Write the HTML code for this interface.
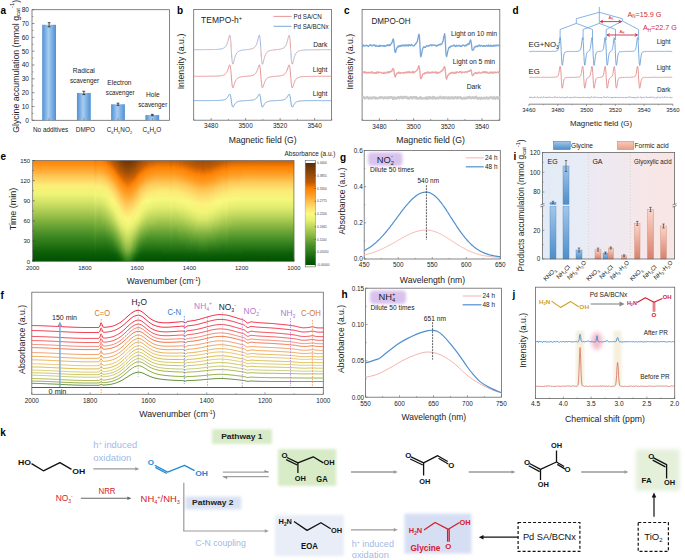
<!DOCTYPE html>
<html><head><meta charset="utf-8"><style>
html,body{margin:0;padding:0;background:#fff;}
svg{display:block;font-family:"Liberation Sans",sans-serif;}
</style></head><body>
<svg width="685" height="560" viewBox="0 0 685 560">
<defs>
<linearGradient id="gA" x1="0" x2="1" y1="0" y2="0">
<stop offset="0" stop-color="#4f8fd6"/><stop offset="0.45" stop-color="#a8cdf0"/><stop offset="1" stop-color="#4f8fd6"/>
</linearGradient>
<filter id="blur1" x="-50%" y="-50%" width="200%" height="200%"><feGaussianBlur stdDeviation="1.6"/></filter>
<filter id="blur2" x="-80%" y="-80%" width="260%" height="260%"><feGaussianBlur stdDeviation="2.2"/></filter>
<filter id="blur05" x="-50%" y="-50%" width="200%" height="200%"><feGaussianBlur stdDeviation="0.8"/></filter>
<linearGradient id="ibg1" x1="0" x2="1"><stop offset="0" stop-color="#e2ebf6"/><stop offset="1" stop-color="#e9ecf5"/></linearGradient>
<linearGradient id="ibg2" x1="0" x2="1"><stop offset="0" stop-color="#ece9f3"/><stop offset="1" stop-color="#f2e8ee"/></linearGradient>
<linearGradient id="ibg3" x1="0" x2="1"><stop offset="0" stop-color="#f5e7ea"/><stop offset="1" stop-color="#f8e6e4"/></linearGradient>
<linearGradient id="ibb" x1="0" x2="0" y1="0" y2="1"><stop offset="0" stop-color="#a2c6ea"/><stop offset="1" stop-color="#4e8ec8"/></linearGradient>
<linearGradient id="ibp" x1="0" x2="0" y1="0" y2="1"><stop offset="0" stop-color="#fbd6c8"/><stop offset="1" stop-color="#d8806c"/></linearGradient>
<linearGradient id="ibp2" x1="0" x2="0" y1="0" y2="1"><stop offset="0" stop-color="#f8c8b8"/><stop offset="1" stop-color="#e8a088"/></linearGradient>
<linearGradient id="h0" x2="0" y2="1"><stop offset="0" stop-color="#ff8001"/><stop offset="0.08" stop-color="#ffa129"/><stop offset="0.17" stop-color="#fecc5c"/><stop offset="0.25" stop-color="#fbef79"/><stop offset="0.33" stop-color="#eff476"/><stop offset="0.41" stop-color="#d3e368"/><stop offset="0.5" stop-color="#aecd55"/><stop offset="0.58" stop-color="#8ab742"/><stop offset="0.66" stop-color="#65a134"/><stop offset="0.74" stop-color="#428b25"/><stop offset="0.83" stop-color="#277516"/><stop offset="0.91" stop-color="#0e6008"/><stop offset="0.93" stop-color="#0a5c06"/><stop offset="0.96" stop-color="#065704"/><stop offset="0.98" stop-color="#035402"/><stop offset="1" stop-color="#005000"/></linearGradient><linearGradient id="h1" x2="0" y2="1"><stop offset="0" stop-color="#ff8001"/><stop offset="0.08" stop-color="#ffa129"/><stop offset="0.17" stop-color="#fecc5c"/><stop offset="0.25" stop-color="#fbef79"/><stop offset="0.33" stop-color="#eff476"/><stop offset="0.41" stop-color="#d3e468"/><stop offset="0.5" stop-color="#aecd55"/><stop offset="0.58" stop-color="#8ab842"/><stop offset="0.66" stop-color="#65a134"/><stop offset="0.74" stop-color="#428b25"/><stop offset="0.83" stop-color="#277516"/><stop offset="0.91" stop-color="#0e6008"/><stop offset="0.93" stop-color="#0a5c06"/><stop offset="0.96" stop-color="#065704"/><stop offset="0.98" stop-color="#035402"/><stop offset="1" stop-color="#005000"/></linearGradient><linearGradient id="h2" x2="0" y2="1"><stop offset="0" stop-color="#ff8000"/><stop offset="0.08" stop-color="#ffa129"/><stop offset="0.17" stop-color="#fecc5c"/><stop offset="0.25" stop-color="#fbef79"/><stop offset="0.33" stop-color="#eff476"/><stop offset="0.41" stop-color="#d3e468"/><stop offset="0.5" stop-color="#aecd55"/><stop offset="0.58" stop-color="#8ab842"/><stop offset="0.66" stop-color="#65a134"/><stop offset="0.74" stop-color="#428b25"/><stop offset="0.83" stop-color="#277516"/><stop offset="0.91" stop-color="#0e6008"/><stop offset="0.93" stop-color="#0a5c06"/><stop offset="0.96" stop-color="#065704"/><stop offset="0.98" stop-color="#035402"/><stop offset="1" stop-color="#005000"/></linearGradient><linearGradient id="h3" x2="0" y2="1"><stop offset="0" stop-color="#ff8000"/><stop offset="0.08" stop-color="#ffa129"/><stop offset="0.17" stop-color="#fecc5c"/><stop offset="0.25" stop-color="#fbef79"/><stop offset="0.33" stop-color="#eff476"/><stop offset="0.41" stop-color="#d3e368"/><stop offset="0.5" stop-color="#aecd55"/><stop offset="0.58" stop-color="#8ab842"/><stop offset="0.66" stop-color="#65a134"/><stop offset="0.74" stop-color="#428b25"/><stop offset="0.83" stop-color="#277516"/><stop offset="0.91" stop-color="#0e6008"/><stop offset="0.93" stop-color="#0a5c06"/><stop offset="0.96" stop-color="#065704"/><stop offset="0.98" stop-color="#035402"/><stop offset="1" stop-color="#005000"/></linearGradient><linearGradient id="h4" x2="0" y2="1"><stop offset="0" stop-color="#ff8000"/><stop offset="0.08" stop-color="#ffa129"/><stop offset="0.17" stop-color="#fecc5c"/><stop offset="0.25" stop-color="#fbef79"/><stop offset="0.33" stop-color="#eff476"/><stop offset="0.41" stop-color="#d3e368"/><stop offset="0.5" stop-color="#afce56"/><stop offset="0.58" stop-color="#8ab842"/><stop offset="0.66" stop-color="#65a134"/><stop offset="0.74" stop-color="#428b25"/><stop offset="0.83" stop-color="#277516"/><stop offset="0.91" stop-color="#0e6008"/><stop offset="0.93" stop-color="#0a5c06"/><stop offset="0.96" stop-color="#065704"/><stop offset="0.98" stop-color="#035402"/><stop offset="1" stop-color="#005000"/></linearGradient><linearGradient id="h5" x2="0" y2="1"><stop offset="0" stop-color="#ff8000"/><stop offset="0.08" stop-color="#ffa129"/><stop offset="0.17" stop-color="#fecc5c"/><stop offset="0.25" stop-color="#fbef79"/><stop offset="0.33" stop-color="#eff476"/><stop offset="0.41" stop-color="#d3e468"/><stop offset="0.5" stop-color="#afce56"/><stop offset="0.58" stop-color="#8ab842"/><stop offset="0.66" stop-color="#65a134"/><stop offset="0.74" stop-color="#428b25"/><stop offset="0.83" stop-color="#277516"/><stop offset="0.91" stop-color="#0e6008"/><stop offset="0.93" stop-color="#0a5c06"/><stop offset="0.96" stop-color="#065704"/><stop offset="0.98" stop-color="#035402"/><stop offset="1" stop-color="#005000"/></linearGradient><linearGradient id="h6" x2="0" y2="1"><stop offset="0" stop-color="#ff8000"/><stop offset="0.08" stop-color="#ffa129"/><stop offset="0.17" stop-color="#fecc5c"/><stop offset="0.25" stop-color="#fbef79"/><stop offset="0.33" stop-color="#eff476"/><stop offset="0.41" stop-color="#d3e468"/><stop offset="0.5" stop-color="#afce56"/><stop offset="0.58" stop-color="#8ab842"/><stop offset="0.66" stop-color="#65a134"/><stop offset="0.74" stop-color="#428b25"/><stop offset="0.83" stop-color="#277516"/><stop offset="0.91" stop-color="#0e6008"/><stop offset="0.93" stop-color="#0a5c06"/><stop offset="0.96" stop-color="#065704"/><stop offset="0.98" stop-color="#035402"/><stop offset="1" stop-color="#005000"/></linearGradient><linearGradient id="h7" x2="0" y2="1"><stop offset="0" stop-color="#ff8000"/><stop offset="0.08" stop-color="#ffa129"/><stop offset="0.17" stop-color="#fecc5c"/><stop offset="0.25" stop-color="#fbef79"/><stop offset="0.33" stop-color="#eff476"/><stop offset="0.41" stop-color="#d4e468"/><stop offset="0.5" stop-color="#afce56"/><stop offset="0.58" stop-color="#8ab842"/><stop offset="0.66" stop-color="#65a234"/><stop offset="0.75" stop-color="#428b25"/><stop offset="0.83" stop-color="#277516"/><stop offset="0.91" stop-color="#0e6008"/><stop offset="0.93" stop-color="#0a5c06"/><stop offset="0.96" stop-color="#065704"/><stop offset="0.98" stop-color="#035402"/><stop offset="1" stop-color="#005000"/></linearGradient><linearGradient id="h8" x2="0" y2="1"><stop offset="0" stop-color="#ff8000"/><stop offset="0" stop-color="#ff8000"/><stop offset="0.08" stop-color="#ffa129"/><stop offset="0.17" stop-color="#fecc5c"/><stop offset="0.25" stop-color="#fbef79"/><stop offset="0.33" stop-color="#eff476"/><stop offset="0.41" stop-color="#d4e468"/><stop offset="0.5" stop-color="#afce56"/><stop offset="0.58" stop-color="#8bb843"/><stop offset="0.66" stop-color="#65a134"/><stop offset="0.75" stop-color="#428b25"/><stop offset="0.83" stop-color="#277516"/><stop offset="0.91" stop-color="#0e6008"/><stop offset="0.93" stop-color="#0a5c06"/><stop offset="0.96" stop-color="#065704"/><stop offset="0.98" stop-color="#035402"/><stop offset="1" stop-color="#005000"/></linearGradient><linearGradient id="h9" x2="0" y2="1"><stop offset="0" stop-color="#fb7e00"/><stop offset="0.01" stop-color="#ff8000"/><stop offset="0.09" stop-color="#ffa22a"/><stop offset="0.17" stop-color="#fecc5c"/><stop offset="0.25" stop-color="#fbef79"/><stop offset="0.34" stop-color="#f0f477"/><stop offset="0.42" stop-color="#d4e468"/><stop offset="0.5" stop-color="#b0ce56"/><stop offset="0.58" stop-color="#8bb843"/><stop offset="0.67" stop-color="#66a234"/><stop offset="0.75" stop-color="#438c25"/><stop offset="0.83" stop-color="#287617"/><stop offset="0.91" stop-color="#0e6008"/><stop offset="0.93" stop-color="#0b5c06"/><stop offset="0.96" stop-color="#065704"/><stop offset="0.98" stop-color="#035402"/><stop offset="1" stop-color="#005000"/></linearGradient><linearGradient id="h10" x2="0" y2="1"><stop offset="0" stop-color="#ea7401"/><stop offset="0.03" stop-color="#ff8102"/><stop offset="0.11" stop-color="#ffa32b"/><stop offset="0.19" stop-color="#fecd5d"/><stop offset="0.27" stop-color="#fbef79"/><stop offset="0.35" stop-color="#f1f578"/><stop offset="0.43" stop-color="#d8e76a"/><stop offset="0.51" stop-color="#b5d159"/><stop offset="0.59" stop-color="#91bc45"/><stop offset="0.68" stop-color="#6ba536"/><stop offset="0.76" stop-color="#489028"/><stop offset="0.84" stop-color="#2b7918"/><stop offset="0.92" stop-color="#0e6008"/><stop offset="0.93" stop-color="#0c5d07"/><stop offset="0.96" stop-color="#075804"/><stop offset="0.98" stop-color="#045402"/><stop offset="1" stop-color="#005000"/></linearGradient><linearGradient id="h11" x2="0" y2="1"><stop offset="0" stop-color="#f47a01"/><stop offset="0.01" stop-color="#ff8101"/><stop offset="0.1" stop-color="#ffa22a"/><stop offset="0.18" stop-color="#fecd5d"/><stop offset="0.26" stop-color="#fbef79"/><stop offset="0.34" stop-color="#f0f577"/><stop offset="0.42" stop-color="#d6e569"/><stop offset="0.51" stop-color="#b2d058"/><stop offset="0.59" stop-color="#8eba44"/><stop offset="0.67" stop-color="#68a335"/><stop offset="0.75" stop-color="#448d26"/><stop offset="0.83" stop-color="#297717"/><stop offset="0.92" stop-color="#0e6008"/><stop offset="0.93" stop-color="#0b5c06"/><stop offset="0.96" stop-color="#075704"/><stop offset="0.98" stop-color="#035402"/><stop offset="1" stop-color="#005000"/></linearGradient><linearGradient id="h12" x2="0" y2="1"><stop offset="0" stop-color="#fb7e00"/><stop offset="0.01" stop-color="#ff8000"/><stop offset="0.09" stop-color="#ffa229"/><stop offset="0.17" stop-color="#fecc5c"/><stop offset="0.25" stop-color="#fbef79"/><stop offset="0.34" stop-color="#f0f477"/><stop offset="0.42" stop-color="#d4e468"/><stop offset="0.5" stop-color="#b0cf57"/><stop offset="0.58" stop-color="#8cb943"/><stop offset="0.67" stop-color="#66a234"/><stop offset="0.75" stop-color="#428b25"/><stop offset="0.83" stop-color="#277516"/><stop offset="0.91" stop-color="#0e6008"/><stop offset="0.93" stop-color="#0a5c06"/><stop offset="0.96" stop-color="#065704"/><stop offset="0.98" stop-color="#035402"/><stop offset="1" stop-color="#005000"/></linearGradient><linearGradient id="h13" x2="0" y2="1"><stop offset="0" stop-color="#fa7d00"/><stop offset="0.01" stop-color="#ff8001"/><stop offset="0.09" stop-color="#ffa22a"/><stop offset="0.17" stop-color="#fecc5c"/><stop offset="0.25" stop-color="#fbef79"/><stop offset="0.34" stop-color="#f0f477"/><stop offset="0.42" stop-color="#d5e568"/><stop offset="0.5" stop-color="#b1cf57"/><stop offset="0.58" stop-color="#8cb943"/><stop offset="0.67" stop-color="#66a234"/><stop offset="0.75" stop-color="#428b25"/><stop offset="0.83" stop-color="#277516"/><stop offset="0.91" stop-color="#0e6008"/><stop offset="0.93" stop-color="#0a5c06"/><stop offset="0.96" stop-color="#065704"/><stop offset="0.98" stop-color="#035402"/><stop offset="1" stop-color="#005000"/></linearGradient><linearGradient id="h14" x2="0" y2="1"><stop offset="0" stop-color="#f87c00"/><stop offset="0.01" stop-color="#ff8101"/><stop offset="0.09" stop-color="#ffa22a"/><stop offset="0.17" stop-color="#fecc5c"/><stop offset="0.26" stop-color="#fbef79"/><stop offset="0.34" stop-color="#f0f477"/><stop offset="0.42" stop-color="#d5e569"/><stop offset="0.5" stop-color="#b1cf57"/><stop offset="0.58" stop-color="#8db944"/><stop offset="0.67" stop-color="#66a234"/><stop offset="0.75" stop-color="#428b25"/><stop offset="0.83" stop-color="#277516"/><stop offset="0.91" stop-color="#0e6008"/><stop offset="0.93" stop-color="#0a5c06"/><stop offset="0.96" stop-color="#065704"/><stop offset="0.98" stop-color="#035402"/><stop offset="1" stop-color="#005000"/></linearGradient><linearGradient id="h15" x2="0" y2="1"><stop offset="0" stop-color="#f67b01"/><stop offset="0.01" stop-color="#ff8101"/><stop offset="0.09" stop-color="#ffa22a"/><stop offset="0.17" stop-color="#fecc5c"/><stop offset="0.26" stop-color="#fbef79"/><stop offset="0.34" stop-color="#f0f577"/><stop offset="0.42" stop-color="#d6e569"/><stop offset="0.5" stop-color="#b2cf57"/><stop offset="0.58" stop-color="#8eba44"/><stop offset="0.67" stop-color="#67a234"/><stop offset="0.75" stop-color="#428b25"/><stop offset="0.83" stop-color="#277516"/><stop offset="0.91" stop-color="#0e6008"/><stop offset="0.93" stop-color="#0a5c06"/><stop offset="0.96" stop-color="#065704"/><stop offset="0.98" stop-color="#035402"/><stop offset="1" stop-color="#005000"/></linearGradient><linearGradient id="h16" x2="0" y2="1"><stop offset="0" stop-color="#f47901"/><stop offset="0.01" stop-color="#ff8101"/><stop offset="0.1" stop-color="#ffa22a"/><stop offset="0.18" stop-color="#fecc5c"/><stop offset="0.26" stop-color="#fbef79"/><stop offset="0.34" stop-color="#f1f578"/><stop offset="0.42" stop-color="#d7e669"/><stop offset="0.5" stop-color="#b3d058"/><stop offset="0.58" stop-color="#8fbb44"/><stop offset="0.67" stop-color="#67a335"/><stop offset="0.75" stop-color="#428b25"/><stop offset="0.83" stop-color="#277516"/><stop offset="0.91" stop-color="#0e6008"/><stop offset="0.93" stop-color="#0a5c06"/><stop offset="0.96" stop-color="#065704"/><stop offset="0.98" stop-color="#035402"/><stop offset="1" stop-color="#005000"/></linearGradient><linearGradient id="h17" x2="0" y2="1"><stop offset="0" stop-color="#f17801"/><stop offset="0.02" stop-color="#ff8101"/><stop offset="0.1" stop-color="#ffa22a"/><stop offset="0.18" stop-color="#fecc5c"/><stop offset="0.26" stop-color="#fbee79"/><stop offset="0.34" stop-color="#f1f578"/><stop offset="0.42" stop-color="#d8e66a"/><stop offset="0.51" stop-color="#b4d159"/><stop offset="0.59" stop-color="#90bb45"/><stop offset="0.67" stop-color="#68a335"/><stop offset="0.75" stop-color="#428b25"/><stop offset="0.83" stop-color="#277516"/><stop offset="0.91" stop-color="#0e6008"/><stop offset="0.93" stop-color="#0a5c06"/><stop offset="0.96" stop-color="#065704"/><stop offset="0.98" stop-color="#035402"/><stop offset="1" stop-color="#005000"/></linearGradient><linearGradient id="h18" x2="0" y2="1"><stop offset="0" stop-color="#ee7601"/><stop offset="0.02" stop-color="#ff8101"/><stop offset="0.1" stop-color="#ffa22a"/><stop offset="0.18" stop-color="#fecc5c"/><stop offset="0.27" stop-color="#fbee79"/><stop offset="0.35" stop-color="#f1f578"/><stop offset="0.43" stop-color="#d9e76a"/><stop offset="0.51" stop-color="#b5d25a"/><stop offset="0.59" stop-color="#91bc45"/><stop offset="0.67" stop-color="#69a435"/><stop offset="0.75" stop-color="#438c25"/><stop offset="0.83" stop-color="#267516"/><stop offset="0.91" stop-color="#0e6008"/><stop offset="0.93" stop-color="#0a5c06"/><stop offset="0.96" stop-color="#065704"/><stop offset="0.98" stop-color="#035402"/><stop offset="1" stop-color="#005000"/></linearGradient><linearGradient id="h19" x2="0" y2="1"><stop offset="0" stop-color="#ea7301"/><stop offset="0.03" stop-color="#ff8102"/><stop offset="0.11" stop-color="#ffa22a"/><stop offset="0.19" stop-color="#fecc5c"/><stop offset="0.27" stop-color="#fbee78"/><stop offset="0.35" stop-color="#f2f579"/><stop offset="0.43" stop-color="#dae86b"/><stop offset="0.51" stop-color="#b7d25a"/><stop offset="0.59" stop-color="#93bd46"/><stop offset="0.67" stop-color="#6aa436"/><stop offset="0.75" stop-color="#438c25"/><stop offset="0.83" stop-color="#267516"/><stop offset="0.91" stop-color="#0e6008"/><stop offset="0.93" stop-color="#0a5c06"/><stop offset="0.96" stop-color="#065704"/><stop offset="0.98" stop-color="#035402"/><stop offset="1" stop-color="#005000"/></linearGradient><linearGradient id="h20" x2="0" y2="1"><stop offset="0" stop-color="#e57002"/><stop offset="0.03" stop-color="#ff8202"/><stop offset="0.11" stop-color="#ffa22a"/><stop offset="0.19" stop-color="#fecc5c"/><stop offset="0.27" stop-color="#fbed78"/><stop offset="0.35" stop-color="#f2f679"/><stop offset="0.43" stop-color="#dce96b"/><stop offset="0.51" stop-color="#b9d45c"/><stop offset="0.59" stop-color="#95be47"/><stop offset="0.67" stop-color="#6ba536"/><stop offset="0.75" stop-color="#438c25"/><stop offset="0.83" stop-color="#277516"/><stop offset="0.91" stop-color="#0e6008"/><stop offset="0.93" stop-color="#0a5c06"/><stop offset="0.96" stop-color="#065704"/><stop offset="0.98" stop-color="#035402"/><stop offset="1" stop-color="#005000"/></linearGradient><linearGradient id="h21" x2="0" y2="1"><stop offset="0" stop-color="#df6d02"/><stop offset="0.04" stop-color="#ff8202"/><stop offset="0.12" stop-color="#ffa22a"/><stop offset="0.2" stop-color="#fecb5b"/><stop offset="0.28" stop-color="#fbed78"/><stop offset="0.36" stop-color="#f3f67a"/><stop offset="0.44" stop-color="#deea6c"/><stop offset="0.52" stop-color="#bbd55d"/><stop offset="0.59" stop-color="#98c048"/><stop offset="0.68" stop-color="#6da637"/><stop offset="0.75" stop-color="#448d26"/><stop offset="0.83" stop-color="#277516"/><stop offset="0.91" stop-color="#0e5f08"/><stop offset="0.93" stop-color="#0a5c06"/><stop offset="0.96" stop-color="#065704"/><stop offset="0.98" stop-color="#035402"/><stop offset="1" stop-color="#005000"/></linearGradient><linearGradient id="h22" x2="0" y2="1"><stop offset="0" stop-color="#d96902"/><stop offset="0.05" stop-color="#ff8203"/><stop offset="0.13" stop-color="#ffa22a"/><stop offset="0.2" stop-color="#fecb5b"/><stop offset="0.28" stop-color="#fcec77"/><stop offset="0.36" stop-color="#f4f77b"/><stop offset="0.44" stop-color="#e0eb6d"/><stop offset="0.52" stop-color="#bdd65e"/><stop offset="0.6" stop-color="#9ac149"/><stop offset="0.68" stop-color="#6fa738"/><stop offset="0.76" stop-color="#458e26"/><stop offset="0.83" stop-color="#277616"/><stop offset="0.91" stop-color="#0e6008"/><stop offset="0.93" stop-color="#0a5c06"/><stop offset="0.96" stop-color="#065704"/><stop offset="0.98" stop-color="#035402"/><stop offset="1" stop-color="#005000"/></linearGradient><linearGradient id="h23" x2="0" y2="1"><stop offset="0" stop-color="#d26503"/><stop offset="0.06" stop-color="#ff8203"/><stop offset="0.13" stop-color="#ffa22a"/><stop offset="0.21" stop-color="#fecb5b"/><stop offset="0.29" stop-color="#fceb77"/><stop offset="0.37" stop-color="#f5f77b"/><stop offset="0.45" stop-color="#e2ed6e"/><stop offset="0.52" stop-color="#c0d860"/><stop offset="0.6" stop-color="#9dc34b"/><stop offset="0.68" stop-color="#71a938"/><stop offset="0.76" stop-color="#468e27"/><stop offset="0.83" stop-color="#277617"/><stop offset="0.91" stop-color="#0e6008"/><stop offset="0.93" stop-color="#0a5c06"/><stop offset="0.96" stop-color="#065704"/><stop offset="0.98" stop-color="#035402"/><stop offset="1" stop-color="#005000"/></linearGradient><linearGradient id="h24" x2="0" y2="1"><stop offset="0" stop-color="#ca6003"/><stop offset="0.07" stop-color="#ff8203"/><stop offset="0.14" stop-color="#ffa22a"/><stop offset="0.22" stop-color="#feca5a"/><stop offset="0.3" stop-color="#fcea76"/><stop offset="0.37" stop-color="#f6f87c"/><stop offset="0.45" stop-color="#e5ee6f"/><stop offset="0.53" stop-color="#c3da61"/><stop offset="0.6" stop-color="#a1c54d"/><stop offset="0.68" stop-color="#74aa39"/><stop offset="0.76" stop-color="#479028"/><stop offset="0.84" stop-color="#287617"/><stop offset="0.91" stop-color="#0e6008"/><stop offset="0.93" stop-color="#0a5c06"/><stop offset="0.96" stop-color="#065704"/><stop offset="0.98" stop-color="#035402"/><stop offset="1" stop-color="#005000"/></linearGradient><linearGradient id="h25" x2="0" y2="1"><stop offset="0" stop-color="#c25b04"/><stop offset="0.07" stop-color="#ff8303"/><stop offset="0.15" stop-color="#ffa129"/><stop offset="0.23" stop-color="#feca5a"/><stop offset="0.3" stop-color="#fce875"/><stop offset="0.38" stop-color="#f7f87d"/><stop offset="0.46" stop-color="#e8f070"/><stop offset="0.53" stop-color="#c6dc62"/><stop offset="0.61" stop-color="#a4c74f"/><stop offset="0.69" stop-color="#77ac3b"/><stop offset="0.76" stop-color="#499129"/><stop offset="0.84" stop-color="#297717"/><stop offset="0.92" stop-color="#0e6008"/><stop offset="0.93" stop-color="#0b5c06"/><stop offset="0.96" stop-color="#065704"/><stop offset="0.98" stop-color="#035402"/><stop offset="1" stop-color="#005000"/></linearGradient><linearGradient id="h26" x2="0" y2="1"><stop offset="0" stop-color="#bb5804"/><stop offset="0.01" stop-color="#c15a04"/><stop offset="0.09" stop-color="#ff8203"/><stop offset="0.16" stop-color="#ffa129"/><stop offset="0.24" stop-color="#fec959"/><stop offset="0.31" stop-color="#fce774"/><stop offset="0.39" stop-color="#f8f97f"/><stop offset="0.46" stop-color="#e9f171"/><stop offset="0.54" stop-color="#c9de64"/><stop offset="0.61" stop-color="#a7c951"/><stop offset="0.69" stop-color="#7aae3c"/><stop offset="0.77" stop-color="#4c922a"/><stop offset="0.84" stop-color="#2a7818"/><stop offset="0.92" stop-color="#0e6008"/><stop offset="0.93" stop-color="#0b5c06"/><stop offset="0.96" stop-color="#065704"/><stop offset="0.98" stop-color="#035402"/><stop offset="1" stop-color="#005000"/></linearGradient><linearGradient id="h27" x2="0" y2="1"><stop offset="0" stop-color="#b55605"/><stop offset="0.02" stop-color="#c15b04"/><stop offset="0.1" stop-color="#ff8303"/><stop offset="0.17" stop-color="#ffa128"/><stop offset="0.24" stop-color="#ffc858"/><stop offset="0.32" stop-color="#fce573"/><stop offset="0.4" stop-color="#fafa80"/><stop offset="0.47" stop-color="#ebf272"/><stop offset="0.55" stop-color="#cde065"/><stop offset="0.62" stop-color="#aacb53"/><stop offset="0.69" stop-color="#7db03d"/><stop offset="0.77" stop-color="#4f942b"/><stop offset="0.84" stop-color="#2c7919"/><stop offset="0.92" stop-color="#0e6008"/><stop offset="0.93" stop-color="#0b5d06"/><stop offset="0.96" stop-color="#075804"/><stop offset="0.98" stop-color="#035402"/><stop offset="1" stop-color="#005000"/></linearGradient><linearGradient id="h28" x2="0" y2="1"><stop offset="0" stop-color="#af5406"/><stop offset="0.03" stop-color="#c25b04"/><stop offset="0.11" stop-color="#ff8303"/><stop offset="0.18" stop-color="#ffa028"/><stop offset="0.26" stop-color="#ffc757"/><stop offset="0.33" stop-color="#fde372"/><stop offset="0.4" stop-color="#faf87f"/><stop offset="0.48" stop-color="#ecf274"/><stop offset="0.55" stop-color="#d1e267"/><stop offset="0.62" stop-color="#adcd55"/><stop offset="0.7" stop-color="#80b23f"/><stop offset="0.77" stop-color="#52962c"/><stop offset="0.85" stop-color="#2d7a1a"/><stop offset="0.92" stop-color="#0e6008"/><stop offset="0.93" stop-color="#0c5d07"/><stop offset="0.96" stop-color="#075804"/><stop offset="0.98" stop-color="#035402"/><stop offset="1" stop-color="#005000"/></linearGradient><linearGradient id="h29" x2="0" y2="1"><stop offset="0" stop-color="#a85107"/><stop offset="0.05" stop-color="#c25b04"/><stop offset="0.12" stop-color="#ff8203"/><stop offset="0.19" stop-color="#ffa027"/><stop offset="0.27" stop-color="#ffc656"/><stop offset="0.34" stop-color="#fde171"/><stop offset="0.41" stop-color="#faf67e"/><stop offset="0.49" stop-color="#eef375"/><stop offset="0.56" stop-color="#d5e568"/><stop offset="0.63" stop-color="#b0cf57"/><stop offset="0.71" stop-color="#83b440"/><stop offset="0.78" stop-color="#55982d"/><stop offset="0.85" stop-color="#2f7c1b"/><stop offset="0.93" stop-color="#0e6008"/><stop offset="0.93" stop-color="#0d5e07"/><stop offset="0.96" stop-color="#075804"/><stop offset="0.98" stop-color="#045402"/><stop offset="1" stop-color="#005000"/></linearGradient><linearGradient id="h30" x2="0" y2="1"><stop offset="0" stop-color="#a14e07"/><stop offset="0.06" stop-color="#c25b04"/><stop offset="0.13" stop-color="#ff8203"/><stop offset="0.2" stop-color="#ff9f26"/><stop offset="0.28" stop-color="#ffc656"/><stop offset="0.35" stop-color="#fde070"/><stop offset="0.42" stop-color="#fbf47d"/><stop offset="0.5" stop-color="#eff477"/><stop offset="0.57" stop-color="#d8e76a"/><stop offset="0.64" stop-color="#b3d058"/><stop offset="0.71" stop-color="#87b641"/><stop offset="0.79" stop-color="#589a2f"/><stop offset="0.86" stop-color="#317d1c"/><stop offset="0.93" stop-color="#0e6008"/><stop offset="0.93" stop-color="#0e6008"/><stop offset="0.96" stop-color="#085905"/><stop offset="0.98" stop-color="#045502"/><stop offset="1" stop-color="#015100"/></linearGradient><linearGradient id="h31" x2="0" y2="1"><stop offset="0" stop-color="#994c08"/><stop offset="0" stop-color="#9a4c08"/><stop offset="0.07" stop-color="#c25b04"/><stop offset="0.15" stop-color="#ff8203"/><stop offset="0.22" stop-color="#ff9f26"/><stop offset="0.29" stop-color="#ffc454"/><stop offset="0.36" stop-color="#fddd6d"/><stop offset="0.43" stop-color="#fbf37c"/><stop offset="0.51" stop-color="#f1f578"/><stop offset="0.58" stop-color="#dce96b"/><stop offset="0.65" stop-color="#b5d25a"/><stop offset="0.72" stop-color="#89b742"/><stop offset="0.8" stop-color="#5b9b30"/><stop offset="0.87" stop-color="#327e1c"/><stop offset="0.93" stop-color="#106209"/><stop offset="0.96" stop-color="#095a05"/><stop offset="0.98" stop-color="#055603"/><stop offset="1" stop-color="#015101"/></linearGradient><linearGradient id="h32" x2="0" y2="1"><stop offset="0" stop-color="#934908"/><stop offset="0.01" stop-color="#9a4c08"/><stop offset="0.09" stop-color="#c35c04"/><stop offset="0.16" stop-color="#ff8203"/><stop offset="0.23" stop-color="#ff9f26"/><stop offset="0.3" stop-color="#ffc252"/><stop offset="0.38" stop-color="#fddc6c"/><stop offset="0.45" stop-color="#fbf17b"/><stop offset="0.52" stop-color="#f2f579"/><stop offset="0.59" stop-color="#deea6c"/><stop offset="0.66" stop-color="#b7d25a"/><stop offset="0.73" stop-color="#8bb843"/><stop offset="0.81" stop-color="#5d9d31"/><stop offset="0.88" stop-color="#337f1d"/><stop offset="0.93" stop-color="#15660c"/><stop offset="0.96" stop-color="#0b5c06"/><stop offset="0.98" stop-color="#065703"/><stop offset="1" stop-color="#025201"/></linearGradient><linearGradient id="h33" x2="0" y2="1"><stop offset="0" stop-color="#8d4608"/><stop offset="0.03" stop-color="#9b4c08"/><stop offset="0.1" stop-color="#c35c04"/><stop offset="0.17" stop-color="#ff8203"/><stop offset="0.24" stop-color="#ff9e26"/><stop offset="0.32" stop-color="#ffc151"/><stop offset="0.39" stop-color="#fdda6a"/><stop offset="0.46" stop-color="#fbf07a"/><stop offset="0.53" stop-color="#f3f679"/><stop offset="0.6" stop-color="#e0eb6d"/><stop offset="0.68" stop-color="#b7d35b"/><stop offset="0.75" stop-color="#8cb943"/><stop offset="0.82" stop-color="#5e9d31"/><stop offset="0.89" stop-color="#337f1d"/><stop offset="0.93" stop-color="#1a6a0f"/><stop offset="0.96" stop-color="#0d5f07"/><stop offset="0.98" stop-color="#085904"/><stop offset="1" stop-color="#035302"/></linearGradient><linearGradient id="h34" x2="0" y2="1"><stop offset="0" stop-color="#874308"/><stop offset="0.04" stop-color="#9b4c08"/><stop offset="0.12" stop-color="#c45c04"/><stop offset="0.19" stop-color="#ff8203"/><stop offset="0.26" stop-color="#ff9f27"/><stop offset="0.33" stop-color="#ffc050"/><stop offset="0.4" stop-color="#fdda6a"/><stop offset="0.47" stop-color="#fbf07a"/><stop offset="0.55" stop-color="#f3f67a"/><stop offset="0.62" stop-color="#dfeb6d"/><stop offset="0.69" stop-color="#b7d35b"/><stop offset="0.76" stop-color="#8db943"/><stop offset="0.84" stop-color="#5f9e31"/><stop offset="0.91" stop-color="#307d1b"/><stop offset="0.93" stop-color="#207012"/><stop offset="0.96" stop-color="#11620a"/><stop offset="0.98" stop-color="#0a5b06"/><stop offset="1" stop-color="#055503"/></linearGradient><linearGradient id="h35" x2="0" y2="1"><stop offset="0" stop-color="#814008"/><stop offset="0.06" stop-color="#9b4c08"/><stop offset="0.13" stop-color="#c55d04"/><stop offset="0.2" stop-color="#ff8304"/><stop offset="0.27" stop-color="#ffa128"/><stop offset="0.35" stop-color="#ffc050"/><stop offset="0.42" stop-color="#fdd969"/><stop offset="0.49" stop-color="#fbef7a"/><stop offset="0.56" stop-color="#f3f67a"/><stop offset="0.64" stop-color="#deea6c"/><stop offset="0.71" stop-color="#b6d25a"/><stop offset="0.78" stop-color="#8cb943"/><stop offset="0.85" stop-color="#5e9d31"/><stop offset="0.93" stop-color="#2b7919"/><stop offset="0.93" stop-color="#287617"/><stop offset="0.96" stop-color="#17680d"/><stop offset="0.98" stop-color="#0d5e07"/><stop offset="1" stop-color="#075804"/></linearGradient><linearGradient id="h36" x2="0" y2="1"><stop offset="0" stop-color="#7c3d08"/><stop offset="0.07" stop-color="#9c4d08"/><stop offset="0.14" stop-color="#c75e04"/><stop offset="0.21" stop-color="#ff8405"/><stop offset="0.29" stop-color="#ffa129"/><stop offset="0.36" stop-color="#ffc050"/><stop offset="0.43" stop-color="#fdda6a"/><stop offset="0.51" stop-color="#fbf07a"/><stop offset="0.58" stop-color="#f2f679"/><stop offset="0.66" stop-color="#dbe86b"/><stop offset="0.73" stop-color="#b4d159"/><stop offset="0.8" stop-color="#8bb843"/><stop offset="0.88" stop-color="#5d9d30"/><stop offset="0.93" stop-color="#307d1b"/><stop offset="0.96" stop-color="#1e6e11"/><stop offset="0.98" stop-color="#12630a"/><stop offset="1" stop-color="#0a5b06"/></linearGradient><linearGradient id="h37" x2="0" y2="1"><stop offset="0" stop-color="#773b08"/><stop offset="0.08" stop-color="#9d4d08"/><stop offset="0.15" stop-color="#c95f03"/><stop offset="0.23" stop-color="#ff8607"/><stop offset="0.3" stop-color="#ffa22a"/><stop offset="0.38" stop-color="#ffc151"/><stop offset="0.45" stop-color="#fddb6b"/><stop offset="0.53" stop-color="#fbf17b"/><stop offset="0.6" stop-color="#f1f578"/><stop offset="0.68" stop-color="#d8e76a"/><stop offset="0.75" stop-color="#b2cf57"/><stop offset="0.82" stop-color="#89b742"/><stop offset="0.9" stop-color="#589a2e"/><stop offset="0.93" stop-color="#3a8420"/><stop offset="0.96" stop-color="#277516"/><stop offset="0.98" stop-color="#196a0f"/><stop offset="1" stop-color="#0d5f08"/></linearGradient><linearGradient id="h38" x2="0" y2="1"><stop offset="0" stop-color="#733908"/><stop offset="0.09" stop-color="#9e4d08"/><stop offset="0.17" stop-color="#cc6103"/><stop offset="0.24" stop-color="#ff8709"/><stop offset="0.32" stop-color="#ffa32b"/><stop offset="0.39" stop-color="#ffc252"/><stop offset="0.47" stop-color="#fddc6c"/><stop offset="0.54" stop-color="#fbf37c"/><stop offset="0.62" stop-color="#f0f477"/><stop offset="0.69" stop-color="#d5e568"/><stop offset="0.77" stop-color="#afce56"/><stop offset="0.84" stop-color="#88b641"/><stop offset="0.92" stop-color="#4e942a"/><stop offset="0.93" stop-color="#438c25"/><stop offset="0.96" stop-color="#2f7c1b"/><stop offset="0.98" stop-color="#217113"/><stop offset="1" stop-color="#14650b"/></linearGradient><linearGradient id="h39" x2="0" y2="1"><stop offset="0" stop-color="#703708"/><stop offset="0.1" stop-color="#9f4e07"/><stop offset="0.18" stop-color="#cf6303"/><stop offset="0.25" stop-color="#ff890b"/><stop offset="0.33" stop-color="#ffa42d"/><stop offset="0.41" stop-color="#ffc353"/><stop offset="0.48" stop-color="#fdde6e"/><stop offset="0.56" stop-color="#fbf57d"/><stop offset="0.64" stop-color="#eef376"/><stop offset="0.71" stop-color="#d2e367"/><stop offset="0.79" stop-color="#adcd55"/><stop offset="0.86" stop-color="#86b541"/><stop offset="0.93" stop-color="#4c932a"/><stop offset="0.96" stop-color="#38831f"/><stop offset="0.98" stop-color="#297717"/><stop offset="1" stop-color="#1c6c10"/></linearGradient><linearGradient id="h40" x2="0" y2="1"><stop offset="0" stop-color="#6d3508"/><stop offset="0.11" stop-color="#a04e07"/><stop offset="0.19" stop-color="#d16503"/><stop offset="0.26" stop-color="#ff8a0c"/><stop offset="0.34" stop-color="#ffa52e"/><stop offset="0.42" stop-color="#ffc555"/><stop offset="0.5" stop-color="#fde070"/><stop offset="0.57" stop-color="#faf67e"/><stop offset="0.65" stop-color="#edf374"/><stop offset="0.73" stop-color="#d0e166"/><stop offset="0.81" stop-color="#accc54"/><stop offset="0.88" stop-color="#86b541"/><stop offset="0.93" stop-color="#56982e"/><stop offset="0.96" stop-color="#3f8923"/><stop offset="0.98" stop-color="#307d1b"/><stop offset="1" stop-color="#227114"/></linearGradient><linearGradient id="h41" x2="0" y2="1"><stop offset="0" stop-color="#6b3508"/><stop offset="0.12" stop-color="#a14f07"/><stop offset="0.19" stop-color="#d36603"/><stop offset="0.27" stop-color="#ff8b0e"/><stop offset="0.35" stop-color="#ffa730"/><stop offset="0.43" stop-color="#ffc656"/><stop offset="0.51" stop-color="#fde171"/><stop offset="0.58" stop-color="#faf87f"/><stop offset="0.66" stop-color="#ecf274"/><stop offset="0.74" stop-color="#cee066"/><stop offset="0.82" stop-color="#aacb53"/><stop offset="0.9" stop-color="#81b23f"/><stop offset="0.93" stop-color="#5d9c30"/><stop offset="0.96" stop-color="#448d26"/><stop offset="0.98" stop-color="#36811e"/><stop offset="1" stop-color="#277616"/></linearGradient><linearGradient id="h42" x2="0" y2="1"><stop offset="0" stop-color="#6a3408"/><stop offset="0.12" stop-color="#a14f07"/><stop offset="0.2" stop-color="#d46603"/><stop offset="0.28" stop-color="#ff8c0f"/><stop offset="0.35" stop-color="#ffa731"/><stop offset="0.43" stop-color="#ffc757"/><stop offset="0.51" stop-color="#fde271"/><stop offset="0.59" stop-color="#faf97f"/><stop offset="0.67" stop-color="#ebf273"/><stop offset="0.75" stop-color="#cde065"/><stop offset="0.82" stop-color="#aacb53"/><stop offset="0.9" stop-color="#7eb13e"/><stop offset="0.93" stop-color="#609f32"/><stop offset="0.96" stop-color="#478f27"/><stop offset="0.98" stop-color="#388320"/><stop offset="1" stop-color="#2a7818"/></linearGradient><linearGradient id="h43" x2="0" y2="1"><stop offset="0" stop-color="#6b3408"/><stop offset="0.12" stop-color="#a14f07"/><stop offset="0.19" stop-color="#d46603"/><stop offset="0.27" stop-color="#ff8b0e"/><stop offset="0.35" stop-color="#ffa630"/><stop offset="0.43" stop-color="#ffc656"/><stop offset="0.51" stop-color="#fde171"/><stop offset="0.58" stop-color="#faf87f"/><stop offset="0.66" stop-color="#ecf274"/><stop offset="0.74" stop-color="#cee065"/><stop offset="0.82" stop-color="#aacb53"/><stop offset="0.9" stop-color="#81b23f"/><stop offset="0.93" stop-color="#5d9d30"/><stop offset="0.96" stop-color="#448d26"/><stop offset="0.98" stop-color="#36811e"/><stop offset="1" stop-color="#277616"/></linearGradient><linearGradient id="h44" x2="0" y2="1"><stop offset="0" stop-color="#6c3508"/><stop offset="0.11" stop-color="#a04e07"/><stop offset="0.19" stop-color="#d16403"/><stop offset="0.27" stop-color="#ff8a0c"/><stop offset="0.34" stop-color="#ffa52e"/><stop offset="0.42" stop-color="#ffc555"/><stop offset="0.5" stop-color="#fde070"/><stop offset="0.57" stop-color="#faf67e"/><stop offset="0.65" stop-color="#edf374"/><stop offset="0.73" stop-color="#d0e166"/><stop offset="0.81" stop-color="#accc54"/><stop offset="0.88" stop-color="#86b541"/><stop offset="0.93" stop-color="#56982e"/><stop offset="0.96" stop-color="#3f8923"/><stop offset="0.98" stop-color="#307d1b"/><stop offset="1" stop-color="#227114"/></linearGradient><linearGradient id="h45" x2="0" y2="1"><stop offset="0" stop-color="#6f3608"/><stop offset="0.1" stop-color="#9f4e07"/><stop offset="0.18" stop-color="#ce6303"/><stop offset="0.26" stop-color="#ff890b"/><stop offset="0.33" stop-color="#ffa42c"/><stop offset="0.41" stop-color="#ffc353"/><stop offset="0.48" stop-color="#fdde6e"/><stop offset="0.56" stop-color="#fbf47c"/><stop offset="0.64" stop-color="#eef476"/><stop offset="0.71" stop-color="#d2e367"/><stop offset="0.79" stop-color="#adcd55"/><stop offset="0.87" stop-color="#86b541"/><stop offset="0.93" stop-color="#4d932a"/><stop offset="0.96" stop-color="#38831f"/><stop offset="0.98" stop-color="#297717"/><stop offset="1" stop-color="#1c6c10"/></linearGradient><linearGradient id="h46" x2="0" y2="1"><stop offset="0" stop-color="#723808"/><stop offset="0.1" stop-color="#9e4d08"/><stop offset="0.17" stop-color="#cc6103"/><stop offset="0.24" stop-color="#ff8709"/><stop offset="0.32" stop-color="#ffa22a"/><stop offset="0.4" stop-color="#ffc151"/><stop offset="0.47" stop-color="#fddc6c"/><stop offset="0.55" stop-color="#fbf27b"/><stop offset="0.62" stop-color="#f0f577"/><stop offset="0.69" stop-color="#d6e569"/><stop offset="0.77" stop-color="#b0ce56"/><stop offset="0.85" stop-color="#88b641"/><stop offset="0.92" stop-color="#4e942a"/><stop offset="0.93" stop-color="#438c25"/><stop offset="0.96" stop-color="#2f7c1b"/><stop offset="0.98" stop-color="#217113"/><stop offset="1" stop-color="#14650b"/></linearGradient><linearGradient id="h47" x2="0" y2="1"><stop offset="0" stop-color="#753908"/><stop offset="0.09" stop-color="#9d4d08"/><stop offset="0.16" stop-color="#c95f03"/><stop offset="0.23" stop-color="#ff8506"/><stop offset="0.31" stop-color="#ffa128"/><stop offset="0.38" stop-color="#ffc050"/><stop offset="0.46" stop-color="#fdda6a"/><stop offset="0.53" stop-color="#fbf07a"/><stop offset="0.6" stop-color="#f2f679"/><stop offset="0.68" stop-color="#d9e76a"/><stop offset="0.75" stop-color="#b3d058"/><stop offset="0.82" stop-color="#89b742"/><stop offset="0.9" stop-color="#57992e"/><stop offset="0.93" stop-color="#3a8520"/><stop offset="0.96" stop-color="#277516"/><stop offset="0.98" stop-color="#1a6a0f"/><stop offset="1" stop-color="#0d5f08"/></linearGradient><linearGradient id="h48" x2="0" y2="1"><stop offset="0" stop-color="#793b08"/><stop offset="0.07" stop-color="#9c4d08"/><stop offset="0.15" stop-color="#c65e04"/><stop offset="0.22" stop-color="#ff8405"/><stop offset="0.29" stop-color="#ffa027"/><stop offset="0.37" stop-color="#ffbe4e"/><stop offset="0.44" stop-color="#fdd868"/><stop offset="0.51" stop-color="#fbef79"/><stop offset="0.58" stop-color="#f3f67a"/><stop offset="0.66" stop-color="#dde96c"/><stop offset="0.73" stop-color="#b5d25a"/><stop offset="0.8" stop-color="#8bb843"/><stop offset="0.88" stop-color="#5e9d31"/><stop offset="0.93" stop-color="#317d1c"/><stop offset="0.96" stop-color="#1f6e12"/><stop offset="0.98" stop-color="#12630a"/><stop offset="1" stop-color="#0a5b06"/></linearGradient><linearGradient id="h49" x2="0" y2="1"><stop offset="0" stop-color="#7d3e08"/><stop offset="0.07" stop-color="#9b4c08"/><stop offset="0.14" stop-color="#c45d04"/><stop offset="0.21" stop-color="#ff8303"/><stop offset="0.28" stop-color="#ff9f27"/><stop offset="0.35" stop-color="#ffbe4d"/><stop offset="0.42" stop-color="#fed767"/><stop offset="0.5" stop-color="#fbee78"/><stop offset="0.57" stop-color="#f4f77b"/><stop offset="0.64" stop-color="#e0eb6d"/><stop offset="0.71" stop-color="#b8d35b"/><stop offset="0.79" stop-color="#8db944"/><stop offset="0.86" stop-color="#5f9e31"/><stop offset="0.93" stop-color="#2b7919"/><stop offset="0.93" stop-color="#287617"/><stop offset="0.96" stop-color="#17680d"/><stop offset="0.98" stop-color="#0d5f07"/><stop offset="1" stop-color="#075804"/></linearGradient><linearGradient id="h50" x2="0" y2="1"><stop offset="0" stop-color="#824008"/><stop offset="0.05" stop-color="#9b4c08"/><stop offset="0.12" stop-color="#c35c04"/><stop offset="0.2" stop-color="#ff8203"/><stop offset="0.27" stop-color="#ff9e25"/><stop offset="0.34" stop-color="#ffbd4d"/><stop offset="0.41" stop-color="#fed767"/><stop offset="0.48" stop-color="#fbed78"/><stop offset="0.55" stop-color="#f5f77b"/><stop offset="0.62" stop-color="#e2ed6e"/><stop offset="0.7" stop-color="#bad45c"/><stop offset="0.77" stop-color="#8eba44"/><stop offset="0.84" stop-color="#5f9e31"/><stop offset="0.91" stop-color="#307d1b"/><stop offset="0.93" stop-color="#217013"/><stop offset="0.96" stop-color="#11630a"/><stop offset="0.98" stop-color="#0a5b06"/><stop offset="1" stop-color="#055503"/></linearGradient><linearGradient id="h51" x2="0" y2="1"><stop offset="0" stop-color="#874208"/><stop offset="0.04" stop-color="#9a4c08"/><stop offset="0.11" stop-color="#c25b04"/><stop offset="0.18" stop-color="#ff8102"/><stop offset="0.26" stop-color="#ff9d24"/><stop offset="0.33" stop-color="#ffbe4d"/><stop offset="0.4" stop-color="#fed767"/><stop offset="0.47" stop-color="#fbed78"/><stop offset="0.54" stop-color="#f5f77b"/><stop offset="0.61" stop-color="#e4ee6e"/><stop offset="0.68" stop-color="#bbd55d"/><stop offset="0.75" stop-color="#8eba44"/><stop offset="0.82" stop-color="#5f9e31"/><stop offset="0.9" stop-color="#327f1c"/><stop offset="0.93" stop-color="#1b6b0f"/><stop offset="0.96" stop-color="#0d5f07"/><stop offset="0.98" stop-color="#085904"/><stop offset="1" stop-color="#035302"/></linearGradient><linearGradient id="h52" x2="0" y2="1"><stop offset="0" stop-color="#8c4508"/><stop offset="0.03" stop-color="#9a4c08"/><stop offset="0.1" stop-color="#c25b04"/><stop offset="0.17" stop-color="#ff8102"/><stop offset="0.24" stop-color="#ff9c23"/><stop offset="0.32" stop-color="#ffbf4f"/><stop offset="0.39" stop-color="#fdd868"/><stop offset="0.46" stop-color="#fbee79"/><stop offset="0.53" stop-color="#f4f77b"/><stop offset="0.6" stop-color="#e4ee6e"/><stop offset="0.67" stop-color="#bbd55d"/><stop offset="0.74" stop-color="#8eba44"/><stop offset="0.81" stop-color="#5f9e31"/><stop offset="0.88" stop-color="#337f1d"/><stop offset="0.93" stop-color="#16670c"/><stop offset="0.96" stop-color="#0b5d06"/><stop offset="0.98" stop-color="#065704"/><stop offset="1" stop-color="#025201"/></linearGradient><linearGradient id="h53" x2="0" y2="1"><stop offset="0" stop-color="#914708"/><stop offset="0.02" stop-color="#9a4c08"/><stop offset="0.09" stop-color="#c25b04"/><stop offset="0.16" stop-color="#ff8102"/><stop offset="0.23" stop-color="#ff9c23"/><stop offset="0.3" stop-color="#ffc050"/><stop offset="0.38" stop-color="#fdd969"/><stop offset="0.45" stop-color="#fbef79"/><stop offset="0.52" stop-color="#f4f67a"/><stop offset="0.59" stop-color="#e3ed6e"/><stop offset="0.66" stop-color="#bad45c"/><stop offset="0.73" stop-color="#8cb943"/><stop offset="0.8" stop-color="#5d9d30"/><stop offset="0.87" stop-color="#327f1c"/><stop offset="0.93" stop-color="#12630a"/><stop offset="0.96" stop-color="#0a5b05"/><stop offset="0.98" stop-color="#055603"/><stop offset="1" stop-color="#015101"/></linearGradient><linearGradient id="h54" x2="0" y2="1"><stop offset="0" stop-color="#954a08"/><stop offset="0.01" stop-color="#9a4c08"/><stop offset="0.08" stop-color="#c25b04"/><stop offset="0.15" stop-color="#ff8102"/><stop offset="0.22" stop-color="#ff9d24"/><stop offset="0.29" stop-color="#ffc252"/><stop offset="0.37" stop-color="#fddb6b"/><stop offset="0.44" stop-color="#fbf07a"/><stop offset="0.51" stop-color="#f3f679"/><stop offset="0.58" stop-color="#e0eb6d"/><stop offset="0.65" stop-color="#b8d35b"/><stop offset="0.72" stop-color="#8ab843"/><stop offset="0.79" stop-color="#5a9b2f"/><stop offset="0.86" stop-color="#317e1c"/><stop offset="0.93" stop-color="#0f6108"/><stop offset="0.96" stop-color="#095a05"/><stop offset="0.98" stop-color="#045503"/><stop offset="1" stop-color="#015100"/></linearGradient><linearGradient id="h55" x2="0" y2="1"><stop offset="0" stop-color="#9a4c08"/><stop offset="0.07" stop-color="#c25b04"/><stop offset="0.14" stop-color="#ff8202"/><stop offset="0.21" stop-color="#ff9d24"/><stop offset="0.29" stop-color="#ffc353"/><stop offset="0.36" stop-color="#fddd6d"/><stop offset="0.43" stop-color="#fbf27b"/><stop offset="0.5" stop-color="#f2f579"/><stop offset="0.57" stop-color="#deea6c"/><stop offset="0.64" stop-color="#b6d25a"/><stop offset="0.71" stop-color="#88b642"/><stop offset="0.79" stop-color="#589a2e"/><stop offset="0.86" stop-color="#307d1b"/><stop offset="0.93" stop-color="#0e6008"/><stop offset="0.93" stop-color="#0d5f08"/><stop offset="0.96" stop-color="#085904"/><stop offset="0.98" stop-color="#045502"/><stop offset="1" stop-color="#005000"/></linearGradient><linearGradient id="h56" x2="0" y2="1"><stop offset="0" stop-color="#9f4e07"/><stop offset="0.06" stop-color="#c25b04"/><stop offset="0.13" stop-color="#ff8202"/><stop offset="0.21" stop-color="#ff9e25"/><stop offset="0.28" stop-color="#ffc555"/><stop offset="0.35" stop-color="#fdde6e"/><stop offset="0.42" stop-color="#fbf37c"/><stop offset="0.49" stop-color="#f0f577"/><stop offset="0.57" stop-color="#dbe86b"/><stop offset="0.64" stop-color="#b4d159"/><stop offset="0.71" stop-color="#85b540"/><stop offset="0.78" stop-color="#55982d"/><stop offset="0.85" stop-color="#2e7b1a"/><stop offset="0.93" stop-color="#0e6008"/><stop offset="0.93" stop-color="#0d5e07"/><stop offset="0.96" stop-color="#075804"/><stop offset="0.98" stop-color="#045402"/><stop offset="1" stop-color="#005000"/></linearGradient><linearGradient id="h57" x2="0" y2="1"><stop offset="0" stop-color="#a45007"/><stop offset="0.05" stop-color="#c25b04"/><stop offset="0.13" stop-color="#ff8203"/><stop offset="0.2" stop-color="#ff9f26"/><stop offset="0.27" stop-color="#ffc555"/><stop offset="0.34" stop-color="#fde070"/><stop offset="0.42" stop-color="#fbf57d"/><stop offset="0.49" stop-color="#eff476"/><stop offset="0.56" stop-color="#d8e66a"/><stop offset="0.63" stop-color="#b2cf57"/><stop offset="0.71" stop-color="#82b33f"/><stop offset="0.78" stop-color="#52962c"/><stop offset="0.85" stop-color="#2d7a1a"/><stop offset="0.92" stop-color="#0e6008"/><stop offset="0.93" stop-color="#0c5e07"/><stop offset="0.96" stop-color="#075804"/><stop offset="0.98" stop-color="#045402"/><stop offset="1" stop-color="#005000"/></linearGradient><linearGradient id="h58" x2="0" y2="1"><stop offset="0" stop-color="#a95106"/><stop offset="0.04" stop-color="#c25b04"/><stop offset="0.12" stop-color="#ff8203"/><stop offset="0.19" stop-color="#ff9f27"/><stop offset="0.27" stop-color="#ffc656"/><stop offset="0.34" stop-color="#fde171"/><stop offset="0.41" stop-color="#faf67e"/><stop offset="0.48" stop-color="#eef375"/><stop offset="0.56" stop-color="#d5e568"/><stop offset="0.63" stop-color="#b0ce56"/><stop offset="0.7" stop-color="#80b13e"/><stop offset="0.78" stop-color="#50952b"/><stop offset="0.85" stop-color="#2c7a19"/><stop offset="0.92" stop-color="#0e6008"/><stop offset="0.93" stop-color="#0c5e07"/><stop offset="0.96" stop-color="#075804"/><stop offset="0.98" stop-color="#045402"/><stop offset="1" stop-color="#005000"/></linearGradient><linearGradient id="h59" x2="0" y2="1"><stop offset="0" stop-color="#ad5306"/><stop offset="0.04" stop-color="#c25b04"/><stop offset="0.11" stop-color="#ff8203"/><stop offset="0.18" stop-color="#ffa028"/><stop offset="0.26" stop-color="#ffc757"/><stop offset="0.33" stop-color="#fde372"/><stop offset="0.41" stop-color="#faf87f"/><stop offset="0.48" stop-color="#edf374"/><stop offset="0.55" stop-color="#d2e367"/><stop offset="0.63" stop-color="#adcd55"/><stop offset="0.7" stop-color="#7db03d"/><stop offset="0.78" stop-color="#4e942a"/><stop offset="0.85" stop-color="#2b7918"/><stop offset="0.92" stop-color="#0e6008"/><stop offset="0.93" stop-color="#0c5e07"/><stop offset="0.96" stop-color="#075804"/><stop offset="0.98" stop-color="#045402"/><stop offset="1" stop-color="#005000"/></linearGradient><linearGradient id="h60" x2="0" y2="1"><stop offset="0" stop-color="#b05406"/><stop offset="0.03" stop-color="#c25b04"/><stop offset="0.1" stop-color="#ff8303"/><stop offset="0.18" stop-color="#ffa028"/><stop offset="0.25" stop-color="#ffc757"/><stop offset="0.33" stop-color="#fde472"/><stop offset="0.4" stop-color="#faf97f"/><stop offset="0.48" stop-color="#ecf274"/><stop offset="0.55" stop-color="#d0e166"/><stop offset="0.62" stop-color="#abcb53"/><stop offset="0.7" stop-color="#7baf3c"/><stop offset="0.77" stop-color="#4d932a"/><stop offset="0.85" stop-color="#2a7818"/><stop offset="0.92" stop-color="#0e6008"/><stop offset="0.93" stop-color="#0c5e07"/><stop offset="0.96" stop-color="#075804"/><stop offset="0.98" stop-color="#045402"/><stop offset="1" stop-color="#005000"/></linearGradient><linearGradient id="h61" x2="0" y2="1"><stop offset="0" stop-color="#b35505"/><stop offset="0.03" stop-color="#c15b04"/><stop offset="0.1" stop-color="#ff8303"/><stop offset="0.17" stop-color="#ffa129"/><stop offset="0.25" stop-color="#fec858"/><stop offset="0.32" stop-color="#fce573"/><stop offset="0.4" stop-color="#fafa80"/><stop offset="0.47" stop-color="#ebf273"/><stop offset="0.55" stop-color="#cee065"/><stop offset="0.62" stop-color="#a9ca52"/><stop offset="0.7" stop-color="#7aae3c"/><stop offset="0.77" stop-color="#4c9229"/><stop offset="0.85" stop-color="#2a7818"/><stop offset="0.92" stop-color="#0e6008"/><stop offset="0.93" stop-color="#0c5e07"/><stop offset="0.96" stop-color="#075804"/><stop offset="0.98" stop-color="#045402"/><stop offset="1" stop-color="#005000"/></linearGradient><linearGradient id="h62" x2="0" y2="1"><stop offset="0" stop-color="#b65605"/><stop offset="0.02" stop-color="#c15b04"/><stop offset="0.1" stop-color="#ff8303"/><stop offset="0.17" stop-color="#ffa129"/><stop offset="0.24" stop-color="#fec959"/><stop offset="0.32" stop-color="#fce674"/><stop offset="0.4" stop-color="#f9fa7f"/><stop offset="0.47" stop-color="#eaf172"/><stop offset="0.55" stop-color="#ccdf65"/><stop offset="0.62" stop-color="#a7c951"/><stop offset="0.7" stop-color="#78ad3b"/><stop offset="0.77" stop-color="#4b9229"/><stop offset="0.85" stop-color="#2a7818"/><stop offset="0.92" stop-color="#0e6008"/><stop offset="0.93" stop-color="#0c5e07"/><stop offset="0.96" stop-color="#075804"/><stop offset="0.98" stop-color="#045402"/><stop offset="1" stop-color="#005000"/></linearGradient><linearGradient id="h63" x2="0" y2="1"><stop offset="0" stop-color="#b85705"/><stop offset="0.01" stop-color="#c15b04"/><stop offset="0.09" stop-color="#ff8303"/><stop offset="0.17" stop-color="#ffa129"/><stop offset="0.24" stop-color="#fec959"/><stop offset="0.32" stop-color="#fce674"/><stop offset="0.39" stop-color="#f8f97f"/><stop offset="0.47" stop-color="#eaf171"/><stop offset="0.54" stop-color="#cade64"/><stop offset="0.62" stop-color="#a6c850"/><stop offset="0.69" stop-color="#77ac3b"/><stop offset="0.77" stop-color="#4a9129"/><stop offset="0.85" stop-color="#2a7818"/><stop offset="0.92" stop-color="#0e6008"/><stop offset="0.93" stop-color="#0c5e07"/><stop offset="0.96" stop-color="#075804"/><stop offset="0.98" stop-color="#045402"/><stop offset="1" stop-color="#005000"/></linearGradient><linearGradient id="h64" x2="0" y2="1"><stop offset="0" stop-color="#ba5805"/><stop offset="0.01" stop-color="#c15b04"/><stop offset="0.09" stop-color="#ff8304"/><stop offset="0.16" stop-color="#ffa22a"/><stop offset="0.24" stop-color="#feca5a"/><stop offset="0.32" stop-color="#fce774"/><stop offset="0.39" stop-color="#f8f97e"/><stop offset="0.47" stop-color="#e9f171"/><stop offset="0.54" stop-color="#c9dd63"/><stop offset="0.62" stop-color="#a4c74f"/><stop offset="0.69" stop-color="#76ac3a"/><stop offset="0.77" stop-color="#4a9129"/><stop offset="0.85" stop-color="#2a7818"/><stop offset="0.92" stop-color="#0e6008"/><stop offset="0.93" stop-color="#0c5e07"/><stop offset="0.96" stop-color="#075804"/><stop offset="0.98" stop-color="#045402"/><stop offset="1" stop-color="#005000"/></linearGradient><linearGradient id="h65" x2="0" y2="1"><stop offset="0" stop-color="#bc5904"/><stop offset="0.01" stop-color="#c15a04"/><stop offset="0.08" stop-color="#ff8303"/><stop offset="0.16" stop-color="#ffa22a"/><stop offset="0.24" stop-color="#feca5a"/><stop offset="0.31" stop-color="#fce875"/><stop offset="0.39" stop-color="#f8f97e"/><stop offset="0.47" stop-color="#e8f070"/><stop offset="0.54" stop-color="#c7dc63"/><stop offset="0.62" stop-color="#a3c74f"/><stop offset="0.69" stop-color="#75ab3a"/><stop offset="0.77" stop-color="#499129"/><stop offset="0.85" stop-color="#2a7818"/><stop offset="0.92" stop-color="#0e6008"/><stop offset="0.93" stop-color="#0c5e07"/><stop offset="0.96" stop-color="#075804"/><stop offset="0.98" stop-color="#045402"/><stop offset="1" stop-color="#005000"/></linearGradient><linearGradient id="h66" x2="0" y2="1"><stop offset="0" stop-color="#bd5904"/><stop offset="0.01" stop-color="#c05a04"/><stop offset="0.08" stop-color="#ff8304"/><stop offset="0.16" stop-color="#ffa22a"/><stop offset="0.23" stop-color="#feca5a"/><stop offset="0.31" stop-color="#fce875"/><stop offset="0.39" stop-color="#f7f87e"/><stop offset="0.46" stop-color="#e8f070"/><stop offset="0.54" stop-color="#c6dc63"/><stop offset="0.62" stop-color="#a2c64e"/><stop offset="0.69" stop-color="#75ab3a"/><stop offset="0.77" stop-color="#4a9129"/><stop offset="0.85" stop-color="#2a7818"/><stop offset="0.92" stop-color="#0e6008"/><stop offset="0.93" stop-color="#0c5e07"/><stop offset="0.96" stop-color="#075804"/><stop offset="0.98" stop-color="#045402"/><stop offset="1" stop-color="#005000"/></linearGradient><linearGradient id="h67" x2="0" y2="1"><stop offset="0" stop-color="#be5904"/><stop offset="0" stop-color="#c05a04"/><stop offset="0.08" stop-color="#ff8304"/><stop offset="0.16" stop-color="#ffa22a"/><stop offset="0.23" stop-color="#feca5a"/><stop offset="0.31" stop-color="#fce875"/><stop offset="0.39" stop-color="#f7f87d"/><stop offset="0.46" stop-color="#e7f070"/><stop offset="0.54" stop-color="#c6db62"/><stop offset="0.62" stop-color="#a2c64e"/><stop offset="0.69" stop-color="#75ab3a"/><stop offset="0.77" stop-color="#4a9129"/><stop offset="0.85" stop-color="#2a7818"/><stop offset="0.92" stop-color="#0e6008"/><stop offset="0.93" stop-color="#0c5e07"/><stop offset="0.96" stop-color="#075804"/><stop offset="0.98" stop-color="#045402"/><stop offset="1" stop-color="#005000"/></linearGradient><linearGradient id="h68" x2="0" y2="1"><stop offset="0" stop-color="#bf5a04"/><stop offset="0" stop-color="#c05a04"/><stop offset="0.08" stop-color="#ff8303"/><stop offset="0.15" stop-color="#ffa22b"/><stop offset="0.23" stop-color="#feca5a"/><stop offset="0.31" stop-color="#fce975"/><stop offset="0.39" stop-color="#f7f87d"/><stop offset="0.46" stop-color="#e7ef6f"/><stop offset="0.54" stop-color="#c5db62"/><stop offset="0.62" stop-color="#a1c54d"/><stop offset="0.69" stop-color="#74ab3a"/><stop offset="0.77" stop-color="#4a9129"/><stop offset="0.85" stop-color="#2b7818"/><stop offset="0.92" stop-color="#0e6008"/><stop offset="0.93" stop-color="#0c5e07"/><stop offset="0.96" stop-color="#075804"/><stop offset="0.98" stop-color="#045402"/><stop offset="1" stop-color="#005000"/></linearGradient><linearGradient id="h69" x2="0" y2="1"><stop offset="0" stop-color="#c05a04"/><stop offset="0.08" stop-color="#ff8303"/><stop offset="0.15" stop-color="#ffa22b"/><stop offset="0.23" stop-color="#feca5a"/><stop offset="0.31" stop-color="#fce976"/><stop offset="0.39" stop-color="#f7f87d"/><stop offset="0.46" stop-color="#e6ef6f"/><stop offset="0.54" stop-color="#c4db62"/><stop offset="0.62" stop-color="#a0c54d"/><stop offset="0.69" stop-color="#74ab3a"/><stop offset="0.77" stop-color="#4a9129"/><stop offset="0.85" stop-color="#2a7818"/><stop offset="0.92" stop-color="#0e6008"/><stop offset="0.93" stop-color="#0c5e07"/><stop offset="0.96" stop-color="#075804"/><stop offset="0.98" stop-color="#045402"/><stop offset="1" stop-color="#005000"/></linearGradient><linearGradient id="h70" x2="0" y2="1"><stop offset="0" stop-color="#c15b04"/><stop offset="0.07" stop-color="#ff8303"/><stop offset="0.15" stop-color="#ffa22b"/><stop offset="0.23" stop-color="#fecb5b"/><stop offset="0.31" stop-color="#fce976"/><stop offset="0.38" stop-color="#f6f87d"/><stop offset="0.46" stop-color="#e6ef6f"/><stop offset="0.54" stop-color="#c4da61"/><stop offset="0.61" stop-color="#a0c54d"/><stop offset="0.69" stop-color="#74ab3a"/><stop offset="0.77" stop-color="#4a9129"/><stop offset="0.85" stop-color="#2b7818"/><stop offset="0.92" stop-color="#0e6008"/><stop offset="0.93" stop-color="#0c5e07"/><stop offset="0.96" stop-color="#075804"/><stop offset="0.98" stop-color="#045402"/><stop offset="1" stop-color="#005000"/></linearGradient><linearGradient id="h71" x2="0" y2="1"><stop offset="0" stop-color="#c35c04"/><stop offset="0.07" stop-color="#ff8303"/><stop offset="0.15" stop-color="#ffa22b"/><stop offset="0.23" stop-color="#fecb5b"/><stop offset="0.31" stop-color="#fce976"/><stop offset="0.38" stop-color="#f6f87d"/><stop offset="0.46" stop-color="#e5ee6f"/><stop offset="0.54" stop-color="#c3da61"/><stop offset="0.61" stop-color="#9fc44c"/><stop offset="0.69" stop-color="#74aa3a"/><stop offset="0.77" stop-color="#4a9129"/><stop offset="0.85" stop-color="#2b7918"/><stop offset="0.92" stop-color="#0e6008"/><stop offset="0.93" stop-color="#0c5e07"/><stop offset="0.96" stop-color="#075804"/><stop offset="0.98" stop-color="#045402"/><stop offset="1" stop-color="#005000"/></linearGradient><linearGradient id="h72" x2="0" y2="1"><stop offset="0" stop-color="#c45c04"/><stop offset="0.07" stop-color="#ff8303"/><stop offset="0.15" stop-color="#ffa22b"/><stop offset="0.23" stop-color="#fecb5b"/><stop offset="0.3" stop-color="#fce976"/><stop offset="0.38" stop-color="#f6f87c"/><stop offset="0.46" stop-color="#e5ee6f"/><stop offset="0.54" stop-color="#c3da61"/><stop offset="0.61" stop-color="#9fc44c"/><stop offset="0.69" stop-color="#74aa3a"/><stop offset="0.77" stop-color="#4a9129"/><stop offset="0.85" stop-color="#2b7919"/><stop offset="0.92" stop-color="#0e6008"/><stop offset="0.93" stop-color="#0c5e07"/><stop offset="0.96" stop-color="#075804"/><stop offset="0.98" stop-color="#045402"/><stop offset="1" stop-color="#005000"/></linearGradient><linearGradient id="h73" x2="0" y2="1"><stop offset="0" stop-color="#c55d04"/><stop offset="0.07" stop-color="#ff8303"/><stop offset="0.15" stop-color="#ffa32b"/><stop offset="0.23" stop-color="#fecb5b"/><stop offset="0.3" stop-color="#fcea76"/><stop offset="0.38" stop-color="#f6f87c"/><stop offset="0.46" stop-color="#e4ee6f"/><stop offset="0.54" stop-color="#c2d961"/><stop offset="0.61" stop-color="#9fc44c"/><stop offset="0.69" stop-color="#74aa3a"/><stop offset="0.77" stop-color="#4a9129"/><stop offset="0.85" stop-color="#2b7919"/><stop offset="0.92" stop-color="#0e6008"/><stop offset="0.93" stop-color="#0c5e07"/><stop offset="0.96" stop-color="#075804"/><stop offset="0.98" stop-color="#045402"/><stop offset="1" stop-color="#005000"/></linearGradient><linearGradient id="h74" x2="0" y2="1"><stop offset="0" stop-color="#c65d04"/><stop offset="0.07" stop-color="#ff8303"/><stop offset="0.15" stop-color="#ffa22b"/><stop offset="0.23" stop-color="#fecb5b"/><stop offset="0.3" stop-color="#fcea76"/><stop offset="0.38" stop-color="#f6f87c"/><stop offset="0.46" stop-color="#e4ee6f"/><stop offset="0.54" stop-color="#c2d961"/><stop offset="0.61" stop-color="#9ec44c"/><stop offset="0.69" stop-color="#74aa3a"/><stop offset="0.77" stop-color="#4a9129"/><stop offset="0.85" stop-color="#2b7919"/><stop offset="0.92" stop-color="#0e6008"/><stop offset="0.93" stop-color="#0c5e07"/><stop offset="0.96" stop-color="#075804"/><stop offset="0.98" stop-color="#045402"/><stop offset="1" stop-color="#005000"/></linearGradient><linearGradient id="h75" x2="0" y2="1"><stop offset="0" stop-color="#c65e04"/><stop offset="0.07" stop-color="#ff8303"/><stop offset="0.15" stop-color="#ffa32b"/><stop offset="0.23" stop-color="#fecb5b"/><stop offset="0.3" stop-color="#fcea76"/><stop offset="0.38" stop-color="#f6f87c"/><stop offset="0.46" stop-color="#e4ee6e"/><stop offset="0.54" stop-color="#c2d961"/><stop offset="0.61" stop-color="#9ec44c"/><stop offset="0.69" stop-color="#74aa3a"/><stop offset="0.77" stop-color="#4b9229"/><stop offset="0.85" stop-color="#2b7919"/><stop offset="0.92" stop-color="#0e6008"/><stop offset="0.93" stop-color="#0c5e07"/><stop offset="0.96" stop-color="#075804"/><stop offset="0.98" stop-color="#045402"/><stop offset="1" stop-color="#005000"/></linearGradient><linearGradient id="h76" x2="0" y2="1"><stop offset="0" stop-color="#c75e04"/><stop offset="0.07" stop-color="#ff8303"/><stop offset="0.15" stop-color="#ffa32b"/><stop offset="0.23" stop-color="#fecb5b"/><stop offset="0.3" stop-color="#fcea76"/><stop offset="0.38" stop-color="#f6f87c"/><stop offset="0.46" stop-color="#e4ee6e"/><stop offset="0.54" stop-color="#c1d961"/><stop offset="0.61" stop-color="#9ec44c"/><stop offset="0.69" stop-color="#74aa3a"/><stop offset="0.77" stop-color="#4b9229"/><stop offset="0.85" stop-color="#2b7919"/><stop offset="0.92" stop-color="#0e6008"/><stop offset="0.93" stop-color="#0c5e07"/><stop offset="0.96" stop-color="#075804"/><stop offset="0.98" stop-color="#045402"/><stop offset="1" stop-color="#005000"/></linearGradient><linearGradient id="h77" x2="0" y2="1"><stop offset="0" stop-color="#c75e04"/><stop offset="0.07" stop-color="#ff8303"/><stop offset="0.15" stop-color="#ffa32b"/><stop offset="0.23" stop-color="#fecb5b"/><stop offset="0.3" stop-color="#fcea76"/><stop offset="0.38" stop-color="#f6f87c"/><stop offset="0.46" stop-color="#e4ed6e"/><stop offset="0.54" stop-color="#c1d961"/><stop offset="0.61" stop-color="#9ec44c"/><stop offset="0.69" stop-color="#74aa3a"/><stop offset="0.77" stop-color="#4b9229"/><stop offset="0.85" stop-color="#2b7919"/><stop offset="0.93" stop-color="#0e6008"/><stop offset="0.93" stop-color="#0c5e07"/><stop offset="0.96" stop-color="#075804"/><stop offset="0.98" stop-color="#045402"/><stop offset="1" stop-color="#005000"/></linearGradient><linearGradient id="h78" x2="0" y2="1"><stop offset="0" stop-color="#c75e04"/><stop offset="0.07" stop-color="#ff8303"/><stop offset="0.15" stop-color="#ffa22b"/><stop offset="0.23" stop-color="#fecb5b"/><stop offset="0.3" stop-color="#fcea76"/><stop offset="0.38" stop-color="#f6f87c"/><stop offset="0.46" stop-color="#e4ed6e"/><stop offset="0.54" stop-color="#c2d961"/><stop offset="0.61" stop-color="#9ec34b"/><stop offset="0.69" stop-color="#74aa3a"/><stop offset="0.77" stop-color="#4b9229"/><stop offset="0.85" stop-color="#2b7919"/><stop offset="0.93" stop-color="#0e6008"/><stop offset="0.93" stop-color="#0c5e07"/><stop offset="0.96" stop-color="#075804"/><stop offset="0.98" stop-color="#045402"/><stop offset="1" stop-color="#005000"/></linearGradient><linearGradient id="h79" x2="0" y2="1"><stop offset="0" stop-color="#c75e04"/><stop offset="0.07" stop-color="#ff8304"/><stop offset="0.15" stop-color="#ffa22b"/><stop offset="0.23" stop-color="#fecb5b"/><stop offset="0.3" stop-color="#fcea76"/><stop offset="0.38" stop-color="#f6f87c"/><stop offset="0.46" stop-color="#e4ed6e"/><stop offset="0.54" stop-color="#c2d961"/><stop offset="0.61" stop-color="#9ec34b"/><stop offset="0.69" stop-color="#74aa3a"/><stop offset="0.77" stop-color="#4b9229"/><stop offset="0.85" stop-color="#2b7919"/><stop offset="0.93" stop-color="#0e6008"/><stop offset="0.93" stop-color="#0c5e07"/><stop offset="0.96" stop-color="#075904"/><stop offset="0.98" stop-color="#045402"/><stop offset="1" stop-color="#005000"/></linearGradient><linearGradient id="h80" x2="0" y2="1"><stop offset="0" stop-color="#c75e04"/><stop offset="0.07" stop-color="#ff8303"/><stop offset="0.15" stop-color="#ffa22b"/><stop offset="0.23" stop-color="#fecb5b"/><stop offset="0.3" stop-color="#fcea76"/><stop offset="0.38" stop-color="#f6f87c"/><stop offset="0.46" stop-color="#e4ed6e"/><stop offset="0.54" stop-color="#c1d961"/><stop offset="0.61" stop-color="#9ec44c"/><stop offset="0.69" stop-color="#74ab3a"/><stop offset="0.77" stop-color="#4b9229"/><stop offset="0.85" stop-color="#2b7919"/><stop offset="0.93" stop-color="#0e6008"/><stop offset="0.93" stop-color="#0c5e07"/><stop offset="0.96" stop-color="#075904"/><stop offset="0.98" stop-color="#045402"/><stop offset="1" stop-color="#005000"/></linearGradient><linearGradient id="h81" x2="0" y2="1"><stop offset="0" stop-color="#c75e04"/><stop offset="0.07" stop-color="#ff8303"/><stop offset="0.15" stop-color="#ffa32b"/><stop offset="0.23" stop-color="#fecb5b"/><stop offset="0.3" stop-color="#fcea76"/><stop offset="0.38" stop-color="#f6f87c"/><stop offset="0.46" stop-color="#e4ee6e"/><stop offset="0.54" stop-color="#c1d961"/><stop offset="0.61" stop-color="#9ec44c"/><stop offset="0.69" stop-color="#74ab3a"/><stop offset="0.77" stop-color="#4b9229"/><stop offset="0.85" stop-color="#2b7919"/><stop offset="0.93" stop-color="#0e6008"/><stop offset="0.93" stop-color="#0c5e07"/><stop offset="0.96" stop-color="#075904"/><stop offset="0.98" stop-color="#045402"/><stop offset="1" stop-color="#005000"/></linearGradient><linearGradient id="h82" x2="0" y2="1"><stop offset="0" stop-color="#c65e04"/><stop offset="0.07" stop-color="#ff8304"/><stop offset="0.15" stop-color="#ffa22b"/><stop offset="0.23" stop-color="#fecb5b"/><stop offset="0.3" stop-color="#fcea76"/><stop offset="0.38" stop-color="#f6f87c"/><stop offset="0.46" stop-color="#e4ed6e"/><stop offset="0.54" stop-color="#c2d961"/><stop offset="0.61" stop-color="#9ec44c"/><stop offset="0.69" stop-color="#75ab3a"/><stop offset="0.77" stop-color="#4b9229"/><stop offset="0.85" stop-color="#2b7919"/><stop offset="0.93" stop-color="#0e6008"/><stop offset="0.93" stop-color="#0c5e07"/><stop offset="0.96" stop-color="#075904"/><stop offset="0.98" stop-color="#045402"/><stop offset="1" stop-color="#005000"/></linearGradient><linearGradient id="h83" x2="0" y2="1"><stop offset="0" stop-color="#c65e04"/><stop offset="0.07" stop-color="#ff8304"/><stop offset="0.15" stop-color="#ffa32b"/><stop offset="0.23" stop-color="#fecb5b"/><stop offset="0.3" stop-color="#fcea76"/><stop offset="0.38" stop-color="#f6f87c"/><stop offset="0.46" stop-color="#e4ee6e"/><stop offset="0.54" stop-color="#c2d961"/><stop offset="0.61" stop-color="#9ec44c"/><stop offset="0.69" stop-color="#74ab3a"/><stop offset="0.77" stop-color="#4b9229"/><stop offset="0.85" stop-color="#2b7919"/><stop offset="0.93" stop-color="#0e6008"/><stop offset="0.93" stop-color="#0c5e07"/><stop offset="0.96" stop-color="#075904"/><stop offset="0.98" stop-color="#045402"/><stop offset="1" stop-color="#005000"/></linearGradient><linearGradient id="h84" x2="0" y2="1"><stop offset="0" stop-color="#c15a04"/><stop offset="0.08" stop-color="#ff8304"/><stop offset="0.15" stop-color="#ffa32b"/><stop offset="0.23" stop-color="#fecb5b"/><stop offset="0.31" stop-color="#fce976"/><stop offset="0.39" stop-color="#f6f87d"/><stop offset="0.46" stop-color="#e5ee6f"/><stop offset="0.54" stop-color="#c3da61"/><stop offset="0.62" stop-color="#9fc44c"/><stop offset="0.69" stop-color="#76ac3a"/><stop offset="0.77" stop-color="#4d932a"/><stop offset="0.85" stop-color="#2c7a19"/><stop offset="0.93" stop-color="#0e6008"/><stop offset="0.93" stop-color="#0d5f07"/><stop offset="0.96" stop-color="#085904"/><stop offset="0.98" stop-color="#045402"/><stop offset="1" stop-color="#005000"/></linearGradient><linearGradient id="h85" x2="0" y2="1"><stop offset="0" stop-color="#bc5904"/><stop offset="0.01" stop-color="#c15a04"/><stop offset="0.09" stop-color="#ff8304"/><stop offset="0.16" stop-color="#ffa22b"/><stop offset="0.24" stop-color="#fecb5b"/><stop offset="0.32" stop-color="#fce875"/><stop offset="0.39" stop-color="#f7f87d"/><stop offset="0.47" stop-color="#e8f070"/><stop offset="0.55" stop-color="#c5db62"/><stop offset="0.62" stop-color="#a1c64e"/><stop offset="0.7" stop-color="#78ad3b"/><stop offset="0.78" stop-color="#4f942b"/><stop offset="0.85" stop-color="#2d7b1a"/><stop offset="0.93" stop-color="#0e6008"/><stop offset="0.93" stop-color="#0d5f08"/><stop offset="0.96" stop-color="#085905"/><stop offset="0.98" stop-color="#045502"/><stop offset="1" stop-color="#005000"/></linearGradient><linearGradient id="h86" x2="0" y2="1"><stop offset="0" stop-color="#c35c04"/><stop offset="0.07" stop-color="#ff8304"/><stop offset="0.15" stop-color="#ffa32b"/><stop offset="0.23" stop-color="#fecb5b"/><stop offset="0.31" stop-color="#fcea76"/><stop offset="0.38" stop-color="#f6f87c"/><stop offset="0.46" stop-color="#e5ee6f"/><stop offset="0.54" stop-color="#c3da61"/><stop offset="0.62" stop-color="#9fc44c"/><stop offset="0.69" stop-color="#76ab3a"/><stop offset="0.77" stop-color="#4c922a"/><stop offset="0.85" stop-color="#2c7919"/><stop offset="0.93" stop-color="#0e6008"/><stop offset="0.93" stop-color="#0d5e07"/><stop offset="0.96" stop-color="#085904"/><stop offset="0.98" stop-color="#045402"/><stop offset="1" stop-color="#005000"/></linearGradient><linearGradient id="h87" x2="0" y2="1"><stop offset="0" stop-color="#c35c04"/><stop offset="0.07" stop-color="#ff8303"/><stop offset="0.15" stop-color="#ffa22b"/><stop offset="0.23" stop-color="#fecb5b"/><stop offset="0.31" stop-color="#fcea76"/><stop offset="0.38" stop-color="#f6f87c"/><stop offset="0.46" stop-color="#e5ee6f"/><stop offset="0.54" stop-color="#c3da61"/><stop offset="0.61" stop-color="#9fc44c"/><stop offset="0.69" stop-color="#75ab3a"/><stop offset="0.77" stop-color="#4b9229"/><stop offset="0.85" stop-color="#2b7919"/><stop offset="0.93" stop-color="#0e6008"/><stop offset="0.93" stop-color="#0d5e07"/><stop offset="0.96" stop-color="#085904"/><stop offset="0.98" stop-color="#045402"/><stop offset="1" stop-color="#005000"/></linearGradient><linearGradient id="h88" x2="0" y2="1"><stop offset="0" stop-color="#c25b04"/><stop offset="0.07" stop-color="#ff8304"/><stop offset="0.15" stop-color="#ffa32b"/><stop offset="0.23" stop-color="#fecb5b"/><stop offset="0.31" stop-color="#fce976"/><stop offset="0.38" stop-color="#f6f87d"/><stop offset="0.46" stop-color="#e5ee6f"/><stop offset="0.54" stop-color="#c3da61"/><stop offset="0.62" stop-color="#9fc44c"/><stop offset="0.69" stop-color="#76ab3a"/><stop offset="0.77" stop-color="#4c922a"/><stop offset="0.85" stop-color="#2c7919"/><stop offset="0.93" stop-color="#0e6008"/><stop offset="0.93" stop-color="#0d5e07"/><stop offset="0.96" stop-color="#085904"/><stop offset="0.98" stop-color="#045402"/><stop offset="1" stop-color="#005000"/></linearGradient><linearGradient id="h89" x2="0" y2="1"><stop offset="0" stop-color="#c15b04"/><stop offset="0.08" stop-color="#ff8304"/><stop offset="0.15" stop-color="#ffa32b"/><stop offset="0.23" stop-color="#fecb5b"/><stop offset="0.31" stop-color="#fce976"/><stop offset="0.39" stop-color="#f6f87d"/><stop offset="0.46" stop-color="#e6ef6f"/><stop offset="0.54" stop-color="#c4da61"/><stop offset="0.62" stop-color="#a0c54d"/><stop offset="0.69" stop-color="#76ab3a"/><stop offset="0.77" stop-color="#4c922a"/><stop offset="0.85" stop-color="#2b7919"/><stop offset="0.93" stop-color="#0e6008"/><stop offset="0.93" stop-color="#0d5e07"/><stop offset="0.96" stop-color="#085904"/><stop offset="0.98" stop-color="#045402"/><stop offset="1" stop-color="#005000"/></linearGradient><linearGradient id="h90" x2="0" y2="1"><stop offset="0" stop-color="#c05a04"/><stop offset="0" stop-color="#c05a04"/><stop offset="0.08" stop-color="#ff8303"/><stop offset="0.15" stop-color="#ffa22b"/><stop offset="0.23" stop-color="#fecb5b"/><stop offset="0.31" stop-color="#fce976"/><stop offset="0.39" stop-color="#f6f87d"/><stop offset="0.46" stop-color="#e6ef6f"/><stop offset="0.54" stop-color="#c4da62"/><stop offset="0.62" stop-color="#a0c54d"/><stop offset="0.69" stop-color="#76ac3a"/><stop offset="0.77" stop-color="#4c922a"/><stop offset="0.85" stop-color="#2c7919"/><stop offset="0.93" stop-color="#0e6008"/><stop offset="0.93" stop-color="#0d5f07"/><stop offset="0.96" stop-color="#085904"/><stop offset="0.98" stop-color="#045402"/><stop offset="1" stop-color="#005000"/></linearGradient><linearGradient id="h91" x2="0" y2="1"><stop offset="0" stop-color="#bf5a04"/><stop offset="0" stop-color="#c05a04"/><stop offset="0.08" stop-color="#ff8304"/><stop offset="0.16" stop-color="#ffa22a"/><stop offset="0.23" stop-color="#fecb5b"/><stop offset="0.31" stop-color="#fce975"/><stop offset="0.39" stop-color="#f7f87d"/><stop offset="0.46" stop-color="#e7ef6f"/><stop offset="0.54" stop-color="#c4db62"/><stop offset="0.62" stop-color="#a0c54d"/><stop offset="0.69" stop-color="#76ac3b"/><stop offset="0.77" stop-color="#4c932a"/><stop offset="0.85" stop-color="#2c7919"/><stop offset="0.93" stop-color="#0e6008"/><stop offset="0.93" stop-color="#0d5f07"/><stop offset="0.96" stop-color="#085904"/><stop offset="0.98" stop-color="#045402"/><stop offset="1" stop-color="#005000"/></linearGradient><linearGradient id="h92" x2="0" y2="1"><stop offset="0" stop-color="#be5904"/><stop offset="0" stop-color="#c05a04"/><stop offset="0.08" stop-color="#ff8304"/><stop offset="0.16" stop-color="#ffa22b"/><stop offset="0.23" stop-color="#feca5a"/><stop offset="0.31" stop-color="#fce975"/><stop offset="0.39" stop-color="#f7f87d"/><stop offset="0.47" stop-color="#e7ef70"/><stop offset="0.54" stop-color="#c5db62"/><stop offset="0.62" stop-color="#a1c54d"/><stop offset="0.7" stop-color="#77ac3b"/><stop offset="0.77" stop-color="#4c932a"/><stop offset="0.85" stop-color="#2c7919"/><stop offset="0.93" stop-color="#0e6008"/><stop offset="0.93" stop-color="#0d5f07"/><stop offset="0.96" stop-color="#085904"/><stop offset="0.98" stop-color="#045402"/><stop offset="1" stop-color="#005000"/></linearGradient><linearGradient id="h93" x2="0" y2="1"><stop offset="0" stop-color="#bd5904"/><stop offset="0.01" stop-color="#c15a04"/><stop offset="0.08" stop-color="#ff8304"/><stop offset="0.16" stop-color="#ffa22a"/><stop offset="0.24" stop-color="#feca5a"/><stop offset="0.31" stop-color="#fce875"/><stop offset="0.39" stop-color="#f7f87d"/><stop offset="0.47" stop-color="#e8f070"/><stop offset="0.54" stop-color="#c6dc62"/><stop offset="0.62" stop-color="#a2c64e"/><stop offset="0.7" stop-color="#77ac3b"/><stop offset="0.77" stop-color="#4d932a"/><stop offset="0.85" stop-color="#2c7919"/><stop offset="0.93" stop-color="#0e6008"/><stop offset="0.93" stop-color="#0d5f07"/><stop offset="0.96" stop-color="#085904"/><stop offset="0.98" stop-color="#045402"/><stop offset="1" stop-color="#005000"/></linearGradient><linearGradient id="h94" x2="0" y2="1"><stop offset="0" stop-color="#bb5804"/><stop offset="0.01" stop-color="#c15b04"/><stop offset="0.09" stop-color="#ff8304"/><stop offset="0.16" stop-color="#ffa22a"/><stop offset="0.24" stop-color="#feca5a"/><stop offset="0.32" stop-color="#fce875"/><stop offset="0.39" stop-color="#f7f97e"/><stop offset="0.47" stop-color="#e8f070"/><stop offset="0.55" stop-color="#c7dc63"/><stop offset="0.62" stop-color="#a2c64e"/><stop offset="0.7" stop-color="#78ad3b"/><stop offset="0.78" stop-color="#4d932a"/><stop offset="0.85" stop-color="#2c7a19"/><stop offset="0.93" stop-color="#0e6008"/><stop offset="0.93" stop-color="#0d5f07"/><stop offset="0.96" stop-color="#085904"/><stop offset="0.98" stop-color="#045402"/><stop offset="1" stop-color="#005000"/></linearGradient><linearGradient id="h95" x2="0" y2="1"><stop offset="0" stop-color="#ba5805"/><stop offset="0.01" stop-color="#c15b04"/><stop offset="0.09" stop-color="#ff8304"/><stop offset="0.17" stop-color="#ffa22a"/><stop offset="0.24" stop-color="#feca5a"/><stop offset="0.32" stop-color="#fce875"/><stop offset="0.39" stop-color="#f8f97e"/><stop offset="0.47" stop-color="#e8f070"/><stop offset="0.55" stop-color="#c7dc63"/><stop offset="0.62" stop-color="#a3c74f"/><stop offset="0.7" stop-color="#78ad3b"/><stop offset="0.78" stop-color="#4e932a"/><stop offset="0.85" stop-color="#2c7a19"/><stop offset="0.93" stop-color="#0e6008"/><stop offset="0.93" stop-color="#0d5f07"/><stop offset="0.96" stop-color="#085904"/><stop offset="0.98" stop-color="#045402"/><stop offset="1" stop-color="#005000"/></linearGradient><linearGradient id="h96" x2="0" y2="1"><stop offset="0" stop-color="#b95705"/><stop offset="0.01" stop-color="#c15b04"/><stop offset="0.09" stop-color="#ff8304"/><stop offset="0.17" stop-color="#ffa22a"/><stop offset="0.24" stop-color="#feca5a"/><stop offset="0.32" stop-color="#fce774"/><stop offset="0.4" stop-color="#f8f97e"/><stop offset="0.47" stop-color="#e9f071"/><stop offset="0.55" stop-color="#c8dd63"/><stop offset="0.62" stop-color="#a4c74f"/><stop offset="0.7" stop-color="#79ad3c"/><stop offset="0.78" stop-color="#4e942a"/><stop offset="0.85" stop-color="#2c7a19"/><stop offset="0.93" stop-color="#0e6008"/><stop offset="0.93" stop-color="#0d5f08"/><stop offset="0.96" stop-color="#085905"/><stop offset="0.98" stop-color="#045502"/><stop offset="1" stop-color="#005000"/></linearGradient><linearGradient id="h97" x2="0" y2="1"><stop offset="0" stop-color="#b75705"/><stop offset="0.02" stop-color="#c15b04"/><stop offset="0.09" stop-color="#ff8304"/><stop offset="0.17" stop-color="#ffa22a"/><stop offset="0.25" stop-color="#feca5a"/><stop offset="0.32" stop-color="#fce774"/><stop offset="0.4" stop-color="#f8f97f"/><stop offset="0.47" stop-color="#e9f171"/><stop offset="0.55" stop-color="#c9de64"/><stop offset="0.62" stop-color="#a5c850"/><stop offset="0.7" stop-color="#79ae3c"/><stop offset="0.78" stop-color="#4e942b"/><stop offset="0.85" stop-color="#2c7a19"/><stop offset="0.93" stop-color="#0e6008"/><stop offset="0.93" stop-color="#0d5f08"/><stop offset="0.96" stop-color="#085905"/><stop offset="0.98" stop-color="#045502"/><stop offset="1" stop-color="#005000"/></linearGradient><linearGradient id="h98" x2="0" y2="1"><stop offset="0" stop-color="#b55605"/><stop offset="0.02" stop-color="#c25b04"/><stop offset="0.1" stop-color="#ff8304"/><stop offset="0.17" stop-color="#ffa22a"/><stop offset="0.25" stop-color="#feca5a"/><stop offset="0.32" stop-color="#fce674"/><stop offset="0.4" stop-color="#f9f97f"/><stop offset="0.47" stop-color="#eaf172"/><stop offset="0.55" stop-color="#cade64"/><stop offset="0.63" stop-color="#a5c850"/><stop offset="0.7" stop-color="#7aae3c"/><stop offset="0.78" stop-color="#4f942b"/><stop offset="0.85" stop-color="#2d7a19"/><stop offset="0.93" stop-color="#0e6008"/><stop offset="0.93" stop-color="#0d5f08"/><stop offset="0.96" stop-color="#085905"/><stop offset="0.98" stop-color="#045502"/><stop offset="1" stop-color="#005000"/></linearGradient><linearGradient id="h99" x2="0" y2="1"><stop offset="0" stop-color="#b35505"/><stop offset="0.03" stop-color="#c25b04"/><stop offset="0.1" stop-color="#ff8304"/><stop offset="0.18" stop-color="#ffa22a"/><stop offset="0.25" stop-color="#fec959"/><stop offset="0.33" stop-color="#fce673"/><stop offset="0.4" stop-color="#f9fa7f"/><stop offset="0.48" stop-color="#eaf172"/><stop offset="0.55" stop-color="#cbdf64"/><stop offset="0.63" stop-color="#a6c850"/><stop offset="0.7" stop-color="#7bae3c"/><stop offset="0.78" stop-color="#4f942b"/><stop offset="0.85" stop-color="#2d7a1a"/><stop offset="0.93" stop-color="#0e6008"/><stop offset="0.93" stop-color="#0d5f08"/><stop offset="0.96" stop-color="#085905"/><stop offset="0.98" stop-color="#045502"/><stop offset="1" stop-color="#005000"/></linearGradient><linearGradient id="h100" x2="0" y2="1"><stop offset="0" stop-color="#b25506"/><stop offset="0.03" stop-color="#c25b04"/><stop offset="0.1" stop-color="#ff8304"/><stop offset="0.18" stop-color="#ffa22a"/><stop offset="0.25" stop-color="#fec959"/><stop offset="0.33" stop-color="#fce573"/><stop offset="0.41" stop-color="#fafa80"/><stop offset="0.48" stop-color="#ebf172"/><stop offset="0.56" stop-color="#ccdf65"/><stop offset="0.63" stop-color="#a7c951"/><stop offset="0.7" stop-color="#7baf3d"/><stop offset="0.78" stop-color="#50952b"/><stop offset="0.86" stop-color="#2d7a1a"/><stop offset="0.93" stop-color="#0e6008"/><stop offset="0.93" stop-color="#0e6008"/><stop offset="0.96" stop-color="#085905"/><stop offset="0.98" stop-color="#045502"/><stop offset="1" stop-color="#005000"/></linearGradient><linearGradient id="h101" x2="0" y2="1"><stop offset="0" stop-color="#b05406"/><stop offset="0.03" stop-color="#c25b04"/><stop offset="0.11" stop-color="#ff8304"/><stop offset="0.18" stop-color="#ffa129"/><stop offset="0.26" stop-color="#fec959"/><stop offset="0.33" stop-color="#fce473"/><stop offset="0.41" stop-color="#fafa80"/><stop offset="0.48" stop-color="#ebf273"/><stop offset="0.56" stop-color="#cee065"/><stop offset="0.63" stop-color="#a8ca52"/><stop offset="0.71" stop-color="#7caf3d"/><stop offset="0.78" stop-color="#50952b"/><stop offset="0.86" stop-color="#2d7a1a"/><stop offset="0.93" stop-color="#0e6008"/><stop offset="0.93" stop-color="#0e6008"/><stop offset="0.96" stop-color="#085905"/><stop offset="0.98" stop-color="#045502"/><stop offset="1" stop-color="#005000"/></linearGradient><linearGradient id="h102" x2="0" y2="1"><stop offset="0" stop-color="#ad5306"/><stop offset="0.04" stop-color="#c25c04"/><stop offset="0.11" stop-color="#ff8304"/><stop offset="0.19" stop-color="#ffa129"/><stop offset="0.26" stop-color="#fec858"/><stop offset="0.34" stop-color="#fde472"/><stop offset="0.41" stop-color="#faf980"/><stop offset="0.48" stop-color="#ecf273"/><stop offset="0.56" stop-color="#cfe166"/><stop offset="0.63" stop-color="#a9ca52"/><stop offset="0.71" stop-color="#7db03d"/><stop offset="0.78" stop-color="#50952b"/><stop offset="0.86" stop-color="#2d7a1a"/><stop offset="0.93" stop-color="#0e6008"/><stop offset="0.93" stop-color="#0e6008"/><stop offset="0.96" stop-color="#085905"/><stop offset="0.98" stop-color="#045502"/><stop offset="1" stop-color="#005000"/></linearGradient><linearGradient id="h103" x2="0" y2="1"><stop offset="0" stop-color="#ab5206"/><stop offset="0.04" stop-color="#c35c04"/><stop offset="0.12" stop-color="#ff8303"/><stop offset="0.19" stop-color="#ffa129"/><stop offset="0.26" stop-color="#ffc858"/><stop offset="0.34" stop-color="#fde372"/><stop offset="0.41" stop-color="#faf97f"/><stop offset="0.49" stop-color="#ecf274"/><stop offset="0.56" stop-color="#d0e266"/><stop offset="0.64" stop-color="#aacb53"/><stop offset="0.71" stop-color="#7db03d"/><stop offset="0.78" stop-color="#51952c"/><stop offset="0.86" stop-color="#2d7b1a"/><stop offset="0.93" stop-color="#0e6008"/><stop offset="0.96" stop-color="#085a05"/><stop offset="0.98" stop-color="#045502"/><stop offset="1" stop-color="#005000"/></linearGradient><linearGradient id="h104" x2="0" y2="1"><stop offset="0" stop-color="#a95206"/><stop offset="0.04" stop-color="#c35c04"/><stop offset="0.12" stop-color="#ff8303"/><stop offset="0.19" stop-color="#ffa128"/><stop offset="0.27" stop-color="#ffc858"/><stop offset="0.34" stop-color="#fde372"/><stop offset="0.41" stop-color="#faf87f"/><stop offset="0.49" stop-color="#edf374"/><stop offset="0.56" stop-color="#d2e367"/><stop offset="0.64" stop-color="#abcb53"/><stop offset="0.71" stop-color="#7eb13e"/><stop offset="0.79" stop-color="#52962c"/><stop offset="0.86" stop-color="#2e7b1a"/><stop offset="0.93" stop-color="#0e6008"/><stop offset="0.96" stop-color="#085a05"/><stop offset="0.98" stop-color="#045502"/><stop offset="1" stop-color="#005000"/></linearGradient><linearGradient id="h105" x2="0" y2="1"><stop offset="0" stop-color="#a75107"/><stop offset="0.05" stop-color="#c35c04"/><stop offset="0.12" stop-color="#ff8303"/><stop offset="0.2" stop-color="#ffa028"/><stop offset="0.27" stop-color="#ffc757"/><stop offset="0.34" stop-color="#fde271"/><stop offset="0.42" stop-color="#faf77e"/><stop offset="0.49" stop-color="#edf375"/><stop offset="0.56" stop-color="#d3e368"/><stop offset="0.64" stop-color="#accc54"/><stop offset="0.71" stop-color="#7fb13e"/><stop offset="0.79" stop-color="#52962c"/><stop offset="0.86" stop-color="#2e7b1a"/><stop offset="0.93" stop-color="#0e6008"/><stop offset="0.96" stop-color="#095a05"/><stop offset="0.98" stop-color="#045502"/><stop offset="1" stop-color="#005000"/></linearGradient><linearGradient id="h106" x2="0" y2="1"><stop offset="0" stop-color="#a55007"/><stop offset="0.05" stop-color="#c25b04"/><stop offset="0.13" stop-color="#ff8303"/><stop offset="0.2" stop-color="#ffa028"/><stop offset="0.27" stop-color="#ffc757"/><stop offset="0.35" stop-color="#fde171"/><stop offset="0.42" stop-color="#faf77e"/><stop offset="0.49" stop-color="#eef375"/><stop offset="0.57" stop-color="#d4e468"/><stop offset="0.64" stop-color="#adcd55"/><stop offset="0.71" stop-color="#7fb13e"/><stop offset="0.79" stop-color="#52962c"/><stop offset="0.86" stop-color="#2e7b1a"/><stop offset="0.93" stop-color="#0f6108"/><stop offset="0.96" stop-color="#095a05"/><stop offset="0.98" stop-color="#045502"/><stop offset="1" stop-color="#005000"/></linearGradient><linearGradient id="h107" x2="0" y2="1"><stop offset="0" stop-color="#a34f07"/><stop offset="0.06" stop-color="#c35c04"/><stop offset="0.13" stop-color="#ff8303"/><stop offset="0.2" stop-color="#ffa027"/><stop offset="0.28" stop-color="#ffc757"/><stop offset="0.35" stop-color="#fde171"/><stop offset="0.42" stop-color="#faf67d"/><stop offset="0.5" stop-color="#eef376"/><stop offset="0.57" stop-color="#d6e569"/><stop offset="0.64" stop-color="#aecd55"/><stop offset="0.72" stop-color="#80b23e"/><stop offset="0.79" stop-color="#53962c"/><stop offset="0.86" stop-color="#2e7b1a"/><stop offset="0.93" stop-color="#0f6109"/><stop offset="0.96" stop-color="#095a05"/><stop offset="0.98" stop-color="#045502"/><stop offset="1" stop-color="#005000"/></linearGradient><linearGradient id="h108" x2="0" y2="1"><stop offset="0" stop-color="#a14f07"/><stop offset="0.06" stop-color="#c25b04"/><stop offset="0.13" stop-color="#ff8203"/><stop offset="0.21" stop-color="#ffa027"/><stop offset="0.28" stop-color="#ffc656"/><stop offset="0.35" stop-color="#fde070"/><stop offset="0.42" stop-color="#fbf57d"/><stop offset="0.5" stop-color="#eff476"/><stop offset="0.57" stop-color="#d7e669"/><stop offset="0.64" stop-color="#afce56"/><stop offset="0.72" stop-color="#81b23f"/><stop offset="0.79" stop-color="#53972d"/><stop offset="0.86" stop-color="#2e7b1a"/><stop offset="0.93" stop-color="#0f6109"/><stop offset="0.96" stop-color="#095a05"/><stop offset="0.98" stop-color="#045503"/><stop offset="1" stop-color="#005000"/></linearGradient><linearGradient id="h109" x2="0" y2="1"><stop offset="0" stop-color="#9f4e07"/><stop offset="0.06" stop-color="#c25b04"/><stop offset="0.14" stop-color="#ff8203"/><stop offset="0.21" stop-color="#ff9f27"/><stop offset="0.28" stop-color="#ffc656"/><stop offset="0.35" stop-color="#fde070"/><stop offset="0.43" stop-color="#fbf57d"/><stop offset="0.5" stop-color="#eff476"/><stop offset="0.57" stop-color="#d8e66a"/><stop offset="0.65" stop-color="#afce56"/><stop offset="0.72" stop-color="#81b23f"/><stop offset="0.79" stop-color="#53972d"/><stop offset="0.86" stop-color="#2e7b1a"/><stop offset="0.93" stop-color="#0f6109"/><stop offset="0.96" stop-color="#095a05"/><stop offset="0.98" stop-color="#045503"/><stop offset="1" stop-color="#005000"/></linearGradient><linearGradient id="h110" x2="0" y2="1"><stop offset="0" stop-color="#9e4d08"/><stop offset="0.07" stop-color="#c35c04"/><stop offset="0.14" stop-color="#ff8203"/><stop offset="0.21" stop-color="#ff9f27"/><stop offset="0.28" stop-color="#ffc555"/><stop offset="0.36" stop-color="#fddf6f"/><stop offset="0.43" stop-color="#fbf47c"/><stop offset="0.5" stop-color="#f0f477"/><stop offset="0.57" stop-color="#d9e76a"/><stop offset="0.65" stop-color="#b0ce56"/><stop offset="0.72" stop-color="#82b33f"/><stop offset="0.79" stop-color="#54972d"/><stop offset="0.86" stop-color="#2e7c1a"/><stop offset="0.93" stop-color="#106109"/><stop offset="0.96" stop-color="#095a05"/><stop offset="0.98" stop-color="#045503"/><stop offset="1" stop-color="#005000"/></linearGradient><linearGradient id="h111" x2="0" y2="1"><stop offset="0" stop-color="#9c4d08"/><stop offset="0.07" stop-color="#c35c04"/><stop offset="0.14" stop-color="#ff8203"/><stop offset="0.21" stop-color="#ff9f26"/><stop offset="0.29" stop-color="#ffc555"/><stop offset="0.36" stop-color="#fddf6f"/><stop offset="0.43" stop-color="#fbf37c"/><stop offset="0.5" stop-color="#f0f477"/><stop offset="0.58" stop-color="#dae86a"/><stop offset="0.65" stop-color="#b1cf57"/><stop offset="0.72" stop-color="#82b33f"/><stop offset="0.79" stop-color="#54972d"/><stop offset="0.86" stop-color="#2e7c1a"/><stop offset="0.93" stop-color="#106209"/><stop offset="0.96" stop-color="#095a05"/><stop offset="0.98" stop-color="#045503"/><stop offset="1" stop-color="#005000"/></linearGradient><linearGradient id="h112" x2="0" y2="1"><stop offset="0" stop-color="#9b4c08"/><stop offset="0.07" stop-color="#c25b04"/><stop offset="0.14" stop-color="#ff8203"/><stop offset="0.21" stop-color="#ff9f26"/><stop offset="0.29" stop-color="#ffc454"/><stop offset="0.36" stop-color="#fdde6e"/><stop offset="0.43" stop-color="#fbf37c"/><stop offset="0.51" stop-color="#f0f578"/><stop offset="0.58" stop-color="#dbe86b"/><stop offset="0.65" stop-color="#b1cf57"/><stop offset="0.72" stop-color="#83b340"/><stop offset="0.79" stop-color="#54972d"/><stop offset="0.87" stop-color="#2e7c1a"/><stop offset="0.93" stop-color="#106209"/><stop offset="0.96" stop-color="#095a05"/><stop offset="0.98" stop-color="#045503"/><stop offset="1" stop-color="#005000"/></linearGradient><linearGradient id="h113" x2="0" y2="1"><stop offset="0" stop-color="#9a4c08"/><stop offset="0" stop-color="#9a4c08"/><stop offset="0.07" stop-color="#c25b04"/><stop offset="0.14" stop-color="#ff8203"/><stop offset="0.22" stop-color="#ff9f26"/><stop offset="0.29" stop-color="#ffc454"/><stop offset="0.36" stop-color="#fddd6d"/><stop offset="0.43" stop-color="#fbf37b"/><stop offset="0.51" stop-color="#f1f578"/><stop offset="0.58" stop-color="#dce96b"/><stop offset="0.65" stop-color="#b2cf57"/><stop offset="0.72" stop-color="#83b440"/><stop offset="0.8" stop-color="#54972d"/><stop offset="0.87" stop-color="#2e7c1a"/><stop offset="0.93" stop-color="#106209"/><stop offset="0.96" stop-color="#095a05"/><stop offset="0.98" stop-color="#055503"/><stop offset="1" stop-color="#005000"/></linearGradient><linearGradient id="h114" x2="0" y2="1"><stop offset="0" stop-color="#994b08"/><stop offset="0" stop-color="#9a4c08"/><stop offset="0.07" stop-color="#c35c04"/><stop offset="0.15" stop-color="#ff8203"/><stop offset="0.22" stop-color="#ff9e26"/><stop offset="0.29" stop-color="#ffc454"/><stop offset="0.36" stop-color="#fddd6d"/><stop offset="0.43" stop-color="#fbf27b"/><stop offset="0.51" stop-color="#f1f578"/><stop offset="0.58" stop-color="#dce96b"/><stop offset="0.65" stop-color="#b2d058"/><stop offset="0.72" stop-color="#83b440"/><stop offset="0.8" stop-color="#55982d"/><stop offset="0.87" stop-color="#2f7c1a"/><stop offset="0.93" stop-color="#106209"/><stop offset="0.96" stop-color="#095a05"/><stop offset="0.98" stop-color="#055503"/><stop offset="1" stop-color="#005000"/></linearGradient><linearGradient id="h115" x2="0" y2="1"><stop offset="0" stop-color="#984b08"/><stop offset="0" stop-color="#9a4c08"/><stop offset="0.07" stop-color="#c25b04"/><stop offset="0.15" stop-color="#ff8202"/><stop offset="0.22" stop-color="#ff9e25"/><stop offset="0.29" stop-color="#ffc353"/><stop offset="0.36" stop-color="#fddd6d"/><stop offset="0.43" stop-color="#fbf27b"/><stop offset="0.51" stop-color="#f1f578"/><stop offset="0.58" stop-color="#dde96b"/><stop offset="0.65" stop-color="#b2d058"/><stop offset="0.72" stop-color="#83b440"/><stop offset="0.8" stop-color="#55982d"/><stop offset="0.87" stop-color="#2f7c1a"/><stop offset="0.93" stop-color="#106209"/><stop offset="0.96" stop-color="#095a05"/><stop offset="0.98" stop-color="#055503"/><stop offset="1" stop-color="#005000"/></linearGradient><linearGradient id="h116" x2="0" y2="1"><stop offset="0" stop-color="#984b08"/><stop offset="0" stop-color="#9a4c08"/><stop offset="0.08" stop-color="#c25b04"/><stop offset="0.15" stop-color="#ff8202"/><stop offset="0.22" stop-color="#ff9e25"/><stop offset="0.29" stop-color="#ffc353"/><stop offset="0.36" stop-color="#fddd6d"/><stop offset="0.44" stop-color="#fbf27b"/><stop offset="0.51" stop-color="#f1f578"/><stop offset="0.58" stop-color="#dde96c"/><stop offset="0.65" stop-color="#b2d058"/><stop offset="0.72" stop-color="#84b440"/><stop offset="0.8" stop-color="#55982d"/><stop offset="0.87" stop-color="#2f7c1a"/><stop offset="0.93" stop-color="#106209"/><stop offset="0.96" stop-color="#095a05"/><stop offset="0.98" stop-color="#055503"/><stop offset="1" stop-color="#005000"/></linearGradient><linearGradient id="h117" x2="0" y2="1"><stop offset="0" stop-color="#984b08"/><stop offset="0.01" stop-color="#9a4c08"/><stop offset="0.08" stop-color="#c25b04"/><stop offset="0.15" stop-color="#ff8202"/><stop offset="0.22" stop-color="#ff9e25"/><stop offset="0.29" stop-color="#ffc353"/><stop offset="0.36" stop-color="#fddd6d"/><stop offset="0.44" stop-color="#fbf27b"/><stop offset="0.51" stop-color="#f1f578"/><stop offset="0.58" stop-color="#dde96b"/><stop offset="0.65" stop-color="#b2d058"/><stop offset="0.72" stop-color="#84b440"/><stop offset="0.8" stop-color="#55982d"/><stop offset="0.87" stop-color="#2f7c1a"/><stop offset="0.93" stop-color="#106209"/><stop offset="0.96" stop-color="#095a05"/><stop offset="0.98" stop-color="#055503"/><stop offset="1" stop-color="#005000"/></linearGradient><linearGradient id="h118" x2="0" y2="1"><stop offset="0" stop-color="#984b08"/><stop offset="0" stop-color="#9a4c08"/><stop offset="0.08" stop-color="#c25b04"/><stop offset="0.15" stop-color="#ff8202"/><stop offset="0.22" stop-color="#ff9e25"/><stop offset="0.29" stop-color="#ffc353"/><stop offset="0.36" stop-color="#fddd6d"/><stop offset="0.43" stop-color="#fbf27b"/><stop offset="0.51" stop-color="#f1f578"/><stop offset="0.58" stop-color="#dde96c"/><stop offset="0.65" stop-color="#b2d058"/><stop offset="0.72" stop-color="#84b440"/><stop offset="0.8" stop-color="#55982d"/><stop offset="0.87" stop-color="#2f7c1a"/><stop offset="0.93" stop-color="#106209"/><stop offset="0.96" stop-color="#095a05"/><stop offset="0.98" stop-color="#055503"/><stop offset="1" stop-color="#005000"/></linearGradient><linearGradient id="h119" x2="0" y2="1"><stop offset="0" stop-color="#994b08"/><stop offset="0" stop-color="#9a4c08"/><stop offset="0.07" stop-color="#c35c04"/><stop offset="0.15" stop-color="#ff8202"/><stop offset="0.22" stop-color="#ff9e26"/><stop offset="0.29" stop-color="#ffc454"/><stop offset="0.36" stop-color="#fddd6d"/><stop offset="0.43" stop-color="#fbf27b"/><stop offset="0.51" stop-color="#f1f578"/><stop offset="0.58" stop-color="#dce96b"/><stop offset="0.65" stop-color="#b2d058"/><stop offset="0.72" stop-color="#83b440"/><stop offset="0.8" stop-color="#55982d"/><stop offset="0.87" stop-color="#2e7c1a"/><stop offset="0.93" stop-color="#106209"/><stop offset="0.96" stop-color="#095a05"/><stop offset="0.98" stop-color="#055503"/><stop offset="1" stop-color="#005000"/></linearGradient><linearGradient id="h120" x2="0" y2="1"><stop offset="0" stop-color="#994c08"/><stop offset="0" stop-color="#9a4c08"/><stop offset="0.07" stop-color="#c35c04"/><stop offset="0.15" stop-color="#ff8202"/><stop offset="0.22" stop-color="#ff9e25"/><stop offset="0.29" stop-color="#ffc454"/><stop offset="0.36" stop-color="#fddd6d"/><stop offset="0.43" stop-color="#fbf27b"/><stop offset="0.51" stop-color="#f1f578"/><stop offset="0.58" stop-color="#dce96b"/><stop offset="0.65" stop-color="#b2cf57"/><stop offset="0.72" stop-color="#83b340"/><stop offset="0.8" stop-color="#55982d"/><stop offset="0.87" stop-color="#2f7c1a"/><stop offset="0.93" stop-color="#106209"/><stop offset="0.96" stop-color="#095a05"/><stop offset="0.98" stop-color="#055503"/><stop offset="1" stop-color="#005000"/></linearGradient><linearGradient id="h121" x2="0" y2="1"><stop offset="0" stop-color="#9a4c08"/><stop offset="0.07" stop-color="#c25b04"/><stop offset="0.14" stop-color="#ff8203"/><stop offset="0.22" stop-color="#ff9f26"/><stop offset="0.29" stop-color="#ffc454"/><stop offset="0.36" stop-color="#fdde6e"/><stop offset="0.43" stop-color="#fbf37c"/><stop offset="0.51" stop-color="#f1f578"/><stop offset="0.58" stop-color="#dbe86b"/><stop offset="0.65" stop-color="#b1cf57"/><stop offset="0.72" stop-color="#83b340"/><stop offset="0.79" stop-color="#55982d"/><stop offset="0.87" stop-color="#2e7b1a"/><stop offset="0.93" stop-color="#106209"/><stop offset="0.96" stop-color="#095a05"/><stop offset="0.98" stop-color="#055503"/><stop offset="1" stop-color="#005000"/></linearGradient><linearGradient id="h122" x2="0" y2="1"><stop offset="0" stop-color="#9b4c08"/><stop offset="0.07" stop-color="#c25b04"/><stop offset="0.14" stop-color="#ff8203"/><stop offset="0.21" stop-color="#ff9f26"/><stop offset="0.29" stop-color="#ffc555"/><stop offset="0.36" stop-color="#fdde6e"/><stop offset="0.43" stop-color="#fbf37c"/><stop offset="0.5" stop-color="#f0f577"/><stop offset="0.58" stop-color="#dae86b"/><stop offset="0.65" stop-color="#b1cf57"/><stop offset="0.72" stop-color="#82b33f"/><stop offset="0.79" stop-color="#54972d"/><stop offset="0.87" stop-color="#2e7b1a"/><stop offset="0.93" stop-color="#106209"/><stop offset="0.96" stop-color="#095a05"/><stop offset="0.98" stop-color="#045503"/><stop offset="1" stop-color="#005000"/></linearGradient><linearGradient id="h123" x2="0" y2="1"><stop offset="0" stop-color="#9d4d08"/><stop offset="0.07" stop-color="#c25b04"/><stop offset="0.14" stop-color="#ff8203"/><stop offset="0.21" stop-color="#ff9f26"/><stop offset="0.28" stop-color="#ffc555"/><stop offset="0.36" stop-color="#fddf6f"/><stop offset="0.43" stop-color="#fbf47c"/><stop offset="0.5" stop-color="#f0f477"/><stop offset="0.57" stop-color="#dae76a"/><stop offset="0.65" stop-color="#b0ce56"/><stop offset="0.72" stop-color="#82b33f"/><stop offset="0.79" stop-color="#54972d"/><stop offset="0.86" stop-color="#2e7b1a"/><stop offset="0.93" stop-color="#106109"/><stop offset="0.96" stop-color="#095a05"/><stop offset="0.98" stop-color="#045503"/><stop offset="1" stop-color="#005000"/></linearGradient><linearGradient id="h124" x2="0" y2="1"><stop offset="0" stop-color="#9e4e08"/><stop offset="0.07" stop-color="#c35c04"/><stop offset="0.14" stop-color="#ff8203"/><stop offset="0.21" stop-color="#ff9f26"/><stop offset="0.28" stop-color="#ffc555"/><stop offset="0.35" stop-color="#fddf6f"/><stop offset="0.43" stop-color="#fbf47c"/><stop offset="0.5" stop-color="#eff477"/><stop offset="0.57" stop-color="#d8e76a"/><stop offset="0.65" stop-color="#afce56"/><stop offset="0.72" stop-color="#82b33f"/><stop offset="0.79" stop-color="#54972d"/><stop offset="0.86" stop-color="#2e7b1a"/><stop offset="0.93" stop-color="#106109"/><stop offset="0.96" stop-color="#095a05"/><stop offset="0.98" stop-color="#045503"/><stop offset="1" stop-color="#005000"/></linearGradient><linearGradient id="h125" x2="0" y2="1"><stop offset="0" stop-color="#a04e07"/><stop offset="0.06" stop-color="#c25b04"/><stop offset="0.14" stop-color="#ff8203"/><stop offset="0.21" stop-color="#ff9f27"/><stop offset="0.28" stop-color="#ffc656"/><stop offset="0.35" stop-color="#fde070"/><stop offset="0.43" stop-color="#fbf57d"/><stop offset="0.5" stop-color="#eff476"/><stop offset="0.57" stop-color="#d8e669"/><stop offset="0.65" stop-color="#afce56"/><stop offset="0.72" stop-color="#81b23f"/><stop offset="0.79" stop-color="#53972d"/><stop offset="0.86" stop-color="#2e7b1a"/><stop offset="0.93" stop-color="#0f6109"/><stop offset="0.96" stop-color="#095a05"/><stop offset="0.98" stop-color="#045503"/><stop offset="1" stop-color="#005000"/></linearGradient><linearGradient id="h126" x2="0" y2="1"><stop offset="0" stop-color="#a24f07"/><stop offset="0.06" stop-color="#c35c04"/><stop offset="0.13" stop-color="#ff8303"/><stop offset="0.2" stop-color="#ffa027"/><stop offset="0.28" stop-color="#ffc656"/><stop offset="0.35" stop-color="#fde070"/><stop offset="0.42" stop-color="#fbf57d"/><stop offset="0.5" stop-color="#eff476"/><stop offset="0.57" stop-color="#d6e569"/><stop offset="0.64" stop-color="#aecd55"/><stop offset="0.72" stop-color="#81b23f"/><stop offset="0.79" stop-color="#53972c"/><stop offset="0.86" stop-color="#2e7b1a"/><stop offset="0.93" stop-color="#0f6109"/><stop offset="0.96" stop-color="#095a05"/><stop offset="0.98" stop-color="#045502"/><stop offset="1" stop-color="#005000"/></linearGradient><linearGradient id="h127" x2="0" y2="1"><stop offset="0" stop-color="#a45007"/><stop offset="0.06" stop-color="#c35c04"/><stop offset="0.13" stop-color="#ff8303"/><stop offset="0.2" stop-color="#ffa028"/><stop offset="0.28" stop-color="#ffc757"/><stop offset="0.35" stop-color="#fde171"/><stop offset="0.42" stop-color="#faf67e"/><stop offset="0.49" stop-color="#eef375"/><stop offset="0.57" stop-color="#d5e568"/><stop offset="0.64" stop-color="#adcd55"/><stop offset="0.71" stop-color="#80b23e"/><stop offset="0.79" stop-color="#53962c"/><stop offset="0.86" stop-color="#2e7b1a"/><stop offset="0.93" stop-color="#0f6108"/><stop offset="0.96" stop-color="#095a05"/><stop offset="0.98" stop-color="#045502"/><stop offset="1" stop-color="#005000"/></linearGradient><linearGradient id="h128" x2="0" y2="1"><stop offset="0" stop-color="#a65007"/><stop offset="0.05" stop-color="#c35c04"/><stop offset="0.12" stop-color="#ff8303"/><stop offset="0.2" stop-color="#ffa028"/><stop offset="0.27" stop-color="#ffc757"/><stop offset="0.34" stop-color="#fde271"/><stop offset="0.42" stop-color="#faf77e"/><stop offset="0.49" stop-color="#eef375"/><stop offset="0.57" stop-color="#d4e468"/><stop offset="0.64" stop-color="#accc54"/><stop offset="0.71" stop-color="#7fb13e"/><stop offset="0.79" stop-color="#52962c"/><stop offset="0.86" stop-color="#2e7b1a"/><stop offset="0.93" stop-color="#0f6008"/><stop offset="0.96" stop-color="#095a05"/><stop offset="0.98" stop-color="#045502"/><stop offset="1" stop-color="#005000"/></linearGradient><linearGradient id="h129" x2="0" y2="1"><stop offset="0" stop-color="#a85107"/><stop offset="0.05" stop-color="#c25b04"/><stop offset="0.12" stop-color="#ff8303"/><stop offset="0.2" stop-color="#ffa028"/><stop offset="0.27" stop-color="#ffc858"/><stop offset="0.34" stop-color="#fde271"/><stop offset="0.42" stop-color="#faf87f"/><stop offset="0.49" stop-color="#edf374"/><stop offset="0.56" stop-color="#d2e367"/><stop offset="0.64" stop-color="#abcc54"/><stop offset="0.71" stop-color="#7eb13e"/><stop offset="0.79" stop-color="#52962c"/><stop offset="0.86" stop-color="#2e7b1a"/><stop offset="0.93" stop-color="#0e6008"/><stop offset="0.96" stop-color="#085a05"/><stop offset="0.98" stop-color="#045502"/><stop offset="1" stop-color="#005000"/></linearGradient><linearGradient id="h130" x2="0" y2="1"><stop offset="0" stop-color="#aa5206"/><stop offset="0.04" stop-color="#c25b04"/><stop offset="0.12" stop-color="#ff8304"/><stop offset="0.19" stop-color="#ffa129"/><stop offset="0.27" stop-color="#ffc858"/><stop offset="0.34" stop-color="#fde372"/><stop offset="0.41" stop-color="#faf87f"/><stop offset="0.49" stop-color="#ecf274"/><stop offset="0.56" stop-color="#d1e267"/><stop offset="0.64" stop-color="#aacb53"/><stop offset="0.71" stop-color="#7eb03e"/><stop offset="0.79" stop-color="#51952c"/><stop offset="0.86" stop-color="#2d7b1a"/><stop offset="0.93" stop-color="#0e6008"/><stop offset="0.96" stop-color="#085a05"/><stop offset="0.98" stop-color="#045502"/><stop offset="1" stop-color="#005000"/></linearGradient><linearGradient id="h131" x2="0" y2="1"><stop offset="0" stop-color="#ac5306"/><stop offset="0.04" stop-color="#c25b04"/><stop offset="0.11" stop-color="#ff8304"/><stop offset="0.19" stop-color="#ffa129"/><stop offset="0.26" stop-color="#fec858"/><stop offset="0.34" stop-color="#fde472"/><stop offset="0.41" stop-color="#faf97f"/><stop offset="0.49" stop-color="#ecf273"/><stop offset="0.56" stop-color="#d0e266"/><stop offset="0.64" stop-color="#aacb53"/><stop offset="0.71" stop-color="#7db03d"/><stop offset="0.78" stop-color="#51952b"/><stop offset="0.86" stop-color="#2d7b1a"/><stop offset="0.93" stop-color="#0e6008"/><stop offset="0.93" stop-color="#0e6008"/><stop offset="0.96" stop-color="#085a05"/><stop offset="0.98" stop-color="#045502"/><stop offset="1" stop-color="#005000"/></linearGradient><linearGradient id="h132" x2="0" y2="1"><stop offset="0" stop-color="#ae5306"/><stop offset="0.04" stop-color="#c25b04"/><stop offset="0.11" stop-color="#ff8303"/><stop offset="0.18" stop-color="#ffa129"/><stop offset="0.26" stop-color="#fec959"/><stop offset="0.33" stop-color="#fde473"/><stop offset="0.41" stop-color="#fafa80"/><stop offset="0.48" stop-color="#ebf273"/><stop offset="0.56" stop-color="#cfe166"/><stop offset="0.63" stop-color="#a8ca52"/><stop offset="0.71" stop-color="#7caf3d"/><stop offset="0.78" stop-color="#50952b"/><stop offset="0.86" stop-color="#2d7b1a"/><stop offset="0.93" stop-color="#0e6008"/><stop offset="0.93" stop-color="#0e6008"/><stop offset="0.96" stop-color="#085905"/><stop offset="0.98" stop-color="#045502"/><stop offset="1" stop-color="#005000"/></linearGradient><linearGradient id="h133" x2="0" y2="1"><stop offset="0" stop-color="#b05406"/><stop offset="0.03" stop-color="#c25b04"/><stop offset="0.11" stop-color="#ff8304"/><stop offset="0.18" stop-color="#ffa22a"/><stop offset="0.26" stop-color="#fec959"/><stop offset="0.33" stop-color="#fce573"/><stop offset="0.41" stop-color="#fafa80"/><stop offset="0.48" stop-color="#ebf273"/><stop offset="0.56" stop-color="#cde065"/><stop offset="0.63" stop-color="#a8c951"/><stop offset="0.71" stop-color="#7caf3d"/><stop offset="0.78" stop-color="#50952b"/><stop offset="0.86" stop-color="#2d7a1a"/><stop offset="0.93" stop-color="#0e6008"/><stop offset="0.93" stop-color="#0e6008"/><stop offset="0.96" stop-color="#085905"/><stop offset="0.98" stop-color="#045502"/><stop offset="1" stop-color="#005000"/></linearGradient><linearGradient id="h134" x2="0" y2="1"><stop offset="0" stop-color="#b25505"/><stop offset="0.03" stop-color="#c25b04"/><stop offset="0.1" stop-color="#ff8304"/><stop offset="0.18" stop-color="#ffa22a"/><stop offset="0.25" stop-color="#fec959"/><stop offset="0.33" stop-color="#fce573"/><stop offset="0.4" stop-color="#f9fa7f"/><stop offset="0.48" stop-color="#eaf172"/><stop offset="0.55" stop-color="#ccdf65"/><stop offset="0.63" stop-color="#a7c951"/><stop offset="0.7" stop-color="#7baf3c"/><stop offset="0.78" stop-color="#50952b"/><stop offset="0.85" stop-color="#2d7a1a"/><stop offset="0.93" stop-color="#0e6008"/><stop offset="0.93" stop-color="#0e5f08"/><stop offset="0.96" stop-color="#085905"/><stop offset="0.98" stop-color="#045502"/><stop offset="1" stop-color="#005000"/></linearGradient><linearGradient id="h135" x2="0" y2="1"><stop offset="0" stop-color="#b45605"/><stop offset="0.02" stop-color="#c25b04"/><stop offset="0.1" stop-color="#ff8304"/><stop offset="0.17" stop-color="#ffa22a"/><stop offset="0.25" stop-color="#fec959"/><stop offset="0.33" stop-color="#fce674"/><stop offset="0.4" stop-color="#f9f97f"/><stop offset="0.48" stop-color="#eaf172"/><stop offset="0.55" stop-color="#cbde64"/><stop offset="0.63" stop-color="#a6c850"/><stop offset="0.7" stop-color="#7aae3c"/><stop offset="0.78" stop-color="#4f942b"/><stop offset="0.85" stop-color="#2d7a19"/><stop offset="0.93" stop-color="#0e6008"/><stop offset="0.93" stop-color="#0d5f08"/><stop offset="0.96" stop-color="#085905"/><stop offset="0.98" stop-color="#045502"/><stop offset="1" stop-color="#005000"/></linearGradient><linearGradient id="h136" x2="0" y2="1"><stop offset="0" stop-color="#b65605"/><stop offset="0.02" stop-color="#c25b04"/><stop offset="0.1" stop-color="#ff8304"/><stop offset="0.17" stop-color="#ffa22a"/><stop offset="0.25" stop-color="#feca5a"/><stop offset="0.32" stop-color="#fce674"/><stop offset="0.4" stop-color="#f9f97f"/><stop offset="0.47" stop-color="#e9f171"/><stop offset="0.55" stop-color="#cade64"/><stop offset="0.63" stop-color="#a5c850"/><stop offset="0.7" stop-color="#7aae3c"/><stop offset="0.78" stop-color="#4f942b"/><stop offset="0.85" stop-color="#2c7a19"/><stop offset="0.93" stop-color="#0e6008"/><stop offset="0.93" stop-color="#0d5f08"/><stop offset="0.96" stop-color="#085905"/><stop offset="0.98" stop-color="#045502"/><stop offset="1" stop-color="#005000"/></linearGradient><linearGradient id="h137" x2="0" y2="1"><stop offset="0" stop-color="#b85705"/><stop offset="0.02" stop-color="#c15b04"/><stop offset="0.09" stop-color="#ff8304"/><stop offset="0.17" stop-color="#ffa22a"/><stop offset="0.24" stop-color="#feca5a"/><stop offset="0.32" stop-color="#fce774"/><stop offset="0.4" stop-color="#f8f97e"/><stop offset="0.47" stop-color="#e9f171"/><stop offset="0.55" stop-color="#c9dd64"/><stop offset="0.62" stop-color="#a4c74f"/><stop offset="0.7" stop-color="#79ae3c"/><stop offset="0.78" stop-color="#4e942b"/><stop offset="0.85" stop-color="#2c7a19"/><stop offset="0.93" stop-color="#0e6008"/><stop offset="0.93" stop-color="#0d5f08"/><stop offset="0.96" stop-color="#085905"/><stop offset="0.98" stop-color="#045502"/><stop offset="1" stop-color="#005000"/></linearGradient><linearGradient id="h138" x2="0" y2="1"><stop offset="0" stop-color="#b95805"/><stop offset="0.01" stop-color="#c15b04"/><stop offset="0.09" stop-color="#ff8304"/><stop offset="0.17" stop-color="#ffa22a"/><stop offset="0.24" stop-color="#feca5a"/><stop offset="0.32" stop-color="#fce774"/><stop offset="0.4" stop-color="#f8f97e"/><stop offset="0.47" stop-color="#e9f071"/><stop offset="0.55" stop-color="#c8dd63"/><stop offset="0.62" stop-color="#a3c74f"/><stop offset="0.7" stop-color="#78ad3b"/><stop offset="0.78" stop-color="#4e932a"/><stop offset="0.85" stop-color="#2c7a19"/><stop offset="0.93" stop-color="#0e6008"/><stop offset="0.93" stop-color="#0d5f07"/><stop offset="0.96" stop-color="#085904"/><stop offset="0.98" stop-color="#045402"/><stop offset="1" stop-color="#005000"/></linearGradient><linearGradient id="h139" x2="0" y2="1"><stop offset="0" stop-color="#ba5805"/><stop offset="0.01" stop-color="#c15b04"/><stop offset="0.09" stop-color="#ff8304"/><stop offset="0.17" stop-color="#ffa22a"/><stop offset="0.24" stop-color="#feca5a"/><stop offset="0.32" stop-color="#fce775"/><stop offset="0.39" stop-color="#f8f97e"/><stop offset="0.47" stop-color="#e9f070"/><stop offset="0.55" stop-color="#c7dc63"/><stop offset="0.62" stop-color="#a3c74f"/><stop offset="0.7" stop-color="#78ad3b"/><stop offset="0.78" stop-color="#4e932a"/><stop offset="0.85" stop-color="#2c7a19"/><stop offset="0.93" stop-color="#0e6008"/><stop offset="0.93" stop-color="#0d5f07"/><stop offset="0.96" stop-color="#085904"/><stop offset="0.98" stop-color="#045402"/><stop offset="1" stop-color="#005000"/></linearGradient><linearGradient id="h140" x2="0" y2="1"><stop offset="0" stop-color="#b65605"/><stop offset="0.02" stop-color="#c15b04"/><stop offset="0.1" stop-color="#ff8304"/><stop offset="0.17" stop-color="#ffa22a"/><stop offset="0.25" stop-color="#feca5a"/><stop offset="0.33" stop-color="#fce774"/><stop offset="0.4" stop-color="#f8f97f"/><stop offset="0.48" stop-color="#e9f171"/><stop offset="0.55" stop-color="#cade64"/><stop offset="0.63" stop-color="#a5c850"/><stop offset="0.7" stop-color="#7bae3c"/><stop offset="0.78" stop-color="#51952b"/><stop offset="0.86" stop-color="#2d7b1a"/><stop offset="0.93" stop-color="#0e6008"/><stop offset="0.93" stop-color="#0e6008"/><stop offset="0.96" stop-color="#085905"/><stop offset="0.98" stop-color="#045502"/><stop offset="1" stop-color="#005000"/></linearGradient><linearGradient id="h141" x2="0" y2="1"><stop offset="0" stop-color="#ba5805"/><stop offset="0.01" stop-color="#c15a04"/><stop offset="0.09" stop-color="#ff8304"/><stop offset="0.17" stop-color="#ffa22b"/><stop offset="0.24" stop-color="#feca5a"/><stop offset="0.32" stop-color="#fce875"/><stop offset="0.4" stop-color="#f8f97e"/><stop offset="0.47" stop-color="#e8f070"/><stop offset="0.55" stop-color="#c7dc63"/><stop offset="0.62" stop-color="#a3c74f"/><stop offset="0.7" stop-color="#79ad3c"/><stop offset="0.78" stop-color="#4f942b"/><stop offset="0.85" stop-color="#2d7a19"/><stop offset="0.93" stop-color="#0e6008"/><stop offset="0.93" stop-color="#0d5f08"/><stop offset="0.96" stop-color="#085905"/><stop offset="0.98" stop-color="#045502"/><stop offset="1" stop-color="#005000"/></linearGradient><linearGradient id="h142" x2="0" y2="1"><stop offset="0" stop-color="#be5904"/><stop offset="0" stop-color="#c05a04"/><stop offset="0.08" stop-color="#ff8304"/><stop offset="0.16" stop-color="#ffa22a"/><stop offset="0.23" stop-color="#fecb5b"/><stop offset="0.31" stop-color="#fce975"/><stop offset="0.39" stop-color="#f7f87d"/><stop offset="0.47" stop-color="#e7ef70"/><stop offset="0.54" stop-color="#c5db62"/><stop offset="0.62" stop-color="#a1c54d"/><stop offset="0.7" stop-color="#77ac3b"/><stop offset="0.77" stop-color="#4d932a"/><stop offset="0.85" stop-color="#2c7919"/><stop offset="0.93" stop-color="#0e6008"/><stop offset="0.93" stop-color="#0d5f07"/><stop offset="0.96" stop-color="#085904"/><stop offset="0.98" stop-color="#045402"/><stop offset="1" stop-color="#005000"/></linearGradient><linearGradient id="h143" x2="0" y2="1"><stop offset="0" stop-color="#bf5a04"/><stop offset="0" stop-color="#c05a04"/><stop offset="0.08" stop-color="#ff8304"/><stop offset="0.15" stop-color="#ffa22a"/><stop offset="0.23" stop-color="#fecb5b"/><stop offset="0.31" stop-color="#fce976"/><stop offset="0.39" stop-color="#f7f87d"/><stop offset="0.46" stop-color="#e6ef6f"/><stop offset="0.54" stop-color="#c4db62"/><stop offset="0.62" stop-color="#a0c54d"/><stop offset="0.69" stop-color="#76ac3a"/><stop offset="0.77" stop-color="#4c932a"/><stop offset="0.85" stop-color="#2c7919"/><stop offset="0.93" stop-color="#0e6008"/><stop offset="0.93" stop-color="#0d5f07"/><stop offset="0.96" stop-color="#085904"/><stop offset="0.98" stop-color="#045402"/><stop offset="1" stop-color="#005000"/></linearGradient><linearGradient id="h144" x2="0" y2="1"><stop offset="0" stop-color="#c05a04"/><stop offset="0.08" stop-color="#ff8303"/><stop offset="0.15" stop-color="#ffa22b"/><stop offset="0.23" stop-color="#fecb5b"/><stop offset="0.31" stop-color="#fce976"/><stop offset="0.39" stop-color="#f6f87d"/><stop offset="0.46" stop-color="#e6ef6f"/><stop offset="0.54" stop-color="#c4da61"/><stop offset="0.62" stop-color="#a0c54d"/><stop offset="0.69" stop-color="#76ab3a"/><stop offset="0.77" stop-color="#4c932a"/><stop offset="0.85" stop-color="#2c7919"/><stop offset="0.93" stop-color="#0e6008"/><stop offset="0.93" stop-color="#0d5e07"/><stop offset="0.96" stop-color="#085904"/><stop offset="0.98" stop-color="#045402"/><stop offset="1" stop-color="#005000"/></linearGradient><linearGradient id="h145" x2="0" y2="1"><stop offset="0" stop-color="#c25b04"/><stop offset="0.07" stop-color="#ff8304"/><stop offset="0.15" stop-color="#ffa22b"/><stop offset="0.23" stop-color="#fecb5b"/><stop offset="0.31" stop-color="#fce976"/><stop offset="0.39" stop-color="#f6f87d"/><stop offset="0.46" stop-color="#e5ee6f"/><stop offset="0.54" stop-color="#c3da61"/><stop offset="0.62" stop-color="#9fc44c"/><stop offset="0.69" stop-color="#76ab3a"/><stop offset="0.77" stop-color="#4c9229"/><stop offset="0.85" stop-color="#2b7919"/><stop offset="0.93" stop-color="#0e6008"/><stop offset="0.93" stop-color="#0d5e07"/><stop offset="0.96" stop-color="#085904"/><stop offset="0.98" stop-color="#045402"/><stop offset="1" stop-color="#005000"/></linearGradient><linearGradient id="h146" x2="0" y2="1"><stop offset="0" stop-color="#c35c04"/><stop offset="0.07" stop-color="#ff8303"/><stop offset="0.15" stop-color="#ffa22b"/><stop offset="0.23" stop-color="#fecb5b"/><stop offset="0.31" stop-color="#fce976"/><stop offset="0.38" stop-color="#f6f87c"/><stop offset="0.46" stop-color="#e5ee6f"/><stop offset="0.54" stop-color="#c3da61"/><stop offset="0.62" stop-color="#9fc44c"/><stop offset="0.69" stop-color="#75ab3a"/><stop offset="0.77" stop-color="#4c9229"/><stop offset="0.85" stop-color="#2b7919"/><stop offset="0.93" stop-color="#0e6008"/><stop offset="0.93" stop-color="#0d5e07"/><stop offset="0.96" stop-color="#085904"/><stop offset="0.98" stop-color="#045402"/><stop offset="1" stop-color="#005000"/></linearGradient><linearGradient id="h147" x2="0" y2="1"><stop offset="0" stop-color="#c45c04"/><stop offset="0.07" stop-color="#ff8303"/><stop offset="0.15" stop-color="#ffa32b"/><stop offset="0.23" stop-color="#fecb5b"/><stop offset="0.3" stop-color="#fcea76"/><stop offset="0.38" stop-color="#f6f87c"/><stop offset="0.46" stop-color="#e5ee6f"/><stop offset="0.54" stop-color="#c2d961"/><stop offset="0.61" stop-color="#9fc44c"/><stop offset="0.69" stop-color="#75ab3a"/><stop offset="0.77" stop-color="#4c9229"/><stop offset="0.85" stop-color="#2b7919"/><stop offset="0.93" stop-color="#0e6008"/><stop offset="0.93" stop-color="#0d5e07"/><stop offset="0.96" stop-color="#085904"/><stop offset="0.98" stop-color="#045402"/><stop offset="1" stop-color="#005000"/></linearGradient><linearGradient id="h148" x2="0" y2="1"><stop offset="0" stop-color="#c55d04"/><stop offset="0.07" stop-color="#ff8303"/><stop offset="0.15" stop-color="#ffa22b"/><stop offset="0.23" stop-color="#fecb5b"/><stop offset="0.3" stop-color="#fcea76"/><stop offset="0.38" stop-color="#f6f87c"/><stop offset="0.46" stop-color="#e4ee6f"/><stop offset="0.54" stop-color="#c2d961"/><stop offset="0.61" stop-color="#9fc44c"/><stop offset="0.69" stop-color="#75ab3a"/><stop offset="0.77" stop-color="#4b9229"/><stop offset="0.85" stop-color="#2b7919"/><stop offset="0.93" stop-color="#0e6008"/><stop offset="0.93" stop-color="#0d5e07"/><stop offset="0.96" stop-color="#085904"/><stop offset="0.98" stop-color="#045402"/><stop offset="1" stop-color="#005000"/></linearGradient><linearGradient id="h149" x2="0" y2="1"><stop offset="0" stop-color="#c55d04"/><stop offset="0.07" stop-color="#ff8304"/><stop offset="0.15" stop-color="#ffa32b"/><stop offset="0.23" stop-color="#fecb5b"/><stop offset="0.3" stop-color="#fcea76"/><stop offset="0.38" stop-color="#f6f87c"/><stop offset="0.46" stop-color="#e4ee6e"/><stop offset="0.54" stop-color="#c2d961"/><stop offset="0.61" stop-color="#9ec44c"/><stop offset="0.69" stop-color="#75ab3a"/><stop offset="0.77" stop-color="#4b9229"/><stop offset="0.85" stop-color="#2b7919"/><stop offset="0.93" stop-color="#0e6008"/><stop offset="0.93" stop-color="#0c5e07"/><stop offset="0.96" stop-color="#075904"/><stop offset="0.98" stop-color="#045402"/><stop offset="1" stop-color="#005000"/></linearGradient><linearGradient id="h150" x2="0" y2="1"><stop offset="0" stop-color="#c65e04"/><stop offset="0.07" stop-color="#ff8304"/><stop offset="0.15" stop-color="#ffa32b"/><stop offset="0.23" stop-color="#fecb5b"/><stop offset="0.3" stop-color="#fcea76"/><stop offset="0.38" stop-color="#f6f87c"/><stop offset="0.46" stop-color="#e4ee6e"/><stop offset="0.54" stop-color="#c2d961"/><stop offset="0.61" stop-color="#9ec44c"/><stop offset="0.69" stop-color="#75ab3a"/><stop offset="0.77" stop-color="#4b9229"/><stop offset="0.85" stop-color="#2b7919"/><stop offset="0.93" stop-color="#0e6008"/><stop offset="0.93" stop-color="#0c5e07"/><stop offset="0.96" stop-color="#075904"/><stop offset="0.98" stop-color="#045402"/><stop offset="1" stop-color="#005000"/></linearGradient><linearGradient id="h151" x2="0" y2="1"><stop offset="0" stop-color="#c75e04"/><stop offset="0.07" stop-color="#ff8303"/><stop offset="0.15" stop-color="#ffa32b"/><stop offset="0.23" stop-color="#fecb5b"/><stop offset="0.3" stop-color="#fcea76"/><stop offset="0.38" stop-color="#f6f87c"/><stop offset="0.46" stop-color="#e4ed6e"/><stop offset="0.54" stop-color="#c1d961"/><stop offset="0.61" stop-color="#9ec44c"/><stop offset="0.69" stop-color="#74ab3a"/><stop offset="0.77" stop-color="#4b9229"/><stop offset="0.85" stop-color="#2b7919"/><stop offset="0.93" stop-color="#0e6008"/><stop offset="0.93" stop-color="#0c5e07"/><stop offset="0.96" stop-color="#075904"/><stop offset="0.98" stop-color="#045402"/><stop offset="1" stop-color="#005000"/></linearGradient><linearGradient id="h152" x2="0" y2="1"><stop offset="0" stop-color="#c75e04"/><stop offset="0.07" stop-color="#ff8303"/><stop offset="0.15" stop-color="#ffa32b"/><stop offset="0.23" stop-color="#fecb5b"/><stop offset="0.3" stop-color="#fcea76"/><stop offset="0.38" stop-color="#f5f77c"/><stop offset="0.46" stop-color="#e4ed6e"/><stop offset="0.54" stop-color="#c1d961"/><stop offset="0.61" stop-color="#9ec34b"/><stop offset="0.69" stop-color="#74ab3a"/><stop offset="0.77" stop-color="#4b9229"/><stop offset="0.85" stop-color="#2b7919"/><stop offset="0.93" stop-color="#0e6008"/><stop offset="0.93" stop-color="#0c5e07"/><stop offset="0.96" stop-color="#075904"/><stop offset="0.98" stop-color="#045402"/><stop offset="1" stop-color="#005000"/></linearGradient><linearGradient id="h153" x2="0" y2="1"><stop offset="0" stop-color="#c85f04"/><stop offset="0.07" stop-color="#ff8303"/><stop offset="0.15" stop-color="#ffa32b"/><stop offset="0.22" stop-color="#fecb5b"/><stop offset="0.3" stop-color="#fcea76"/><stop offset="0.38" stop-color="#f5f77c"/><stop offset="0.46" stop-color="#e4ed6e"/><stop offset="0.54" stop-color="#c1d960"/><stop offset="0.61" stop-color="#9ec34b"/><stop offset="0.69" stop-color="#74aa3a"/><stop offset="0.77" stop-color="#4b9229"/><stop offset="0.85" stop-color="#2b7919"/><stop offset="0.93" stop-color="#0e6008"/><stop offset="0.93" stop-color="#0c5e07"/><stop offset="0.96" stop-color="#075904"/><stop offset="0.98" stop-color="#045402"/><stop offset="1" stop-color="#005000"/></linearGradient><linearGradient id="h154" x2="0" y2="1"><stop offset="0" stop-color="#c85f04"/><stop offset="0.07" stop-color="#ff8303"/><stop offset="0.15" stop-color="#ffa32b"/><stop offset="0.22" stop-color="#fecb5b"/><stop offset="0.3" stop-color="#fcea76"/><stop offset="0.38" stop-color="#f5f77c"/><stop offset="0.46" stop-color="#e3ed6e"/><stop offset="0.54" stop-color="#c1d960"/><stop offset="0.61" stop-color="#9dc34b"/><stop offset="0.69" stop-color="#74ab3a"/><stop offset="0.77" stop-color="#4b9229"/><stop offset="0.85" stop-color="#2b7919"/><stop offset="0.93" stop-color="#0e6008"/><stop offset="0.93" stop-color="#0c5e07"/><stop offset="0.96" stop-color="#075804"/><stop offset="0.98" stop-color="#045402"/><stop offset="1" stop-color="#005000"/></linearGradient><linearGradient id="h155" x2="0" y2="1"><stop offset="0" stop-color="#c85f03"/><stop offset="0.07" stop-color="#ff8304"/><stop offset="0.14" stop-color="#ffa22b"/><stop offset="0.22" stop-color="#fecb5b"/><stop offset="0.3" stop-color="#fcea76"/><stop offset="0.38" stop-color="#f5f77c"/><stop offset="0.46" stop-color="#e3ed6e"/><stop offset="0.54" stop-color="#c1d960"/><stop offset="0.61" stop-color="#9dc34b"/><stop offset="0.69" stop-color="#74aa3a"/><stop offset="0.77" stop-color="#4b9229"/><stop offset="0.85" stop-color="#2b7919"/><stop offset="0.92" stop-color="#0e6008"/><stop offset="0.93" stop-color="#0c5e07"/><stop offset="0.96" stop-color="#075804"/><stop offset="0.98" stop-color="#045402"/><stop offset="1" stop-color="#005000"/></linearGradient><linearGradient id="h156" x2="0" y2="1"><stop offset="0" stop-color="#c85f03"/><stop offset="0.07" stop-color="#ff8303"/><stop offset="0.14" stop-color="#ffa32b"/><stop offset="0.22" stop-color="#fecb5b"/><stop offset="0.3" stop-color="#fcea76"/><stop offset="0.38" stop-color="#f5f77c"/><stop offset="0.46" stop-color="#e3ed6e"/><stop offset="0.54" stop-color="#c1d960"/><stop offset="0.61" stop-color="#9dc34b"/><stop offset="0.69" stop-color="#74aa3a"/><stop offset="0.77" stop-color="#4b9229"/><stop offset="0.85" stop-color="#2b7919"/><stop offset="0.92" stop-color="#0e6008"/><stop offset="0.93" stop-color="#0c5e07"/><stop offset="0.96" stop-color="#075804"/><stop offset="0.98" stop-color="#045402"/><stop offset="1" stop-color="#005000"/></linearGradient><linearGradient id="h157" x2="0" y2="1"><stop offset="0" stop-color="#c95f03"/><stop offset="0.07" stop-color="#ff8303"/><stop offset="0.14" stop-color="#ffa32b"/><stop offset="0.22" stop-color="#fecb5b"/><stop offset="0.3" stop-color="#fcea76"/><stop offset="0.38" stop-color="#f5f77c"/><stop offset="0.46" stop-color="#e3ed6e"/><stop offset="0.54" stop-color="#c1d860"/><stop offset="0.61" stop-color="#9dc34b"/><stop offset="0.69" stop-color="#74aa3a"/><stop offset="0.77" stop-color="#4b9229"/><stop offset="0.85" stop-color="#2b7919"/><stop offset="0.92" stop-color="#0e6008"/><stop offset="0.93" stop-color="#0c5e07"/><stop offset="0.96" stop-color="#075804"/><stop offset="0.98" stop-color="#045402"/><stop offset="1" stop-color="#005000"/></linearGradient><linearGradient id="h158" x2="0" y2="1"><stop offset="0" stop-color="#c95f03"/><stop offset="0.07" stop-color="#ff8303"/><stop offset="0.14" stop-color="#ffa22b"/><stop offset="0.22" stop-color="#fecb5b"/><stop offset="0.3" stop-color="#fcea76"/><stop offset="0.38" stop-color="#f5f77c"/><stop offset="0.46" stop-color="#e3ed6e"/><stop offset="0.54" stop-color="#c1d860"/><stop offset="0.61" stop-color="#9dc34b"/><stop offset="0.69" stop-color="#74aa3a"/><stop offset="0.77" stop-color="#4b9229"/><stop offset="0.85" stop-color="#2b7919"/><stop offset="0.92" stop-color="#0e6008"/><stop offset="0.93" stop-color="#0c5e07"/><stop offset="0.96" stop-color="#075804"/><stop offset="0.98" stop-color="#045402"/><stop offset="1" stop-color="#005000"/></linearGradient><linearGradient id="cbar" x1="0" y1="1" x2="0" y2="0"><stop offset="0" stop-color="#005000"/><stop offset="0.06" stop-color="#0e6008"/><stop offset="0.12" stop-color="#2a7818"/><stop offset="0.19" stop-color="#489028"/><stop offset="0.25" stop-color="#70a838"/><stop offset="0.31" stop-color="#98c048"/><stop offset="0.38" stop-color="#c0d860"/><stop offset="0.44" stop-color="#e8f070"/><stop offset="0.5" stop-color="#fafa80"/><stop offset="0.56" stop-color="#fde070"/><stop offset="0.62" stop-color="#ffc050"/><stop offset="0.69" stop-color="#ff9a20"/><stop offset="0.75" stop-color="#ff8000"/><stop offset="0.81" stop-color="#c05a04"/><stop offset="0.88" stop-color="#9a4c08"/><stop offset="1" stop-color="#5a2c08"/></linearGradient>
</defs>
<rect width="685" height="560" fill="#fff"/>
<rect x="32" y="9.7" width="137.5" height="110.6" fill="none" stroke="#666" stroke-width="0.8" />
<line x1="32" y1="120.3" x2="34.5" y2="120.3" stroke="#666" stroke-width="0.7" />
<text x="29" y="122.7" font-size="6.6" fill="#222" text-anchor="end" >0</text>
<line x1="32" y1="106.47" x2="34.5" y2="106.47" stroke="#666" stroke-width="0.7" />
<text x="29" y="108.88" font-size="6.6" fill="#222" text-anchor="end" >10</text>
<line x1="32" y1="92.65" x2="34.5" y2="92.65" stroke="#666" stroke-width="0.7" />
<text x="29" y="95.05" font-size="6.6" fill="#222" text-anchor="end" >20</text>
<line x1="32" y1="78.83" x2="34.5" y2="78.83" stroke="#666" stroke-width="0.7" />
<text x="29" y="81.23" font-size="6.6" fill="#222" text-anchor="end" >30</text>
<line x1="32" y1="65" x2="34.5" y2="65" stroke="#666" stroke-width="0.7" />
<text x="29" y="67.4" font-size="6.6" fill="#222" text-anchor="end" >40</text>
<line x1="32" y1="51.18" x2="34.5" y2="51.18" stroke="#666" stroke-width="0.7" />
<text x="29" y="53.58" font-size="6.6" fill="#222" text-anchor="end" >50</text>
<line x1="32" y1="37.35" x2="34.5" y2="37.35" stroke="#666" stroke-width="0.7" />
<text x="29" y="39.75" font-size="6.6" fill="#222" text-anchor="end" >60</text>
<line x1="32" y1="23.53" x2="34.5" y2="23.53" stroke="#666" stroke-width="0.7" />
<text x="29" y="25.93" font-size="6.6" fill="#222" text-anchor="end" >70</text>
<line x1="32" y1="9.7" x2="34.5" y2="9.7" stroke="#666" stroke-width="0.7" />
<text x="29" y="12.1" font-size="6.6" fill="#222" text-anchor="end" >80</text>
<line x1="32" y1="113.39" x2="33.5" y2="113.39" stroke="#666" stroke-width="0.6" />
<line x1="32" y1="99.56" x2="33.5" y2="99.56" stroke="#666" stroke-width="0.6" />
<line x1="32" y1="85.74" x2="33.5" y2="85.74" stroke="#666" stroke-width="0.6" />
<line x1="32" y1="71.91" x2="33.5" y2="71.91" stroke="#666" stroke-width="0.6" />
<line x1="32" y1="58.09" x2="33.5" y2="58.09" stroke="#666" stroke-width="0.6" />
<line x1="32" y1="44.26" x2="33.5" y2="44.26" stroke="#666" stroke-width="0.6" />
<line x1="32" y1="30.44" x2="33.5" y2="30.44" stroke="#666" stroke-width="0.6" />
<line x1="32" y1="16.61" x2="33.5" y2="16.61" stroke="#666" stroke-width="0.6" />
<rect x="42.2" y="24.77" width="13.8" height="95.53" fill="url(#gA)" stroke="none" stroke-width="1" />
<line x1="49.1" y1="22.7" x2="49.1" y2="26.84" stroke="#222" stroke-width="0.8" />
<line x1="47.7" y1="22.7" x2="50.5" y2="22.7" stroke="#222" stroke-width="0.8" />
<line x1="47.7" y1="26.84" x2="50.5" y2="26.84" stroke="#222" stroke-width="0.8" />
<line x1="49.1" y1="120.3" x2="49.1" y2="118.3" stroke="#666" stroke-width="0.6" />
<rect x="76.95" y="92.93" width="13.8" height="27.37" fill="url(#gA)" stroke="none" stroke-width="1" />
<line x1="83.85" y1="91.27" x2="83.85" y2="94.59" stroke="#222" stroke-width="0.8" />
<line x1="82.45" y1="91.27" x2="85.25" y2="91.27" stroke="#222" stroke-width="0.8" />
<line x1="82.45" y1="94.59" x2="85.25" y2="94.59" stroke="#222" stroke-width="0.8" />
<line x1="83.85" y1="120.3" x2="83.85" y2="118.3" stroke="#666" stroke-width="0.6" />
<rect x="111.1" y="104.26" width="13.8" height="16.04" fill="url(#gA)" stroke="none" stroke-width="1" />
<line x1="118" y1="103.16" x2="118" y2="105.37" stroke="#222" stroke-width="0.8" />
<line x1="116.6" y1="103.16" x2="119.4" y2="103.16" stroke="#222" stroke-width="0.8" />
<line x1="116.6" y1="105.37" x2="119.4" y2="105.37" stroke="#222" stroke-width="0.8" />
<line x1="118" y1="120.3" x2="118" y2="118.3" stroke="#666" stroke-width="0.6" />
<rect x="145.4" y="115.05" width="13.8" height="5.25" fill="url(#gA)" stroke="none" stroke-width="1" />
<line x1="152.3" y1="114.36" x2="152.3" y2="115.74" stroke="#222" stroke-width="0.8" />
<line x1="150.9" y1="114.36" x2="153.7" y2="114.36" stroke="#222" stroke-width="0.8" />
<line x1="150.9" y1="115.74" x2="153.7" y2="115.74" stroke="#222" stroke-width="0.8" />
<line x1="152.3" y1="120.3" x2="152.3" y2="118.3" stroke="#666" stroke-width="0.6" />
<text x="50.6" y="132.4" font-size="6.4" fill="#222" text-anchor="middle" >No additives</text>
<text x="85.4" y="132.4" font-size="6.4" fill="#222" text-anchor="middle" >DMPO</text>
<text x="119.4" y="132.4" font-size="6.4" fill="#222" text-anchor="middle" >C<tspan font-size="4" dy="1.5">6</tspan><tspan dy="-1.5">H</tspan><tspan font-size="4" dy="1.5">5</tspan><tspan dy="-1.5">NO</tspan><tspan font-size="4" dy="1.5">2</tspan></text>
<text x="151.9" y="132.4" font-size="6.4" fill="#222" text-anchor="middle" >C<tspan font-size="4" dy="1.5">6</tspan><tspan dy="-1.5">H</tspan><tspan font-size="4" dy="1.5">6</tspan><tspan dy="-1.5">O</tspan></text>
<text x="83.8" y="72.8" font-size="6.6" fill="#222" text-anchor="middle" >Radical</text>
<text x="84.6" y="82.5" font-size="6.6" fill="#222" text-anchor="middle" textLength="29.3" lengthAdjust="spacingAndGlyphs" >scavenger</text>
<text x="119.4" y="84.9" font-size="6.6" fill="#222" text-anchor="middle" >Electron</text>
<text x="120.2" y="94.5" font-size="6.6" fill="#222" text-anchor="middle" textLength="28.9" lengthAdjust="spacingAndGlyphs" >scavenger</text>
<text x="152.8" y="97.3" font-size="6.6" fill="#222" text-anchor="middle" >Hole</text>
<text x="152.7" y="107.4" font-size="6.6" fill="#222" text-anchor="middle" textLength="29.1" lengthAdjust="spacingAndGlyphs" >scavenger</text>
<text x="18.6" y="132.8" font-size="8.8" fill="#222" textLength="133" lengthAdjust="spacingAndGlyphs" transform="rotate(-90 18.6 132.8)" >Glycine accumulation (mmol g<tspan font-size="6" dy="1.8">cat</tspan><tspan font-size="6" dy="-6">-1</tspan><tspan dy="4.2">)</tspan></text>
<text x="0.5" y="14" font-size="10" fill="#000" font-weight="bold" >a</text>
<rect x="193.7" y="9.5" width="137.9" height="110.7" fill="none" stroke="#666" stroke-width="0.8" />
<line x1="211.1" y1="120.2" x2="211.1" y2="118" stroke="#666" stroke-width="0.7" />
<text x="211.1" y="128.3" font-size="6.4" fill="#222" text-anchor="middle" >3480</text>
<line x1="245.6" y1="120.2" x2="245.6" y2="118" stroke="#666" stroke-width="0.7" />
<text x="245.6" y="128.3" font-size="6.4" fill="#222" text-anchor="middle" >3500</text>
<line x1="280.1" y1="120.2" x2="280.1" y2="118" stroke="#666" stroke-width="0.7" />
<text x="280.1" y="128.3" font-size="6.4" fill="#222" text-anchor="middle" >3520</text>
<line x1="314.6" y1="120.2" x2="314.6" y2="118" stroke="#666" stroke-width="0.7" />
<text x="314.6" y="128.3" font-size="6.4" fill="#222" text-anchor="middle" >3540</text>
<line x1="193.85" y1="120.2" x2="193.85" y2="118.9" stroke="#666" stroke-width="0.6" />
<line x1="228.35" y1="120.2" x2="228.35" y2="118.9" stroke="#666" stroke-width="0.6" />
<line x1="262.85" y1="120.2" x2="262.85" y2="118.9" stroke="#666" stroke-width="0.6" />
<line x1="297.35" y1="120.2" x2="297.35" y2="118.9" stroke="#666" stroke-width="0.6" />
<line x1="331.85" y1="120.2" x2="331.85" y2="118.9" stroke="#666" stroke-width="0.6" />
<path d="M193.7 49.7 194 49.7 194.4 49.7 194.7 49.7 195 49.7 195.4 49.7 195.7 49.7 196 49.7 196.4 49.7 196.7 49.7 197 49.7 197.4 49.7 197.7 49.7 198 49.7 198.4 49.7 198.7 49.7 199 49.7 199.4 49.7 199.7 49.7 200 49.7 200.4 49.7 200.7 49.7 201 49.7 201.4 49.7 201.7 49.7 202 49.7 202.4 49.7 202.7 49.7 203 49.7 203.4 49.7 203.7 49.7 204.1 49.7 204.4 49.6 204.7 49.6 205.1 49.6 205.4 49.6 205.7 49.6 206.1 49.6 206.4 49.6 206.7 49.6 207.1 49.6 207.4 49.6 207.7 49.6 208.1 49.6 208.4 49.6 208.7 49.6 209.1 49.6 209.4 49.6 209.7 49.6 210.1 49.6 210.4 49.6 210.7 49.6 211.1 49.6 211.4 49.6 211.7 49.6 212.1 49.6 212.4 49.6 212.7 49.6 213.1 49.6 213.4 49.5 213.7 49.5 214.1 49.5 214.4 49.5 214.7 49.5 215.1 49.5 215.4 49.5 215.7 49.5 216.1 49.5 216.4 49.4 216.7 49.4 217.1 49.4 217.4 49.4 217.7 49.4 218.1 49.3 218.4 49.3 218.7 49.3 219.1 49.2 219.4 49.2 219.7 49.2 220.1 49.1 220.4 49.1 220.7 49.0 221.1 49.0 221.4 48.9 221.7 48.8 222.1 48.7 222.4 48.6 222.7 48.5 223.1 48.4 223.4 48.2 223.8 48.1 224.1 47.9 224.4 47.7 224.8 47.4 225.1 47.1 225.4 46.7 225.8 46.3 226.1 45.8 226.4 45.2 226.8 44.6 227.1 43.8 227.4 42.8 227.8 41.8 228.1 40.6 228.4 39.2 228.8 37.9 229.1 36.6 229.4 35.6 229.8 35.2 230.1 35.8 230.4 37.9 230.8 41.4 231.1 46.3 231.4 51.8 231.8 56.9 232.1 60.8 232.4 63.2 232.8 64.1 233.1 63.9 233.4 63.0 233.8 61.8 234.1 60.4 234.4 59.0 234.8 57.8 235.1 56.7 235.4 55.7 235.8 54.9 236.1 54.2 236.4 53.6 236.8 53.1 237.1 52.7 237.4 52.3 237.8 52.0 238.1 51.7 238.4 51.5 238.8 51.3 239.1 51.1 239.4 50.9 239.8 50.8 240.1 50.7 240.4 50.6 240.8 50.5 241.1 50.4 241.4 50.3 241.8 50.2 242.1 50.2 242.4 50.1 242.8 50.1 243.1 50.0 243.5 50.0 243.8 49.9 244.1 49.9 244.5 49.9 244.8 49.8 245.1 49.8 245.5 49.8 245.8 49.7 246.1 49.7 246.5 49.7 246.8 49.6 247.1 49.6 247.5 49.6 247.8 49.5 248.1 49.5 248.5 49.4 248.8 49.4 249.1 49.4 249.5 49.3 249.8 49.2 250.1 49.2 250.5 49.1 250.8 49.1 251.1 49.0 251.5 48.9 251.8 48.8 252.1 48.7 252.5 48.6 252.8 48.4 253.1 48.3 253.5 48.1 253.8 47.9 254.1 47.6 254.5 47.4 254.8 47.0 255.1 46.7 255.5 46.2 255.8 45.7 256.1 45.1 256.5 44.4 256.8 43.5 257.1 42.5 257.5 41.4 257.8 40.2 258.1 38.8 258.5 37.4 258.8 36.2 259.1 35.4 259.5 35.3 259.8 36.4 260.1 39.0 260.5 43.1 260.8 48.3 261.1 53.7 261.5 58.5 261.8 61.9 262.1 63.7 262.5 64.2 262.8 63.7 263.2 62.6 263.5 61.3 263.8 59.9 264.2 58.6 264.5 57.4 264.8 56.4 265.2 55.5 265.5 54.7 265.8 54.0 266.2 53.4 266.5 53.0 266.8 52.6 267.2 52.2 267.5 51.9 267.8 51.6 268.2 51.4 268.5 51.2 268.8 51.1 269.2 50.9 269.5 50.8 269.8 50.7 270.2 50.6 270.5 50.5 270.8 50.4 271.2 50.3 271.5 50.2 271.8 50.2 272.2 50.1 272.5 50.1 272.8 50.0 273.2 50.0 273.5 49.9 273.8 49.9 274.2 49.9 274.5 49.8 274.8 49.8 275.2 49.8 275.5 49.7 275.8 49.7 276.2 49.7 276.5 49.6 276.8 49.6 277.2 49.6 277.5 49.5 277.8 49.5 278.2 49.5 278.5 49.4 278.8 49.4 279.2 49.3 279.5 49.3 279.8 49.2 280.2 49.2 280.5 49.1 280.8 49.0 281.2 48.9 281.5 48.8 281.8 48.7 282.2 48.6 282.5 48.5 282.9 48.3 283.2 48.2 283.5 48.0 283.9 47.7 284.2 47.5 284.5 47.1 284.9 46.8 285.2 46.4 285.5 45.9 285.9 45.3 286.2 44.6 286.5 43.8 286.9 42.8 287.2 41.7 287.5 40.5 287.9 39.2 288.2 37.8 288.5 36.5 288.9 35.6 289.2 35.3 289.5 36.0 289.9 38.2 290.2 42.0 290.5 47.0 290.9 52.4 291.2 57.4 291.5 61.2 291.9 63.4 292.2 64.2 292.5 63.9 292.9 63.0 293.2 61.7 293.5 60.3 293.9 59.0 294.2 57.8 294.5 56.7 294.9 55.7 295.2 54.9 295.5 54.2 295.9 53.6 296.2 53.1 296.5 52.7 296.9 52.4 297.2 52.0 297.5 51.8 297.9 51.5 298.2 51.3 298.5 51.2 298.9 51.0 299.2 50.9 299.5 50.8 299.9 50.7 300.2 50.6 300.5 50.5 300.9 50.4 301.2 50.4 301.5 50.3 301.9 50.3 302.2 50.2 302.6 50.2 302.9 50.2 303.2 50.1 303.6 50.1 303.9 50.1 304.2 50.0 304.6 50.0 304.9 50.0 305.2 50.0 305.6 50.0 305.9 49.9 306.2 49.9 306.6 49.9 306.9 49.9 307.2 49.9 307.6 49.9 307.9 49.9 308.2 49.9 308.6 49.9 308.9 49.8 309.2 49.8 309.6 49.8 309.9 49.8 310.2 49.8 310.6 49.8 310.9 49.8 311.2 49.8 311.6 49.8 311.9 49.8 312.2 49.8 312.6 49.8 312.9 49.8 313.2 49.8 313.6 49.8 313.9 49.8 314.2 49.8 314.6 49.8 314.9 49.8 315.2 49.8 315.6 49.8 315.9 49.8 316.2 49.8 316.6 49.8 316.9 49.8 317.2 49.8 317.6 49.8 317.9 49.7 318.2 49.7 318.6 49.7 318.9 49.7 319.2 49.7 319.6 49.7 319.9 49.7 320.2 49.7 320.6 49.7 320.9 49.7 321.2 49.7 321.6 49.7 321.9 49.7 322.3 49.7 322.6 49.7 322.9 49.7 323.3 49.7 323.6 49.7 323.9 49.7 324.3 49.7 324.6 49.7 324.9 49.7 325.3 49.7 325.6 49.7 325.9 49.7 326.3 49.7 326.6 49.7 326.9 49.7 327.3 49.7 327.6 49.7 327.9 49.7 328.3 49.7 328.6 49.7 328.9 49.7 329.3 49.7 329.6 49.7 329.9 49.7 330.3 49.7 330.6 49.7 330.9 49.7 331.3 49.7 331.6 49.7" fill="none" stroke="#7aa6da" stroke-width="1.0" stroke-linejoin="round" stroke-dasharray="0.9 1.3"/>
<path d="M193.7 49.7 194 49.7 194.4 49.7 194.7 49.7 195 49.7 195.4 49.7 195.7 49.7 196 49.7 196.4 49.7 196.7 49.7 197 49.7 197.4 49.7 197.7 49.7 198 49.7 198.4 49.7 198.7 49.7 199 49.7 199.4 49.7 199.7 49.7 200 49.7 200.4 49.7 200.7 49.7 201 49.7 201.4 49.7 201.7 49.7 202 49.7 202.4 49.7 202.7 49.7 203 49.7 203.4 49.7 203.7 49.7 204.1 49.7 204.4 49.6 204.7 49.6 205.1 49.6 205.4 49.6 205.7 49.6 206.1 49.6 206.4 49.6 206.7 49.6 207.1 49.6 207.4 49.6 207.7 49.6 208.1 49.6 208.4 49.6 208.7 49.6 209.1 49.6 209.4 49.6 209.7 49.6 210.1 49.6 210.4 49.6 210.7 49.6 211.1 49.6 211.4 49.6 211.7 49.6 212.1 49.6 212.4 49.6 212.7 49.6 213.1 49.6 213.4 49.5 213.7 49.5 214.1 49.5 214.4 49.5 214.7 49.5 215.1 49.5 215.4 49.5 215.7 49.5 216.1 49.5 216.4 49.4 216.7 49.4 217.1 49.4 217.4 49.4 217.7 49.4 218.1 49.3 218.4 49.3 218.7 49.3 219.1 49.2 219.4 49.2 219.7 49.2 220.1 49.1 220.4 49.1 220.7 49.0 221.1 49.0 221.4 48.9 221.7 48.8 222.1 48.7 222.4 48.6 222.7 48.5 223.1 48.4 223.4 48.2 223.8 48.1 224.1 47.9 224.4 47.7 224.8 47.4 225.1 47.1 225.4 46.7 225.8 46.3 226.1 45.8 226.4 45.2 226.8 44.6 227.1 43.8 227.4 42.8 227.8 41.8 228.1 40.6 228.4 39.2 228.8 37.9 229.1 36.6 229.4 35.6 229.8 35.2 230.1 35.8 230.4 37.9 230.8 41.4 231.1 46.3 231.4 51.8 231.8 56.9 232.1 60.8 232.4 63.2 232.8 64.1 233.1 63.9 233.4 63.0 233.8 61.8 234.1 60.4 234.4 59.0 234.8 57.8 235.1 56.7 235.4 55.7 235.8 54.9 236.1 54.2 236.4 53.6 236.8 53.1 237.1 52.7 237.4 52.3 237.8 52.0 238.1 51.7 238.4 51.5 238.8 51.3 239.1 51.1 239.4 50.9 239.8 50.8 240.1 50.7 240.4 50.6 240.8 50.5 241.1 50.4 241.4 50.3 241.8 50.2 242.1 50.2 242.4 50.1 242.8 50.1 243.1 50.0 243.5 50.0 243.8 49.9 244.1 49.9 244.5 49.9 244.8 49.8 245.1 49.8 245.5 49.8 245.8 49.7 246.1 49.7 246.5 49.7 246.8 49.6 247.1 49.6 247.5 49.6 247.8 49.5 248.1 49.5 248.5 49.4 248.8 49.4 249.1 49.4 249.5 49.3 249.8 49.2 250.1 49.2 250.5 49.1 250.8 49.1 251.1 49.0 251.5 48.9 251.8 48.8 252.1 48.7 252.5 48.6 252.8 48.4 253.1 48.3 253.5 48.1 253.8 47.9 254.1 47.6 254.5 47.4 254.8 47.0 255.1 46.7 255.5 46.2 255.8 45.7 256.1 45.1 256.5 44.4 256.8 43.5 257.1 42.5 257.5 41.4 257.8 40.2 258.1 38.8 258.5 37.4 258.8 36.2 259.1 35.4 259.5 35.3 259.8 36.4 260.1 39.0 260.5 43.1 260.8 48.3 261.1 53.7 261.5 58.5 261.8 61.9 262.1 63.7 262.5 64.2 262.8 63.7 263.2 62.6 263.5 61.3 263.8 59.9 264.2 58.6 264.5 57.4 264.8 56.4 265.2 55.5 265.5 54.7 265.8 54.0 266.2 53.4 266.5 53.0 266.8 52.6 267.2 52.2 267.5 51.9 267.8 51.6 268.2 51.4 268.5 51.2 268.8 51.1 269.2 50.9 269.5 50.8 269.8 50.7 270.2 50.6 270.5 50.5 270.8 50.4 271.2 50.3 271.5 50.2 271.8 50.2 272.2 50.1 272.5 50.1 272.8 50.0 273.2 50.0 273.5 49.9 273.8 49.9 274.2 49.9 274.5 49.8 274.8 49.8 275.2 49.8 275.5 49.7 275.8 49.7 276.2 49.7 276.5 49.6 276.8 49.6 277.2 49.6 277.5 49.5 277.8 49.5 278.2 49.5 278.5 49.4 278.8 49.4 279.2 49.3 279.5 49.3 279.8 49.2 280.2 49.2 280.5 49.1 280.8 49.0 281.2 48.9 281.5 48.8 281.8 48.7 282.2 48.6 282.5 48.5 282.9 48.3 283.2 48.2 283.5 48.0 283.9 47.7 284.2 47.5 284.5 47.1 284.9 46.8 285.2 46.4 285.5 45.9 285.9 45.3 286.2 44.6 286.5 43.8 286.9 42.8 287.2 41.7 287.5 40.5 287.9 39.2 288.2 37.8 288.5 36.5 288.9 35.6 289.2 35.3 289.5 36.0 289.9 38.2 290.2 42.0 290.5 47.0 290.9 52.4 291.2 57.4 291.5 61.2 291.9 63.4 292.2 64.2 292.5 63.9 292.9 63.0 293.2 61.7 293.5 60.3 293.9 59.0 294.2 57.8 294.5 56.7 294.9 55.7 295.2 54.9 295.5 54.2 295.9 53.6 296.2 53.1 296.5 52.7 296.9 52.4 297.2 52.0 297.5 51.8 297.9 51.5 298.2 51.3 298.5 51.2 298.9 51.0 299.2 50.9 299.5 50.8 299.9 50.7 300.2 50.6 300.5 50.5 300.9 50.4 301.2 50.4 301.5 50.3 301.9 50.3 302.2 50.2 302.6 50.2 302.9 50.2 303.2 50.1 303.6 50.1 303.9 50.1 304.2 50.0 304.6 50.0 304.9 50.0 305.2 50.0 305.6 50.0 305.9 49.9 306.2 49.9 306.6 49.9 306.9 49.9 307.2 49.9 307.6 49.9 307.9 49.9 308.2 49.9 308.6 49.9 308.9 49.8 309.2 49.8 309.6 49.8 309.9 49.8 310.2 49.8 310.6 49.8 310.9 49.8 311.2 49.8 311.6 49.8 311.9 49.8 312.2 49.8 312.6 49.8 312.9 49.8 313.2 49.8 313.6 49.8 313.9 49.8 314.2 49.8 314.6 49.8 314.9 49.8 315.2 49.8 315.6 49.8 315.9 49.8 316.2 49.8 316.6 49.8 316.9 49.8 317.2 49.8 317.6 49.8 317.9 49.7 318.2 49.7 318.6 49.7 318.9 49.7 319.2 49.7 319.6 49.7 319.9 49.7 320.2 49.7 320.6 49.7 320.9 49.7 321.2 49.7 321.6 49.7 321.9 49.7 322.3 49.7 322.6 49.7 322.9 49.7 323.3 49.7 323.6 49.7 323.9 49.7 324.3 49.7 324.6 49.7 324.9 49.7 325.3 49.7 325.6 49.7 325.9 49.7 326.3 49.7 326.6 49.7 326.9 49.7 327.3 49.7 327.6 49.7 327.9 49.7 328.3 49.7 328.6 49.7 328.9 49.7 329.3 49.7 329.6 49.7 329.9 49.7 330.3 49.7 330.6 49.7 330.9 49.7 331.3 49.7 331.6 49.7" fill="none" stroke="#ec8f8f" stroke-width="1.0" stroke-linejoin="round" stroke-dasharray="0.9 1.3" stroke-dashoffset="1.1"/>
<path d="M193.7 76.3 194 76.3 194.4 76.3 194.7 76.3 195 76.3 195.4 76.3 195.7 76.3 196 76.3 196.4 76.3 196.7 76.3 197 76.3 197.4 76.3 197.7 76.3 198 76.3 198.4 76.3 198.7 76.3 199 76.3 199.4 76.3 199.7 76.3 200 76.3 200.4 76.3 200.7 76.3 201 76.3 201.4 76.3 201.7 76.3 202 76.3 202.4 76.3 202.7 76.3 203 76.3 203.4 76.3 203.7 76.3 204.1 76.3 204.4 76.3 204.7 76.3 205.1 76.3 205.4 76.3 205.7 76.3 206.1 76.3 206.4 76.3 206.7 76.2 207.1 76.2 207.4 76.2 207.7 76.2 208.1 76.2 208.4 76.2 208.7 76.2 209.1 76.2 209.4 76.2 209.7 76.2 210.1 76.2 210.4 76.2 210.7 76.2 211.1 76.2 211.4 76.2 211.7 76.2 212.1 76.2 212.4 76.2 212.7 76.2 213.1 76.2 213.4 76.2 213.7 76.2 214.1 76.2 214.4 76.2 214.7 76.1 215.1 76.1 215.4 76.1 215.7 76.1 216.1 76.1 216.4 76.1 216.7 76.1 217.1 76.1 217.4 76.0 217.7 76.0 218.1 76.0 218.4 76.0 218.7 76.0 219.1 75.9 219.4 75.9 219.7 75.9 220.1 75.8 220.4 75.8 220.7 75.8 221.1 75.7 221.4 75.7 221.7 75.6 222.1 75.5 222.4 75.5 222.7 75.4 223.1 75.3 223.4 75.1 223.8 75.0 224.1 74.9 224.4 74.7 224.8 74.5 225.1 74.2 225.4 73.9 225.8 73.6 226.1 73.2 226.4 72.8 226.8 72.2 227.1 71.6 227.4 70.9 227.8 70.0 228.1 69.1 228.4 68.0 228.8 66.9 229.1 65.9 229.4 65.1 229.8 64.8 230.1 65.3 230.4 66.9 230.8 69.8 231.1 73.6 231.4 78.0 231.8 82.0 232.1 85.1 232.4 87.0 232.8 87.7 233.1 87.6 233.4 86.9 233.8 85.9 234.1 84.8 234.4 83.7 234.8 82.7 235.1 81.9 235.4 81.1 235.8 80.4 236.1 79.9 236.4 79.4 236.8 79.0 237.1 78.6 237.4 78.4 237.8 78.1 238.1 77.9 238.4 77.7 238.8 77.5 239.1 77.4 239.4 77.3 239.8 77.2 240.1 77.1 240.4 77.0 240.8 76.9 241.1 76.8 241.4 76.8 241.8 76.7 242.1 76.7 242.4 76.6 242.8 76.6 243.1 76.6 243.5 76.5 243.8 76.5 244.1 76.5 244.5 76.4 244.8 76.4 245.1 76.4 245.5 76.3 245.8 76.3 246.1 76.3 246.5 76.3 246.8 76.2 247.1 76.2 247.5 76.2 247.8 76.2 248.1 76.1 248.5 76.1 248.8 76.1 249.1 76.0 249.5 76.0 249.8 75.9 250.1 75.9 250.5 75.8 250.8 75.8 251.1 75.7 251.5 75.7 251.8 75.6 252.1 75.5 252.5 75.4 252.8 75.3 253.1 75.2 253.5 75.0 253.8 74.9 254.1 74.7 254.5 74.4 254.8 74.2 255.1 73.9 255.5 73.5 255.8 73.1 256.1 72.6 256.5 72.1 256.8 71.4 257.1 70.6 257.5 69.7 257.8 68.7 258.1 67.7 258.5 66.6 258.8 65.6 259.1 64.9 259.5 64.9 259.8 65.8 260.1 67.8 260.5 71.1 260.8 75.2 261.1 79.5 261.5 83.3 261.8 85.9 262.1 87.4 262.5 87.8 262.8 87.4 263.2 86.6 263.5 85.5 263.8 84.4 264.2 83.4 264.5 82.4 264.8 81.6 265.2 80.9 265.5 80.3 265.8 79.7 266.2 79.3 266.5 78.9 266.8 78.6 267.2 78.3 267.5 78.0 267.8 77.8 268.2 77.7 268.5 77.5 268.8 77.4 269.2 77.3 269.5 77.2 269.8 77.1 270.2 77.0 270.5 76.9 270.8 76.8 271.2 76.8 271.5 76.7 271.8 76.7 272.2 76.6 272.5 76.6 272.8 76.6 273.2 76.5 273.5 76.5 273.8 76.5 274.2 76.4 274.5 76.4 274.8 76.4 275.2 76.4 275.5 76.3 275.8 76.3 276.2 76.3 276.5 76.3 276.8 76.2 277.2 76.2 277.5 76.2 277.8 76.1 278.2 76.1 278.5 76.1 278.8 76.0 279.2 76.0 279.5 76.0 279.8 75.9 280.2 75.9 280.5 75.8 280.8 75.8 281.2 75.7 281.5 75.6 281.8 75.5 282.2 75.4 282.5 75.3 282.9 75.2 283.2 75.1 283.5 74.9 283.9 74.7 284.2 74.5 284.5 74.3 284.9 74.0 285.2 73.6 285.5 73.2 285.9 72.8 286.2 72.2 286.5 71.6 286.9 70.8 287.2 70.0 287.5 69.0 287.9 68.0 288.2 66.9 288.5 65.8 288.9 65.1 289.2 64.9 289.5 65.5 289.9 67.2 290.2 70.2 290.5 74.1 290.9 78.5 291.2 82.4 291.5 85.4 291.9 87.2 292.2 87.8 292.5 87.6 292.9 86.8 293.2 85.8 293.5 84.7 293.9 83.7 294.2 82.7 294.5 81.8 294.9 81.1 295.2 80.4 295.5 79.9 295.9 79.4 296.2 79.0 296.5 78.7 296.9 78.4 297.2 78.2 297.5 77.9 297.9 77.8 298.2 77.6 298.5 77.5 298.9 77.4 299.2 77.2 299.5 77.2 299.9 77.1 300.2 77.0 300.5 76.9 300.9 76.9 301.2 76.8 301.5 76.8 301.9 76.8 302.2 76.7 302.6 76.7 302.9 76.7 303.2 76.6 303.6 76.6 303.9 76.6 304.2 76.6 304.6 76.6 304.9 76.5 305.2 76.5 305.6 76.5 305.9 76.5 306.2 76.5 306.6 76.5 306.9 76.5 307.2 76.5 307.6 76.4 307.9 76.4 308.2 76.4 308.6 76.4 308.9 76.4 309.2 76.4 309.6 76.4 309.9 76.4 310.2 76.4 310.6 76.4 310.9 76.4 311.2 76.4 311.6 76.4 311.9 76.4 312.2 76.4 312.6 76.4 312.9 76.4 313.2 76.4 313.6 76.4 313.9 76.4 314.2 76.4 314.6 76.4 314.9 76.4 315.2 76.4 315.6 76.3 315.9 76.3 316.2 76.3 316.6 76.3 316.9 76.3 317.2 76.3 317.6 76.3 317.9 76.3 318.2 76.3 318.6 76.3 318.9 76.3 319.2 76.3 319.6 76.3 319.9 76.3 320.2 76.3 320.6 76.3 320.9 76.3 321.2 76.3 321.6 76.3 321.9 76.3 322.3 76.3 322.6 76.3 322.9 76.3 323.3 76.3 323.6 76.3 323.9 76.3 324.3 76.3 324.6 76.3 324.9 76.3 325.3 76.3 325.6 76.3 325.9 76.3 326.3 76.3 326.6 76.3 326.9 76.3 327.3 76.3 327.6 76.3 327.9 76.3 328.3 76.3 328.6 76.3 328.9 76.3 329.3 76.3 329.6 76.3 329.9 76.3 330.3 76.3 330.6 76.3 330.9 76.3 331.3 76.3 331.6 76.3" fill="none" stroke="#e48a8a" stroke-width="0.9" stroke-linejoin="round" />
<path d="M193.7 100.6 194 100.6 194.4 100.6 194.7 100.6 195 100.6 195.4 100.6 195.7 100.6 196 100.6 196.4 100.6 196.7 100.6 197 100.6 197.4 100.6 197.7 100.6 198 100.6 198.4 100.6 198.7 100.6 199 100.6 199.4 100.6 199.7 100.6 200 100.6 200.4 100.6 200.7 100.6 201 100.6 201.4 100.6 201.7 100.6 202 100.6 202.4 100.6 202.7 100.6 203 100.6 203.4 100.6 203.7 100.6 204.1 100.6 204.4 100.6 204.7 100.6 205.1 100.6 205.4 100.6 205.7 100.6 206.1 100.6 206.4 100.6 206.7 100.6 207.1 100.6 207.4 100.6 207.7 100.6 208.1 100.6 208.4 100.6 208.7 100.6 209.1 100.6 209.4 100.6 209.7 100.6 210.1 100.6 210.4 100.6 210.7 100.6 211.1 100.6 211.4 100.5 211.7 100.5 212.1 100.5 212.4 100.5 212.7 100.5 213.1 100.5 213.4 100.5 213.7 100.5 214.1 100.5 214.4 100.5 214.7 100.5 215.1 100.5 215.4 100.5 215.7 100.5 216.1 100.5 216.4 100.5 216.7 100.5 217.1 100.5 217.4 100.5 217.7 100.4 218.1 100.4 218.4 100.4 218.7 100.4 219.1 100.4 219.4 100.4 219.7 100.4 220.1 100.3 220.4 100.3 220.7 100.3 221.1 100.3 221.4 100.2 221.7 100.2 222.1 100.2 222.4 100.1 222.7 100.1 223.1 100.0 223.4 99.9 223.8 99.9 224.1 99.8 224.4 99.7 224.8 99.6 225.1 99.4 225.4 99.3 225.8 99.1 226.1 98.9 226.4 98.6 226.8 98.3 227.1 97.9 227.4 97.5 227.8 97.0 228.1 96.5 228.4 95.9 228.8 95.3 229.1 94.7 229.4 94.3 229.8 94.1 230.1 94.4 230.4 95.3 230.8 96.9 231.1 99.1 231.4 101.5 231.8 103.8 232.1 105.6 232.4 106.6 232.8 107.1 233.1 107.0 233.4 106.6 233.8 106.0 234.1 105.4 234.4 104.8 234.8 104.2 235.1 103.7 235.4 103.3 235.8 102.9 236.1 102.6 236.4 102.4 236.8 102.1 237.1 101.9 237.4 101.8 237.8 101.6 238.1 101.5 238.4 101.4 238.8 101.3 239.1 101.2 239.4 101.2 239.8 101.1 240.1 101.0 240.4 101.0 240.8 100.9 241.1 100.9 241.4 100.9 241.8 100.8 242.1 100.8 242.4 100.8 242.8 100.8 243.1 100.7 243.5 100.7 243.8 100.7 244.1 100.7 244.5 100.7 244.8 100.7 245.1 100.6 245.5 100.6 245.8 100.6 246.1 100.6 246.5 100.6 246.8 100.6 247.1 100.5 247.5 100.5 247.8 100.5 248.1 100.5 248.5 100.5 248.8 100.5 249.1 100.4 249.5 100.4 249.8 100.4 250.1 100.4 250.5 100.3 250.8 100.3 251.1 100.3 251.5 100.2 251.8 100.2 252.1 100.1 252.5 100.1 252.8 100.0 253.1 100.0 253.5 99.9 253.8 99.8 254.1 99.7 254.5 99.6 254.8 99.4 255.1 99.2 255.5 99.0 255.8 98.8 256.1 98.5 256.5 98.2 256.8 97.8 257.1 97.4 257.5 96.9 257.8 96.3 258.1 95.7 258.5 95.1 258.8 94.6 259.1 94.2 259.5 94.1 259.8 94.6 260.1 95.8 260.5 97.6 260.8 100.0 261.1 102.4 261.5 104.5 261.8 106.1 262.1 106.9 262.5 107.1 262.8 106.9 263.2 106.4 263.5 105.8 263.8 105.2 264.2 104.6 264.5 104.1 264.8 103.6 265.2 103.2 265.5 102.8 265.8 102.5 266.2 102.3 266.5 102.1 266.8 101.9 267.2 101.7 267.5 101.6 267.8 101.5 268.2 101.4 268.5 101.3 268.8 101.2 269.2 101.1 269.5 101.1 269.8 101.0 270.2 101.0 270.5 100.9 270.8 100.9 271.2 100.9 271.5 100.8 271.8 100.8 272.2 100.8 272.5 100.8 272.8 100.7 273.2 100.7 273.5 100.7 273.8 100.7 274.2 100.7 274.5 100.7 274.8 100.6 275.2 100.6 275.5 100.6 275.8 100.6 276.2 100.6 276.5 100.6 276.8 100.6 277.2 100.5 277.5 100.5 277.8 100.5 278.2 100.5 278.5 100.5 278.8 100.5 279.2 100.4 279.5 100.4 279.8 100.4 280.2 100.4 280.5 100.3 280.8 100.3 281.2 100.3 281.5 100.2 281.8 100.2 282.2 100.1 282.5 100.1 282.9 100.0 283.2 99.9 283.5 99.8 283.9 99.7 284.2 99.6 284.5 99.5 284.9 99.3 285.2 99.1 285.5 98.9 285.9 98.6 286.2 98.3 286.5 97.9 286.9 97.5 287.2 97.0 287.5 96.5 287.9 95.9 288.2 95.3 288.5 94.7 288.9 94.3 289.2 94.1 289.5 94.5 289.9 95.5 290.2 97.1 290.5 99.4 290.9 101.8 291.2 104.1 291.5 105.8 291.9 106.8 292.2 107.1 292.5 107.0 292.9 106.6 293.2 106.0 293.5 105.4 293.9 104.8 294.2 104.2 294.5 103.7 294.9 103.3 295.2 102.9 295.5 102.6 295.9 102.4 296.2 102.1 296.5 102.0 296.9 101.8 297.2 101.6 297.5 101.5 297.9 101.4 298.2 101.3 298.5 101.3 298.9 101.2 299.2 101.1 299.5 101.1 299.9 101.0 300.2 101.0 300.5 101.0 300.9 100.9 301.2 100.9 301.5 100.9 301.9 100.9 302.2 100.8 302.6 100.8 302.9 100.8 303.2 100.8 303.6 100.8 303.9 100.8 304.2 100.8 304.6 100.7 304.9 100.7 305.2 100.7 305.6 100.7 305.9 100.7 306.2 100.7 306.6 100.7 306.9 100.7 307.2 100.7 307.6 100.7 307.9 100.7 308.2 100.7 308.6 100.7 308.9 100.7 309.2 100.7 309.6 100.7 309.9 100.7 310.2 100.7 310.6 100.7 310.9 100.7 311.2 100.6 311.6 100.6 311.9 100.6 312.2 100.6 312.6 100.6 312.9 100.6 313.2 100.6 313.6 100.6 313.9 100.6 314.2 100.6 314.6 100.6 314.9 100.6 315.2 100.6 315.6 100.6 315.9 100.6 316.2 100.6 316.6 100.6 316.9 100.6 317.2 100.6 317.6 100.6 317.9 100.6 318.2 100.6 318.6 100.6 318.9 100.6 319.2 100.6 319.6 100.6 319.9 100.6 320.2 100.6 320.6 100.6 320.9 100.6 321.2 100.6 321.6 100.6 321.9 100.6 322.3 100.6 322.6 100.6 322.9 100.6 323.3 100.6 323.6 100.6 323.9 100.6 324.3 100.6 324.6 100.6 324.9 100.6 325.3 100.6 325.6 100.6 325.9 100.6 326.3 100.6 326.6 100.6 326.9 100.6 327.3 100.6 327.6 100.6 327.9 100.6 328.3 100.6 328.6 100.6 328.9 100.6 329.3 100.6 329.6 100.6 329.9 100.6 330.3 100.6 330.6 100.6 330.9 100.6 331.3 100.6 331.6 100.6" fill="none" stroke="#6a9fd6" stroke-width="0.9" stroke-linejoin="round" />
<text x="201.1" y="23" font-size="8.6" fill="#222" textLength="41" lengthAdjust="spacingAndGlyphs" >TEMPO-h<tspan font-size="5.8" dy="-3.4">+</tspan></text>
<line x1="273.5" y1="16.4" x2="291.5" y2="16.4" stroke="#e48a8a" stroke-width="0.9" />
<text x="293.5" y="19.2" font-size="6.8" fill="#222" textLength="28.3" lengthAdjust="spacingAndGlyphs" >Pd SA/CN</text>
<line x1="273.5" y1="26.3" x2="291.5" y2="26.3" stroke="#6a9fd6" stroke-width="0.9" />
<text x="293.5" y="29.1" font-size="6.8" fill="#222" textLength="35" lengthAdjust="spacingAndGlyphs" >Pd SA/BCNx</text>
<text x="327.5" y="47" font-size="6.8" fill="#222" text-anchor="end" >Dark</text>
<text x="327.5" y="71.8" font-size="6.8" fill="#222" text-anchor="end" >Light</text>
<text x="327.5" y="96" font-size="6.8" fill="#222" text-anchor="end" >Light</text>
<text x="262.7" y="142.8" font-size="8.4" fill="#222" text-anchor="middle" textLength="67.8" lengthAdjust="spacingAndGlyphs" >Magnetic field (G)</text>
<text x="184.3" y="61.5" font-size="8.8" fill="#222" text-anchor="middle" textLength="55.7" lengthAdjust="spacingAndGlyphs" transform="rotate(-90 184.3 61.5)" >Intensity (a.u.)</text>
<text x="177" y="14" font-size="10" fill="#000" font-weight="bold" >b</text>
<rect x="362.1" y="9.5" width="137.7" height="110.8" fill="none" stroke="#666" stroke-width="0.8" />
<line x1="379.4" y1="120.3" x2="379.4" y2="118.1" stroke="#666" stroke-width="0.7" />
<text x="379.4" y="128.5" font-size="6.4" fill="#222" text-anchor="middle" >3480</text>
<line x1="413.6" y1="120.3" x2="413.6" y2="118.1" stroke="#666" stroke-width="0.7" />
<text x="413.6" y="128.5" font-size="6.4" fill="#222" text-anchor="middle" >3500</text>
<line x1="447.8" y1="120.3" x2="447.8" y2="118.1" stroke="#666" stroke-width="0.7" />
<text x="447.8" y="128.5" font-size="6.4" fill="#222" text-anchor="middle" >3520</text>
<line x1="482" y1="120.3" x2="482" y2="118.1" stroke="#666" stroke-width="0.7" />
<text x="482" y="128.5" font-size="6.4" fill="#222" text-anchor="middle" >3540</text>
<line x1="362.3" y1="120.3" x2="362.3" y2="119" stroke="#666" stroke-width="0.6" />
<line x1="396.5" y1="120.3" x2="396.5" y2="119" stroke="#666" stroke-width="0.6" />
<line x1="430.7" y1="120.3" x2="430.7" y2="119" stroke="#666" stroke-width="0.6" />
<line x1="464.9" y1="120.3" x2="464.9" y2="119" stroke="#666" stroke-width="0.6" />
<line x1="499.1" y1="120.3" x2="499.1" y2="119" stroke="#666" stroke-width="0.6" />
<path d="M362.1 46.3 362.5 46.5 362.9 45.2 363.3 44.9 363.7 45.9 364.1 46.0 364.5 46.0 364.9 45.4 365.3 45.7 365.7 45.8 366.1 45.8 366.5 45.1 366.9 45.4 367.3 45.4 367.7 45.9 368.1 46.4 368.5 46.5 368.9 45.9 369.3 45.6 369.7 45.3 370.1 44.8 370.5 44.6 370.9 45.3 371.3 45.2 371.7 45.3 372.1 46.1 372.5 45.8 372.9 45.7 373.3 45.2 373.7 44.8 374.1 45.1 374.5 44.9 374.9 45.4 375.3 46.3 375.7 46.1 376.1 45.2 376.5 46.1 376.9 46.2 377.3 46.1 377.7 46.3 378.1 46.2 378.5 46.2 378.9 45.5 379.3 46.3 379.7 46.5 380.1 45.3 380.5 45.9 380.9 46.0 381.3 45.6 381.7 45.6 382.1 45.6 382.5 46.2 382.9 45.7 383.3 46.1 383.7 45.5 384.1 46.1 384.5 46.3 384.9 45.7 385.3 45.6 385.7 46.1 386.1 46.0 386.5 45.6 386.9 45.0 387.3 45.0 387.7 45.5 388.1 44.8 388.5 45.7 388.9 44.9 389.3 45.6 389.7 44.7 390.1 45.3 390.5 44.9 390.9 44.2 391.3 43.7 391.7 43.2 392.1 42.3 392.5 40.8 392.9 39.3 393.3 39.0 393.7 40.6 394.1 43.9 394.5 47.7 394.9 51.7 395.3 52.5 395.7 52.0 396.1 49.8 396.5 49.3 396.9 47.6 397.3 47.6 397.7 46.7 398.1 46.2 398.5 46.9 398.9 45.8 399.3 46.1 399.7 46.5 400.1 45.7 400.5 45.4 400.9 46.3 401.3 45.8 401.7 46.1 402.1 45.1 402.5 45.3 402.9 45.1 403.3 45.8 403.7 45.1 404.1 46.1 404.5 45.1 404.9 45.8 405.3 44.9 405.7 45.0 406.1 45.9 406.5 45.2 406.9 45.0 407.3 45.7 407.7 45.4 408.1 44.8 408.5 46.0 408.9 45.1 409.3 44.7 409.7 45.0 410.1 45.5 410.5 45.8 410.9 44.9 411.3 45.0 411.7 44.5 412.1 45.0 412.5 45.6 412.9 45.7 413.3 45.9 413.7 45.7 414.1 45.7 414.5 45.3 414.9 44.7 415.3 44.0 415.7 44.2 416.1 43.4 416.5 42.4 416.9 42.0 417.3 41.7 417.7 39.4 418.1 37.9 418.5 35.7 418.9 34.3 419.3 34.7 419.7 40.9 420.1 48.4 420.5 55.1 420.9 56.9 421.3 55.1 421.7 53.7 422.1 51.3 422.5 49.5 422.9 48.2 423.3 47.5 423.7 46.8 424.1 47.2 424.5 46.9 424.9 47.4 425.3 47.3 425.7 47.3 426.1 46.1 426.5 46.0 426.9 45.6 427.3 45.9 427.7 46.1 428.1 46.3 428.5 46.3 428.9 45.5 429.3 45.6 429.7 45.7 430.1 45.0 430.5 44.8 431 45.3 431.4 44.9 431.8 45.8 432.2 45.3 432.6 44.9 433 44.9 433.4 45.0 433.8 45.0 434.2 45.4 434.6 45.4 435 45.2 435.4 45.6 435.8 45.1 436.2 45.9 436.6 46.3 437 46.0 437.4 45.4 437.8 45.4 438.2 45.4 438.6 44.6 439 44.8 439.4 45.0 439.8 44.4 440.2 44.0 440.6 44.8 441 44.2 441.4 44.0 441.8 44.1 442.2 43.2 442.6 41.8 443 41.5 443.4 39.3 443.8 36.6 444.2 35.4 444.6 33.7 445 35.8 445.4 43.1 445.8 51.2 446.2 55.4 446.6 56.6 447 55.1 447.4 53.2 447.8 50.9 448.2 49.9 448.6 48.2 449 47.6 449.4 47.2 449.8 47.7 450.2 46.4 450.6 46.8 451 46.0 451.4 46.3 451.8 46.0 452.2 46.0 452.6 46.3 453 45.9 453.4 45.3 453.8 45.1 454.2 45.0 454.6 46.1 455 46.1 455.4 46.5 455.8 46.2 456.2 45.2 456.6 45.8 457 46.1 457.4 46.1 457.8 45.8 458.2 45.5 458.6 45.5 459 46.0 459.4 45.4 459.8 45.6 460.2 45.6 460.6 46.3 461 46.2 461.4 46.4 461.8 46.3 462.2 45.5 462.6 45.1 463 45.4 463.4 45.1 463.8 45.3 464.2 45.7 464.6 46.1 465 45.7 465.4 45.9 465.8 44.9 466.2 44.9 466.6 45.8 467 44.7 467.4 44.7 467.8 44.0 468.2 43.6 468.6 44.4 469 44.4 469.4 43.4 469.8 41.6 470.2 40.6 470.6 39.9 471 41.1 471.4 43.8 471.8 47.3 472.2 50.1 472.6 50.2 473 50.1 473.4 49.9 473.8 49.0 474.2 47.3 474.6 47.1 475 47.1 475.4 46.3 475.8 46.9 476.2 46.3 476.6 46.4 477 45.9 477.4 46.7 477.8 46.5 478.2 46.1 478.6 45.4 479 45.5 479.4 45.0 479.8 45.6 480.2 46.3 480.6 45.4 481 45.6 481.4 45.6 481.8 45.5 482.2 45.9 482.6 46.4 483 46.2 483.4 45.8 483.8 46.4 484.2 45.6 484.6 46.0 485 46.0 485.4 46.1 485.8 46.3 486.2 45.4 486.6 45.7 487 45.5 487.4 45.8 487.8 46.4 488.2 46.1 488.6 45.0 489 45.4 489.4 45.9 489.8 46.3 490.2 46.0 490.6 46.2 491 45.1 491.4 46.1 491.8 46.1 492.2 45.9 492.6 46.3 493 46.4 493.4 45.2 493.8 46.0 494.2 46.1 494.6 45.3 495 45.9 495.4 45.8 495.8 45.2 496.2 45.9 496.6 45.2 497 45.6 497.4 45.5 497.8 45.2 498.2 45.6 498.6 45.5 499 45.1 499.4 46.2 499.8 45.1" fill="none" stroke="#7ba7d7" stroke-width="1.35" stroke-linejoin="round" />
<path d="M362.1 72.1 362.5 72.4 362.9 72.3 363.3 72.6 363.7 72.7 364.1 71.9 364.5 71.6 364.9 72.7 365.3 72.2 365.7 72.0 366.1 73.1 366.5 72.6 366.9 73.0 367.3 72.6 367.7 72.7 368.1 72.0 368.5 72.6 368.9 73.1 369.3 72.7 369.7 72.9 370.1 72.9 370.5 72.0 370.9 72.7 371.3 72.7 371.7 72.3 372.1 71.7 372.5 72.8 372.9 72.5 373.3 72.8 373.7 73.2 374.1 73.0 374.5 73.3 374.9 72.6 375.3 73.0 375.7 72.6 376.1 73.2 376.5 73.3 376.9 72.1 377.3 71.8 377.7 71.9 378.1 73.0 378.5 72.5 378.9 72.7 379.3 72.2 379.7 72.4 380.1 72.3 380.5 72.2 380.9 72.5 381.3 72.6 381.7 73.1 382.1 72.9 382.5 73.3 382.9 73.2 383.3 73.4 383.7 73.0 384.1 72.1 384.5 72.9 384.9 73.3 385.3 73.3 385.7 72.8 386.1 72.8 386.5 72.1 386.9 72.8 387.3 72.6 387.7 72.1 388.1 71.6 388.5 72.6 388.9 73.0 389.3 71.8 389.7 72.4 390.1 71.9 390.5 71.3 390.9 71.1 391.3 71.6 391.7 71.6 392.1 70.0 392.5 69.8 392.9 68.4 393.3 68.8 393.7 69.0 394.1 71.8 394.5 74.9 394.9 76.1 395.3 77.1 395.7 75.8 396.1 74.5 396.5 74.4 396.9 73.3 397.3 72.9 397.7 73.0 398.1 73.2 398.5 72.5 398.9 72.1 399.3 73.1 399.7 72.6 400.1 73.3 400.5 73.5 400.9 72.7 401.3 72.6 401.7 72.6 402.1 72.8 402.5 72.8 402.9 72.7 403.3 72.8 403.7 73.3 404.1 72.8 404.5 72.5 404.9 72.8 405.3 72.2 405.7 72.1 406.1 73.1 406.5 72.7 406.9 72.6 407.3 71.8 407.7 72.1 408.1 72.5 408.5 71.7 408.9 72.4 409.3 72.6 409.7 71.8 410.1 72.4 410.5 72.4 410.9 72.6 411.3 72.2 411.7 72.6 412.1 72.8 412.5 71.7 412.9 71.4 413.3 72.2 413.7 72.9 414.1 71.9 414.5 71.9 414.9 72.0 415.3 71.5 415.7 71.3 416.1 71.0 416.5 70.7 416.9 70.6 417.3 69.7 417.7 68.8 418.1 68.4 418.5 66.2 418.9 65.8 419.3 66.8 419.7 69.3 420.1 73.8 420.5 78.3 420.9 78.8 421.3 78.0 421.7 77.1 422.1 76.4 422.5 74.7 422.9 74.2 423.3 73.7 423.7 74.1 424.1 73.5 424.5 73.8 424.9 72.8 425.3 72.6 425.7 73.0 426.1 73.4 426.5 72.9 426.9 72.4 427.3 72.0 427.7 72.5 428.1 72.1 428.5 72.9 428.9 73.2 429.3 72.3 429.7 72.2 430.1 72.9 430.5 72.9 431 73.1 431.4 72.5 431.8 71.9 432.2 72.0 432.6 72.8 433 72.2 433.4 72.2 433.8 72.3 434.2 72.3 434.6 72.3 435 73.0 435.4 72.1 435.8 71.6 436.2 72.8 436.6 73.1 437 73.3 437.4 72.5 437.8 73.1 438.2 73.2 438.6 72.1 439 72.5 439.4 72.8 439.8 72.5 440.2 72.2 440.6 71.6 441 71.4 441.4 71.0 441.8 70.5 442.2 70.8 442.6 70.1 443 70.1 443.4 68.2 443.8 68.1 444.2 66.9 444.6 66.6 445 67.9 445.4 71.6 445.8 76.0 446.2 78.0 446.6 79.3 447 77.8 447.4 76.5 447.8 76.0 448.2 75.1 448.6 74.3 449 74.6 449.4 74.0 449.8 73.3 450.2 72.8 450.6 73.5 451 73.1 451.4 73.3 451.8 72.7 452.2 72.3 452.6 72.6 453 73.1 453.4 72.3 453.8 73.0 454.2 73.4 454.6 73.3 455 73.3 455.4 72.1 455.8 72.6 456.2 73.1 456.6 72.0 457 72.1 457.4 72.0 457.8 72.4 458.2 72.4 458.6 72.4 459 72.9 459.4 71.9 459.8 71.7 460.2 71.7 460.6 71.7 461 71.6 461.4 72.9 461.8 73.1 462.2 72.1 462.6 72.3 463 72.1 463.4 72.1 463.8 72.1 464.2 72.5 464.6 72.6 465 72.2 465.4 71.8 465.8 71.9 466.2 71.6 466.6 72.1 467 72.5 467.4 72.0 467.8 71.3 468.2 71.1 468.6 71.2 469 71.4 469.4 71.4 469.8 70.4 470.2 70.3 470.6 69.8 471 69.8 471.4 71.1 471.8 73.4 472.2 75.4 472.6 75.5 473 75.5 473.4 74.7 473.8 73.8 474.2 73.7 474.6 73.7 475 72.7 475.4 72.8 475.8 72.7 476.2 73.4 476.6 73.6 477 72.8 477.4 73.3 477.8 73.3 478.2 72.5 478.6 72.5 479 72.0 479.4 72.9 479.8 72.9 480.2 73.2 480.6 73.2 481 73.0 481.4 73.0 481.8 72.8 482.2 72.0 482.6 72.5 483 71.8 483.4 71.8 483.8 72.7 484.2 71.9 484.6 71.7 485 71.7 485.4 72.8 485.8 72.1 486.2 71.7 486.6 72.8 487 72.0 487.4 72.9 487.8 72.9 488.2 73.1 488.6 73.4 489 72.9 489.4 73.1 489.8 72.0 490.2 72.8 490.6 72.6 491 72.9 491.4 72.0 491.8 72.7 492.2 73.2 492.6 72.1 493 72.1 493.4 72.5 493.8 73.0 494.2 72.3 494.6 72.0 495 72.0 495.4 72.5 495.8 72.9 496.2 72.5 496.6 72.3 497 72.3 497.4 72.2 497.8 72.3 498.2 71.8 498.6 72.3 499 73.2 499.4 72.6 499.8 72.9" fill="none" stroke="#eba3a3" stroke-width="1.35" stroke-linejoin="round" />
<path d="M362.1 97.3 362.5 96.9 362.9 97.4 363.3 97.0 363.7 96.8 364.1 97.3 364.5 98.4 364.9 98.5 365.3 98.5 365.7 97.5 366.1 97.8 366.5 97.4 366.9 97.1 367.3 96.9 367.7 97.0 368.1 98.3 368.5 98.6 368.9 98.6 369.3 98.6 369.7 97.5 370.1 97.4 370.5 97.9 370.9 98.2 371.3 98.6 371.7 98.7 372.1 97.3 372.5 97.8 372.9 98.1 373.3 97.9 373.7 97.3 374.1 97.6 374.5 97.0 374.9 98.3 375.3 98.6 375.7 98.1 376.1 97.5 376.5 98.5 376.9 98.1 377.3 98.6 377.7 98.7 378.1 98.1 378.5 97.7 378.9 98.0 379.3 97.7 379.7 97.2 380.1 97.3 380.5 98.2 380.9 97.1 381.3 96.8 381.7 97.7 382.1 97.4 382.5 97.7 382.9 97.7 383.3 97.5 383.7 98.6 384.1 97.5 384.5 97.6 384.9 97.2 385.3 97.9 385.7 97.4 386.1 97.4 386.5 98.1 386.9 97.6 387.3 97.8 387.7 98.5 388.1 97.3 388.5 96.9 388.9 97.0 389.3 98.0 389.7 98.1 390.1 97.4 390.5 97.4 390.9 97.1 391.3 97.5 391.7 96.9 392.1 97.9 392.5 98.5 392.9 98.8 393.3 98.5 393.7 98.8 394.1 97.2 394.5 97.3 394.9 98.5 395.3 98.5 395.7 97.8 396.1 98.6 396.5 98.3 396.9 98.5 397.3 97.6 397.7 97.2 398.1 97.5 398.5 97.1 398.9 97.4 399.3 98.5 399.7 97.7 400.1 96.9 400.5 96.7 400.9 96.9 401.3 98.0 401.7 97.6 402.1 97.4 402.5 96.9 402.9 98.4 403.3 97.8 403.7 97.3 404.1 96.9 404.5 96.7 404.9 96.9 405.3 97.8 405.7 97.2 406.1 96.8 406.5 97.5 406.9 97.3 407.3 98.5 407.7 97.3 408.1 97.7 408.5 98.3 408.9 97.8 409.3 98.7 409.7 98.0 410.1 97.4 410.5 97.5 410.9 96.9 411.3 97.4 411.7 97.2 412.1 98.3 412.5 98.6 412.9 98.0 413.3 97.0 413.7 97.1 414.1 97.1 414.5 97.1 414.9 97.1 415.3 98.3 415.7 97.3 416.1 96.8 416.5 98.3 416.9 98.1 417.3 98.8 417.7 97.9 418.1 98.6 418.5 98.3 418.9 98.5 419.3 98.4 419.7 98.0 420.1 97.1 420.5 97.1 420.9 98.3 421.3 98.7 421.7 98.8 422.1 97.8 422.5 98.1 422.9 98.4 423.3 98.2 423.7 98.5 424.1 98.1 424.5 98.2 424.9 98.2 425.3 97.5 425.7 98.5 426.1 98.8 426.5 97.3 426.9 98.5 427.3 98.8 427.7 98.4 428.1 97.2 428.5 98.3 428.9 97.3 429.3 98.5 429.7 98.3 430.1 97.2 430.5 97.0 431 97.8 431.4 97.9 431.8 98.3 432.2 98.7 432.6 97.6 433 96.8 433.4 98.3 433.8 97.1 434.2 98.3 434.6 97.2 435 98.2 435.4 98.4 435.8 98.7 436.2 98.2 436.6 98.6 437 97.5 437.4 98.0 437.8 97.6 438.2 98.4 438.6 98.5 439 98.0 439.4 97.9 439.8 97.0 440.2 96.7 440.6 97.6 441 97.7 441.4 98.4 441.8 98.2 442.2 97.3 442.6 97.4 443 98.2 443.4 97.9 443.8 97.0 444.2 98.2 444.6 98.5 445 97.3 445.4 97.7 445.8 97.6 446.2 98.2 446.6 97.6 447 97.3 447.4 97.6 447.8 98.6 448.2 97.3 448.6 97.0 449 97.8 449.4 98.5 449.8 98.0 450.2 97.7 450.6 98.4 451 98.5 451.4 97.2 451.8 98.3 452.2 97.4 452.6 97.3 453 98.3 453.4 97.8 453.8 98.3 454.2 97.4 454.6 98.3 455 97.4 455.4 97.0 455.8 97.6 456.2 97.4 456.6 97.8 457 98.5 457.4 98.4 457.8 97.1 458.2 97.2 458.6 97.7 459 97.8 459.4 98.2 459.8 97.9 460.2 97.1 460.6 97.1 461 98.2 461.4 97.7 461.8 98.2 462.2 98.8 462.6 98.3 463 98.3 463.4 98.1 463.8 97.6 464.2 98.5 464.6 97.9 465 98.6 465.4 97.7 465.8 98.4 466.2 98.5 466.6 98.2 467 97.8 467.4 97.2 467.8 98.1 468.2 97.6 468.6 98.0 469 97.2 469.4 96.9 469.8 96.9 470.2 98.1 470.6 97.3 471 98.4 471.4 97.7 471.8 97.9 472.2 97.6 472.6 97.9 473 97.1 473.4 97.4 473.8 98.5 474.2 97.4 474.6 98.0 475 97.5 475.4 97.4 475.8 96.8 476.2 96.6 476.6 98.3 477 98.5 477.4 98.6 477.8 98.6 478.2 98.9 478.6 97.5 479 97.9 479.4 97.8 479.8 97.9 480.2 98.6 480.6 98.5 481 98.9 481.4 97.4 481.8 98.0 482.2 98.2 482.6 98.4 483 98.2 483.4 98.5 483.8 97.7 484.2 98.5 484.6 97.8 485 98.0 485.4 98.6 485.8 98.4 486.2 97.6 486.6 97.3 487 97.3 487.4 97.9 487.8 98.7 488.2 98.8 488.6 97.9 489 97.7 489.4 98.3 489.8 97.6 490.2 97.6 490.6 96.9 491 96.9 491.4 97.6 491.8 98.1 492.2 98.1 492.6 97.6 493 98.6 493.4 98.3 493.8 97.3 494.2 96.9 494.6 98.4 495 98.9 495.4 98.9 495.8 98.3 496.2 97.6 496.6 97.0 497 97.1 497.4 97.1 497.8 98.4 498.2 98.7 498.6 98.6 499 97.4 499.4 97.2 499.8 97.3" fill="none" stroke="#c8c8c8" stroke-width="2.1" stroke-linejoin="round" />
<text x="371.5" y="23.7" font-size="8.6" fill="#222" textLength="39" lengthAdjust="spacingAndGlyphs" >DMPO-OH</text>
<text x="497" y="35.9" font-size="6.8" fill="#222" text-anchor="end" textLength="45.9" lengthAdjust="spacingAndGlyphs" >Light on 10 min</text>
<text x="495" y="64.4" font-size="6.8" fill="#222" text-anchor="end" textLength="42.2" lengthAdjust="spacingAndGlyphs" >Light on 5 min</text>
<text x="481" y="89.2" font-size="6.8" fill="#222" text-anchor="end" >Dark</text>
<text x="430.6" y="142.8" font-size="8.4" fill="#222" text-anchor="middle" textLength="68.6" lengthAdjust="spacingAndGlyphs" >Magnetic field (G)</text>
<text x="352.8" y="61.6" font-size="8.8" fill="#222" text-anchor="middle" textLength="55.7" lengthAdjust="spacingAndGlyphs" transform="rotate(-90 352.8 61.6)" >Intensity (a.u.)</text>
<text x="344" y="14" font-size="10" fill="#000" font-weight="bold" >c</text>
<line x1="528.9" y1="104.2" x2="672.9" y2="104.2" stroke="#777" stroke-width="0.9" />
<line x1="528.9" y1="104.2" x2="528.9" y2="106" stroke="#777" stroke-width="0.7" />
<text x="528.9" y="112.2" font-size="5.9" fill="#222" text-anchor="middle" >3460</text>
<line x1="557.7" y1="104.2" x2="557.7" y2="106" stroke="#777" stroke-width="0.7" />
<text x="557.7" y="112.2" font-size="5.9" fill="#222" text-anchor="middle" >3480</text>
<line x1="586.5" y1="104.2" x2="586.5" y2="106" stroke="#777" stroke-width="0.7" />
<text x="586.5" y="112.2" font-size="5.9" fill="#222" text-anchor="middle" >3500</text>
<line x1="615.3" y1="104.2" x2="615.3" y2="106" stroke="#777" stroke-width="0.7" />
<text x="615.3" y="112.2" font-size="5.9" fill="#222" text-anchor="middle" >3520</text>
<line x1="644.1" y1="104.2" x2="644.1" y2="106" stroke="#777" stroke-width="0.7" />
<text x="644.1" y="112.2" font-size="5.9" fill="#222" text-anchor="middle" >3540</text>
<line x1="672.9" y1="104.2" x2="672.9" y2="106" stroke="#777" stroke-width="0.7" />
<text x="672.9" y="112.2" font-size="5.9" fill="#222" text-anchor="middle" >3560</text>
<line x1="543.3" y1="104.2" x2="543.3" y2="105.3" stroke="#777" stroke-width="0.6" />
<line x1="572.1" y1="104.2" x2="572.1" y2="105.3" stroke="#777" stroke-width="0.6" />
<line x1="600.9" y1="104.2" x2="600.9" y2="105.3" stroke="#777" stroke-width="0.6" />
<line x1="629.7" y1="104.2" x2="629.7" y2="105.3" stroke="#777" stroke-width="0.6" />
<line x1="658.5" y1="104.2" x2="658.5" y2="105.3" stroke="#777" stroke-width="0.6" />
<path d="M529.2 51.4 529.5 51.5 529.7 51.5 530 51.5 530.2 51.5 530.5 51.5 530.7 51.3 531 51.4 531.2 51.5 531.5 51.4 531.7 51.5 532 51.3 532.2 51.4 532.5 51.3 532.7 51.4 533 51.4 533.2 51.3 533.5 51.3 533.7 51.3 534 51.5 534.2 51.5 534.5 51.3 534.7 51.5 535 51.3 535.2 51.4 535.5 51.3 535.7 51.2 536 51.5 536.2 51.3 536.5 51.3 536.7 51.5 537 51.5 537.2 51.3 537.5 51.5 537.7 51.4 538 51.4 538.2 51.3 538.5 51.5 538.7 51.5 539 51.5 539.2 51.5 539.5 51.3 539.7 51.4 540 51.3 540.2 51.3 540.5 51.3 540.7 51.3 541 51.4 541.2 51.2 541.5 51.4 541.7 51.3 542 51.3 542.2 51.5 542.5 51.4 542.7 51.3 543 51.4 543.2 51.4 543.5 51.3 543.7 51.5 544 51.2 544.2 51.5 544.5 51.5 544.7 51.2 545 51.5 545.2 51.3 545.5 51.4 545.7 51.2 546 51.2 546.2 51.3 546.5 51.5 546.7 51.3 547 51.5 547.2 51.5 547.5 51.5 547.7 51.3 548 51.3 548.2 51.4 548.5 51.5 548.7 51.3 549 51.4 549.2 51.5 549.5 51.5 549.7 51.2 550 51.5 550.2 51.2 550.5 51.3 550.7 51.4 551 51.5 551.2 51.3 551.5 51.5 551.7 51.3 552 51.3 552.2 51.3 552.5 51.2 552.7 51.2 553 51.2 553.2 51.4 553.5 51.4 553.7 51.2 554 51.1 554.2 51.4 554.5 51.2 554.7 51.2 555 51.1 555.2 51.2 555.5 51.2 555.7 51.1 556 51.0 556.2 50.9 556.5 51.1 556.7 50.8 557 50.8 557.2 50.8 557.5 50.4 557.7 50.3 558 49.9 558.2 49.2 558.5 48.3 558.7 46.8 559 45.2 559.2 43.1 559.5 41.2 559.7 39.1 560 37.7 560.2 37.6 560.5 38.8 560.7 41.7 561 46.0 561.2 51.4 561.5 56.8 561.7 61.2 562 64.0 562.2 65.3 562.5 64.9 562.7 63.6 563 61.8 563.2 59.7 563.5 57.6 563.7 55.9 564 54.5 564.2 53.5 564.5 52.9 564.7 52.6 565 52.4 565.2 52.1 565.5 52.1 565.7 52.0 566 51.9 566.2 51.8 566.5 51.8 566.7 51.6 567 51.7 567.2 51.5 567.5 51.6 567.7 51.6 568 51.6 568.2 51.5 568.5 51.6 568.7 51.5 569 51.5 569.2 51.3 569.5 51.5 569.7 51.4 570 51.5 570.2 51.4 570.5 51.5 570.7 51.5 571 51.5 571.2 51.4 571.5 51.5 571.7 51.5 572 51.5 572.2 51.4 572.5 51.5 572.7 51.5 573 51.4 573.2 51.5 573.5 51.5 573.7 51.4 574 51.4 574.2 51.3 574.5 51.4 574.7 51.5 575 51.3 575.2 51.4 575.5 51.4 575.7 51.4 576 51.2 576.2 51.4 576.5 51.3 576.7 51.3 577 51.2 577.2 51.3 577.5 51.3 577.7 51.2 578 51.2 578.2 51.0 578.5 51.0 578.7 51.0 579 51.0 579.2 50.8 579.5 50.9 579.7 50.7 580 50.4 580.2 50.2 580.5 49.7 580.7 49.0 581 48.1 581.2 46.8 581.5 45.1 581.7 43.1 582 40.9 582.2 39.1 582.5 37.7 582.7 37.5 583 38.7 583.2 41.5 583.5 46.1 583.7 51.2 584 56.7 584.2 61.1 584.5 64.0 584.7 65.1 585 65.0 585.2 63.5 585.5 61.4 585.7 59.4 586 57.3 586.2 55.7 586.5 54.3 586.7 53.5 587 52.9 587.2 52.4 587.5 52.0 587.7 51.9 588 51.7 588.2 51.4 588.5 51.2 588.7 51.2 589 51.1 589.2 51.0 589.5 50.7 589.7 50.2 590 49.5 590.2 48.7 590.5 47.2 590.7 45.6 591 43.8 591.2 41.7 591.5 39.5 591.7 38.1 592 37.6 592.2 38.3 592.5 40.9 592.7 45.0 593 50.3 593.2 55.9 593.5 60.4 593.7 63.8 594 65.4 594.2 65.2 594.5 63.9 594.7 62.3 595 60.0 595.2 57.9 595.5 56.1 595.7 54.9 596 53.8 596.2 53.0 596.5 52.6 596.7 52.2 597 52.1 597.2 51.9 597.5 51.8 597.7 51.8 598 51.8 598.2 51.5 598.5 51.6 598.7 51.5 599 51.6 599.2 51.5 599.5 51.3 599.7 51.3 600 51.2 600.2 51.5 600.5 51.2 600.7 51.3 601 51.2 601.2 51.2 601.5 51.1 601.7 51.1 602 50.8 602.2 50.8 602.5 50.5 602.7 50.3 603 49.8 603.2 49.1 603.5 48.3 603.7 46.9 604 45.2 604.2 43.3 604.5 41.1 604.7 39.0 605 37.7 605.2 37.4 605.5 38.8 605.7 41.7 606 46.0 606.2 51.2 606.5 56.8 606.7 61.1 607 64.1 607.2 65.3 607.5 65.0 607.7 63.6 608 61.7 608.2 59.4 608.5 57.4 608.7 55.8 609 54.3 609.2 53.4 609.5 52.9 609.7 52.2 610 52.1 610.2 51.8 610.5 51.6 610.7 51.4 611 51.4 611.2 51.3 611.5 50.8 611.7 50.6 612 50.3 612.2 49.7 612.5 48.8 612.7 47.6 613 46.2 613.2 44.3 613.5 42.0 613.7 39.9 614 38.4 614.2 37.6 614.5 38.1 614.7 40.2 615 44.3 615.2 49.4 615.5 54.9 615.7 59.7 616 63.1 616.2 65.2 616.5 65.3 616.7 64.4 617 62.7 617.2 60.5 617.5 58.2 617.7 56.5 618 55.2 618.2 53.9 618.5 53.3 618.7 52.7 619 52.3 619.2 52.2 619.5 51.9 619.7 51.8 620 51.8 620.2 51.7 620.5 51.6 620.7 51.7 621 51.8 621.2 51.8 621.5 51.5 621.7 51.6 622 51.5 622.2 51.6 622.5 51.5 622.7 51.7 623 51.5 623.2 51.4 623.5 51.6 623.7 51.4 624 51.5 624.2 51.5 624.5 51.6 624.7 51.5 625 51.5 625.2 51.4 625.5 51.5 625.7 51.4 626 51.5 626.2 51.4 626.5 51.3 626.7 51.3 627 51.4 627.2 51.5 627.5 51.3 627.7 51.5 628 51.4 628.2 51.3 628.5 51.4 628.7 51.3 629 51.3 629.2 51.4 629.5 51.3 629.7 51.5 630 51.3 630.2 51.3 630.5 51.4 630.7 51.2 631 51.4 631.2 51.2 631.5 51.2 631.7 51.4 632 51.3 632.2 51.1 632.5 51.1 632.7 51.3 633 51.2 633.2 51.2 633.5 51.0 633.7 51.1 634 50.9 634.2 50.8 634.5 50.7 634.7 50.7 635 50.4 635.2 50.1 635.5 49.5 635.7 48.9 636 47.8 636.2 46.4 636.5 44.5 636.7 42.5 637 40.3 637.2 38.5 637.5 37.5 637.7 37.8 638 39.6 638.2 43.1 638.5 48.0 638.7 53.5 639 58.6 639.2 62.7 639.5 64.8 639.7 65.5 640 64.5 640.2 62.9 640.5 61.0 640.7 58.8 641 56.8 641.2 55.3 641.5 54.0 641.7 53.3 642 52.7 642.2 52.4 642.5 52.2 642.7 52.2 643 51.8 643.2 51.8 643.5 51.7 643.7 51.7 644 51.6 644.2 51.6 644.5 51.6 644.7 51.5 645 51.7 645.2 51.5 645.5 51.7 645.7 51.6 646 51.6 646.2 51.5 646.5 51.6 646.7 51.4 647 51.5 647.2 51.4 647.5 51.5 647.7 51.5 648 51.4 648.2 51.4 648.5 51.3 648.7 51.4 649 51.3 649.2 51.4 649.5 51.6 649.7 51.4 650 51.4 650.2 51.4 650.5 51.4 650.7 51.5 651 51.5 651.2 51.3 651.5 51.4 651.7 51.5 652 51.6 652.2 51.5 652.5 51.4 652.7 51.6 653 51.3 653.2 51.3 653.5 51.5 653.7 51.4 654 51.3 654.2 51.4 654.5 51.6 654.7 51.4 655 51.4 655.2 51.3 655.5 51.3 655.7 51.5 656 51.4 656.2 51.5 656.5 51.3 656.7 51.3 657 51.3 657.2 51.4 657.5 51.3 657.7 51.3 658 51.4 658.2 51.4 658.5 51.3 658.7 51.3 659 51.5 659.2 51.3 659.5 51.4 659.7 51.4 660 51.4 660.2 51.3 660.5 51.4 660.7 51.3 661 51.4 661.2 51.5 661.5 51.4 661.7 51.5 662 51.3 662.2 51.3 662.5 51.4 662.7 51.4 663 51.4 663.2 51.4 663.5 51.4 663.7 51.5 664 51.5 664.2 51.3 664.5 51.4 664.7 51.5 665 51.3 665.2 51.3 665.5 51.3 665.7 51.3 666 51.5 666.2 51.5 666.5 51.3 666.7 51.3 667 51.3 667.2 51.3 667.5 51.3 667.7 51.4 668 51.4 668.2 51.3 668.5 51.3 668.7 51.5 669 51.3 669.2 51.3 669.5 51.3 669.7 51.4 670 51.3 670.2 51.4 670.5 51.3 670.7 51.5 671 51.4 671.2 51.5 671.5 51.4 671.7 51.5 672 51.4 672.2 51.4" fill="none" stroke="#6a9fd6" stroke-width="0.9" stroke-linejoin="round" />
<path d="M529.2 77.4 529.5 77.4 529.7 77.3 530 77.2 530.2 77.1 530.5 77.3 530.7 77.3 531 77.4 531.2 77.3 531.5 77.4 531.7 77.2 532 77.4 532.2 77.4 532.5 77.3 532.7 77.3 533 77.4 533.2 77.2 533.5 77.3 533.7 77.4 534 77.2 534.2 77.4 534.5 77.4 534.7 77.4 535 77.2 535.2 77.2 535.5 77.4 535.7 77.4 536 77.3 536.2 77.2 536.5 77.2 536.7 77.3 537 77.2 537.2 77.4 537.5 77.3 537.7 77.2 538 77.3 538.2 77.3 538.5 77.4 538.7 77.4 539 77.3 539.2 77.3 539.5 77.4 539.7 77.4 540 77.4 540.2 77.2 540.5 77.3 540.7 77.3 541 77.2 541.2 77.3 541.5 77.2 541.7 77.4 542 77.3 542.2 77.2 542.5 77.3 542.7 77.2 543 77.2 543.2 77.3 543.5 77.2 543.7 77.2 544 77.4 544.2 77.3 544.5 77.1 544.7 77.4 545 77.1 545.2 77.2 545.5 77.4 545.7 77.3 546 77.2 546.2 77.2 546.5 77.3 546.7 77.2 547 77.4 547.2 77.1 547.5 77.3 547.7 77.4 548 77.2 548.2 77.4 548.5 77.2 548.7 77.4 549 77.4 549.2 77.3 549.5 77.4 549.7 77.3 550 77.4 550.2 77.4 550.5 77.3 550.7 77.3 551 77.3 551.2 77.2 551.5 77.1 551.7 77.3 552 77.2 552.2 77.2 552.5 77.3 552.7 77.1 553 77.1 553.2 77.1 553.5 77.2 553.7 77.2 554 77.1 554.2 77.2 554.5 77.3 554.7 77.1 555 77.1 555.2 77.2 555.5 77.1 555.7 77.0 556 77.0 556.2 77.0 556.5 76.9 556.7 76.9 557 76.8 557.2 76.8 557.5 76.5 557.7 76.4 558 76.2 558.2 75.7 558.5 74.8 558.7 73.8 559 72.4 559.2 70.9 559.5 69.2 559.7 67.7 560 66.7 560.2 66.3 560.5 67.2 560.7 69.6 561 72.9 561.2 77.2 561.5 81.6 561.7 84.9 562 87.4 562.2 88.2 562.5 88.1 562.7 87.0 563 85.3 563.2 83.6 563.5 82.3 563.7 80.8 564 79.8 564.2 79.1 564.5 78.6 564.7 78.2 565 78.0 565.2 77.7 565.5 77.7 565.7 77.6 566 77.7 566.2 77.6 566.5 77.4 566.7 77.6 567 77.4 567.2 77.3 567.5 77.5 567.7 77.4 568 77.5 568.2 77.4 568.5 77.4 568.7 77.3 569 77.5 569.2 77.2 569.5 77.4 569.7 77.5 570 77.5 570.2 77.5 570.5 77.3 570.7 77.4 571 77.4 571.2 77.2 571.5 77.4 571.7 77.4 572 77.3 572.2 77.4 572.5 77.3 572.7 77.2 573 77.3 573.2 77.1 573.5 77.4 573.7 77.4 574 77.2 574.2 77.4 574.5 77.1 574.7 77.4 575 77.2 575.2 77.4 575.5 77.2 575.7 77.3 576 77.1 576.2 77.1 576.5 77.3 576.7 77.2 577 77.2 577.2 77.0 577.5 77.0 577.7 77.1 578 77.0 578.2 77.2 578.5 77.1 578.7 77.1 579 77.0 579.2 76.9 579.5 76.7 579.7 76.8 580 76.5 580.2 76.4 580.5 76.0 580.7 75.5 581 74.7 581.2 73.6 581.5 72.4 581.7 70.7 582 69.2 582.2 67.5 582.5 66.5 582.7 66.2 583 67.3 583.2 69.5 583.5 73.0 583.7 77.2 584 81.5 584.2 85.1 584.5 87.2 584.7 88.1 585 87.9 585.2 86.8 585.5 85.3 585.7 83.7 586 82.0 586.2 80.6 586.5 79.6 586.7 78.9 587 78.4 587.2 78.0 587.5 77.9 587.7 77.6 588 77.5 588.2 77.4 588.5 77.3 588.7 77.2 589 77.0 589.2 76.9 589.5 76.8 589.7 76.2 590 75.8 590.2 75.1 590.5 74.0 590.7 72.7 591 71.4 591.2 69.5 591.5 68.1 591.7 66.7 592 66.3 592.2 66.9 592.5 69.1 592.7 72.4 593 76.4 593.2 80.8 593.5 84.5 593.7 86.9 594 88.2 594.2 88.2 594.5 87.3 594.7 85.6 595 84.1 595.2 82.3 595.5 80.9 595.7 80.1 596 79.0 596.2 78.7 596.5 78.3 596.7 78.1 597 77.9 597.2 77.8 597.5 77.6 597.7 77.6 598 77.4 598.2 77.6 598.5 77.5 598.7 77.5 599 77.3 599.2 77.4 599.5 77.2 599.7 77.4 600 77.3 600.2 77.4 600.5 77.3 600.7 77.2 601 77.2 601.2 77.0 601.5 77.1 601.7 76.8 602 76.9 602.2 76.7 602.5 76.8 602.7 76.3 603 76.2 603.2 75.7 603.5 74.8 603.7 73.9 604 72.3 604.2 70.8 604.5 69.1 604.7 67.5 605 66.4 605.2 66.4 605.5 67.2 605.7 69.6 606 73.0 606.2 77.2 606.5 81.4 606.7 84.9 607 87.4 607.2 88.2 607.5 88.0 607.7 86.9 608 85.3 608.2 83.6 608.5 82.0 608.7 80.6 609 79.8 609.2 78.8 609.5 78.4 609.7 78.1 610 77.8 610.2 77.7 610.5 77.5 610.7 77.3 611 77.1 611.2 77.1 611.5 76.9 611.7 76.8 612 76.4 612.2 76.0 612.5 75.4 612.7 74.4 613 73.3 613.2 71.8 613.5 69.9 613.7 68.5 614 67.1 614.2 66.5 614.5 66.8 614.7 68.5 615 71.5 615.2 75.6 615.5 80.0 615.7 83.7 616 86.4 616.2 88.0 616.5 88.1 616.7 87.5 617 86.2 617.2 84.5 617.5 82.6 617.7 81.3 618 80.1 618.2 79.5 618.5 78.9 618.7 78.4 619 78.2 619.2 77.9 619.5 77.9 619.7 77.7 620 77.6 620.2 77.8 620.5 77.7 620.7 77.6 621 77.6 621.2 77.5 621.5 77.6 621.7 77.3 622 77.3 622.2 77.3 622.5 77.4 622.7 77.5 623 77.3 623.2 77.4 623.5 77.3 623.7 77.4 624 77.4 624.2 77.2 624.5 77.5 624.7 77.4 625 77.2 625.2 77.3 625.5 77.2 625.7 77.4 626 77.4 626.2 77.2 626.5 77.2 626.7 77.3 627 77.4 627.2 77.4 627.5 77.3 627.7 77.2 628 77.3 628.2 77.3 628.5 77.4 628.7 77.3 629 77.3 629.2 77.4 629.5 77.3 629.7 77.4 630 77.2 630.2 77.1 630.5 77.4 630.7 77.1 631 77.4 631.2 77.2 631.5 77.1 631.7 77.1 632 77.2 632.2 77.1 632.5 77.2 632.7 77.0 633 77.2 633.2 77.0 633.5 77.1 633.7 76.9 634 77.0 634.2 76.9 634.5 76.8 634.7 76.6 635 76.5 635.2 76.4 635.5 75.8 635.7 75.3 636 74.3 636.2 73.5 636.5 72.0 636.7 70.3 637 68.6 637.2 67.0 637.5 66.3 637.7 66.6 638 68.2 638.2 71.0 638.5 74.8 638.7 79.0 639 83.0 639.2 86.1 639.5 87.8 639.7 88.3 640 87.8 640.2 86.3 640.5 84.9 640.7 83.1 641 81.4 641.2 80.4 641.5 79.5 641.7 78.9 642 78.3 642.2 78.2 642.5 77.9 642.7 77.8 643 77.6 643.2 77.5 643.5 77.5 643.7 77.5 644 77.5 644.2 77.4 644.5 77.4 644.7 77.5 645 77.5 645.2 77.6 645.5 77.3 645.7 77.5 646 77.4 646.2 77.3 646.5 77.5 646.7 77.3 647 77.3 647.2 77.3 647.5 77.5 647.7 77.3 648 77.3 648.2 77.4 648.5 77.3 648.7 77.4 649 77.2 649.2 77.3 649.5 77.4 649.7 77.4 650 77.4 650.2 77.3 650.5 77.4 650.7 77.5 651 77.3 651.2 77.4 651.5 77.4 651.7 77.2 652 77.2 652.2 77.5 652.5 77.3 652.7 77.3 653 77.3 653.2 77.5 653.5 77.3 653.7 77.4 654 77.2 654.2 77.2 654.5 77.4 654.7 77.3 655 77.4 655.2 77.3 655.5 77.2 655.7 77.2 656 77.3 656.2 77.3 656.5 77.2 656.7 77.2 657 77.2 657.2 77.2 657.5 77.3 657.7 77.3 658 77.3 658.2 77.4 658.5 77.4 658.7 77.4 659 77.2 659.2 77.3 659.5 77.4 659.7 77.4 660 77.2 660.2 77.2 660.5 77.2 660.7 77.3 661 77.4 661.2 77.2 661.5 77.4 661.7 77.3 662 77.4 662.2 77.4 662.5 77.2 662.7 77.4 663 77.2 663.2 77.2 663.5 77.3 663.7 77.3 664 77.2 664.2 77.2 664.5 77.2 664.7 77.2 665 77.2 665.2 77.2 665.5 77.2 665.7 77.3 666 77.3 666.2 77.4 666.5 77.3 666.7 77.3 667 77.2 667.2 77.3 667.5 77.2 667.7 77.2 668 77.2 668.2 77.4 668.5 77.2 668.7 77.2 669 77.3 669.2 77.3 669.5 77.3 669.7 77.3 670 77.3 670.2 77.2 670.5 77.4 670.7 77.4 671 77.3 671.2 77.3 671.5 77.3 671.7 77.2 672 77.3 672.2 77.4" fill="none" stroke="#e48a8a" stroke-width="0.9" stroke-linejoin="round" />
<path d="M529.2 97.4 529.7 97.3 530.2 97.0 530.7 97.8 531.2 96.9 531.7 97.4 532.2 97.8 532.7 97.0 533.2 97.5 533.7 97.5 534.2 96.9 534.7 97.3 535.2 97.6 535.7 97.4 536.2 97.6 536.7 97.1 537.2 97.1 537.7 97.0 538.2 97.4 538.7 97.8 539.2 97.5 539.7 97.7 540.2 97.3 540.7 97.6 541.2 97.0 541.7 97.2 542.2 97.6 542.7 97.6 543.2 97.3 543.7 97.0 544.2 97.2 544.7 97.1 545.2 97.2 545.7 97.7 546.2 97.1 546.7 97.8 547.2 97.8 547.7 97.0 548.2 97.3 548.7 97.4 549.2 96.9 549.7 97.3 550.2 97.8 550.7 97.0 551.2 97.5 551.7 97.0 552.2 97.5 552.7 97.8 553.2 97.1 553.7 96.9 554.2 97.0 554.7 97.4 555.2 96.9 555.7 97.0 556.2 97.4 556.7 97.8 557.2 97.3 557.7 97.3 558.2 97.5 558.7 97.0 559.2 97.5 559.7 97.1 560.2 97.5 560.7 97.9 561.2 97.0 561.7 97.5 562.2 97.5 562.7 97.0 563.2 97.2 563.7 97.9 564.2 97.9 564.7 97.0 565.2 97.6 565.7 97.9 566.2 97.1 566.7 97.5 567.2 96.9 567.7 97.3 568.2 97.6 568.7 97.5 569.2 97.7 569.7 97.0 570.2 97.2 570.7 97.8 571.2 97.5 571.7 97.4 572.2 97.3 572.7 97.9 573.2 97.5 573.7 96.9 574.2 97.7 574.7 97.2 575.2 97.3 575.7 97.1 576.2 97.3 576.7 97.2 577.2 97.0 577.7 97.5 578.2 97.0 578.7 97.7 579.2 96.9 579.7 97.7 580.2 97.7 580.7 97.4 581.2 97.6 581.7 97.1 582.2 97.6 582.7 97.3 583.2 97.1 583.7 97.9 584.2 97.3 584.7 97.3 585.2 97.8 585.7 97.3 586.2 97.6 586.7 97.1 587.2 97.7 587.7 97.2 588.2 97.0 588.7 97.9 589.2 97.1 589.7 97.8 590.2 97.9 590.7 97.5 591.2 96.9 591.7 97.0 592.2 97.1 592.7 97.3 593.2 97.5 593.7 97.9 594.2 97.3 594.7 97.0 595.2 97.5 595.7 97.0 596.2 97.0 596.7 97.5 597.2 97.6 597.7 97.0 598.2 97.4 598.7 97.6 599.2 97.7 599.7 97.3 600.2 97.8 600.7 97.1 601.2 97.6 601.7 97.7 602.2 97.8 602.7 97.4 603.2 97.0 603.7 96.9 604.2 97.4 604.7 97.1 605.2 97.5 605.7 97.0 606.2 97.7 606.7 97.1 607.2 96.9 607.7 97.1 608.2 97.4 608.7 97.5 609.2 97.3 609.7 97.1 610.2 97.4 610.7 97.8 611.2 97.4 611.7 97.8 612.2 96.9 612.7 97.9 613.2 97.8 613.7 97.4 614.2 97.4 614.7 97.4 615.2 97.8 615.7 97.0 616.2 97.5 616.7 97.4 617.2 97.2 617.7 97.6 618.2 97.6 618.7 97.0 619.2 97.6 619.7 97.4 620.2 97.4 620.7 97.5 621.2 97.0 621.7 97.5 622.2 97.3 622.7 97.8 623.2 97.1 623.7 97.7 624.2 97.6 624.7 97.5 625.2 97.8 625.7 96.9 626.2 97.5 626.7 97.5 627.2 97.6 627.7 97.3 628.2 97.0 628.7 97.1 629.2 97.5 629.7 97.1 630.2 97.0 630.7 97.3 631.2 97.4 631.7 97.4 632.2 96.9 632.7 97.7 633.2 97.2 633.7 97.7 634.2 96.9 634.7 97.9 635.2 97.5 635.7 97.9 636.2 97.9 636.7 97.7 637.2 97.0 637.7 97.2 638.2 97.1 638.7 97.7 639.2 97.1 639.7 97.1 640.2 97.0 640.7 97.0 641.2 97.8 641.7 97.9 642.2 97.3 642.7 97.6 643.2 97.4 643.7 97.4 644.2 97.3 644.7 97.5 645.2 97.1 645.7 97.2 646.2 97.4 646.7 97.1 647.2 97.3 647.7 97.8 648.2 96.9 648.7 97.0 649.2 97.7 649.7 97.0 650.2 97.2 650.7 97.8 651.2 97.5 651.7 97.1 652.2 97.0 652.7 97.2 653.2 97.2 653.7 97.7 654.2 97.9 654.7 97.7 655.2 97.8 655.7 97.8 656.2 97.8 656.7 97.8 657.2 97.9 657.7 97.0 658.2 97.2 658.7 97.1 659.2 97.5 659.7 97.4 660.2 97.2 660.7 97.7 661.2 97.3 661.7 97.1 662.2 97.2 662.7 97.4 663.2 97.5 663.7 97.5 664.2 97.3 664.7 97.1 665.2 97.3 665.7 97.2 666.2 97.1 666.7 97.4 667.2 97.1 667.7 97.6 668.2 97.6 668.7 97.0 669.2 97.5 669.7 97.2 670.2 97.3 670.7 97.5 671.2 97.7 671.7 97.8 672.2 97.6" fill="none" stroke="#7aa6d6" stroke-width="1.0" stroke-linejoin="round" stroke-dasharray="1.2 0.6"/>
<path d="M529.2 97.4 529.7 97.3 530.2 97.0 530.7 97.8 531.2 96.9 531.7 97.4 532.2 97.8 532.7 97.0 533.2 97.5 533.7 97.5 534.2 96.9 534.7 97.3 535.2 97.6 535.7 97.4 536.2 97.6 536.7 97.1 537.2 97.1 537.7 97.0 538.2 97.4 538.7 97.8 539.2 97.5 539.7 97.7 540.2 97.3 540.7 97.6 541.2 97.0 541.7 97.2 542.2 97.6 542.7 97.6 543.2 97.3 543.7 97.0 544.2 97.2 544.7 97.1 545.2 97.2 545.7 97.7 546.2 97.1 546.7 97.8 547.2 97.8 547.7 97.0 548.2 97.3 548.7 97.4 549.2 96.9 549.7 97.3 550.2 97.8 550.7 97.0 551.2 97.5 551.7 97.0 552.2 97.5 552.7 97.8 553.2 97.1 553.7 96.9 554.2 97.0 554.7 97.4 555.2 96.9 555.7 97.0 556.2 97.4 556.7 97.8 557.2 97.3 557.7 97.3 558.2 97.5 558.7 97.0 559.2 97.5 559.7 97.1 560.2 97.5 560.7 97.9 561.2 97.0 561.7 97.5 562.2 97.5 562.7 97.0 563.2 97.2 563.7 97.9 564.2 97.9 564.7 97.0 565.2 97.6 565.7 97.9 566.2 97.1 566.7 97.5 567.2 96.9 567.7 97.3 568.2 97.6 568.7 97.5 569.2 97.7 569.7 97.0 570.2 97.2 570.7 97.8 571.2 97.5 571.7 97.4 572.2 97.3 572.7 97.9 573.2 97.5 573.7 96.9 574.2 97.7 574.7 97.2 575.2 97.3 575.7 97.1 576.2 97.3 576.7 97.2 577.2 97.0 577.7 97.5 578.2 97.0 578.7 97.7 579.2 96.9 579.7 97.7 580.2 97.7 580.7 97.4 581.2 97.6 581.7 97.1 582.2 97.6 582.7 97.3 583.2 97.1 583.7 97.9 584.2 97.3 584.7 97.3 585.2 97.8 585.7 97.3 586.2 97.6 586.7 97.1 587.2 97.7 587.7 97.2 588.2 97.0 588.7 97.9 589.2 97.1 589.7 97.8 590.2 97.9 590.7 97.5 591.2 96.9 591.7 97.0 592.2 97.1 592.7 97.3 593.2 97.5 593.7 97.9 594.2 97.3 594.7 97.0 595.2 97.5 595.7 97.0 596.2 97.0 596.7 97.5 597.2 97.6 597.7 97.0 598.2 97.4 598.7 97.6 599.2 97.7 599.7 97.3 600.2 97.8 600.7 97.1 601.2 97.6 601.7 97.7 602.2 97.8 602.7 97.4 603.2 97.0 603.7 96.9 604.2 97.4 604.7 97.1 605.2 97.5 605.7 97.0 606.2 97.7 606.7 97.1 607.2 96.9 607.7 97.1 608.2 97.4 608.7 97.5 609.2 97.3 609.7 97.1 610.2 97.4 610.7 97.8 611.2 97.4 611.7 97.8 612.2 96.9 612.7 97.9 613.2 97.8 613.7 97.4 614.2 97.4 614.7 97.4 615.2 97.8 615.7 97.0 616.2 97.5 616.7 97.4 617.2 97.2 617.7 97.6 618.2 97.6 618.7 97.0 619.2 97.6 619.7 97.4 620.2 97.4 620.7 97.5 621.2 97.0 621.7 97.5 622.2 97.3 622.7 97.8 623.2 97.1 623.7 97.7 624.2 97.6 624.7 97.5 625.2 97.8 625.7 96.9 626.2 97.5 626.7 97.5 627.2 97.6 627.7 97.3 628.2 97.0 628.7 97.1 629.2 97.5 629.7 97.1 630.2 97.0 630.7 97.3 631.2 97.4 631.7 97.4 632.2 96.9 632.7 97.7 633.2 97.2 633.7 97.7 634.2 96.9 634.7 97.9 635.2 97.5 635.7 97.9 636.2 97.9 636.7 97.7 637.2 97.0 637.7 97.2 638.2 97.1 638.7 97.7 639.2 97.1 639.7 97.1 640.2 97.0 640.7 97.0 641.2 97.8 641.7 97.9 642.2 97.3 642.7 97.6 643.2 97.4 643.7 97.4 644.2 97.3 644.7 97.5 645.2 97.1 645.7 97.2 646.2 97.4 646.7 97.1 647.2 97.3 647.7 97.8 648.2 96.9 648.7 97.0 649.2 97.7 649.7 97.0 650.2 97.2 650.7 97.8 651.2 97.5 651.7 97.1 652.2 97.0 652.7 97.2 653.2 97.2 653.7 97.7 654.2 97.9 654.7 97.7 655.2 97.8 655.7 97.8 656.2 97.8 656.7 97.8 657.2 97.9 657.7 97.0 658.2 97.2 658.7 97.1 659.2 97.5 659.7 97.4 660.2 97.2 660.7 97.7 661.2 97.3 661.7 97.1 662.2 97.2 662.7 97.4 663.2 97.5 663.7 97.5 664.2 97.3 664.7 97.1 665.2 97.3 665.7 97.2 666.2 97.1 666.7 97.4 667.2 97.1 667.7 97.6 668.2 97.6 668.7 97.0 669.2 97.5 669.7 97.2 670.2 97.3 670.7 97.5 671.2 97.7 671.7 97.8 672.2 97.6" fill="none" stroke="#eca0a0" stroke-width="0.9" stroke-linejoin="round" stroke-dasharray="0.6 1.2"/>
<path d="M599.3 7.0 599.3 23.4" fill="none" stroke="#6a9fd6" stroke-width="0.8" stroke-linejoin="round" />
<path d="M576.3 23.4 576.3 18.7 599.3 12.3 622.4 18.7 622.4 21.0" fill="none" stroke="#6a9fd6" stroke-width="0.8" stroke-linejoin="round" />
<path d="M560.1 29.5 576.3 23.4 592.5 29.5" fill="none" stroke="#6a9fd6" stroke-width="0.8" stroke-linejoin="round" />
<path d="M583.1 29.5 599.3 23.4 615.5 29.5" fill="none" stroke="#6a9fd6" stroke-width="0.8" stroke-linejoin="round" />
<path d="M606.2 29.5 622.4 21.0 638.6 29.5" fill="none" stroke="#6a9fd6" stroke-width="0.8" stroke-linejoin="round" />
<path d="M560.1 29.5 560.1 40.0" fill="none" stroke="#6a9fd6" stroke-width="0.8" stroke-linejoin="round" />
<path d="M583.1 29.5 583.1 40.0" fill="none" stroke="#6a9fd6" stroke-width="0.8" stroke-linejoin="round" />
<path d="M592.5 29.5 592.5 40.0" fill="none" stroke="#6a9fd6" stroke-width="0.8" stroke-linejoin="round" />
<path d="M606.2 29.5 606.2 40.0" fill="none" stroke="#6a9fd6" stroke-width="0.8" stroke-linejoin="round" />
<path d="M615.5 29.5 615.5 40.0" fill="none" stroke="#6a9fd6" stroke-width="0.8" stroke-linejoin="round" />
<path d="M638.6 29.5 638.6 40.0" fill="none" stroke="#6a9fd6" stroke-width="0.8" stroke-linejoin="round" />
<line x1="600.5" y1="21.6" x2="621.2" y2="21.6" stroke="#d02838" stroke-width="0.9" />
<path d="M603 20.2 600.3 21.6 603 23.0" fill="none" stroke="#d02838" stroke-width="0.9" stroke-linejoin="round" />
<path d="M618.7 20.2 621.4 21.6 618.7 23.0" fill="none" stroke="#d02838" stroke-width="0.9" stroke-linejoin="round" />
<line x1="607.2" y1="35" x2="637.3" y2="35" stroke="#d02838" stroke-width="0.9" />
<path d="M609.7 33.6 607 35.0 609.7 36.4" fill="none" stroke="#d02838" stroke-width="0.9" stroke-linejoin="round" />
<path d="M634.8 33.6 637.5 35.0 634.8 36.4" fill="none" stroke="#d02838" stroke-width="0.9" stroke-linejoin="round" />
<text x="608.5" y="19.3" font-size="4.2" fill="#d02838" >A<tspan font-size="2.8" dy="0.8">N</tspan></text>
<text x="619.5" y="32.7" font-size="4.2" fill="#d02838" >A<tspan font-size="2.8" dy="0.8">H</tspan></text>
<text x="627.5" y="16.6" font-size="7.2" fill="#d02838" >A<tspan font-size="4.5" dy="1.5">N</tspan><tspan dy="-1.5">=15.9 G</tspan></text>
<text x="643" y="30.3" font-size="7.2" fill="#d02838" >A<tspan font-size="4.5" dy="1.5">H</tspan><tspan dy="-1.5">=22.7 G</tspan></text>
<text x="528.5" y="47" font-size="7.8" fill="#222" >EG+NO<tspan font-size="4.8" dy="1.8">3</tspan><tspan font-size="4.8" dy="-5">-</tspan></text>
<text x="528.5" y="73.8" font-size="7.8" fill="#222" >EG</text>
<text x="670.5" y="43.8" font-size="6.4" fill="#222" text-anchor="end" >Light</text>
<text x="670.5" y="70" font-size="6.4" fill="#222" text-anchor="end" >Light</text>
<text x="670.5" y="92" font-size="6.4" fill="#222" text-anchor="end" >Dark</text>
<text x="601" y="125.8" font-size="8.0" fill="#222" text-anchor="middle" textLength="62.1" lengthAdjust="spacingAndGlyphs" >Magnetic field (G)</text>
<text x="512.5" y="14.4" font-size="10" fill="#000" font-weight="bold" >d</text>
<rect x="32.7" y="160.5" width="52.35" height="100.8" fill="url(#h0)"/>
<rect x="84.7" y="160.5" width="2.35" height="100.8" fill="url(#h1)"/>
<rect x="86.7" y="160.5" width="1.35" height="100.8" fill="url(#h2)"/>
<rect x="87.7" y="160.5" width="1.35" height="100.8" fill="url(#h3)"/>
<rect x="88.7" y="160.5" width="1.35" height="100.8" fill="url(#h4)"/>
<rect x="89.7" y="160.5" width="1.35" height="100.8" fill="url(#h5)"/>
<rect x="90.7" y="160.5" width="1.35" height="100.8" fill="url(#h6)"/>
<rect x="91.7" y="160.5" width="1.35" height="100.8" fill="url(#h7)"/>
<rect x="92.7" y="160.5" width="1.35" height="100.8" fill="url(#h8)"/>
<rect x="93.7" y="160.5" width="1.35" height="100.8" fill="url(#h9)"/>
<rect x="94.7" y="160.5" width="1.35" height="100.8" fill="url(#h10)"/>
<rect x="95.7" y="160.5" width="1.35" height="100.8" fill="url(#h11)"/>
<rect x="96.7" y="160.5" width="1.35" height="100.8" fill="url(#h12)"/>
<rect x="97.7" y="160.5" width="1.35" height="100.8" fill="url(#h13)"/>
<rect x="98.7" y="160.5" width="1.35" height="100.8" fill="url(#h14)"/>
<rect x="99.7" y="160.5" width="1.35" height="100.8" fill="url(#h15)"/>
<rect x="100.7" y="160.5" width="1.35" height="100.8" fill="url(#h16)"/>
<rect x="101.7" y="160.5" width="1.35" height="100.8" fill="url(#h17)"/>
<rect x="102.7" y="160.5" width="1.35" height="100.8" fill="url(#h18)"/>
<rect x="103.7" y="160.5" width="1.35" height="100.8" fill="url(#h19)"/>
<rect x="104.7" y="160.5" width="1.35" height="100.8" fill="url(#h20)"/>
<rect x="105.7" y="160.5" width="1.35" height="100.8" fill="url(#h21)"/>
<rect x="106.7" y="160.5" width="1.35" height="100.8" fill="url(#h22)"/>
<rect x="107.7" y="160.5" width="1.35" height="100.8" fill="url(#h23)"/>
<rect x="108.7" y="160.5" width="1.35" height="100.8" fill="url(#h24)"/>
<rect x="109.7" y="160.5" width="1.35" height="100.8" fill="url(#h25)"/>
<rect x="110.7" y="160.5" width="1.35" height="100.8" fill="url(#h26)"/>
<rect x="111.7" y="160.5" width="1.35" height="100.8" fill="url(#h27)"/>
<rect x="112.7" y="160.5" width="1.35" height="100.8" fill="url(#h28)"/>
<rect x="113.7" y="160.5" width="1.35" height="100.8" fill="url(#h29)"/>
<rect x="114.7" y="160.5" width="1.35" height="100.8" fill="url(#h30)"/>
<rect x="115.7" y="160.5" width="1.35" height="100.8" fill="url(#h31)"/>
<rect x="116.7" y="160.5" width="1.35" height="100.8" fill="url(#h32)"/>
<rect x="117.7" y="160.5" width="1.35" height="100.8" fill="url(#h33)"/>
<rect x="118.7" y="160.5" width="1.35" height="100.8" fill="url(#h34)"/>
<rect x="119.7" y="160.5" width="1.35" height="100.8" fill="url(#h35)"/>
<rect x="120.7" y="160.5" width="1.35" height="100.8" fill="url(#h36)"/>
<rect x="121.7" y="160.5" width="1.35" height="100.8" fill="url(#h37)"/>
<rect x="122.7" y="160.5" width="1.35" height="100.8" fill="url(#h38)"/>
<rect x="123.7" y="160.5" width="1.35" height="100.8" fill="url(#h39)"/>
<rect x="124.7" y="160.5" width="1.35" height="100.8" fill="url(#h40)"/>
<rect x="125.7" y="160.5" width="1.35" height="100.8" fill="url(#h41)"/>
<rect x="126.7" y="160.5" width="2.35" height="100.8" fill="url(#h42)"/>
<rect x="128.7" y="160.5" width="1.35" height="100.8" fill="url(#h43)"/>
<rect x="129.7" y="160.5" width="1.35" height="100.8" fill="url(#h44)"/>
<rect x="130.7" y="160.5" width="1.35" height="100.8" fill="url(#h45)"/>
<rect x="131.7" y="160.5" width="1.35" height="100.8" fill="url(#h46)"/>
<rect x="132.7" y="160.5" width="1.35" height="100.8" fill="url(#h47)"/>
<rect x="133.7" y="160.5" width="1.35" height="100.8" fill="url(#h48)"/>
<rect x="134.7" y="160.5" width="1.35" height="100.8" fill="url(#h49)"/>
<rect x="135.7" y="160.5" width="1.35" height="100.8" fill="url(#h50)"/>
<rect x="136.7" y="160.5" width="1.35" height="100.8" fill="url(#h51)"/>
<rect x="137.7" y="160.5" width="1.35" height="100.8" fill="url(#h52)"/>
<rect x="138.7" y="160.5" width="1.35" height="100.8" fill="url(#h53)"/>
<rect x="139.7" y="160.5" width="1.35" height="100.8" fill="url(#h54)"/>
<rect x="140.7" y="160.5" width="1.35" height="100.8" fill="url(#h55)"/>
<rect x="141.7" y="160.5" width="1.35" height="100.8" fill="url(#h56)"/>
<rect x="142.7" y="160.5" width="1.35" height="100.8" fill="url(#h57)"/>
<rect x="143.7" y="160.5" width="1.35" height="100.8" fill="url(#h58)"/>
<rect x="144.7" y="160.5" width="1.35" height="100.8" fill="url(#h59)"/>
<rect x="145.7" y="160.5" width="1.35" height="100.8" fill="url(#h60)"/>
<rect x="146.7" y="160.5" width="1.35" height="100.8" fill="url(#h61)"/>
<rect x="147.7" y="160.5" width="1.35" height="100.8" fill="url(#h62)"/>
<rect x="148.7" y="160.5" width="1.35" height="100.8" fill="url(#h63)"/>
<rect x="149.7" y="160.5" width="1.35" height="100.8" fill="url(#h64)"/>
<rect x="150.7" y="160.5" width="1.35" height="100.8" fill="url(#h65)"/>
<rect x="151.7" y="160.5" width="1.35" height="100.8" fill="url(#h66)"/>
<rect x="152.7" y="160.5" width="1.35" height="100.8" fill="url(#h67)"/>
<rect x="153.7" y="160.5" width="1.35" height="100.8" fill="url(#h68)"/>
<rect x="154.7" y="160.5" width="1.35" height="100.8" fill="url(#h69)"/>
<rect x="155.7" y="160.5" width="1.35" height="100.8" fill="url(#h70)"/>
<rect x="156.7" y="160.5" width="1.35" height="100.8" fill="url(#h71)"/>
<rect x="157.7" y="160.5" width="1.35" height="100.8" fill="url(#h72)"/>
<rect x="158.7" y="160.5" width="1.35" height="100.8" fill="url(#h73)"/>
<rect x="159.7" y="160.5" width="1.35" height="100.8" fill="url(#h74)"/>
<rect x="160.7" y="160.5" width="1.35" height="100.8" fill="url(#h75)"/>
<rect x="161.7" y="160.5" width="1.35" height="100.8" fill="url(#h76)"/>
<rect x="162.7" y="160.5" width="1.35" height="100.8" fill="url(#h77)"/>
<rect x="163.7" y="160.5" width="1.35" height="100.8" fill="url(#h78)"/>
<rect x="164.7" y="160.5" width="1.35" height="100.8" fill="url(#h79)"/>
<rect x="165.7" y="160.5" width="1.35" height="100.8" fill="url(#h80)"/>
<rect x="166.7" y="160.5" width="1.35" height="100.8" fill="url(#h81)"/>
<rect x="167.7" y="160.5" width="1.35" height="100.8" fill="url(#h82)"/>
<rect x="168.7" y="160.5" width="1.35" height="100.8" fill="url(#h83)"/>
<rect x="169.7" y="160.5" width="1.35" height="100.8" fill="url(#h84)"/>
<rect x="170.7" y="160.5" width="1.35" height="100.8" fill="url(#h85)"/>
<rect x="171.7" y="160.5" width="1.35" height="100.8" fill="url(#h86)"/>
<rect x="172.7" y="160.5" width="1.35" height="100.8" fill="url(#h87)"/>
<rect x="173.7" y="160.5" width="1.35" height="100.8" fill="url(#h88)"/>
<rect x="174.7" y="160.5" width="1.35" height="100.8" fill="url(#h89)"/>
<rect x="175.7" y="160.5" width="1.35" height="100.8" fill="url(#h90)"/>
<rect x="176.7" y="160.5" width="1.35" height="100.8" fill="url(#h91)"/>
<rect x="177.7" y="160.5" width="1.35" height="100.8" fill="url(#h92)"/>
<rect x="178.7" y="160.5" width="1.35" height="100.8" fill="url(#h93)"/>
<rect x="179.7" y="160.5" width="1.35" height="100.8" fill="url(#h94)"/>
<rect x="180.7" y="160.5" width="1.35" height="100.8" fill="url(#h95)"/>
<rect x="181.7" y="160.5" width="1.35" height="100.8" fill="url(#h96)"/>
<rect x="182.7" y="160.5" width="1.35" height="100.8" fill="url(#h97)"/>
<rect x="183.7" y="160.5" width="1.35" height="100.8" fill="url(#h98)"/>
<rect x="184.7" y="160.5" width="1.35" height="100.8" fill="url(#h99)"/>
<rect x="185.7" y="160.5" width="1.35" height="100.8" fill="url(#h100)"/>
<rect x="186.7" y="160.5" width="1.35" height="100.8" fill="url(#h101)"/>
<rect x="187.7" y="160.5" width="1.35" height="100.8" fill="url(#h102)"/>
<rect x="188.7" y="160.5" width="1.35" height="100.8" fill="url(#h103)"/>
<rect x="189.7" y="160.5" width="1.35" height="100.8" fill="url(#h104)"/>
<rect x="190.7" y="160.5" width="1.35" height="100.8" fill="url(#h105)"/>
<rect x="191.7" y="160.5" width="1.35" height="100.8" fill="url(#h106)"/>
<rect x="192.7" y="160.5" width="1.35" height="100.8" fill="url(#h107)"/>
<rect x="193.7" y="160.5" width="1.35" height="100.8" fill="url(#h108)"/>
<rect x="194.7" y="160.5" width="1.35" height="100.8" fill="url(#h109)"/>
<rect x="195.7" y="160.5" width="1.35" height="100.8" fill="url(#h110)"/>
<rect x="196.7" y="160.5" width="1.35" height="100.8" fill="url(#h111)"/>
<rect x="197.7" y="160.5" width="1.35" height="100.8" fill="url(#h112)"/>
<rect x="198.7" y="160.5" width="1.35" height="100.8" fill="url(#h113)"/>
<rect x="199.7" y="160.5" width="1.35" height="100.8" fill="url(#h114)"/>
<rect x="200.7" y="160.5" width="1.35" height="100.8" fill="url(#h115)"/>
<rect x="201.7" y="160.5" width="1.35" height="100.8" fill="url(#h116)"/>
<rect x="202.7" y="160.5" width="1.35" height="100.8" fill="url(#h117)"/>
<rect x="203.7" y="160.5" width="1.35" height="100.8" fill="url(#h118)"/>
<rect x="204.7" y="160.5" width="1.35" height="100.8" fill="url(#h119)"/>
<rect x="205.7" y="160.5" width="1.35" height="100.8" fill="url(#h120)"/>
<rect x="206.7" y="160.5" width="1.35" height="100.8" fill="url(#h121)"/>
<rect x="207.7" y="160.5" width="1.35" height="100.8" fill="url(#h122)"/>
<rect x="208.7" y="160.5" width="1.35" height="100.8" fill="url(#h123)"/>
<rect x="209.7" y="160.5" width="1.35" height="100.8" fill="url(#h124)"/>
<rect x="210.7" y="160.5" width="1.35" height="100.8" fill="url(#h125)"/>
<rect x="211.7" y="160.5" width="1.35" height="100.8" fill="url(#h126)"/>
<rect x="212.7" y="160.5" width="1.35" height="100.8" fill="url(#h127)"/>
<rect x="213.7" y="160.5" width="1.35" height="100.8" fill="url(#h128)"/>
<rect x="214.7" y="160.5" width="1.35" height="100.8" fill="url(#h129)"/>
<rect x="215.7" y="160.5" width="1.35" height="100.8" fill="url(#h130)"/>
<rect x="216.7" y="160.5" width="1.35" height="100.8" fill="url(#h131)"/>
<rect x="217.7" y="160.5" width="1.35" height="100.8" fill="url(#h132)"/>
<rect x="218.7" y="160.5" width="1.35" height="100.8" fill="url(#h133)"/>
<rect x="219.7" y="160.5" width="1.35" height="100.8" fill="url(#h134)"/>
<rect x="220.7" y="160.5" width="1.35" height="100.8" fill="url(#h135)"/>
<rect x="221.7" y="160.5" width="1.35" height="100.8" fill="url(#h136)"/>
<rect x="222.7" y="160.5" width="1.35" height="100.8" fill="url(#h137)"/>
<rect x="223.7" y="160.5" width="1.35" height="100.8" fill="url(#h138)"/>
<rect x="224.7" y="160.5" width="1.35" height="100.8" fill="url(#h139)"/>
<rect x="225.7" y="160.5" width="1.35" height="100.8" fill="url(#h140)"/>
<rect x="226.7" y="160.5" width="1.35" height="100.8" fill="url(#h141)"/>
<rect x="227.7" y="160.5" width="1.35" height="100.8" fill="url(#h142)"/>
<rect x="228.7" y="160.5" width="1.35" height="100.8" fill="url(#h143)"/>
<rect x="229.7" y="160.5" width="1.35" height="100.8" fill="url(#h144)"/>
<rect x="230.7" y="160.5" width="1.35" height="100.8" fill="url(#h145)"/>
<rect x="231.7" y="160.5" width="1.35" height="100.8" fill="url(#h146)"/>
<rect x="232.7" y="160.5" width="1.35" height="100.8" fill="url(#h147)"/>
<rect x="233.7" y="160.5" width="1.35" height="100.8" fill="url(#h148)"/>
<rect x="234.7" y="160.5" width="1.35" height="100.8" fill="url(#h149)"/>
<rect x="235.7" y="160.5" width="1.35" height="100.8" fill="url(#h150)"/>
<rect x="236.7" y="160.5" width="1.35" height="100.8" fill="url(#h82)"/>
<rect x="237.7" y="160.5" width="1.35" height="100.8" fill="url(#h151)"/>
<rect x="238.7" y="160.5" width="1.35" height="100.8" fill="url(#h152)"/>
<rect x="239.7" y="160.5" width="1.35" height="100.8" fill="url(#h153)"/>
<rect x="240.7" y="160.5" width="2.35" height="100.8" fill="url(#h154)"/>
<rect x="242.7" y="160.5" width="2.35" height="100.8" fill="url(#h155)"/>
<rect x="244.7" y="160.5" width="2.35" height="100.8" fill="url(#h156)"/>
<rect x="246.7" y="160.5" width="12.35" height="100.8" fill="url(#h157)"/>
<rect x="258.7" y="160.5" width="35.55" height="100.8" fill="url(#h158)"/>
<rect x="32.7" y="160.5" width="261.2" height="100.8" fill="none" stroke="#666" stroke-width="0.7" />
<line x1="32.7" y1="261.3" x2="34.7" y2="261.3" stroke="#333" stroke-width="0.6" />
<text x="30.2" y="263.5" font-size="6" fill="#222" text-anchor="end" >0</text>
<line x1="32.7" y1="241.14" x2="34.7" y2="241.14" stroke="#333" stroke-width="0.6" />
<text x="30.2" y="243.34" font-size="6" fill="#222" text-anchor="end" >30</text>
<line x1="32.7" y1="220.98" x2="34.7" y2="220.98" stroke="#333" stroke-width="0.6" />
<text x="30.2" y="223.18" font-size="6" fill="#222" text-anchor="end" >60</text>
<line x1="32.7" y1="200.82" x2="34.7" y2="200.82" stroke="#333" stroke-width="0.6" />
<text x="30.2" y="203.02" font-size="6" fill="#222" text-anchor="end" >90</text>
<line x1="32.7" y1="180.66" x2="34.7" y2="180.66" stroke="#333" stroke-width="0.6" />
<text x="30.2" y="182.86" font-size="6" fill="#222" text-anchor="end" >120</text>
<line x1="32.7" y1="160.5" x2="34.7" y2="160.5" stroke="#333" stroke-width="0.6" />
<text x="30.2" y="162.7" font-size="6" fill="#222" text-anchor="end" >150</text>
<line x1="32.7" y1="251.22" x2="33.9" y2="251.22" stroke="#333" stroke-width="0.5" />
<line x1="32.7" y1="231.06" x2="33.9" y2="231.06" stroke="#333" stroke-width="0.5" />
<line x1="32.7" y1="210.9" x2="33.9" y2="210.9" stroke="#333" stroke-width="0.5" />
<line x1="32.7" y1="190.74" x2="33.9" y2="190.74" stroke="#333" stroke-width="0.5" />
<line x1="32.7" y1="170.58" x2="33.9" y2="170.58" stroke="#333" stroke-width="0.5" />
<line x1="32.7" y1="261.3" x2="32.7" y2="259.3" stroke="#333" stroke-width="0.6" />
<text x="32.7" y="270.3" font-size="6" fill="#222" text-anchor="middle" >2000</text>
<line x1="84.94" y1="261.3" x2="84.94" y2="259.3" stroke="#333" stroke-width="0.6" />
<text x="84.94" y="270.3" font-size="6" fill="#222" text-anchor="middle" >1800</text>
<line x1="137.18" y1="261.3" x2="137.18" y2="259.3" stroke="#333" stroke-width="0.6" />
<text x="137.18" y="270.3" font-size="6" fill="#222" text-anchor="middle" >1600</text>
<line x1="189.42" y1="261.3" x2="189.42" y2="259.3" stroke="#333" stroke-width="0.6" />
<text x="189.42" y="270.3" font-size="6" fill="#222" text-anchor="middle" >1400</text>
<line x1="241.66" y1="261.3" x2="241.66" y2="259.3" stroke="#333" stroke-width="0.6" />
<text x="241.66" y="270.3" font-size="6" fill="#222" text-anchor="middle" >1200</text>
<line x1="293.9" y1="261.3" x2="293.9" y2="259.3" stroke="#333" stroke-width="0.6" />
<text x="293.9" y="270.3" font-size="6" fill="#222" text-anchor="middle" >1000</text>
<line x1="58.82" y1="261.3" x2="58.82" y2="260.1" stroke="#333" stroke-width="0.5" />
<line x1="111.06" y1="261.3" x2="111.06" y2="260.1" stroke="#333" stroke-width="0.5" />
<line x1="163.3" y1="261.3" x2="163.3" y2="260.1" stroke="#333" stroke-width="0.5" />
<line x1="215.54" y1="261.3" x2="215.54" y2="260.1" stroke="#333" stroke-width="0.5" />
<line x1="267.78" y1="261.3" x2="267.78" y2="260.1" stroke="#333" stroke-width="0.5" />
<text x="163.7" y="284" font-size="8.4" fill="#222" text-anchor="middle" textLength="74" lengthAdjust="spacingAndGlyphs" >Wavenumber (cm<tspan font-size="4.8" dy="-3.2">-1</tspan><tspan dy="3.2">)</tspan></text>
<text x="15.5" y="209" font-size="8.4" fill="#222" text-anchor="middle" textLength="42.5" lengthAdjust="spacingAndGlyphs" transform="rotate(-90 15.5 209)" >Time (min)</text>
<text x="0.5" y="160" font-size="10" fill="#000" font-weight="bold" >e</text>
<rect x="305.2" y="160.3" width="10.5" height="106.6" fill="#fff" stroke="#444" stroke-width="0.5" />
<rect x="305.45" y="163" width="10" height="102" fill="url(#cbar)" stroke="none" stroke-width="1" />
<line x1="314.5" y1="163" x2="316" y2="163" stroke="#333" stroke-width="0.5" />
<text x="317" y="164.1" font-size="3.2" fill="#444" >0.4400</text>
<line x1="314.5" y1="175.75" x2="316" y2="175.75" stroke="#333" stroke-width="0.5" />
<text x="317" y="176.85" font-size="3.2" fill="#444" >0.3855</text>
<line x1="314.5" y1="188.5" x2="316" y2="188.5" stroke="#333" stroke-width="0.5" />
<text x="317" y="189.6" font-size="3.2" fill="#444" >0.3300</text>
<line x1="314.5" y1="201.25" x2="316" y2="201.25" stroke="#333" stroke-width="0.5" />
<text x="317" y="202.35" font-size="3.2" fill="#444" >0.2775</text>
<line x1="314.5" y1="214" x2="316" y2="214" stroke="#333" stroke-width="0.5" />
<text x="317" y="215.1" font-size="3.2" fill="#444" >0.2200</text>
<line x1="314.5" y1="226.75" x2="316" y2="226.75" stroke="#333" stroke-width="0.5" />
<text x="317" y="227.85" font-size="3.2" fill="#444" >0.1665</text>
<line x1="314.5" y1="239.5" x2="316" y2="239.5" stroke="#333" stroke-width="0.5" />
<text x="317" y="240.6" font-size="3.2" fill="#444" >0.1100</text>
<line x1="314.5" y1="252.25" x2="316" y2="252.25" stroke="#333" stroke-width="0.5" />
<text x="317" y="253.35" font-size="3.2" fill="#444" >0.05050</text>
<line x1="314.5" y1="265" x2="316" y2="265" stroke="#333" stroke-width="0.5" />
<text x="317" y="266.1" font-size="3.2" fill="#444" >-0.00000</text>
<text x="310" y="156.3" font-size="6.4" fill="#222" text-anchor="middle" >Absorbance (a.u.)</text>
<rect x="31.8" y="292.2" width="291.5" height="102.1" fill="none" stroke="#666" stroke-width="0.8" />
<path d="M31.8 325.5 32.8 325.5 33.8 325.6 34.8 325.6 35.8 325.6 36.8 325.6 37.8 325.6 38.8 325.7 39.8 325.7 40.8 325.7 41.8 325.8 42.8 325.8 43.8 325.8 44.8 325.9 45.8 325.9 46.8 326.0 47.8 326.0 48.8 326.1 49.8 326.1 50.8 326.1 51.8 326.2 52.8 326.2 53.8 326.3 54.8 326.3 55.8 326.4 56.8 326.4 57.8 326.5 58.8 326.5 59.8 326.6 60.8 326.6 61.9 326.7 62.9 326.7 63.9 326.8 64.9 326.8 65.9 326.9 66.9 326.9 67.9 327.0 68.9 327.0 69.9 327.1 70.9 327.1 71.9 327.1 72.9 327.2 73.9 327.2 74.9 327.3 75.9 327.3 76.9 327.3 77.9 327.3 78.9 327.4 79.9 327.4 80.9 327.4 81.9 327.4 82.9 327.5 83.9 327.5 84.9 327.5 85.9 327.5 86.9 327.5 87.9 327.5 88.9 327.5 89.9 327.5 90.9 327.5 91.9 327.5 92.9 327.5 93.9 327.5 94.9 327.5 95.9 327.5 96.9 327.5 97.9 327.5 98.9 327.4 99.9 326.1 100.9 322.9 101.9 324.2 102.9 326.9 103.9 327.3 104.9 327.3 105.9 327.2 106.9 327.1 107.9 327.0 108.9 326.9 109.9 326.7 110.9 326.5 111.9 326.3 112.9 326.0 113.9 325.7 114.9 325.3 115.9 324.9 116.9 324.4 117.9 323.9 118.9 323.3 120 322.7 121 322.0 122 321.2 123 320.4 124 319.6 125 318.7 126 317.8 127 316.9 128 316.0 129 315.1 130 314.3 131 313.4 132 312.7 133 312.1 134 311.5 135 311.0 136 310.7 137 310.5 138 310.4 139 310.5 140 310.7 141 311.2 142 311.8 143 312.5 144 313.3 145 314.2 146 315.1 147 315.9 148 316.8 149 317.6 150 318.4 151 319.1 152 319.7 153 320.2 154 320.7 155 321.2 156 321.5 157 321.8 158 322.1 159 322.3 160 322.5 161 322.6 162 322.7 163 322.8 164 322.8 165 322.8 166 322.8 167 322.8 168 322.8 169 322.7 170 322.7 171 322.6 172 322.5 173 322.4 174 322.3 175 322.2 176 322.2 177 322.1 178.1 322.0 179.1 321.9 180.1 321.8 181.1 321.7 182.1 321.7 183.1 321.7 184.1 322.2 185.1 323.0 186.1 322.4 187.1 321.5 188.1 321.3 189.1 321.2 190.1 321.1 191.1 320.9 192.1 320.8 193.1 320.6 194.1 320.5 195.1 320.3 196.1 320.1 197.1 319.8 198.1 319.6 199.1 319.4 200.1 319.1 201.1 318.8 202.1 318.5 203.1 318.2 204.1 317.9 205.1 317.6 206.1 317.3 207.1 317.0 208.1 316.7 209.1 316.5 210.1 316.2 211.1 315.9 212.1 315.7 213.1 315.5 214.1 315.2 215.1 315.1 216.1 314.9 217.1 314.8 218.1 314.7 219.1 314.6 220.1 314.6 221.1 314.6 222.1 314.6 223.1 314.7 224.1 314.8 225.1 314.9 226.1 315.0 227.1 315.2 228.1 315.4 229.1 315.7 230.1 315.9 231.1 316.2 232.1 316.5 233.1 316.8 234.1 317.1 235.1 317.4 236.2 317.7 237.2 318.1 238.2 318.4 239.2 318.7 240.2 319.0 241.2 319.3 242.2 319.6 243.2 320.0 244.2 320.4 245.2 321.2 246.2 322.1 247.2 322.9 248.2 323.0 249.2 322.5 250.2 322.1 251.2 321.9 252.2 321.9 253.2 322.1 254.2 322.2 255.2 322.3 256.2 322.4 257.2 322.5 258.2 322.6 259.2 322.7 260.2 322.8 261.2 322.8 262.2 322.9 263.2 323.0 264.2 323.0 265.2 323.1 266.2 323.1 267.2 323.2 268.2 323.3 269.2 323.3 270.2 323.4 271.2 323.5 272.2 323.5 273.2 323.6 274.2 323.7 275.2 323.8 276.2 323.9 277.2 324.0 278.2 324.1 279.2 324.2 280.2 324.3 281.2 324.4 282.2 324.5 283.2 324.6 284.2 324.7 285.2 324.8 286.2 324.9 287.2 325.0 288.2 325.1 289.2 325.3 290.2 325.4 291.2 325.5 292.2 325.7 293.2 325.8 294.3 326.0 295.3 326.2 296.3 326.4 297.3 326.7 298.3 326.9 299.3 327.2 300.3 327.4 301.3 327.6 302.3 327.7 303.3 327.8 304.3 327.8 305.3 327.7 306.3 327.7 307.3 327.6 308.3 327.5 309.3 327.4 310.3 327.2 311.3 326.9 312.3 326.8 313.3 326.9 314.3 327.2 315.3 327.5 316.3 327.7 317.3 327.8 318.3 327.9 319.3 327.9 320.3 327.9 321.3 327.9 322.3 327.9 323.3 327.9" fill="none" stroke="#f0203c" stroke-width="0.95" stroke-linejoin="round" />
<path d="M31.8 330.5 32.8 330.5 33.8 330.6 34.8 330.6 35.8 330.6 36.8 330.6 37.8 330.6 38.8 330.7 39.8 330.7 40.8 330.7 41.8 330.8 42.8 330.8 43.8 330.8 44.8 330.9 45.8 330.9 46.8 331.0 47.8 331.0 48.8 331.1 49.8 331.1 50.8 331.1 51.8 331.2 52.8 331.2 53.8 331.3 54.8 331.3 55.8 331.4 56.8 331.4 57.8 331.5 58.8 331.5 59.8 331.6 60.8 331.6 61.9 331.7 62.9 331.7 63.9 331.8 64.9 331.8 65.9 331.9 66.9 331.9 67.9 332.0 68.9 332.0 69.9 332.1 70.9 332.1 71.9 332.1 72.9 332.2 73.9 332.2 74.9 332.3 75.9 332.3 76.9 332.3 77.9 332.3 78.9 332.4 79.9 332.4 80.9 332.4 81.9 332.4 82.9 332.5 83.9 332.5 84.9 332.5 85.9 332.5 86.9 332.5 87.9 332.5 88.9 332.5 89.9 332.5 90.9 332.5 91.9 332.5 92.9 332.5 93.9 332.5 94.9 332.5 95.9 332.5 96.9 332.5 97.9 332.5 98.9 332.4 99.9 331.2 100.9 328.1 101.9 329.3 102.9 331.9 103.9 332.3 104.9 332.2 105.9 332.2 106.9 332.1 107.9 331.9 108.9 331.8 109.9 331.6 110.9 331.4 111.9 331.2 112.9 330.9 113.9 330.6 114.9 330.2 115.9 329.8 116.9 329.3 117.9 328.8 118.9 328.2 120 327.6 121 326.9 122 326.1 123 325.3 124 324.5 125 323.6 126 322.7 127 321.8 128 320.9 129 320.0 130 319.1 131 318.3 132 317.6 133 316.9 134 316.3 135 315.9 136 315.5 137 315.3 138 315.2 139 315.3 140 315.5 141 315.9 142 316.5 143 317.2 144 318.0 145 318.8 146 319.7 147 320.5 148 321.4 149 322.1 150 322.9 151 323.6 152 324.2 153 324.7 154 325.2 155 325.6 156 325.9 157 326.2 158 326.5 159 326.7 160 326.9 161 327.0 162 327.1 163 327.2 164 327.2 165 327.2 166 327.2 167 327.2 168 327.2 169 327.1 170 327.1 171 327.0 172 326.9 173 326.9 174 326.8 175 326.7 176 326.6 177 326.5 178.1 326.5 179.1 326.4 180.1 326.3 181.1 326.2 182.1 326.2 183.1 326.2 184.1 326.7 185.1 327.4 186.1 326.9 187.1 326.1 188.1 325.8 189.1 325.7 190.1 325.6 191.1 325.5 192.1 325.4 193.1 325.2 194.1 325.1 195.1 324.9 196.1 324.7 197.1 324.5 198.1 324.2 199.1 324.0 200.1 323.7 201.1 323.5 202.1 323.2 203.1 322.9 204.1 322.6 205.1 322.4 206.1 322.1 207.1 321.8 208.1 321.5 209.1 321.2 210.1 321.0 211.1 320.7 212.1 320.5 213.1 320.3 214.1 320.1 215.1 319.9 216.1 319.7 217.1 319.6 218.1 319.5 219.1 319.5 220.1 319.4 221.1 319.4 222.1 319.5 223.1 319.5 224.1 319.6 225.1 319.7 226.1 319.9 227.1 320.0 228.1 320.2 229.1 320.5 230.1 320.7 231.1 321.0 232.1 321.2 233.1 321.5 234.1 321.8 235.1 322.1 236.2 322.4 237.2 322.8 238.2 323.1 239.2 323.4 240.2 323.7 241.2 324.0 242.2 324.3 243.2 324.6 244.2 325.0 245.2 325.7 246.2 326.7 247.2 327.4 248.2 327.5 249.2 327.1 250.2 326.6 251.2 326.4 252.2 326.5 253.2 326.6 254.2 326.7 255.2 326.9 256.2 327.0 257.2 327.1 258.2 327.1 259.2 327.2 260.2 327.3 261.2 327.4 262.2 327.4 263.2 327.5 264.2 327.5 265.2 327.6 266.2 327.6 267.2 327.7 268.2 327.7 269.2 327.8 270.2 327.9 271.2 327.9 272.2 328.0 273.2 328.1 274.2 328.2 275.2 328.2 276.2 328.3 277.2 328.4 278.2 328.5 279.2 328.6 280.2 328.7 281.2 328.8 282.2 328.9 283.2 329.0 284.2 329.1 285.2 329.2 286.2 329.3 287.2 329.4 288.2 329.5 289.2 329.6 290.2 329.7 291.2 329.9 292.2 330.0 293.2 330.1 294.3 330.3 295.3 330.5 296.3 330.7 297.3 331.0 298.3 331.2 299.3 331.4 300.3 331.7 301.3 331.8 302.3 331.9 303.3 332.0 304.3 332.0 305.3 331.9 306.3 331.9 307.3 331.8 308.3 331.8 309.3 331.6 310.3 331.4 311.3 331.2 312.3 331.1 313.3 331.2 314.3 331.5 315.3 331.7 316.3 331.9 317.3 332.0 318.3 332.1 319.3 332.1 320.3 332.1 321.3 332.1 322.3 332.1 323.3 332.1" fill="none" stroke="#f02840" stroke-width="0.95" stroke-linejoin="round" />
<path d="M31.8 336.4 32.8 336.4 33.8 336.5 34.8 336.5 35.8 336.5 36.8 336.5 37.8 336.5 38.8 336.6 39.8 336.6 40.8 336.6 41.8 336.7 42.8 336.7 43.8 336.7 44.8 336.8 45.8 336.8 46.8 336.9 47.8 336.9 48.8 337.0 49.8 337.0 50.8 337.0 51.8 337.1 52.8 337.1 53.8 337.2 54.8 337.2 55.8 337.3 56.8 337.3 57.8 337.4 58.8 337.4 59.8 337.5 60.8 337.5 61.9 337.6 62.9 337.6 63.9 337.7 64.9 337.7 65.9 337.8 66.9 337.8 67.9 337.9 68.9 337.9 69.9 338.0 70.9 338.0 71.9 338.0 72.9 338.1 73.9 338.1 74.9 338.2 75.9 338.2 76.9 338.2 77.9 338.2 78.9 338.3 79.9 338.3 80.9 338.3 81.9 338.3 82.9 338.4 83.9 338.4 84.9 338.4 85.9 338.4 86.9 338.4 87.9 338.4 88.9 338.4 89.9 338.4 90.9 338.4 91.9 338.4 92.9 338.4 93.9 338.4 94.9 338.4 95.9 338.4 96.9 338.4 97.9 338.4 98.9 338.3 99.9 337.1 100.9 334.2 101.9 335.4 102.9 337.8 103.9 338.1 104.9 338.1 105.9 338.0 106.9 337.9 107.9 337.7 108.9 337.6 109.9 337.4 110.9 337.2 111.9 336.9 112.9 336.6 113.9 336.3 114.9 335.9 115.9 335.4 116.9 334.9 117.9 334.4 118.9 333.8 120 333.1 121 332.3 122 331.6 123 330.7 124 329.8 125 328.9 126 328.0 127 327.0 128 326.1 129 325.2 130 324.3 131 323.4 132 322.7 133 322.0 134 321.4 135 320.9 136 320.5 137 320.2 138 320.1 139 320.1 140 320.4 141 320.8 142 321.3 143 322.0 144 322.8 145 323.6 146 324.4 147 325.3 148 326.1 149 326.9 150 327.6 151 328.3 152 328.8 153 329.4 154 329.8 155 330.2 156 330.6 157 330.9 158 331.1 159 331.3 160 331.5 161 331.6 162 331.7 163 331.8 164 331.8 165 331.9 166 331.9 167 331.9 168 331.8 169 331.8 170 331.7 171 331.7 172 331.6 173 331.6 174 331.5 175 331.4 176 331.4 177 331.3 178.1 331.2 179.1 331.1 180.1 331.1 181.1 331.0 182.1 331.0 183.1 331.0 184.1 331.5 185.1 332.2 186.1 331.6 187.1 330.9 188.1 330.7 189.1 330.6 190.1 330.5 191.1 330.3 192.1 330.2 193.1 330.1 194.1 329.9 195.1 329.7 196.1 329.6 197.1 329.3 198.1 329.1 199.1 328.9 200.1 328.7 201.1 328.4 202.1 328.2 203.1 327.9 204.1 327.6 205.1 327.3 206.1 327.1 207.1 326.8 208.1 326.5 209.1 326.3 210.1 326.0 211.1 325.8 212.1 325.6 213.1 325.3 214.1 325.2 215.1 325.0 216.1 324.9 217.1 324.7 218.1 324.7 219.1 324.6 220.1 324.6 221.1 324.6 222.1 324.6 223.1 324.6 224.1 324.7 225.1 324.8 226.1 325.0 227.1 325.2 228.1 325.3 229.1 325.6 230.1 325.8 231.1 326.0 232.1 326.3 233.1 326.6 234.1 326.9 235.1 327.2 236.2 327.5 237.2 327.8 238.2 328.1 239.2 328.3 240.2 328.6 241.2 328.9 242.2 329.2 243.2 329.5 244.2 329.9 245.2 330.6 246.2 331.5 247.2 332.2 248.2 332.3 249.2 331.9 250.2 331.4 251.2 331.3 252.2 331.3 253.2 331.4 254.2 331.6 255.2 331.7 256.2 331.8 257.2 331.9 258.2 332.0 259.2 332.0 260.2 332.1 261.2 332.2 262.2 332.2 263.2 332.3 264.2 332.3 265.2 332.4 266.2 332.4 267.2 332.5 268.2 332.5 269.2 332.6 270.2 332.6 271.2 332.7 272.2 332.8 273.2 332.8 274.2 332.9 275.2 333.0 276.2 333.1 277.2 333.2 278.2 333.2 279.2 333.3 280.2 333.4 281.2 333.5 282.2 333.6 283.2 333.7 284.2 333.8 285.2 333.9 286.2 334.0 287.2 334.1 288.2 334.2 289.2 334.3 290.2 334.4 291.2 334.5 292.2 334.6 293.2 334.8 294.3 334.9 295.3 335.1 296.3 335.3 297.3 335.5 298.3 335.8 299.3 336.0 300.3 336.2 301.3 336.3 302.3 336.4 303.3 336.5 304.3 336.5 305.3 336.5 306.3 336.4 307.3 336.3 308.3 336.3 309.3 336.2 310.3 336.0 311.3 335.8 312.3 335.7 313.3 335.8 314.3 336.0 315.3 336.3 316.3 336.4 317.3 336.5 318.3 336.6 319.3 336.6 320.3 336.6 321.3 336.6 322.3 336.6 323.3 336.6" fill="none" stroke="#f03848" stroke-width="0.95" stroke-linejoin="round" />
<path d="M31.8 340.5 32.8 340.5 33.8 340.6 34.8 340.6 35.8 340.6 36.8 340.6 37.8 340.6 38.8 340.7 39.8 340.7 40.8 340.7 41.8 340.8 42.8 340.8 43.8 340.8 44.8 340.9 45.8 340.9 46.8 341.0 47.8 341.0 48.8 341.1 49.8 341.1 50.8 341.1 51.8 341.2 52.8 341.2 53.8 341.3 54.8 341.3 55.8 341.4 56.8 341.4 57.8 341.5 58.8 341.5 59.8 341.6 60.8 341.6 61.9 341.7 62.9 341.7 63.9 341.8 64.9 341.8 65.9 341.9 66.9 341.9 67.9 342.0 68.9 342.0 69.9 342.1 70.9 342.1 71.9 342.1 72.9 342.2 73.9 342.2 74.9 342.3 75.9 342.3 76.9 342.3 77.9 342.3 78.9 342.4 79.9 342.4 80.9 342.4 81.9 342.4 82.9 342.5 83.9 342.5 84.9 342.5 85.9 342.5 86.9 342.5 87.9 342.5 88.9 342.5 89.9 342.5 90.9 342.5 91.9 342.5 92.9 342.5 93.9 342.5 94.9 342.5 95.9 342.5 96.9 342.5 97.9 342.5 98.9 342.4 99.9 341.3 100.9 338.6 101.9 339.6 102.9 341.9 103.9 342.2 104.9 342.1 105.9 342.1 106.9 341.9 107.9 341.8 108.9 341.7 109.9 341.5 110.9 341.2 111.9 341.0 112.9 340.7 113.9 340.3 114.9 339.9 115.9 339.5 116.9 339.0 117.9 338.4 118.9 337.8 120 337.1 121 336.4 122 335.6 123 334.8 124 333.9 125 333.0 126 332.0 127 331.1 128 330.1 129 329.2 130 328.3 131 327.5 132 326.7 133 326.0 134 325.4 135 324.9 136 324.5 137 324.2 138 324.1 139 324.1 140 324.3 141 324.7 142 325.3 143 326.0 144 326.7 145 327.5 146 328.4 147 329.2 148 330.0 149 330.7 150 331.4 151 332.1 152 332.7 153 333.2 154 333.7 155 334.1 156 334.4 157 334.7 158 335.0 159 335.2 160 335.3 161 335.5 162 335.6 163 335.6 164 335.7 165 335.7 166 335.7 167 335.7 168 335.7 169 335.7 170 335.6 171 335.6 172 335.5 173 335.5 174 335.4 175 335.4 176 335.3 177 335.3 178.1 335.2 179.1 335.1 180.1 335.1 181.1 335.0 182.1 335.0 183.1 335.0 184.1 335.5 185.1 336.2 186.1 335.6 187.1 334.9 188.1 334.7 189.1 334.6 190.1 334.5 191.1 334.4 192.1 334.3 193.1 334.1 194.1 334.0 195.1 333.8 196.1 333.6 197.1 333.5 198.1 333.3 199.1 333.0 200.1 332.8 201.1 332.6 202.1 332.3 203.1 332.1 204.1 331.8 205.1 331.6 206.1 331.3 207.1 331.0 208.1 330.8 209.1 330.5 210.1 330.3 211.1 330.1 212.1 329.8 213.1 329.7 214.1 329.5 215.1 329.3 216.1 329.2 217.1 329.1 218.1 329.0 219.1 328.9 220.1 328.9 221.1 328.9 222.1 328.9 223.1 329.0 224.1 329.1 225.1 329.2 226.1 329.3 227.1 329.5 228.1 329.7 229.1 329.9 230.1 330.1 231.1 330.3 232.1 330.6 233.1 330.8 234.1 331.1 235.1 331.4 236.2 331.7 237.2 332.0 238.2 332.2 239.2 332.5 240.2 332.8 241.2 333.1 242.2 333.3 243.2 333.6 244.2 334.0 245.2 334.7 246.2 335.5 247.2 336.2 248.2 336.3 249.2 335.9 250.2 335.5 251.2 335.3 252.2 335.4 253.2 335.5 254.2 335.6 255.2 335.7 256.2 335.8 257.2 335.9 258.2 336.0 259.2 336.0 260.2 336.1 261.2 336.2 262.2 336.2 263.2 336.3 264.2 336.3 265.2 336.4 266.2 336.4 267.2 336.5 268.2 336.5 269.2 336.6 270.2 336.6 271.2 336.7 272.2 336.7 273.2 336.8 274.2 336.9 275.2 336.9 276.2 337.0 277.2 337.1 278.2 337.2 279.2 337.3 280.2 337.3 281.2 337.4 282.2 337.5 283.2 337.6 284.2 337.7 285.2 337.8 286.2 337.9 287.2 338.0 288.2 338.1 289.2 338.2 290.2 338.3 291.2 338.4 292.2 338.5 293.2 338.6 294.3 338.7 295.3 338.9 296.3 339.1 297.3 339.3 298.3 339.5 299.3 339.7 300.3 339.9 301.3 340.1 302.3 340.2 303.3 340.2 304.3 340.2 305.3 340.2 306.3 340.1 307.3 340.1 308.3 340.0 309.3 339.9 310.3 339.7 311.3 339.5 312.3 339.4 313.3 339.5 314.3 339.7 315.3 340.0 316.3 340.1 317.3 340.2 318.3 340.3 319.3 340.3 320.3 340.3 321.3 340.3 322.3 340.3 323.3 340.3" fill="none" stroke="#f05050" stroke-width="0.95" stroke-linejoin="round" />
<path d="M31.8 344.4 32.8 344.4 33.8 344.5 34.8 344.5 35.8 344.5 36.8 344.5 37.8 344.5 38.8 344.6 39.8 344.6 40.8 344.6 41.8 344.7 42.8 344.7 43.8 344.7 44.8 344.8 45.8 344.8 46.8 344.9 47.8 344.9 48.8 345.0 49.8 345.0 50.8 345.0 51.8 345.1 52.8 345.1 53.8 345.2 54.8 345.2 55.8 345.3 56.8 345.3 57.8 345.4 58.8 345.4 59.8 345.5 60.8 345.5 61.9 345.6 62.9 345.6 63.9 345.7 64.9 345.7 65.9 345.8 66.9 345.8 67.9 345.9 68.9 345.9 69.9 346.0 70.9 346.0 71.9 346.0 72.9 346.1 73.9 346.1 74.9 346.2 75.9 346.2 76.9 346.2 77.9 346.2 78.9 346.3 79.9 346.3 80.9 346.3 81.9 346.3 82.9 346.4 83.9 346.4 84.9 346.4 85.9 346.4 86.9 346.4 87.9 346.4 88.9 346.4 89.9 346.4 90.9 346.4 91.9 346.4 92.9 346.4 93.9 346.4 94.9 346.4 95.9 346.4 96.9 346.4 97.9 346.4 98.9 346.3 99.9 345.3 100.9 342.7 101.9 343.7 102.9 345.8 103.9 346.1 104.9 346.0 105.9 345.9 106.9 345.8 107.9 345.7 108.9 345.5 109.9 345.3 110.9 345.1 111.9 344.8 112.9 344.5 113.9 344.2 114.9 343.8 115.9 343.3 116.9 342.8 117.9 342.2 118.9 341.6 120 340.9 121 340.1 122 339.3 123 338.5 124 337.6 125 336.6 126 335.7 127 334.7 128 333.8 129 332.8 130 331.9 131 331.1 132 330.3 133 329.6 134 328.9 135 328.4 136 328.0 137 327.8 138 327.6 139 327.6 140 327.8 141 328.2 142 328.8 143 329.4 144 330.2 145 331.0 146 331.8 147 332.6 148 333.4 149 334.2 150 334.9 151 335.5 152 336.1 153 336.7 154 337.1 155 337.5 156 337.9 157 338.2 158 338.4 159 338.6 160 338.8 161 338.9 162 339.1 163 339.1 164 339.2 165 339.2 166 339.3 167 339.3 168 339.3 169 339.2 170 339.2 171 339.2 172 339.1 173 339.1 174 339.0 175 339.0 176 338.9 177 338.9 178.1 338.8 179.1 338.8 180.1 338.7 181.1 338.7 182.1 338.7 183.1 338.7 184.1 339.2 185.1 339.8 186.1 339.3 187.1 338.6 188.1 338.4 189.1 338.3 190.1 338.2 191.1 338.1 192.1 338.0 193.1 337.9 194.1 337.8 195.1 337.6 196.1 337.4 197.1 337.3 198.1 337.1 199.1 336.9 200.1 336.6 201.1 336.4 202.1 336.2 203.1 335.9 204.1 335.7 205.1 335.4 206.1 335.2 207.1 335.0 208.1 334.7 209.1 334.5 210.1 334.2 211.1 334.0 212.1 333.8 213.1 333.6 214.1 333.5 215.1 333.3 216.1 333.2 217.1 333.1 218.1 333.0 219.1 333.0 220.1 332.9 221.1 332.9 222.1 333.0 223.1 333.0 224.1 333.1 225.1 333.2 226.1 333.3 227.1 333.5 228.1 333.7 229.1 333.9 230.1 334.1 231.1 334.3 232.1 334.5 233.1 334.8 234.1 335.0 235.1 335.3 236.2 335.6 237.2 335.9 238.2 336.1 239.2 336.4 240.2 336.7 241.2 336.9 242.2 337.2 243.2 337.4 244.2 337.8 245.2 338.4 246.2 339.2 247.2 339.9 248.2 340.0 249.2 339.6 250.2 339.2 251.2 339.1 252.2 339.1 253.2 339.2 254.2 339.3 255.2 339.4 256.2 339.5 257.2 339.6 258.2 339.7 259.2 339.7 260.2 339.8 261.2 339.9 262.2 339.9 263.2 340.0 264.2 340.0 265.2 340.0 266.2 340.1 267.2 340.1 268.2 340.2 269.2 340.2 270.2 340.3 271.2 340.4 272.2 340.4 273.2 340.5 274.2 340.5 275.2 340.6 276.2 340.7 277.2 340.7 278.2 340.8 279.2 340.9 280.2 341.0 281.2 341.0 282.2 341.1 283.2 341.2 284.2 341.3 285.2 341.4 286.2 341.4 287.2 341.5 288.2 341.6 289.2 341.7 290.2 341.8 291.2 341.9 292.2 342.0 293.2 342.1 294.3 342.3 295.3 342.4 296.3 342.6 297.3 342.8 298.3 343.0 299.3 343.2 300.3 343.3 301.3 343.5 302.3 343.6 303.3 343.6 304.3 343.6 305.3 343.6 306.3 343.5 307.3 343.5 308.3 343.4 309.3 343.3 310.3 343.2 311.3 343.0 312.3 342.9 313.3 343.0 314.3 343.2 315.3 343.4 316.3 343.6 317.3 343.6 318.3 343.7 319.3 343.7 320.3 343.7 321.3 343.7 322.3 343.7 323.3 343.7" fill="none" stroke="#f58070" stroke-width="0.95" stroke-linejoin="round" />
<path d="M31.8 347.6 32.8 347.6 33.8 347.7 34.8 347.7 35.8 347.7 36.8 347.7 37.8 347.7 38.8 347.8 39.8 347.8 40.8 347.8 41.8 347.9 42.8 347.9 43.8 347.9 44.8 348.0 45.8 348.0 46.8 348.1 47.8 348.1 48.8 348.2 49.8 348.2 50.8 348.2 51.8 348.3 52.8 348.3 53.8 348.4 54.8 348.4 55.8 348.5 56.8 348.5 57.8 348.6 58.8 348.6 59.8 348.7 60.8 348.7 61.9 348.8 62.9 348.8 63.9 348.9 64.9 348.9 65.9 349.0 66.9 349.0 67.9 349.1 68.9 349.1 69.9 349.2 70.9 349.2 71.9 349.2 72.9 349.3 73.9 349.3 74.9 349.4 75.9 349.4 76.9 349.4 77.9 349.4 78.9 349.5 79.9 349.5 80.9 349.5 81.9 349.5 82.9 349.6 83.9 349.6 84.9 349.6 85.9 349.6 86.9 349.6 87.9 349.6 88.9 349.6 89.9 349.6 90.9 349.6 91.9 349.6 92.9 349.6 93.9 349.6 94.9 349.6 95.9 349.6 96.9 349.6 97.9 349.6 98.9 349.5 99.9 348.5 100.9 346.1 101.9 347.1 102.9 349.0 103.9 349.3 104.9 349.2 105.9 349.1 106.9 349.0 107.9 348.9 108.9 348.7 109.9 348.5 110.9 348.3 111.9 348.0 112.9 347.7 113.9 347.4 114.9 347.0 115.9 346.5 116.9 346.0 117.9 345.5 118.9 344.9 120 344.2 121 343.5 122 342.7 123 341.9 124 341.0 125 340.1 126 339.2 127 338.2 128 337.3 129 336.4 130 335.5 131 334.7 132 333.9 133 333.2 134 332.6 135 332.1 136 331.7 137 331.5 138 331.3 139 331.3 140 331.5 141 331.9 142 332.4 143 333.0 144 333.7 145 334.5 146 335.3 147 336.0 148 336.8 149 337.5 150 338.2 151 338.8 152 339.4 153 339.9 154 340.3 155 340.7 156 341.0 157 341.3 158 341.5 159 341.7 160 341.9 161 342.0 162 342.1 163 342.2 164 342.3 165 342.3 166 342.3 167 342.3 168 342.3 169 342.3 170 342.3 171 342.3 172 342.2 173 342.2 174 342.2 175 342.1 176 342.1 177 342.0 178.1 342.0 179.1 341.9 180.1 341.9 181.1 341.9 182.1 341.8 183.1 341.9 184.1 342.3 185.1 342.9 186.1 342.5 187.1 341.8 188.1 341.6 189.1 341.5 190.1 341.4 191.1 341.3 192.1 341.2 193.1 341.1 194.1 341.0 195.1 340.8 196.1 340.7 197.1 340.5 198.1 340.3 199.1 340.1 200.1 339.9 201.1 339.7 202.1 339.5 203.1 339.2 204.1 339.0 205.1 338.8 206.1 338.5 207.1 338.3 208.1 338.1 209.1 337.9 210.1 337.6 211.1 337.4 212.1 337.2 213.1 337.1 214.1 336.9 215.1 336.8 216.1 336.6 217.1 336.5 218.1 336.5 219.1 336.4 220.1 336.4 221.1 336.4 222.1 336.4 223.1 336.5 224.1 336.5 225.1 336.6 226.1 336.8 227.1 336.9 228.1 337.1 229.1 337.3 230.1 337.5 231.1 337.7 232.1 337.9 233.1 338.1 234.1 338.4 235.1 338.6 236.2 338.9 237.2 339.2 238.2 339.4 239.2 339.7 240.2 339.9 241.2 340.2 242.2 340.4 243.2 340.7 244.2 341.0 245.2 341.6 246.2 342.4 247.2 343.0 248.2 343.1 249.2 342.7 250.2 342.3 251.2 342.2 252.2 342.2 253.2 342.4 254.2 342.5 255.2 342.6 256.2 342.6 257.2 342.7 258.2 342.8 259.2 342.9 260.2 342.9 261.2 343.0 262.2 343.0 263.2 343.1 264.2 343.1 265.2 343.1 266.2 343.2 267.2 343.2 268.2 343.3 269.2 343.3 270.2 343.4 271.2 343.4 272.2 343.5 273.2 343.5 274.2 343.6 275.2 343.7 276.2 343.7 277.2 343.8 278.2 343.9 279.2 343.9 280.2 344.0 281.2 344.1 282.2 344.1 283.2 344.2 284.2 344.3 285.2 344.4 286.2 344.4 287.2 344.5 288.2 344.6 289.2 344.7 290.2 344.8 291.2 344.9 292.2 345.0 293.2 345.1 294.3 345.2 295.3 345.3 296.3 345.5 297.3 345.7 298.3 345.8 299.3 346.0 300.3 346.2 301.3 346.3 302.3 346.4 303.3 346.4 304.3 346.4 305.3 346.4 306.3 346.4 307.3 346.3 308.3 346.2 309.3 346.2 310.3 346.0 311.3 345.8 312.3 345.8 313.3 345.8 314.3 346.0 315.3 346.2 316.3 346.4 317.3 346.4 318.3 346.5 319.3 346.5 320.3 346.5 321.3 346.5 322.3 346.5 323.3 346.5" fill="none" stroke="#f07040" stroke-width="0.95" stroke-linejoin="round" />
<path d="M31.8 352.5 32.8 352.5 33.8 352.6 34.8 352.6 35.8 352.6 36.8 352.6 37.8 352.6 38.8 352.7 39.8 352.7 40.8 352.7 41.8 352.8 42.8 352.8 43.8 352.8 44.8 352.9 45.8 352.9 46.8 353.0 47.8 353.0 48.8 353.1 49.8 353.1 50.8 353.1 51.8 353.2 52.8 353.2 53.8 353.3 54.8 353.3 55.8 353.4 56.8 353.4 57.8 353.5 58.8 353.5 59.8 353.6 60.8 353.6 61.9 353.7 62.9 353.7 63.9 353.8 64.9 353.8 65.9 353.9 66.9 353.9 67.9 354.0 68.9 354.0 69.9 354.1 70.9 354.1 71.9 354.1 72.9 354.2 73.9 354.2 74.9 354.3 75.9 354.3 76.9 354.3 77.9 354.3 78.9 354.4 79.9 354.4 80.9 354.4 81.9 354.4 82.9 354.5 83.9 354.5 84.9 354.5 85.9 354.5 86.9 354.5 87.9 354.5 88.9 354.5 89.9 354.5 90.9 354.5 91.9 354.5 92.9 354.5 93.9 354.5 94.9 354.5 95.9 354.5 96.9 354.5 97.9 354.4 98.9 354.4 99.9 353.5 100.9 351.2 101.9 352.1 102.9 353.9 103.9 354.1 104.9 354.1 105.9 354.0 106.9 353.8 107.9 353.7 108.9 353.5 109.9 353.3 110.9 353.0 111.9 352.8 112.9 352.4 113.9 352.1 114.9 351.6 115.9 351.2 116.9 350.6 117.9 350.0 118.9 349.4 120 348.7 121 347.9 122 347.1 123 346.2 124 345.3 125 344.3 126 343.4 127 342.4 128 341.4 129 340.4 130 339.5 131 338.6 132 337.8 133 337.1 134 336.4 135 335.9 136 335.5 137 335.2 138 335.0 139 335.0 140 335.2 141 335.5 142 336.1 143 336.7 144 337.4 145 338.2 146 339.0 147 339.8 148 340.5 149 341.2 150 341.9 151 342.5 152 343.1 153 343.6 154 344.1 155 344.4 156 344.8 157 345.1 158 345.3 159 345.5 160 345.7 161 345.8 162 345.9 163 346.0 164 346.1 165 346.2 166 346.2 167 346.2 168 346.2 169 346.2 170 346.2 171 346.2 172 346.2 173 346.1 174 346.1 175 346.1 176 346.1 177 346.0 178.1 346.0 179.1 346.0 180.1 345.9 181.1 345.9 182.1 345.9 183.1 345.9 184.1 346.3 185.1 346.9 186.1 346.5 187.1 345.9 188.1 345.7 189.1 345.6 190.1 345.5 191.1 345.4 192.1 345.3 193.1 345.2 194.1 345.1 195.1 345.0 196.1 344.8 197.1 344.7 198.1 344.5 199.1 344.3 200.1 344.1 201.1 343.9 202.1 343.7 203.1 343.5 204.1 343.3 205.1 343.1 206.1 342.8 207.1 342.6 208.1 342.4 209.1 342.2 210.1 342.0 211.1 341.8 212.1 341.6 213.1 341.4 214.1 341.3 215.1 341.2 216.1 341.0 217.1 341.0 218.1 340.9 219.1 340.8 220.1 340.8 221.1 340.8 222.1 340.8 223.1 340.9 224.1 341.0 225.1 341.1 226.1 341.2 227.1 341.3 228.1 341.5 229.1 341.6 230.1 341.8 231.1 342.0 232.1 342.3 233.1 342.5 234.1 342.7 235.1 343.0 236.2 343.2 237.2 343.4 238.2 343.7 239.2 343.9 240.2 344.2 241.2 344.4 242.2 344.6 243.2 344.9 244.2 345.2 245.2 345.8 246.2 346.5 247.2 347.1 248.2 347.1 249.2 346.8 250.2 346.5 251.2 346.3 252.2 346.4 253.2 346.5 254.2 346.6 255.2 346.7 256.2 346.8 257.2 346.8 258.2 346.9 259.2 347.0 260.2 347.0 261.2 347.1 262.2 347.1 263.2 347.1 264.2 347.2 265.2 347.2 266.2 347.3 267.2 347.3 268.2 347.4 269.2 347.4 270.2 347.5 271.2 347.5 272.2 347.5 273.2 347.6 274.2 347.7 275.2 347.7 276.2 347.8 277.2 347.8 278.2 347.9 279.2 347.9 280.2 348.0 281.2 348.1 282.2 348.1 283.2 348.2 284.2 348.3 285.2 348.3 286.2 348.4 287.2 348.5 288.2 348.6 289.2 348.6 290.2 348.7 291.2 348.8 292.2 348.9 293.2 349.0 294.3 349.1 295.3 349.2 296.3 349.4 297.3 349.5 298.3 349.7 299.3 349.9 300.3 350.0 301.3 350.1 302.3 350.2 303.3 350.2 304.3 350.2 305.3 350.2 306.3 350.2 307.3 350.1 308.3 350.1 309.3 350.0 310.3 349.9 311.3 349.7 312.3 349.6 313.3 349.7 314.3 349.9 315.3 350.1 316.3 350.2 317.3 350.2 318.3 350.3 319.3 350.3 320.3 350.3 321.3 350.3 322.3 350.3 323.3 350.3" fill="none" stroke="#f09860" stroke-width="0.95" stroke-linejoin="round" />
<path d="M31.8 356.3 32.8 356.3 33.8 356.4 34.8 356.4 35.8 356.4 36.8 356.4 37.8 356.4 38.8 356.5 39.8 356.5 40.8 356.5 41.8 356.6 42.8 356.6 43.8 356.6 44.8 356.7 45.8 356.7 46.8 356.8 47.8 356.8 48.8 356.9 49.8 356.9 50.8 356.9 51.8 357.0 52.8 357.0 53.8 357.1 54.8 357.1 55.8 357.2 56.8 357.2 57.8 357.3 58.8 357.3 59.8 357.4 60.8 357.4 61.9 357.5 62.9 357.5 63.9 357.6 64.9 357.6 65.9 357.7 66.9 357.7 67.9 357.8 68.9 357.8 69.9 357.9 70.9 357.9 71.9 357.9 72.9 358.0 73.9 358.0 74.9 358.1 75.9 358.1 76.9 358.1 77.9 358.1 78.9 358.2 79.9 358.2 80.9 358.2 81.9 358.2 82.9 358.3 83.9 358.3 84.9 358.3 85.9 358.3 86.9 358.3 87.9 358.3 88.9 358.3 89.9 358.3 90.9 358.3 91.9 358.3 92.9 358.3 93.9 358.3 94.9 358.3 95.9 358.3 96.9 358.3 97.9 358.2 98.9 358.2 99.9 357.3 100.9 355.3 101.9 356.1 102.9 357.7 103.9 357.9 104.9 357.8 105.9 357.7 106.9 357.6 107.9 357.4 108.9 357.3 109.9 357.0 110.9 356.8 111.9 356.5 112.9 356.2 113.9 355.8 114.9 355.4 115.9 354.9 116.9 354.3 117.9 353.7 118.9 353.1 120 352.3 121 351.6 122 350.7 123 349.9 124 348.9 125 348.0 126 347.0 127 346.0 128 345.0 129 344.0 130 343.1 131 342.2 132 341.4 133 340.6 134 340.0 135 339.4 136 339.0 137 338.7 138 338.5 139 338.5 140 338.7 141 339.0 142 339.5 143 340.2 144 340.9 145 341.6 146 342.4 147 343.2 148 343.9 149 344.7 150 345.3 151 345.9 152 346.5 153 347.0 154 347.4 155 347.8 156 348.2 157 348.5 158 348.7 159 348.9 160 349.1 161 349.2 162 349.4 163 349.5 164 349.5 165 349.6 166 349.6 167 349.7 168 349.7 169 349.7 170 349.7 171 349.7 172 349.7 173 349.6 174 349.6 175 349.6 176 349.6 177 349.6 178.1 349.6 179.1 349.5 180.1 349.5 181.1 349.5 182.1 349.5 183.1 349.5 184.1 349.9 185.1 350.5 186.1 350.1 187.1 349.5 188.1 349.3 189.1 349.2 190.1 349.2 191.1 349.1 192.1 349.0 193.1 348.9 194.1 348.8 195.1 348.7 196.1 348.5 197.1 348.4 198.1 348.2 199.1 348.0 200.1 347.9 201.1 347.7 202.1 347.5 203.1 347.3 204.1 347.1 205.1 346.9 206.1 346.6 207.1 346.4 208.1 346.2 209.1 346.0 210.1 345.8 211.1 345.7 212.1 345.5 213.1 345.3 214.1 345.2 215.1 345.1 216.1 345.0 217.1 344.9 218.1 344.8 219.1 344.8 220.1 344.7 221.1 344.7 222.1 344.8 223.1 344.8 224.1 344.9 225.1 345.0 226.1 345.1 227.1 345.2 228.1 345.4 229.1 345.5 230.1 345.7 231.1 345.9 232.1 346.1 233.1 346.3 234.1 346.6 235.1 346.8 236.2 347.0 237.2 347.2 238.2 347.5 239.2 347.7 240.2 347.9 241.2 348.2 242.2 348.4 243.2 348.6 244.2 348.9 245.2 349.4 246.2 350.1 247.2 350.7 248.2 350.7 249.2 350.4 250.2 350.1 251.2 350.0 252.2 350.0 253.2 350.1 254.2 350.2 255.2 350.3 256.2 350.4 257.2 350.4 258.2 350.5 259.2 350.6 260.2 350.6 261.2 350.7 262.2 350.7 263.2 350.7 264.2 350.8 265.2 350.8 266.2 350.9 267.2 350.9 268.2 350.9 269.2 351.0 270.2 351.0 271.2 351.1 272.2 351.1 273.2 351.2 274.2 351.2 275.2 351.3 276.2 351.3 277.2 351.4 278.2 351.4 279.2 351.5 280.2 351.5 281.2 351.6 282.2 351.7 283.2 351.7 284.2 351.8 285.2 351.8 286.2 351.9 287.2 352.0 288.2 352.0 289.2 352.1 290.2 352.2 291.2 352.2 292.2 352.3 293.2 352.4 294.3 352.5 295.3 352.6 296.3 352.8 297.3 352.9 298.3 353.1 299.3 353.2 300.3 353.3 301.3 353.4 302.3 353.5 303.3 353.5 304.3 353.5 305.3 353.5 306.3 353.5 307.3 353.4 308.3 353.4 309.3 353.3 310.3 353.2 311.3 353.1 312.3 353.0 313.3 353.1 314.3 353.2 315.3 353.4 316.3 353.5 317.3 353.6 318.3 353.6 319.3 353.6 320.3 353.6 321.3 353.6 322.3 353.6 323.3 353.6" fill="none" stroke="#f0a048" stroke-width="0.95" stroke-linejoin="round" />
<path d="M31.8 359.8 32.8 359.8 33.8 359.9 34.8 359.9 35.8 359.9 36.8 359.9 37.8 359.9 38.8 360.0 39.8 360.0 40.8 360.0 41.8 360.1 42.8 360.1 43.8 360.1 44.8 360.2 45.8 360.2 46.8 360.3 47.8 360.3 48.8 360.4 49.8 360.4 50.8 360.4 51.8 360.5 52.8 360.5 53.8 360.6 54.8 360.6 55.8 360.7 56.8 360.7 57.8 360.8 58.8 360.8 59.8 360.9 60.8 360.9 61.9 361.0 62.9 361.0 63.9 361.1 64.9 361.1 65.9 361.2 66.9 361.2 67.9 361.3 68.9 361.3 69.9 361.4 70.9 361.4 71.9 361.4 72.9 361.5 73.9 361.5 74.9 361.6 75.9 361.6 76.9 361.6 77.9 361.6 78.9 361.7 79.9 361.7 80.9 361.7 81.9 361.7 82.9 361.8 83.9 361.8 84.9 361.8 85.9 361.8 86.9 361.8 87.9 361.8 88.9 361.8 89.9 361.8 90.9 361.8 91.9 361.8 92.9 361.8 93.9 361.8 94.9 361.8 95.9 361.8 96.9 361.8 97.9 361.7 98.9 361.7 99.9 360.9 100.9 359.0 101.9 359.7 102.9 361.2 103.9 361.4 104.9 361.3 105.9 361.2 106.9 361.1 107.9 360.9 108.9 360.7 109.9 360.5 110.9 360.3 111.9 360.0 112.9 359.6 113.9 359.3 114.9 358.8 115.9 358.3 116.9 357.8 117.9 357.2 118.9 356.5 120 355.8 121 355.0 122 354.2 123 353.3 124 352.4 125 351.5 126 350.5 127 349.5 128 348.5 129 347.5 130 346.6 131 345.7 132 344.9 133 344.2 134 343.5 135 343.0 136 342.5 137 342.2 138 342.0 139 342.0 140 342.2 141 342.5 142 343.0 143 343.6 144 344.3 145 345.1 146 345.8 147 346.6 148 347.3 149 348.0 150 348.7 151 349.3 152 349.8 153 350.3 154 350.8 155 351.2 156 351.5 157 351.8 158 352.0 159 352.2 160 352.4 161 352.6 162 352.7 163 352.8 164 352.9 165 352.9 166 353.0 167 353.0 168 353.1 169 353.1 170 353.1 171 353.1 172 353.1 173 353.1 174 353.1 175 353.1 176 353.1 177 353.1 178.1 353.0 179.1 353.0 180.1 353.0 181.1 353.0 182.1 353.0 183.1 353.0 184.1 353.4 185.1 354.0 186.1 353.6 187.1 353.0 188.1 352.8 189.1 352.8 190.1 352.7 191.1 352.7 192.1 352.6 193.1 352.5 194.1 352.4 195.1 352.2 196.1 352.1 197.1 352.0 198.1 351.8 199.1 351.7 200.1 351.5 201.1 351.3 202.1 351.1 203.1 350.9 204.1 350.8 205.1 350.6 206.1 350.4 207.1 350.2 208.1 350.0 209.1 349.8 210.1 349.6 211.1 349.4 212.1 349.3 213.1 349.1 214.1 349.0 215.1 348.9 216.1 348.8 217.1 348.7 218.1 348.7 219.1 348.6 220.1 348.6 221.1 348.6 222.1 348.6 223.1 348.7 224.1 348.7 225.1 348.8 226.1 348.9 227.1 349.0 228.1 349.2 229.1 349.3 230.1 349.5 231.1 349.7 232.1 349.9 233.1 350.1 234.1 350.3 235.1 350.5 236.2 350.7 237.2 350.9 238.2 351.2 239.2 351.4 240.2 351.6 241.2 351.8 242.2 352.0 243.2 352.2 244.2 352.5 245.2 353.0 246.2 353.7 247.2 354.2 248.2 354.2 249.2 353.9 250.2 353.6 251.2 353.5 252.2 353.6 253.2 353.6 254.2 353.7 255.2 353.8 256.2 353.9 257.2 354.0 258.2 354.0 259.2 354.1 260.2 354.1 261.2 354.2 262.2 354.2 263.2 354.2 264.2 354.3 265.2 354.3 266.2 354.4 267.2 354.4 268.2 354.4 269.2 354.5 270.2 354.5 271.2 354.5 272.2 354.6 273.2 354.6 274.2 354.7 275.2 354.7 276.2 354.8 277.2 354.8 278.2 354.9 279.2 354.9 280.2 355.0 281.2 355.0 282.2 355.1 283.2 355.1 284.2 355.2 285.2 355.2 286.2 355.3 287.2 355.3 288.2 355.4 289.2 355.5 290.2 355.5 291.2 355.6 292.2 355.7 293.2 355.7 294.3 355.8 295.3 355.9 296.3 356.1 297.3 356.2 298.3 356.3 299.3 356.4 300.3 356.6 301.3 356.6 302.3 356.7 303.3 356.7 304.3 356.7 305.3 356.7 306.3 356.7 307.3 356.7 308.3 356.6 309.3 356.6 310.3 356.4 311.3 356.3 312.3 356.3 313.3 356.3 314.3 356.5 315.3 356.6 316.3 356.7 317.3 356.8 318.3 356.8 319.3 356.8 320.3 356.8 321.3 356.8 322.3 356.8 323.3 356.8" fill="none" stroke="#e8b050" stroke-width="0.95" stroke-linejoin="round" />
<path d="M31.8 363.7 32.8 363.7 33.8 363.8 34.8 363.8 35.8 363.8 36.8 363.8 37.8 363.8 38.8 363.9 39.8 363.9 40.8 363.9 41.8 364.0 42.8 364.0 43.8 364.0 44.8 364.1 45.8 364.1 46.8 364.2 47.8 364.2 48.8 364.3 49.8 364.3 50.8 364.3 51.8 364.4 52.8 364.4 53.8 364.5 54.8 364.5 55.8 364.6 56.8 364.6 57.8 364.7 58.8 364.7 59.8 364.8 60.8 364.8 61.9 364.9 62.9 364.9 63.9 365.0 64.9 365.0 65.9 365.1 66.9 365.1 67.9 365.2 68.9 365.2 69.9 365.3 70.9 365.3 71.9 365.3 72.9 365.4 73.9 365.4 74.9 365.5 75.9 365.5 76.9 365.5 77.9 365.5 78.9 365.6 79.9 365.6 80.9 365.6 81.9 365.6 82.9 365.7 83.9 365.7 84.9 365.7 85.9 365.7 86.9 365.7 87.9 365.7 88.9 365.7 89.9 365.7 90.9 365.7 91.9 365.7 92.9 365.7 93.9 365.7 94.9 365.7 95.9 365.7 96.9 365.7 97.9 365.6 98.9 365.6 99.9 364.9 100.9 363.1 101.9 363.8 102.9 365.1 103.9 365.3 104.9 365.2 105.9 365.1 106.9 364.9 107.9 364.8 108.9 364.6 109.9 364.3 110.9 364.1 111.9 363.8 112.9 363.4 113.9 363.0 114.9 362.6 115.9 362.1 116.9 361.6 117.9 361.0 118.9 360.3 120 359.6 121 358.8 122 358.0 123 357.1 124 356.2 125 355.2 126 354.3 127 353.3 128 352.3 129 351.3 130 350.4 131 349.5 132 348.7 133 347.9 134 347.3 135 346.7 136 346.3 137 345.9 138 345.7 139 345.7 140 345.8 141 346.1 142 346.6 143 347.1 144 347.8 145 348.5 146 349.2 147 349.9 148 350.6 149 351.3 150 351.9 151 352.5 152 353.0 153 353.5 154 353.9 155 354.2 156 354.5 157 354.8 158 355.0 159 355.2 160 355.4 161 355.6 162 355.7 163 355.8 164 355.8 165 355.9 166 355.9 167 356.0 168 356.0 169 356.0 170 356.0 171 356.0 172 356.1 173 356.1 174 356.1 175 356.1 176 356.1 177 356.1 178.1 356.1 179.1 356.0 180.1 356.0 181.1 356.0 182.1 356.0 183.1 356.1 184.1 356.4 185.1 357.0 186.1 356.6 187.1 356.1 188.1 355.9 189.1 355.9 190.1 355.8 191.1 355.7 192.1 355.7 193.1 355.6 194.1 355.5 195.1 355.4 196.1 355.2 197.1 355.1 198.1 355.0 199.1 354.8 200.1 354.7 201.1 354.5 202.1 354.3 203.1 354.1 204.1 354.0 205.1 353.8 206.1 353.6 207.1 353.4 208.1 353.2 209.1 353.1 210.1 352.9 211.1 352.7 212.1 352.6 213.1 352.5 214.1 352.3 215.1 352.2 216.1 352.1 217.1 352.1 218.1 352.0 219.1 352.0 220.1 351.9 221.1 351.9 222.1 352.0 223.1 352.0 224.1 352.1 225.1 352.1 226.1 352.2 227.1 352.4 228.1 352.5 229.1 352.6 230.1 352.8 231.1 353.0 232.1 353.2 233.1 353.3 234.1 353.5 235.1 353.7 236.2 353.9 237.2 354.2 238.2 354.4 239.2 354.6 240.2 354.8 241.2 355.0 242.2 355.1 243.2 355.4 244.2 355.6 245.2 356.1 246.2 356.7 247.2 357.2 248.2 357.2 249.2 357.0 250.2 356.7 251.2 356.6 252.2 356.6 253.2 356.7 254.2 356.8 255.2 356.8 256.2 356.9 257.2 357.0 258.2 357.0 259.2 357.1 260.2 357.1 261.2 357.2 262.2 357.2 263.2 357.3 264.2 357.3 265.2 357.3 266.2 357.3 267.2 357.4 268.2 357.4 269.2 357.4 270.2 357.5 271.2 357.5 272.2 357.6 273.2 357.6 274.2 357.6 275.2 357.7 276.2 357.7 277.2 357.8 278.2 357.8 279.2 357.8 280.2 357.9 281.2 357.9 282.2 358.0 283.2 358.0 284.2 358.1 285.2 358.1 286.2 358.2 287.2 358.2 288.2 358.3 289.2 358.3 290.2 358.4 291.2 358.4 292.2 358.5 293.2 358.6 294.3 358.7 295.3 358.7 296.3 358.9 297.3 359.0 298.3 359.1 299.3 359.2 300.3 359.3 301.3 359.4 302.3 359.4 303.3 359.4 304.3 359.4 305.3 359.4 306.3 359.4 307.3 359.4 308.3 359.3 309.3 359.3 310.3 359.2 311.3 359.1 312.3 359.0 313.3 359.1 314.3 359.2 315.3 359.3 316.3 359.4 317.3 359.5 318.3 359.5 319.3 359.5 320.3 359.5 321.3 359.5 322.3 359.5 323.3 359.5" fill="none" stroke="#e8c060" stroke-width="0.95" stroke-linejoin="round" />
<path d="M31.8 366.9 32.8 366.9 33.8 367.0 34.8 367.0 35.8 367.0 36.8 367.0 37.8 367.0 38.8 367.1 39.8 367.1 40.8 367.1 41.8 367.2 42.8 367.2 43.8 367.2 44.8 367.3 45.8 367.3 46.8 367.4 47.8 367.4 48.8 367.5 49.8 367.5 50.8 367.5 51.8 367.6 52.8 367.6 53.8 367.7 54.8 367.7 55.8 367.8 56.8 367.8 57.8 367.9 58.8 367.9 59.8 368.0 60.8 368.0 61.9 368.1 62.9 368.1 63.9 368.2 64.9 368.2 65.9 368.3 66.9 368.3 67.9 368.4 68.9 368.4 69.9 368.5 70.9 368.5 71.9 368.5 72.9 368.6 73.9 368.6 74.9 368.7 75.9 368.7 76.9 368.7 77.9 368.7 78.9 368.8 79.9 368.8 80.9 368.8 81.9 368.8 82.9 368.9 83.9 368.9 84.9 368.9 85.9 368.9 86.9 368.9 87.9 368.9 88.9 368.9 89.9 368.9 90.9 368.9 91.9 368.9 92.9 368.9 93.9 368.9 94.9 368.9 95.9 368.9 96.9 368.9 97.9 368.8 98.9 368.8 99.9 368.1 100.9 366.6 101.9 367.1 102.9 368.4 103.9 368.5 104.9 368.4 105.9 368.3 106.9 368.1 107.9 368.0 108.9 367.8 109.9 367.5 110.9 367.3 111.9 367.0 112.9 366.6 113.9 366.2 114.9 365.8 115.9 365.3 116.9 364.8 117.9 364.2 118.9 363.5 120 362.8 121 362.0 122 361.2 123 360.3 124 359.4 125 358.4 126 357.5 127 356.5 128 355.5 129 354.5 130 353.6 131 352.7 132 351.9 133 351.1 134 350.5 135 349.9 136 349.5 137 349.1 138 348.9 139 348.9 140 349.0 141 349.3 142 349.8 143 350.3 144 351.0 145 351.7 146 352.4 147 353.1 148 353.8 149 354.5 150 355.1 151 355.7 152 356.2 153 356.7 154 357.1 155 357.4 156 357.8 157 358.0 158 358.3 159 358.5 160 358.7 161 358.8 162 358.9 163 359.1 164 359.1 165 359.2 166 359.3 167 359.3 168 359.4 169 359.4 170 359.4 171 359.4 172 359.5 173 359.5 174 359.5 175 359.5 176 359.5 177 359.5 178.1 359.5 179.1 359.5 180.1 359.5 181.1 359.5 182.1 359.5 183.1 359.6 184.1 359.9 185.1 360.4 186.1 360.1 187.1 359.6 188.1 359.4 189.1 359.4 190.1 359.3 191.1 359.3 192.1 359.2 193.1 359.1 194.1 359.0 195.1 358.9 196.1 358.8 197.1 358.7 198.1 358.6 199.1 358.4 200.1 358.3 201.1 358.1 202.1 358.0 203.1 357.8 204.1 357.6 205.1 357.5 206.1 357.3 207.1 357.1 208.1 357.0 209.1 356.8 210.1 356.7 211.1 356.5 212.1 356.4 213.1 356.3 214.1 356.1 215.1 356.0 216.1 355.9 217.1 355.9 218.1 355.8 219.1 355.8 220.1 355.8 221.1 355.8 222.1 355.8 223.1 355.8 224.1 355.9 225.1 356.0 226.1 356.1 227.1 356.2 228.1 356.3 229.1 356.4 230.1 356.6 231.1 356.7 232.1 356.9 233.1 357.1 234.1 357.3 235.1 357.5 236.2 357.7 237.2 357.8 238.2 358.0 239.2 358.2 240.2 358.4 241.2 358.6 242.2 358.8 243.2 359.0 244.2 359.2 245.2 359.7 246.2 360.2 247.2 360.7 248.2 360.7 249.2 360.5 250.2 360.2 251.2 360.1 252.2 360.1 253.2 360.2 254.2 360.3 255.2 360.4 256.2 360.4 257.2 360.5 258.2 360.6 259.2 360.6 260.2 360.6 261.2 360.7 262.2 360.7 263.2 360.7 264.2 360.8 265.2 360.8 266.2 360.8 267.2 360.9 268.2 360.9 269.2 360.9 270.2 361.0 271.2 361.0 272.2 361.0 273.2 361.1 274.2 361.1 275.2 361.1 276.2 361.2 277.2 361.2 278.2 361.2 279.2 361.3 280.2 361.3 281.2 361.4 282.2 361.4 283.2 361.4 284.2 361.5 285.2 361.5 286.2 361.6 287.2 361.6 288.2 361.7 289.2 361.7 290.2 361.7 291.2 361.8 292.2 361.8 293.2 361.9 294.3 362.0 295.3 362.1 296.3 362.1 297.3 362.2 298.3 362.3 299.3 362.4 300.3 362.5 301.3 362.6 302.3 362.6 303.3 362.7 304.3 362.7 305.3 362.6 306.3 362.6 307.3 362.6 308.3 362.6 309.3 362.5 310.3 362.4 311.3 362.3 312.3 362.3 313.3 362.3 314.3 362.5 315.3 362.6 316.3 362.6 317.3 362.7 318.3 362.7 319.3 362.7 320.3 362.7 321.3 362.7 322.3 362.7 323.3 362.7" fill="none" stroke="#d8b838" stroke-width="0.95" stroke-linejoin="round" />
<path d="M31.8 370.1 32.8 370.1 33.8 370.2 34.8 370.2 35.8 370.2 36.8 370.2 37.8 370.2 38.8 370.3 39.8 370.3 40.8 370.3 41.8 370.4 42.8 370.4 43.8 370.4 44.8 370.5 45.8 370.5 46.8 370.6 47.8 370.6 48.8 370.7 49.8 370.7 50.8 370.7 51.8 370.8 52.8 370.8 53.8 370.9 54.8 370.9 55.8 371.0 56.8 371.0 57.8 371.1 58.8 371.1 59.8 371.2 60.8 371.2 61.9 371.3 62.9 371.3 63.9 371.4 64.9 371.4 65.9 371.5 66.9 371.5 67.9 371.6 68.9 371.6 69.9 371.7 70.9 371.7 71.9 371.7 72.9 371.8 73.9 371.8 74.9 371.9 75.9 371.9 76.9 371.9 77.9 371.9 78.9 372.0 79.9 372.0 80.9 372.0 81.9 372.0 82.9 372.1 83.9 372.1 84.9 372.1 85.9 372.1 86.9 372.1 87.9 372.1 88.9 372.1 89.9 372.1 90.9 372.1 91.9 372.1 92.9 372.1 93.9 372.1 94.9 372.1 95.9 372.1 96.9 372.1 97.9 372.0 98.9 372.0 99.9 371.4 100.9 370.0 101.9 370.5 102.9 371.6 103.9 371.7 104.9 371.6 105.9 371.4 106.9 371.3 107.9 371.1 108.9 370.9 109.9 370.7 110.9 370.4 111.9 370.1 112.9 369.8 113.9 369.4 114.9 369.0 115.9 368.5 116.9 367.9 117.9 367.3 118.9 366.7 120 365.9 121 365.2 122 364.3 123 363.5 124 362.6 125 361.6 126 360.6 127 359.7 128 358.7 129 357.7 130 356.8 131 355.9 132 355.1 133 354.3 134 353.7 135 353.1 136 352.7 137 352.3 138 352.1 139 352.1 140 352.2 141 352.5 142 352.9 143 353.5 144 354.1 145 354.8 146 355.5 147 356.2 148 356.9 149 357.5 150 358.1 151 358.6 152 359.1 153 359.6 154 360.0 155 360.3 156 360.7 157 360.9 158 361.2 159 361.4 160 361.5 161 361.7 162 361.8 163 361.9 164 362.0 165 362.1 166 362.2 167 362.2 168 362.3 169 362.3 170 362.3 171 362.4 172 362.4 173 362.4 174 362.4 175 362.5 176 362.5 177 362.5 178.1 362.5 179.1 362.5 180.1 362.5 181.1 362.5 182.1 362.5 183.1 362.6 184.1 362.9 185.1 363.4 186.1 363.1 187.1 362.6 188.1 362.5 189.1 362.4 190.1 362.4 191.1 362.3 192.1 362.3 193.1 362.2 194.1 362.1 195.1 362.0 196.1 361.9 197.1 361.8 198.1 361.7 199.1 361.6 200.1 361.4 201.1 361.3 202.1 361.2 203.1 361.0 204.1 360.8 205.1 360.7 206.1 360.5 207.1 360.4 208.1 360.2 209.1 360.1 210.1 359.9 211.1 359.8 212.1 359.7 213.1 359.6 214.1 359.5 215.1 359.4 216.1 359.3 217.1 359.2 218.1 359.2 219.1 359.1 220.1 359.1 221.1 359.1 222.1 359.1 223.1 359.2 224.1 359.2 225.1 359.3 226.1 359.4 227.1 359.5 228.1 359.6 229.1 359.7 230.1 359.9 231.1 360.0 232.1 360.2 233.1 360.4 234.1 360.5 235.1 360.7 236.2 360.9 237.2 361.1 238.2 361.2 239.2 361.4 240.2 361.6 241.2 361.7 242.2 361.9 243.2 362.1 244.2 362.3 245.2 362.7 246.2 363.2 247.2 363.7 248.2 363.7 249.2 363.5 250.2 363.2 251.2 363.2 252.2 363.2 253.2 363.3 254.2 363.3 255.2 363.4 256.2 363.5 257.2 363.5 258.2 363.6 259.2 363.6 260.2 363.7 261.2 363.7 262.2 363.7 263.2 363.7 264.2 363.8 265.2 363.8 266.2 363.8 267.2 363.9 268.2 363.9 269.2 363.9 270.2 363.9 271.2 364.0 272.2 364.0 273.2 364.0 274.2 364.1 275.2 364.1 276.2 364.1 277.2 364.1 278.2 364.2 279.2 364.2 280.2 364.2 281.2 364.3 282.2 364.3 283.2 364.3 284.2 364.4 285.2 364.4 286.2 364.5 287.2 364.5 288.2 364.5 289.2 364.6 290.2 364.6 291.2 364.6 292.2 364.7 293.2 364.7 294.3 364.8 295.3 364.9 296.3 364.9 297.3 365.0 298.3 365.1 299.3 365.2 300.3 365.3 301.3 365.3 302.3 365.3 303.3 365.4 304.3 365.4 305.3 365.4 306.3 365.3 307.3 365.3 308.3 365.3 309.3 365.2 310.3 365.2 311.3 365.1 312.3 365.1 313.3 365.1 314.3 365.2 315.3 365.3 316.3 365.4 317.3 365.4 318.3 365.4 319.3 365.4 320.3 365.4 321.3 365.4 322.3 365.4 323.3 365.4" fill="none" stroke="#d8c860" stroke-width="0.95" stroke-linejoin="round" />
<path d="M31.8 372.7 32.8 372.7 33.8 372.8 34.8 372.8 35.8 372.8 36.8 372.8 37.8 372.8 38.8 372.9 39.8 372.9 40.8 372.9 41.8 373.0 42.8 373.0 43.8 373.0 44.8 373.1 45.8 373.1 46.8 373.2 47.8 373.2 48.8 373.3 49.8 373.3 50.8 373.3 51.8 373.4 52.8 373.4 53.8 373.5 54.8 373.5 55.8 373.6 56.8 373.6 57.8 373.7 58.8 373.7 59.8 373.8 60.8 373.8 61.9 373.9 62.9 373.9 63.9 374.0 64.9 374.0 65.9 374.1 66.9 374.1 67.9 374.2 68.9 374.2 69.9 374.3 70.9 374.3 71.9 374.3 72.9 374.4 73.9 374.4 74.9 374.5 75.9 374.5 76.9 374.5 77.9 374.5 78.9 374.6 79.9 374.6 80.9 374.6 81.9 374.6 82.9 374.7 83.9 374.7 84.9 374.7 85.9 374.7 86.9 374.7 87.9 374.7 88.9 374.7 89.9 374.7 90.9 374.7 91.9 374.7 92.9 374.7 93.9 374.7 94.9 374.7 95.9 374.7 96.9 374.7 97.9 374.6 98.9 374.6 99.9 374.1 100.9 372.8 101.9 373.3 102.9 374.2 103.9 374.3 104.9 374.2 105.9 374.1 106.9 373.9 107.9 373.8 108.9 373.6 109.9 373.3 110.9 373.1 111.9 372.8 112.9 372.5 113.9 372.1 114.9 371.7 115.9 371.2 116.9 370.7 117.9 370.1 118.9 369.5 120 368.8 121 368.0 122 367.2 123 366.4 124 365.5 125 364.6 126 363.6 127 362.7 128 361.8 129 360.8 130 359.9 131 359.1 132 358.3 133 357.6 134 356.9 135 356.4 136 356.0 137 355.6 138 355.4 139 355.4 140 355.5 141 355.8 142 356.2 143 356.7 144 357.3 145 358.0 146 358.7 147 359.3 148 360.0 149 360.6 150 361.2 151 361.7 152 362.2 153 362.6 154 363.0 155 363.4 156 363.7 157 363.9 158 364.2 159 364.4 160 364.5 161 364.7 162 364.8 163 364.9 164 365.0 165 365.1 166 365.2 167 365.3 168 365.3 169 365.4 170 365.4 171 365.4 172 365.5 173 365.5 174 365.5 175 365.6 176 365.6 177 365.6 178.1 365.6 179.1 365.7 180.1 365.7 181.1 365.7 182.1 365.7 183.1 365.7 184.1 366.1 185.1 366.5 186.1 366.2 187.1 365.8 188.1 365.6 189.1 365.6 190.1 365.6 191.1 365.5 192.1 365.5 193.1 365.4 194.1 365.3 195.1 365.2 196.1 365.1 197.1 365.0 198.1 364.9 199.1 364.8 200.1 364.7 201.1 364.6 202.1 364.4 203.1 364.3 204.1 364.2 205.1 364.0 206.1 363.9 207.1 363.7 208.1 363.6 209.1 363.5 210.1 363.3 211.1 363.2 212.1 363.1 213.1 363.0 214.1 362.9 215.1 362.8 216.1 362.7 217.1 362.7 218.1 362.6 219.1 362.6 220.1 362.6 221.1 362.6 222.1 362.6 223.1 362.6 224.1 362.7 225.1 362.7 226.1 362.8 227.1 362.9 228.1 363.0 229.1 363.1 230.1 363.3 231.1 363.4 232.1 363.6 233.1 363.7 234.1 363.9 235.1 364.0 236.2 364.2 237.2 364.4 238.2 364.5 239.2 364.7 240.2 364.8 241.2 365.0 242.2 365.2 243.2 365.3 244.2 365.6 245.2 365.9 246.2 366.4 247.2 366.8 248.2 366.8 249.2 366.6 250.2 366.4 251.2 366.3 252.2 366.3 253.2 366.4 254.2 366.5 255.2 366.5 256.2 366.6 257.2 366.6 258.2 366.7 259.2 366.7 260.2 366.8 261.2 366.8 262.2 366.8 263.2 366.9 264.2 366.9 265.2 366.9 266.2 366.9 267.2 367.0 268.2 367.0 269.2 367.0 270.2 367.0 271.2 367.0 272.2 367.1 273.2 367.1 274.2 367.1 275.2 367.1 276.2 367.2 277.2 367.2 278.2 367.2 279.2 367.2 280.2 367.3 281.2 367.3 282.2 367.3 283.2 367.4 284.2 367.4 285.2 367.4 286.2 367.4 287.2 367.5 288.2 367.5 289.2 367.5 290.2 367.6 291.2 367.6 292.2 367.6 293.2 367.7 294.3 367.7 295.3 367.8 296.3 367.8 297.3 367.9 298.3 368.0 299.3 368.0 300.3 368.1 301.3 368.1 302.3 368.2 303.3 368.2 304.3 368.2 305.3 368.2 306.3 368.2 307.3 368.1 308.3 368.1 309.3 368.1 310.3 368.0 311.3 368.0 312.3 367.9 313.3 368.0 314.3 368.0 315.3 368.1 316.3 368.2 317.3 368.2 318.3 368.2 319.3 368.2 320.3 368.2 321.3 368.2 322.3 368.2 323.3 368.2" fill="none" stroke="#c8c050" stroke-width="0.95" stroke-linejoin="round" />
<path d="M31.8 375.2 32.8 375.2 33.8 375.3 34.8 375.3 35.8 375.3 36.8 375.3 37.8 375.3 38.8 375.4 39.8 375.4 40.8 375.4 41.8 375.5 42.8 375.5 43.8 375.5 44.8 375.6 45.8 375.6 46.8 375.7 47.8 375.7 48.8 375.8 49.8 375.8 50.8 375.8 51.8 375.9 52.8 375.9 53.8 376.0 54.8 376.0 55.8 376.1 56.8 376.1 57.8 376.2 58.8 376.2 59.8 376.3 60.8 376.3 61.9 376.4 62.9 376.4 63.9 376.5 64.9 376.5 65.9 376.6 66.9 376.6 67.9 376.7 68.9 376.7 69.9 376.8 70.9 376.8 71.9 376.8 72.9 376.9 73.9 376.9 74.9 377.0 75.9 377.0 76.9 377.0 77.9 377.0 78.9 377.1 79.9 377.1 80.9 377.1 81.9 377.1 82.9 377.2 83.9 377.2 84.9 377.2 85.9 377.2 86.9 377.2 87.9 377.2 88.9 377.2 89.9 377.2 90.9 377.2 91.9 377.2 92.9 377.2 93.9 377.2 94.9 377.2 95.9 377.2 96.9 377.2 97.9 377.1 98.9 377.1 99.9 376.6 100.9 375.6 101.9 375.9 102.9 376.7 103.9 376.8 104.9 376.7 105.9 376.6 106.9 376.5 107.9 376.3 108.9 376.1 109.9 375.9 110.9 375.7 111.9 375.4 112.9 375.1 113.9 374.7 114.9 374.3 115.9 373.8 116.9 373.3 117.9 372.8 118.9 372.2 120 371.5 121 370.8 122 370.0 123 369.2 124 368.3 125 367.5 126 366.5 127 365.6 128 364.7 129 363.8 130 363.0 131 362.1 132 361.4 133 360.7 134 360.1 135 359.5 136 359.1 137 358.8 138 358.6 139 358.6 140 358.7 141 359.0 142 359.4 143 359.9 144 360.5 145 361.2 146 361.8 147 362.5 148 363.1 149 363.7 150 364.3 151 364.8 152 365.3 153 365.7 154 366.1 155 366.4 156 366.8 157 367.0 158 367.3 159 367.5 160 367.7 161 367.8 162 368.0 163 368.1 164 368.2 165 368.3 166 368.4 167 368.5 168 368.5 169 368.6 170 368.6 171 368.7 172 368.7 173 368.8 174 368.8 175 368.9 176 368.9 177 368.9 178.1 368.9 179.1 369.0 180.1 369.0 181.1 369.0 182.1 369.0 183.1 369.1 184.1 369.4 185.1 369.8 186.1 369.5 187.1 369.1 188.1 369.0 189.1 369.0 190.1 368.9 191.1 368.9 192.1 368.8 193.1 368.8 194.1 368.7 195.1 368.6 196.1 368.6 197.1 368.5 198.1 368.4 199.1 368.3 200.1 368.2 201.1 368.0 202.1 367.9 203.1 367.8 204.1 367.7 205.1 367.5 206.1 367.4 207.1 367.3 208.1 367.1 209.1 367.0 210.1 366.9 211.1 366.8 212.1 366.7 213.1 366.6 214.1 366.5 215.1 366.4 216.1 366.3 217.1 366.3 218.1 366.3 219.1 366.2 220.1 366.2 221.1 366.2 222.1 366.2 223.1 366.3 224.1 366.3 225.1 366.4 226.1 366.5 227.1 366.5 228.1 366.6 229.1 366.7 230.1 366.9 231.1 367.0 232.1 367.1 233.1 367.3 234.1 367.4 235.1 367.6 236.2 367.7 237.2 367.9 238.2 368.0 239.2 368.2 240.2 368.3 241.2 368.5 242.2 368.6 243.2 368.8 244.2 369.0 245.2 369.3 246.2 369.7 247.2 370.1 248.2 370.1 249.2 369.9 250.2 369.7 251.2 369.6 252.2 369.7 253.2 369.7 254.2 369.8 255.2 369.9 256.2 369.9 257.2 370.0 258.2 370.0 259.2 370.0 260.2 370.1 261.2 370.1 262.2 370.1 263.2 370.2 264.2 370.2 265.2 370.2 266.2 370.2 267.2 370.2 268.2 370.3 269.2 370.3 270.2 370.3 271.2 370.3 272.2 370.3 273.2 370.4 274.2 370.4 275.2 370.4 276.2 370.4 277.2 370.4 278.2 370.5 279.2 370.5 280.2 370.5 281.2 370.5 282.2 370.5 283.2 370.6 284.2 370.6 285.2 370.6 286.2 370.6 287.2 370.7 288.2 370.7 289.2 370.7 290.2 370.7 291.2 370.7 292.2 370.8 293.2 370.8 294.3 370.8 295.3 370.9 296.3 370.9 297.3 371.0 298.3 371.0 299.3 371.1 300.3 371.1 301.3 371.1 302.3 371.2 303.3 371.2 304.3 371.2 305.3 371.2 306.3 371.2 307.3 371.2 308.3 371.1 309.3 371.1 310.3 371.1 311.3 371.0 312.3 371.0 313.3 371.0 314.3 371.1 315.3 371.1 316.3 371.2 317.3 371.2 318.3 371.2 319.3 371.2 320.3 371.2 321.3 371.2 322.3 371.2 323.3 371.2" fill="none" stroke="#c0c870" stroke-width="0.95" stroke-linejoin="round" />
<path d="M31.8 378.5 32.8 378.5 33.8 378.6 34.8 378.6 35.8 378.6 36.8 378.6 37.8 378.6 38.8 378.7 39.8 378.7 40.8 378.7 41.8 378.8 42.8 378.8 43.8 378.8 44.8 378.9 45.8 378.9 46.8 379.0 47.8 379.0 48.8 379.1 49.8 379.1 50.8 379.1 51.8 379.2 52.8 379.2 53.8 379.3 54.8 379.3 55.8 379.4 56.8 379.4 57.8 379.5 58.8 379.5 59.8 379.6 60.8 379.6 61.9 379.7 62.9 379.7 63.9 379.8 64.9 379.8 65.9 379.9 66.9 379.9 67.9 380.0 68.9 380.0 69.9 380.1 70.9 380.1 71.9 380.1 72.9 380.2 73.9 380.2 74.9 380.3 75.9 380.3 76.9 380.3 77.9 380.3 78.9 380.4 79.9 380.4 80.9 380.4 81.9 380.4 82.9 380.5 83.9 380.5 84.9 380.5 85.9 380.5 86.9 380.5 87.9 380.5 88.9 380.5 89.9 380.5 90.9 380.5 91.9 380.5 92.9 380.5 93.9 380.5 94.9 380.5 95.9 380.5 96.9 380.5 97.9 380.4 98.9 380.4 99.9 380.0 100.9 379.1 101.9 379.4 102.9 380.1 103.9 380.1 104.9 380.0 105.9 379.9 106.9 379.7 107.9 379.6 108.9 379.4 109.9 379.2 110.9 378.9 111.9 378.6 112.9 378.3 113.9 378.0 114.9 377.5 115.9 377.1 116.9 376.6 117.9 376.0 118.9 375.4 120 374.7 121 374.0 122 373.2 123 372.4 124 371.6 125 370.7 126 369.8 127 368.9 128 368.0 129 367.1 130 366.2 131 365.4 132 364.6 133 363.9 134 363.3 135 362.8 136 362.3 137 362.0 138 361.8 139 361.8 140 361.9 141 362.1 142 362.5 143 363.0 144 363.6 145 364.2 146 364.9 147 365.5 148 366.1 149 366.7 150 367.3 151 367.8 152 368.2 153 368.6 154 369.0 155 369.3 156 369.6 157 369.9 158 370.1 159 370.4 160 370.5 161 370.7 162 370.8 163 371.0 164 371.1 165 371.2 166 371.3 167 371.3 168 371.4 169 371.5 170 371.5 171 371.6 172 371.7 173 371.7 174 371.8 175 371.8 176 371.9 177 371.9 178.1 371.9 179.1 372.0 180.1 372.0 181.1 372.0 182.1 372.0 183.1 372.1 184.1 372.4 185.1 372.8 186.1 372.5 187.1 372.1 188.1 372.1 189.1 372.0 190.1 372.0 191.1 372.0 192.1 371.9 193.1 371.9 194.1 371.8 195.1 371.7 196.1 371.7 197.1 371.6 198.1 371.5 199.1 371.4 200.1 371.3 201.1 371.2 202.1 371.1 203.1 371.0 204.1 370.9 205.1 370.7 206.1 370.6 207.1 370.5 208.1 370.4 209.1 370.3 210.1 370.2 211.1 370.1 212.1 370.0 213.1 369.9 214.1 369.8 215.1 369.7 216.1 369.7 217.1 369.6 218.1 369.6 219.1 369.6 220.1 369.6 221.1 369.6 222.1 369.6 223.1 369.6 224.1 369.7 225.1 369.7 226.1 369.8 227.1 369.9 228.1 369.9 229.1 370.0 230.1 370.2 231.1 370.3 232.1 370.4 233.1 370.5 234.1 370.7 235.1 370.8 236.2 370.9 237.2 371.1 238.2 371.2 239.2 371.3 240.2 371.5 241.2 371.6 242.2 371.7 243.2 371.9 244.2 372.1 245.2 372.4 246.2 372.7 247.2 373.1 248.2 373.1 249.2 372.9 250.2 372.8 251.2 372.7 252.2 372.7 253.2 372.8 254.2 372.8 255.2 372.9 256.2 372.9 257.2 373.0 258.2 373.0 259.2 373.1 260.2 373.1 261.2 373.1 262.2 373.1 263.2 373.2 264.2 373.2 265.2 373.2 266.2 373.2 267.2 373.2 268.2 373.2 269.2 373.3 270.2 373.3 271.2 373.3 272.2 373.3 273.2 373.3 274.2 373.3 275.2 373.4 276.2 373.4 277.2 373.4 278.2 373.4 279.2 373.4 280.2 373.4 281.2 373.4 282.2 373.5 283.2 373.5 284.2 373.5 285.2 373.5 286.2 373.5 287.2 373.5 288.2 373.5 289.2 373.6 290.2 373.6 291.2 373.6 292.2 373.6 293.2 373.6 294.3 373.7 295.3 373.7 296.3 373.7 297.3 373.7 298.3 373.8 299.3 373.8 300.3 373.8 301.3 373.9 302.3 373.9 303.3 373.9 304.3 373.9 305.3 373.9 306.3 373.9 307.3 373.9 308.3 373.9 309.3 373.9 310.3 373.8 311.3 373.8 312.3 373.8 313.3 373.8 314.3 373.8 315.3 373.9 316.3 373.9 317.3 373.9 318.3 373.9 319.3 373.9 320.3 373.9 321.3 373.9 322.3 373.9 323.3 373.9" fill="none" stroke="#a8b040" stroke-width="0.95" stroke-linejoin="round" />
<path d="M31.8 381.0 32.8 381.0 33.8 381.1 34.8 381.1 35.8 381.1 36.8 381.1 37.8 381.1 38.8 381.2 39.8 381.2 40.8 381.2 41.8 381.3 42.8 381.3 43.8 381.3 44.8 381.4 45.8 381.4 46.8 381.5 47.8 381.5 48.8 381.6 49.8 381.6 50.8 381.6 51.8 381.7 52.8 381.7 53.8 381.8 54.8 381.8 55.8 381.9 56.8 381.9 57.8 382.0 58.8 382.0 59.8 382.1 60.8 382.1 61.9 382.2 62.9 382.2 63.9 382.3 64.9 382.3 65.9 382.4 66.9 382.4 67.9 382.5 68.9 382.5 69.9 382.6 70.9 382.6 71.9 382.6 72.9 382.7 73.9 382.7 74.9 382.8 75.9 382.8 76.9 382.8 77.9 382.8 78.9 382.9 79.9 382.9 80.9 382.9 81.9 382.9 82.9 383.0 83.9 383.0 84.9 383.0 85.9 383.0 86.9 383.0 87.9 383.0 88.9 383.0 89.9 383.0 90.9 383.0 91.9 383.0 92.9 383.0 93.9 383.0 94.9 383.0 95.9 383.0 96.9 383.0 97.9 382.9 98.9 382.9 99.9 382.6 100.9 381.9 101.9 382.1 102.9 382.6 103.9 382.7 104.9 382.6 105.9 382.5 106.9 382.3 107.9 382.2 108.9 382.0 109.9 381.8 110.9 381.6 111.9 381.4 112.9 381.1 113.9 380.7 114.9 380.4 115.9 379.9 116.9 379.5 117.9 379.0 118.9 378.4 120 377.8 121 377.1 122 376.4 123 375.6 124 374.8 125 374.0 126 373.2 127 372.3 128 371.5 129 370.6 130 369.8 131 369.1 132 368.3 133 367.7 134 367.1 135 366.7 136 366.3 137 366.0 138 365.8 139 365.8 140 365.9 141 366.2 142 366.6 143 367.1 144 367.7 145 368.3 146 368.9 147 369.6 148 370.2 149 370.8 150 371.3 151 371.8 152 372.3 153 372.7 154 373.1 155 373.4 156 373.7 157 374.0 158 374.3 159 374.5 160 374.7 161 374.9 162 375.0 163 375.2 164 375.3 165 375.4 166 375.5 167 375.6 168 375.7 169 375.8 170 375.9 171 376.0 172 376.0 173 376.1 174 376.2 175 376.2 176 376.3 177 376.3 178.1 376.4 179.1 376.4 180.1 376.4 181.1 376.5 182.1 376.5 183.1 376.5 184.1 376.8 185.1 377.2 186.1 376.9 187.1 376.6 188.1 376.5 189.1 376.5 190.1 376.5 191.1 376.4 192.1 376.4 193.1 376.4 194.1 376.3 195.1 376.2 196.1 376.2 197.1 376.1 198.1 376.0 199.1 375.9 200.1 375.9 201.1 375.8 202.1 375.7 203.1 375.6 204.1 375.5 205.1 375.4 206.1 375.3 207.1 375.2 208.1 375.1 209.1 375.0 210.1 374.9 211.1 374.8 212.1 374.7 213.1 374.6 214.1 374.5 215.1 374.5 216.1 374.4 217.1 374.4 218.1 374.3 219.1 374.3 220.1 374.3 221.1 374.3 222.1 374.3 223.1 374.4 224.1 374.4 225.1 374.4 226.1 374.5 227.1 374.6 228.1 374.7 229.1 374.8 230.1 374.9 231.1 375.0 232.1 375.1 233.1 375.2 234.1 375.3 235.1 375.4 236.2 375.6 237.2 375.7 238.2 375.8 239.2 375.9 240.2 376.0 241.2 376.2 242.2 376.3 243.2 376.4 244.2 376.6 245.2 376.8 246.2 377.2 247.2 377.5 248.2 377.5 249.2 377.3 250.2 377.2 251.2 377.1 252.2 377.2 253.2 377.2 254.2 377.3 255.2 377.3 256.2 377.4 257.2 377.4 258.2 377.4 259.2 377.5 260.2 377.5 261.2 377.5 262.2 377.5 263.2 377.6 264.2 377.6 265.2 377.6 266.2 377.6 267.2 377.6 268.2 377.6 269.2 377.6 270.2 377.7 271.2 377.7 272.2 377.7 273.2 377.7 274.2 377.7 275.2 377.7 276.2 377.7 277.2 377.7 278.2 377.7 279.2 377.7 280.2 377.8 281.2 377.8 282.2 377.8 283.2 377.8 284.2 377.8 285.2 377.8 286.2 377.8 287.2 377.8 288.2 377.8 289.2 377.8 290.2 377.8 291.2 377.8 292.2 377.9 293.2 377.9 294.3 377.9 295.3 377.9 296.3 377.9 297.3 377.9 298.3 377.9 299.3 378.0 300.3 378.0 301.3 378.0 302.3 378.0 303.3 378.0 304.3 378.0 305.3 378.0 306.3 378.0 307.3 378.0 308.3 378.0 309.3 378.0 310.3 378.0 311.3 378.0 312.3 378.0 313.3 378.0 314.3 378.0 315.3 378.0 316.3 378.0 317.3 378.0 318.3 378.0 319.3 378.0 320.3 378.0 321.3 378.0 322.3 378.0 323.3 378.0" fill="none" stroke="#8aa838" stroke-width="0.95" stroke-linejoin="round" />
<path d="M31.8 383.3 32.8 383.3 33.8 383.4 34.8 383.4 35.8 383.4 36.8 383.4 37.8 383.4 38.8 383.5 39.8 383.5 40.8 383.5 41.8 383.6 42.8 383.6 43.8 383.6 44.8 383.7 45.8 383.7 46.8 383.8 47.8 383.8 48.8 383.9 49.8 383.9 50.8 383.9 51.8 384.0 52.8 384.0 53.8 384.1 54.8 384.1 55.8 384.2 56.8 384.2 57.8 384.3 58.8 384.3 59.8 384.4 60.8 384.4 61.9 384.5 62.9 384.5 63.9 384.6 64.9 384.6 65.9 384.7 66.9 384.7 67.9 384.8 68.9 384.8 69.9 384.9 70.9 384.9 71.9 384.9 72.9 385.0 73.9 385.0 74.9 385.1 75.9 385.1 76.9 385.1 77.9 385.1 78.9 385.2 79.9 385.2 80.9 385.2 81.9 385.2 82.9 385.3 83.9 385.3 84.9 385.3 85.9 385.3 86.9 385.3 87.9 385.3 88.9 385.3 89.9 385.3 90.9 385.3 91.9 385.3 92.9 385.3 93.9 385.3 94.9 385.3 95.9 385.3 96.9 385.3 97.9 385.3 98.9 385.2 99.9 385.0 100.9 384.4 101.9 384.6 102.9 385.0 103.9 385.0 104.9 385.0 105.9 384.9 106.9 384.8 107.9 384.7 108.9 384.6 109.9 384.4 110.9 384.3 111.9 384.1 112.9 383.8 113.9 383.6 114.9 383.3 115.9 383.0 116.9 382.6 117.9 382.2 118.9 381.8 120 381.3 121 380.8 122 380.3 123 379.7 124 379.1 125 378.4 126 377.8 127 377.2 128 376.5 129 375.9 130 375.3 131 374.7 132 374.1 133 373.6 134 373.2 135 372.8 136 372.6 137 372.3 138 372.2 139 372.2 140 372.3 141 372.5 142 372.8 143 373.2 144 373.6 145 374.1 146 374.6 147 375.1 148 375.5 149 376.0 150 376.4 151 376.8 152 377.2 153 377.5 154 377.8 155 378.1 156 378.3 157 378.5 158 378.7 159 378.9 160 379.0 161 379.2 162 379.3 163 379.4 164 379.6 165 379.7 166 379.7 167 379.8 168 379.9 169 380.0 170 380.0 171 380.1 172 380.2 173 380.2 174 380.3 175 380.3 176 380.4 177 380.4 178.1 380.5 179.1 380.5 180.1 380.5 181.1 380.5 182.1 380.6 183.1 380.6 184.1 380.9 185.1 381.2 186.1 381.0 187.1 380.6 188.1 380.6 189.1 380.5 190.1 380.5 191.1 380.5 192.1 380.4 193.1 380.4 194.1 380.4 195.1 380.3 196.1 380.2 197.1 380.2 198.1 380.1 199.1 380.0 200.1 379.9 201.1 379.9 202.1 379.8 203.1 379.7 204.1 379.6 205.1 379.5 206.1 379.4 207.1 379.3 208.1 379.2 209.1 379.1 210.1 379.0 211.1 378.9 212.1 378.9 213.1 378.8 214.1 378.7 215.1 378.7 216.1 378.6 217.1 378.6 218.1 378.6 219.1 378.5 220.1 378.5 221.1 378.5 222.1 378.5 223.1 378.6 224.1 378.6 225.1 378.7 226.1 378.7 227.1 378.8 228.1 378.8 229.1 378.9 230.1 379.0 231.1 379.1 232.1 379.2 233.1 379.3 234.1 379.4 235.1 379.5 236.2 379.6 237.2 379.7 238.2 379.8 239.2 379.9 240.2 380.1 241.2 380.2 242.2 380.3 243.2 380.4 244.2 380.5 245.2 380.8 246.2 381.1 247.2 381.3 248.2 381.3 249.2 381.2 250.2 381.1 251.2 381.0 252.2 381.0 253.2 381.1 254.2 381.1 255.2 381.2 256.2 381.2 257.2 381.3 258.2 381.3 259.2 381.3 260.2 381.3 261.2 381.4 262.2 381.4 263.2 381.4 264.2 381.4 265.2 381.4 266.2 381.4 267.2 381.4 268.2 381.5 269.2 381.5 270.2 381.5 271.2 381.5 272.2 381.5 273.2 381.5 274.2 381.5 275.2 381.5 276.2 381.5 277.2 381.5 278.2 381.5 279.2 381.5 280.2 381.5 281.2 381.5 282.2 381.5 283.2 381.5 284.2 381.5 285.2 381.5 286.2 381.5 287.2 381.5 288.2 381.5 289.2 381.5 290.2 381.5 291.2 381.5 292.2 381.5 293.2 381.5 294.3 381.5 295.3 381.5 296.3 381.5 297.3 381.5 298.3 381.5 299.3 381.5 300.3 381.5 301.3 381.5 302.3 381.5 303.3 381.5 304.3 381.5 305.3 381.5 306.3 381.5 307.3 381.5 308.3 381.5 309.3 381.5 310.3 381.5 311.3 381.5 312.3 381.5 313.3 381.5 314.3 381.5 315.3 381.5 316.3 381.5 317.3 381.5 318.3 381.5 319.3 381.5 320.3 381.5 321.3 381.5 322.3 381.5 323.3 381.5" fill="none" stroke="#5a8a30" stroke-width="0.95" stroke-linejoin="round" />
<path d="M31.8 387.5 32.8 387.5 33.8 387.5 34.8 387.5 35.8 387.5 36.8 387.5 37.8 387.5 38.8 387.5 39.8 387.5 40.8 387.5 41.8 387.5 42.8 387.5 43.8 387.5 44.8 387.5 45.8 387.5 46.8 387.5 47.8 387.5 48.8 387.5 49.8 387.5 50.8 387.5 51.8 387.5 52.8 387.5 53.8 387.5 54.8 387.5 55.8 387.5 56.8 387.5 57.8 387.5 58.8 387.5 59.8 387.5 60.8 387.5 61.9 387.5 62.9 387.5 63.9 387.5 64.9 387.5 65.9 387.5 66.9 387.5 67.9 387.5 68.9 387.5 69.9 387.5 70.9 387.5 71.9 387.5 72.9 387.5 73.9 387.5 74.9 387.5 75.9 387.5 76.9 387.5 77.9 387.5 78.9 387.5 79.9 387.5 80.9 387.5 81.9 387.5 82.9 387.5 83.9 387.5 84.9 387.5 85.9 387.5 86.9 387.5 87.9 387.5 88.9 387.5 89.9 387.5 90.9 387.5 91.9 387.5 92.9 387.5 93.9 387.5 94.9 387.5 95.9 387.5 96.9 387.5 97.9 387.5 98.9 387.5 99.9 387.5 100.9 387.5 101.9 387.5 102.9 387.5 103.9 387.5 104.9 387.5 105.9 387.5 106.9 387.5 107.9 387.5 108.9 387.5 109.9 387.5 110.9 387.5 111.9 387.5 112.9 387.5 113.9 387.5 114.9 387.5 115.9 387.5 116.9 387.5 117.9 387.5 118.9 387.5 120 387.5 121 387.5 122 387.5 123 387.5 124 387.5 125 387.5 126 387.5 127 387.5 128 387.5 129 387.5 130 387.5 131 387.5 132 387.5 133 387.5 134 387.5 135 387.5 136 387.5 137 387.5 138 387.5 139 387.5 140 387.5 141 387.5 142 387.5 143 387.5 144 387.5 145 387.5 146 387.5 147 387.5 148 387.5 149 387.5 150 387.5 151 387.5 152 387.5 153 387.5 154 387.5 155 387.5 156 387.5 157 387.5 158 387.5 159 387.5 160 387.5 161 387.5 162 387.5 163 387.5 164 387.5 165 387.5 166 387.5 167 387.5 168 387.5 169 387.5 170 387.5 171 387.5 172 387.5 173 387.5 174 387.5 175 387.5 176 387.5 177 387.5 178.1 387.5 179.1 387.5 180.1 387.5 181.1 387.5 182.1 387.5 183.1 387.5 184.1 387.5 185.1 387.5 186.1 387.5 187.1 387.5 188.1 387.5 189.1 387.5 190.1 387.5 191.1 387.5 192.1 387.5 193.1 387.5 194.1 387.5 195.1 387.5 196.1 387.5 197.1 387.5 198.1 387.5 199.1 387.5 200.1 387.5 201.1 387.5 202.1 387.5 203.1 387.5 204.1 387.5 205.1 387.5 206.1 387.5 207.1 387.5 208.1 387.5 209.1 387.5 210.1 387.5 211.1 387.5 212.1 387.5 213.1 387.5 214.1 387.5 215.1 387.5 216.1 387.5 217.1 387.5 218.1 387.5 219.1 387.5 220.1 387.5 221.1 387.5 222.1 387.5 223.1 387.5 224.1 387.5 225.1 387.5 226.1 387.5 227.1 387.5 228.1 387.5 229.1 387.5 230.1 387.5 231.1 387.5 232.1 387.5 233.1 387.5 234.1 387.5 235.1 387.5 236.2 387.5 237.2 387.5 238.2 387.5 239.2 387.5 240.2 387.5 241.2 387.5 242.2 387.5 243.2 387.5 244.2 387.5 245.2 387.5 246.2 387.5 247.2 387.5 248.2 387.5 249.2 387.5 250.2 387.5 251.2 387.5 252.2 387.5 253.2 387.5 254.2 387.5 255.2 387.5 256.2 387.5 257.2 387.5 258.2 387.5 259.2 387.5 260.2 387.5 261.2 387.5 262.2 387.5 263.2 387.5 264.2 387.5 265.2 387.5 266.2 387.5 267.2 387.5 268.2 387.5 269.2 387.5 270.2 387.5 271.2 387.5 272.2 387.5 273.2 387.5 274.2 387.5 275.2 387.5 276.2 387.5 277.2 387.5 278.2 387.5 279.2 387.5 280.2 387.5 281.2 387.5 282.2 387.5 283.2 387.5 284.2 387.5 285.2 387.5 286.2 387.5 287.2 387.5 288.2 387.5 289.2 387.5 290.2 387.5 291.2 387.5 292.2 387.5 293.2 387.5 294.3 387.5 295.3 387.5 296.3 387.5 297.3 387.5 298.3 387.5 299.3 387.5 300.3 387.5 301.3 387.5 302.3 387.5 303.3 387.5 304.3 387.5 305.3 387.5 306.3 387.5 307.3 387.5 308.3 387.5 309.3 387.5 310.3 387.5 311.3 387.5 312.3 387.5 313.3 387.5 314.3 387.5 315.3 387.5 316.3 387.5 317.3 387.5 318.3 387.5 319.3 387.5 320.3 387.5 321.3 387.5 322.3 387.5 323.3 387.5" fill="none" stroke="#2f7535" stroke-width="1.1" stroke-linejoin="round" />
<line x1="101.2" y1="319" x2="101.2" y2="393" stroke="#e8843a" stroke-width="0.7" stroke-dasharray="1.6 1.2"/>
<line x1="138.2" y1="306" x2="138.2" y2="377" stroke="#aaaaaa" stroke-width="0.7" stroke-dasharray="1.6 1.2"/>
<line x1="184.3" y1="316" x2="184.3" y2="384" stroke="#3a70c8" stroke-width="0.7" stroke-dasharray="1.6 1.2"/>
<line x1="207.5" y1="317" x2="207.5" y2="386" stroke="#b070d0" stroke-width="0.7" stroke-dasharray="1.6 1.2"/>
<line x1="222.7" y1="312" x2="222.7" y2="379" stroke="#bbbbbb" stroke-width="0.7" stroke-dasharray="1.6 1.2"/>
<line x1="242.3" y1="318" x2="242.3" y2="387" stroke="#b070d0" stroke-width="0.7" stroke-dasharray="1.6 1.2"/>
<line x1="290.5" y1="318" x2="290.5" y2="386" stroke="#b070d0" stroke-width="0.7" stroke-dasharray="1.6 1.2"/>
<line x1="312.4" y1="320" x2="312.4" y2="387" stroke="#e8843a" stroke-width="0.7" stroke-dasharray="1.6 1.2"/>
<line x1="59.9" y1="387" x2="59.9" y2="325" stroke="#7aaad8" stroke-width="1.5" />
<path d="M57.6 326 L59.9 321.6 L62.2 326 Z" fill="#7aaad8"/>
<text x="64.5" y="320" font-size="7.0" fill="#222" text-anchor="middle" textLength="25" lengthAdjust="spacingAndGlyphs" >150 min</text>
<text x="57.5" y="393.6" font-size="7.0" fill="#222" text-anchor="middle" textLength="17.8" lengthAdjust="spacingAndGlyphs" >0 min</text>
<text x="94.4" y="315.7" font-size="8.4" fill="#d8782a" textLength="15.7" lengthAdjust="spacingAndGlyphs" >C=O</text>
<text x="131.6" y="304.5" font-size="8.6" fill="#222" textLength="15.3" lengthAdjust="spacingAndGlyphs" >H<tspan font-size="5.2" dy="1.9">2</tspan><tspan dy="-1.9">O</tspan></text>
<text x="167.4" y="315.2" font-size="8.4" fill="#3a78c8" textLength="13.8" lengthAdjust="spacingAndGlyphs" >C-N</text>
<text x="194.1" y="308.8" font-size="8.4" fill="#b07ad0" >NH<tspan font-size="5.2" dy="1.9">4</tspan><tspan font-size="5.2" dy="-5.6">+</tspan></text>
<text x="218.7" y="310.2" font-size="8.4" fill="#222" >NO<tspan font-size="5.2" dy="1.9">3</tspan><tspan font-size="5.2" dy="-5.6">-</tspan></text>
<text x="243.6" y="314.2" font-size="8.4" fill="#b07ad0" >NO<tspan font-size="5.2" dy="1.9">2</tspan><tspan font-size="5.2" dy="-5.6">-</tspan></text>
<text x="280.5" y="316" font-size="8.4" fill="#b07ad0" >NH<tspan font-size="5.2" dy="1.9">3</tspan></text>
<text x="301" y="316" font-size="8.4" fill="#d8782a" textLength="20" lengthAdjust="spacingAndGlyphs" >C-OH</text>
<line x1="31.8" y1="394.3" x2="31.8" y2="392.3" stroke="#666" stroke-width="0.6" />
<text x="31.8" y="403" font-size="6.4" fill="#222" text-anchor="middle" >2000</text>
<line x1="90.1" y1="394.3" x2="90.1" y2="392.3" stroke="#666" stroke-width="0.6" />
<text x="90.1" y="403" font-size="6.4" fill="#222" text-anchor="middle" >1800</text>
<line x1="148.4" y1="394.3" x2="148.4" y2="392.3" stroke="#666" stroke-width="0.6" />
<text x="148.4" y="403" font-size="6.4" fill="#222" text-anchor="middle" >1600</text>
<line x1="206.7" y1="394.3" x2="206.7" y2="392.3" stroke="#666" stroke-width="0.6" />
<text x="206.7" y="403" font-size="6.4" fill="#222" text-anchor="middle" >1400</text>
<line x1="265" y1="394.3" x2="265" y2="392.3" stroke="#666" stroke-width="0.6" />
<text x="265" y="403" font-size="6.4" fill="#222" text-anchor="middle" >1200</text>
<line x1="323.3" y1="394.3" x2="323.3" y2="392.3" stroke="#666" stroke-width="0.6" />
<text x="323.3" y="403" font-size="6.4" fill="#222" text-anchor="middle" >1000</text>
<line x1="60.95" y1="394.3" x2="60.95" y2="393.1" stroke="#666" stroke-width="0.5" />
<line x1="119.25" y1="394.3" x2="119.25" y2="393.1" stroke="#666" stroke-width="0.5" />
<line x1="177.55" y1="394.3" x2="177.55" y2="393.1" stroke="#666" stroke-width="0.5" />
<line x1="235.85" y1="394.3" x2="235.85" y2="393.1" stroke="#666" stroke-width="0.5" />
<line x1="294.15" y1="394.3" x2="294.15" y2="393.1" stroke="#666" stroke-width="0.5" />
<text x="177.3" y="417" font-size="8.8" fill="#222" text-anchor="middle" textLength="76.2" lengthAdjust="spacingAndGlyphs" >Wavenumber (cm<tspan font-size="5" dy="-3.4">-1</tspan><tspan dy="3.4">)</tspan></text>
<text x="25" y="339.4" font-size="8.8" fill="#222" text-anchor="middle" textLength="69" lengthAdjust="spacingAndGlyphs" transform="rotate(-90 25 339.4)" >Absorbance (a.u.)</text>
<text x="0.5" y="299" font-size="10" fill="#000" font-weight="bold" >f</text>
<rect x="364.2" y="150.5" width="136.1" height="108.5" fill="none" stroke="#666" stroke-width="0.8" />
<line x1="364.2" y1="259" x2="366.2" y2="259" stroke="#666" stroke-width="0.6" />
<text x="362.7" y="261.3" font-size="6.4" fill="#222" text-anchor="end" >0.0</text>
<line x1="364.2" y1="222.83" x2="366.2" y2="222.83" stroke="#666" stroke-width="0.6" />
<text x="362.7" y="225.13" font-size="6.4" fill="#222" text-anchor="end" >0.2</text>
<line x1="364.2" y1="186.67" x2="366.2" y2="186.67" stroke="#666" stroke-width="0.6" />
<text x="362.7" y="188.97" font-size="6.4" fill="#222" text-anchor="end" >0.4</text>
<line x1="364.2" y1="150.5" x2="366.2" y2="150.5" stroke="#666" stroke-width="0.6" />
<text x="362.7" y="152.8" font-size="6.4" fill="#222" text-anchor="end" >0.6</text>
<line x1="364.2" y1="240.92" x2="365.4" y2="240.92" stroke="#666" stroke-width="0.5" />
<line x1="364.2" y1="204.75" x2="365.4" y2="204.75" stroke="#666" stroke-width="0.5" />
<line x1="364.2" y1="168.58" x2="365.4" y2="168.58" stroke="#666" stroke-width="0.5" />
<line x1="364.2" y1="259" x2="364.2" y2="257" stroke="#666" stroke-width="0.6" />
<text x="364.2" y="267.3" font-size="6.4" fill="#222" text-anchor="middle" >450</text>
<line x1="381.21" y1="259" x2="381.21" y2="257.8" stroke="#666" stroke-width="0.5" />
<line x1="398.23" y1="259" x2="398.23" y2="257" stroke="#666" stroke-width="0.6" />
<text x="398.23" y="267.3" font-size="6.4" fill="#222" text-anchor="middle" >500</text>
<line x1="415.24" y1="259" x2="415.24" y2="257.8" stroke="#666" stroke-width="0.5" />
<line x1="432.25" y1="259" x2="432.25" y2="257" stroke="#666" stroke-width="0.6" />
<text x="432.25" y="267.3" font-size="6.4" fill="#222" text-anchor="middle" >550</text>
<line x1="449.26" y1="259" x2="449.26" y2="257.8" stroke="#666" stroke-width="0.5" />
<line x1="466.27" y1="259" x2="466.27" y2="257" stroke="#666" stroke-width="0.6" />
<text x="466.27" y="267.3" font-size="6.4" fill="#222" text-anchor="middle" >600</text>
<line x1="483.29" y1="259" x2="483.29" y2="257.8" stroke="#666" stroke-width="0.5" />
<line x1="500.3" y1="259" x2="500.3" y2="257" stroke="#666" stroke-width="0.6" />
<text x="500.3" y="267.3" font-size="6.4" fill="#222" text-anchor="middle" >650</text>
<path d="M364.2 254.9 364.9 254.8 365.6 254.6 366.2 254.5 366.9 254.3 367.6 254.1 368.3 254.0 369 253.8 369.6 253.6 370.3 253.4 371 253.2 371.7 253.0 372.4 252.8 373 252.5 373.7 252.3 374.4 252.1 375.1 251.8 375.8 251.6 376.4 251.3 377.1 251.1 377.8 250.8 378.5 250.5 379.2 250.2 379.9 249.9 380.5 249.6 381.2 249.3 381.9 249.0 382.6 248.7 383.3 248.4 383.9 248.1 384.6 247.7 385.3 247.4 386 247.1 386.7 246.7 387.3 246.3 388 246.0 388.7 245.6 389.4 245.3 390.1 244.9 390.7 244.5 391.4 244.1 392.1 243.8 392.8 243.4 393.5 243.0 394.1 242.6 394.8 242.2 395.5 241.8 396.2 241.4 396.9 241.0 397.5 240.6 398.2 240.2 398.9 239.8 399.6 239.5 400.3 239.1 400.9 238.7 401.6 238.3 402.3 237.9 403 237.5 403.7 237.2 404.3 236.8 405 236.4 405.7 236.1 406.4 235.7 407.1 235.4 407.8 235.0 408.4 234.7 409.1 234.4 409.8 234.1 410.5 233.8 411.2 233.5 411.8 233.2 412.5 232.9 413.2 232.7 413.9 232.4 414.6 232.2 415.2 231.9 415.9 231.7 416.6 231.5 417.3 231.3 418 231.1 418.6 231.0 419.3 230.8 420 230.7 420.7 230.5 421.4 230.4 422 230.3 422.7 230.3 423.4 230.2 424.1 230.1 424.8 230.1 425.4 230.1 426.1 230.1 426.8 230.1 427.5 230.1 428.2 230.2 428.8 230.2 429.5 230.3 430.2 230.4 430.9 230.5 431.6 230.7 432.2 230.8 432.9 231.0 433.6 231.2 434.3 231.4 435 231.6 435.7 231.9 436.3 232.2 437 232.4 437.7 232.7 438.4 233.0 439.1 233.3 439.7 233.7 440.4 234.0 441.1 234.4 441.8 234.7 442.5 235.1 443.1 235.5 443.8 235.9 444.5 236.3 445.2 236.7 445.9 237.1 446.5 237.5 447.2 237.9 447.9 238.4 448.6 238.8 449.3 239.3 449.9 239.7 450.6 240.1 451.3 240.6 452 241.0 452.7 241.5 453.3 241.9 454 242.4 454.7 242.8 455.4 243.2 456.1 243.7 456.7 244.1 457.4 244.5 458.1 245.0 458.8 245.4 459.5 245.8 460.2 246.2 460.8 246.6 461.5 247.0 462.2 247.4 462.9 247.8 463.6 248.1 464.2 248.5 464.9 248.9 465.6 249.2 466.3 249.6 467 249.9 467.6 250.2 468.3 250.6 469 250.9 469.7 251.2 470.4 251.5 471 251.8 471.7 252.0 472.4 252.3 473.1 252.6 473.8 252.8 474.4 253.1 475.1 253.3 475.8 253.5 476.5 253.7 477.2 253.9 477.8 254.1 478.5 254.3 479.2 254.5 479.9 254.7 480.6 254.9 481.2 255.0 481.9 255.2 482.6 255.4 483.3 255.5 484 255.6 484.6 255.8 485.3 255.9 486 256.0 486.7 256.1 487.4 256.2 488.1 256.3 488.7 256.4 489.4 256.5 490.1 256.6 490.8 256.7 491.5 256.8 492.1 256.8 492.8 256.9 493.5 257.0 494.2 257.0 494.9 257.1 495.5 257.2 496.2 257.2 496.9 257.3 497.6 257.3 498.3 257.3 498.9 257.4 499.6 257.4 500.3 257.5" fill="none" stroke="#f4b4ac" stroke-width="1.0" stroke-linejoin="round" />
<path d="M364.2 250.6 364.9 250.2 365.6 249.9 366.2 249.5 366.9 249.1 367.6 248.7 368.3 248.3 369 247.8 369.6 247.4 370.3 246.9 371 246.4 371.7 246.0 372.4 245.4 373 244.9 373.7 244.4 374.4 243.8 375.1 243.3 375.8 242.7 376.4 242.1 377.1 241.4 377.8 240.8 378.5 240.2 379.2 239.5 379.9 238.8 380.5 238.1 381.2 237.4 381.9 236.7 382.6 235.9 383.3 235.2 383.9 234.4 384.6 233.6 385.3 232.8 386 232.0 386.7 231.2 387.3 230.4 388 229.5 388.7 228.7 389.4 227.8 390.1 226.9 390.7 226.0 391.4 225.2 392.1 224.3 392.8 223.4 393.5 222.4 394.1 221.5 394.8 220.6 395.5 219.7 396.2 218.8 396.9 217.8 397.5 216.9 398.2 216.0 398.9 215.1 399.6 214.2 400.3 213.3 400.9 212.3 401.6 211.4 402.3 210.6 403 209.7 403.7 208.8 404.3 207.9 405 207.1 405.7 206.2 406.4 205.4 407.1 204.6 407.8 203.8 408.4 203.0 409.1 202.3 409.8 201.5 410.5 200.8 411.2 200.1 411.8 199.5 412.5 198.8 413.2 198.2 413.9 197.6 414.6 197.0 415.2 196.5 415.9 196.0 416.6 195.5 417.3 195.0 418 194.6 418.6 194.2 419.3 193.8 420 193.5 420.7 193.2 421.4 193.0 422 192.7 422.7 192.5 423.4 192.4 424.1 192.3 424.8 192.2 425.4 192.1 426.1 192.1 426.8 192.1 427.5 192.2 428.2 192.3 428.8 192.5 429.5 192.7 430.2 192.9 430.9 193.3 431.6 193.6 432.2 194.0 432.9 194.4 433.6 194.9 434.3 195.4 435 196.0 435.7 196.6 436.3 197.3 437 197.9 437.7 198.6 438.4 199.4 439.1 200.2 439.7 201.0 440.4 201.8 441.1 202.7 441.8 203.6 442.5 204.5 443.1 205.5 443.8 206.4 444.5 207.4 445.2 208.4 445.9 209.4 446.5 210.4 447.2 211.5 447.9 212.5 448.6 213.6 449.3 214.6 449.9 215.7 450.6 216.8 451.3 217.8 452 218.9 452.7 220.0 453.3 221.1 454 222.1 454.7 223.2 455.4 224.2 456.1 225.3 456.7 226.3 457.4 227.3 458.1 228.3 458.8 229.3 459.5 230.3 460.2 231.3 460.8 232.2 461.5 233.2 462.2 234.1 462.9 235.0 463.6 235.9 464.2 236.7 464.9 237.6 465.6 238.4 466.3 239.2 467 240.0 467.6 240.7 468.3 241.5 469 242.2 469.7 242.9 470.4 243.6 471 244.2 471.7 244.8 472.4 245.5 473.1 246.1 473.8 246.6 474.4 247.2 475.1 247.7 475.8 248.2 476.5 248.7 477.2 249.2 477.8 249.6 478.5 250.0 479.2 250.5 479.9 250.9 480.6 251.2 481.2 251.6 481.9 251.9 482.6 252.3 483.3 252.6 484 252.9 484.6 253.2 485.3 253.4 486 253.7 486.7 253.9 487.4 254.2 488.1 254.4 488.7 254.6 489.4 254.8 490.1 255.0 490.8 255.1 491.5 255.3 492.1 255.4 492.8 255.6 493.5 255.7 494.2 255.9 494.9 256.0 495.5 256.1 496.2 256.2 496.9 256.3 497.6 256.4 498.3 256.5 498.9 256.6 499.6 256.6 500.3 256.7" fill="none" stroke="#4f8fd0" stroke-width="1.2" stroke-linejoin="round" />
<line x1="426.4" y1="185.2" x2="426.4" y2="239.8" stroke="#333" stroke-width="0.8" stroke-dasharray="2 1"/>
<text x="417.5" y="182.6" font-size="6.8" fill="#222" textLength="21.5" lengthAdjust="spacingAndGlyphs" >540 nm</text>
<rect x="368" y="152.3" width="34.5" height="13.6" rx="4" fill="#d9c2ee" filter="url(#blur1)"/>
<text x="376.8" y="163.2" font-size="9.4" fill="#222" >NO<tspan font-size="5.8" dy="2">2</tspan><tspan font-size="5.8" dx="-3.2" dy="-6.8">-</tspan></text>
<text x="370" y="172" font-size="6.6" fill="#222" textLength="44" lengthAdjust="spacingAndGlyphs" >Dilute 50 times</text>
<line x1="465.8" y1="157.9" x2="483.7" y2="157.9" stroke="#f4b4ac" stroke-width="1.0" />
<text x="485" y="160.2" font-size="6.4" fill="#222" >24 h</text>
<line x1="465.8" y1="166.8" x2="483.7" y2="166.8" stroke="#4f8fd0" stroke-width="1.2" />
<text x="485" y="169.1" font-size="6.4" fill="#222" >48 h</text>
<text x="432.5" y="282.5" font-size="8.4" fill="#222" text-anchor="middle" textLength="65.3" lengthAdjust="spacingAndGlyphs" >Wavelength (nm)</text>
<text x="345" y="201.1" font-size="8.6" fill="#222" text-anchor="middle" textLength="67" lengthAdjust="spacingAndGlyphs" transform="rotate(-90 345 201.1)" >Absorbance (a.u.)</text>
<text x="340" y="161" font-size="10" fill="#000" font-weight="bold" >g</text>
<rect x="365.6" y="288.2" width="135.8" height="109" fill="none" stroke="#666" stroke-width="0.8" />
<line x1="365.6" y1="397.2" x2="367.6" y2="397.2" stroke="#666" stroke-width="0.6" />
<text x="364.1" y="399.5" font-size="6.4" fill="#222" text-anchor="end" >0.00</text>
<line x1="365.6" y1="360.87" x2="367.6" y2="360.87" stroke="#666" stroke-width="0.6" />
<text x="364.1" y="363.17" font-size="6.4" fill="#222" text-anchor="end" >0.05</text>
<line x1="365.6" y1="324.53" x2="367.6" y2="324.53" stroke="#666" stroke-width="0.6" />
<text x="364.1" y="326.83" font-size="6.4" fill="#222" text-anchor="end" >0.10</text>
<line x1="365.6" y1="288.2" x2="367.6" y2="288.2" stroke="#666" stroke-width="0.6" />
<text x="364.1" y="290.5" font-size="6.4" fill="#222" text-anchor="end" >0.15</text>
<line x1="365.6" y1="379.03" x2="366.8" y2="379.03" stroke="#666" stroke-width="0.5" />
<line x1="365.6" y1="342.7" x2="366.8" y2="342.7" stroke="#666" stroke-width="0.5" />
<line x1="365.6" y1="306.37" x2="366.8" y2="306.37" stroke="#666" stroke-width="0.5" />
<line x1="365.6" y1="397.2" x2="365.6" y2="395.2" stroke="#666" stroke-width="0.6" />
<text x="365.6" y="405.5" font-size="6.4" fill="#222" text-anchor="middle" >550</text>
<line x1="382.58" y1="397.2" x2="382.58" y2="396" stroke="#666" stroke-width="0.5" />
<line x1="399.55" y1="397.2" x2="399.55" y2="395.2" stroke="#666" stroke-width="0.6" />
<text x="399.55" y="405.5" font-size="6.4" fill="#222" text-anchor="middle" >600</text>
<line x1="416.52" y1="397.2" x2="416.52" y2="396" stroke="#666" stroke-width="0.5" />
<line x1="433.5" y1="397.2" x2="433.5" y2="395.2" stroke="#666" stroke-width="0.6" />
<text x="433.5" y="405.5" font-size="6.4" fill="#222" text-anchor="middle" >650</text>
<line x1="450.48" y1="397.2" x2="450.48" y2="396" stroke="#666" stroke-width="0.5" />
<line x1="467.45" y1="397.2" x2="467.45" y2="395.2" stroke="#666" stroke-width="0.6" />
<text x="467.45" y="405.5" font-size="6.4" fill="#222" text-anchor="middle" >700</text>
<line x1="484.42" y1="397.2" x2="484.42" y2="396" stroke="#666" stroke-width="0.5" />
<line x1="501.4" y1="397.2" x2="501.4" y2="395.2" stroke="#666" stroke-width="0.6" />
<text x="501.4" y="405.5" font-size="6.4" fill="#222" text-anchor="middle" >750</text>
<path d="M365.6 377.3 C367.6 376.8 373.3 375.8 377.3 374.3 C381.3 372.8 384.7 370.7 389.5 368.1 C394.3 365.5 400.4 361.4 405.9 358.9 C411.3 356.3 417.8 353.9 422.2 352.8 C426.6 351.7 429.0 351.9 432.4 352.4 C435.8 352.9 438.9 354.0 442.7 355.9 C446.4 357.8 450.8 360.8 454.9 364.0 C459.0 367.2 463.1 372.1 467.2 375.3 C471.3 378.6 475.3 381.1 479.4 383.5 C483.5 385.9 488.0 388.0 491.7 389.6 C495.4 391.2 499.8 392.3 501.4 392.9" fill="none" stroke="#f4b4ac" stroke-width="1.0" stroke-linejoin="round" />
<path d="M365.6 363.0 C367.7 362.3 375.7 359.9 378.3 358.9 C380.9 357.9 377.9 359.4 381.3 356.9 C384.7 354.3 393.9 346.9 398.7 343.6 C403.5 340.3 406.4 339.0 410.0 337.2 C413.6 335.4 417.0 334.0 420.0 332.9 C423.0 331.8 425.9 331.0 428.0 330.6 C430.1 330.2 431.0 330.2 432.5 330.3 C434.0 330.4 435.4 330.6 437.0 331.3 C438.6 332.0 439.8 332.6 442.0 334.6 C444.2 336.6 447.2 339.9 450.0 343.3 C452.8 346.7 456.2 350.9 459.0 354.8 C461.8 358.7 464.7 363.3 467.0 366.5 C469.3 369.7 470.8 371.7 473.0 374.2 C475.2 376.7 477.2 379.4 480.0 381.6 C482.8 383.8 486.1 385.8 489.7 387.6 C493.3 389.5 499.4 391.9 501.4 392.7" fill="none" stroke="#4f8fd0" stroke-width="1.2" stroke-linejoin="round" />
<line x1="432.6" y1="322.2" x2="432.6" y2="359.7" stroke="#333" stroke-width="0.8" stroke-dasharray="2 1"/>
<text x="423.8" y="320.9" font-size="6.8" fill="#222" textLength="22.2" lengthAdjust="spacingAndGlyphs" >651 nm</text>
<rect x="370" y="290.5" width="36" height="13.5" rx="4" fill="#d9c2ee" filter="url(#blur1)"/>
<text x="378.5" y="300.4" font-size="9.4" fill="#222" >NH<tspan font-size="5.8" dy="2">4</tspan><tspan font-size="5.8" dx="-3.2" dy="-6.8">+</tspan></text>
<text x="370.5" y="310.2" font-size="6.6" fill="#222" textLength="44" lengthAdjust="spacingAndGlyphs" >Dilute 50 times</text>
<line x1="462.6" y1="296" x2="481.4" y2="296" stroke="#f4b4ac" stroke-width="1.0" />
<text x="482.5" y="298.3" font-size="6.4" fill="#222" >24 h</text>
<line x1="462.6" y1="304.8" x2="481.4" y2="304.8" stroke="#4f8fd0" stroke-width="1.2" />
<text x="482.5" y="307.1" font-size="6.4" fill="#222" >48 h</text>
<text x="433.8" y="420.3" font-size="8.4" fill="#222" text-anchor="middle" textLength="64.8" lengthAdjust="spacingAndGlyphs" >Wavelength (nm)</text>
<text x="343.5" y="339" font-size="8.6" fill="#222" text-anchor="middle" textLength="68" lengthAdjust="spacingAndGlyphs" transform="rotate(-90 343.5 339)" >Absorbance (a.u.)</text>
<text x="341.5" y="298" font-size="10" fill="#000" font-weight="bold" >h</text>
<rect x="542.4" y="152.5" width="46" height="106.5" fill="url(#ibg1)" stroke="none" stroke-width="1" />
<rect x="588.4" y="152.5" width="42" height="106.5" fill="url(#ibg2)" stroke="none" stroke-width="1" />
<rect x="630.4" y="152.5" width="44.2" height="106.5" fill="url(#ibg3)" stroke="none" stroke-width="1" />
<line x1="588.4" y1="152.5" x2="588.4" y2="259" stroke="#c8c8c8" stroke-width="0.6" stroke-dasharray="1.5 1.5"/>
<line x1="630.4" y1="152.5" x2="630.4" y2="259" stroke="#c8c8c8" stroke-width="0.6" stroke-dasharray="1.5 1.5"/>
<rect x="550" y="202.3" width="6" height="2.1" fill="url(#ibb)" stroke="#4a88c0" stroke-width="0.4" />
<rect x="550" y="206.4" width="6" height="52.6" fill="url(#ibb)" stroke="#4a88c0" stroke-width="0.4" />
<line x1="553" y1="201.3" x2="553" y2="203.3" stroke="#333" stroke-width="0.6" />
<line x1="551.8" y1="201.3" x2="554.2" y2="201.3" stroke="#333" stroke-width="0.6" />
<line x1="551.8" y1="203.3" x2="554.2" y2="203.3" stroke="#333" stroke-width="0.6" />
<rect x="563" y="166" width="6" height="38.4" fill="url(#ibb)" stroke="#4a88c0" stroke-width="0.4" />
<rect x="563" y="206.4" width="6" height="52.6" fill="url(#ibb)" stroke="#4a88c0" stroke-width="0.4" />
<line x1="566" y1="160.5" x2="566" y2="171.5" stroke="#333" stroke-width="0.6" />
<line x1="564.8" y1="160.5" x2="567.2" y2="160.5" stroke="#333" stroke-width="0.6" />
<line x1="564.8" y1="171.5" x2="567.2" y2="171.5" stroke="#333" stroke-width="0.6" />
<rect x="576" y="250" width="6" height="9" fill="url(#ibb)" stroke="#4a88c0" stroke-width="0.4" />
<line x1="579" y1="248" x2="579" y2="252" stroke="#333" stroke-width="0.6" />
<line x1="577.8" y1="248" x2="580.2" y2="248" stroke="#333" stroke-width="0.6" />
<line x1="577.8" y1="252" x2="580.2" y2="252" stroke="#333" stroke-width="0.6" />
<rect x="595" y="249.6" width="6" height="9.4" fill="url(#ibp)" stroke="#c88878" stroke-width="0.4" />
<line x1="598" y1="248.1" x2="598" y2="251.1" stroke="#333" stroke-width="0.6" />
<line x1="596.8" y1="248.1" x2="599.2" y2="248.1" stroke="#333" stroke-width="0.6" />
<line x1="596.8" y1="251.1" x2="599.2" y2="251.1" stroke="#333" stroke-width="0.6" />
<rect x="603" y="253" width="5" height="6" fill="url(#ibb)" stroke="#4a88c0" stroke-width="0.4" />
<line x1="605.5" y1="252" x2="605.5" y2="254" stroke="#333" stroke-width="0.6" />
<line x1="604.3" y1="252" x2="606.7" y2="252" stroke="#333" stroke-width="0.6" />
<line x1="604.3" y1="254" x2="606.7" y2="254" stroke="#333" stroke-width="0.6" />
<rect x="608.2" y="248" width="5.2" height="11" fill="url(#ibp)" stroke="#c88878" stroke-width="0.4" />
<line x1="610.8" y1="247" x2="610.8" y2="249" stroke="#333" stroke-width="0.6" />
<line x1="609.6" y1="247" x2="612" y2="247" stroke="#333" stroke-width="0.6" />
<line x1="609.6" y1="249" x2="612" y2="249" stroke="#333" stroke-width="0.6" />
<rect x="621.4" y="255.6" width="5.2" height="3.4" fill="url(#ibp)" stroke="#c88878" stroke-width="0.4" />
<line x1="624" y1="254.8" x2="624" y2="256.4" stroke="#333" stroke-width="0.6" />
<line x1="622.8" y1="254.8" x2="625.2" y2="254.8" stroke="#333" stroke-width="0.6" />
<line x1="622.8" y1="256.4" x2="625.2" y2="256.4" stroke="#333" stroke-width="0.6" />
<rect x="634.6" y="223.4" width="5.4" height="35.6" fill="url(#ibp)" stroke="#c88878" stroke-width="0.4" />
<line x1="637.3" y1="221.4" x2="637.3" y2="225.4" stroke="#333" stroke-width="0.6" />
<line x1="636.1" y1="221.4" x2="638.5" y2="221.4" stroke="#333" stroke-width="0.6" />
<line x1="636.1" y1="225.4" x2="638.5" y2="225.4" stroke="#333" stroke-width="0.6" />
<rect x="647.4" y="209.4" width="6.2" height="49.6" fill="url(#ibp)" stroke="#c88878" stroke-width="0.4" />
<line x1="650.5" y1="207.4" x2="650.5" y2="211.4" stroke="#333" stroke-width="0.6" />
<line x1="649.3" y1="207.4" x2="651.7" y2="207.4" stroke="#333" stroke-width="0.6" />
<line x1="649.3" y1="211.4" x2="651.7" y2="211.4" stroke="#333" stroke-width="0.6" />
<rect x="660.6" y="226" width="5.8" height="33" fill="url(#ibp)" stroke="#c88878" stroke-width="0.4" />
<line x1="663.5" y1="224" x2="663.5" y2="228" stroke="#333" stroke-width="0.6" />
<line x1="662.3" y1="224" x2="664.7" y2="224" stroke="#333" stroke-width="0.6" />
<line x1="662.3" y1="228" x2="664.7" y2="228" stroke="#333" stroke-width="0.6" />
<rect x="542.4" y="152.5" width="132.2" height="106.5" fill="none" stroke="#666" stroke-width="0.8" />
<line x1="542.4" y1="259" x2="544.4" y2="259" stroke="#666" stroke-width="0.6" />
<text x="540.4" y="261.3" font-size="6.4" fill="#222" text-anchor="end" >0</text>
<line x1="542.4" y1="230.3" x2="544.4" y2="230.3" stroke="#666" stroke-width="0.6" />
<text x="540.4" y="232.6" font-size="6.4" fill="#222" text-anchor="end" >20</text>
<line x1="542.4" y1="192" x2="544.4" y2="192" stroke="#666" stroke-width="0.6" />
<text x="540.4" y="194.3" font-size="6.4" fill="#222" text-anchor="end" >80</text>
<line x1="542.4" y1="172.3" x2="544.4" y2="172.3" stroke="#666" stroke-width="0.6" />
<text x="540.4" y="174.6" font-size="6.4" fill="#222" text-anchor="end" >100</text>
<line x1="542.4" y1="152.5" x2="544.4" y2="152.5" stroke="#666" stroke-width="0.6" />
<text x="540.4" y="154.8" font-size="6.4" fill="#222" text-anchor="end" >120</text>
<line x1="542.4" y1="244.6" x2="543.6" y2="244.6" stroke="#666" stroke-width="0.5" />
<line x1="542.4" y1="216" x2="543.6" y2="216" stroke="#666" stroke-width="0.5" />
<line x1="542.4" y1="182.2" x2="543.6" y2="182.2" stroke="#666" stroke-width="0.5" />
<line x1="542.4" y1="162.4" x2="543.6" y2="162.4" stroke="#666" stroke-width="0.5" />
<rect x="540.8" y="204.3" width="3.2" height="2.2" fill="#fff" stroke="none" stroke-width="1" />
<line x1="540.4" y1="205" x2="544.4" y2="203.6" stroke="#333" stroke-width="0.6" />
<line x1="540.4" y1="207" x2="544.4" y2="205.6" stroke="#333" stroke-width="0.6" />
<rect x="673" y="204.3" width="3.2" height="2.2" fill="#fff" stroke="none" stroke-width="1" />
<line x1="672.6" y1="205" x2="676.6" y2="203.6" stroke="#333" stroke-width="0.6" />
<line x1="672.6" y1="207" x2="676.6" y2="205.6" stroke="#333" stroke-width="0.6" />
<text x="547.6" y="164.4" font-size="7" fill="#222" >EG</text>
<text x="592.4" y="164.4" font-size="7" fill="#222" >GA</text>
<text x="634" y="163.6" font-size="7" fill="#222" textLength="37.6" lengthAdjust="spacingAndGlyphs" >Glyoxylic acid</text>
<rect x="553.6" y="141.6" width="16.6" height="7.9" fill="url(#ibb)" stroke="#3f7fb8" stroke-width="0.6" />
<text x="571" y="148" font-size="6.6" fill="#222" >Glycine</text>
<rect x="617.5" y="141.6" width="16.2" height="7.9" fill="url(#ibp2)" stroke="#c88878" stroke-width="0.6" />
<text x="634.5" y="148" font-size="6.6" fill="#222" >Formic acid</text>
<text x="556.5" y="270.5" font-size="6.0" fill="#222" text-anchor="end" transform="rotate(-45 556.5 270.5)" >KNO<tspan font-size="4" dy="1.5">3</tspan></text>
<text x="570.5" y="267.6" font-size="6.0" fill="#222" text-anchor="end" transform="rotate(-45 570.5 267.6)" >NH<tspan font-size="4" dy="1.5">4</tspan><tspan dy="-1.5">Cl</tspan></text>
<text x="586.5" y="263" font-size="6.0" fill="#222" text-anchor="end" transform="rotate(-45 586.5 263)" >NH<tspan font-size="4" dy="1.5">3</tspan><tspan dy="-1.5">-H</tspan><tspan font-size="4" dy="1.5">2</tspan><tspan dy="-1.5">O</tspan></text>
<text x="599.5" y="270.5" font-size="6.0" fill="#222" text-anchor="end" transform="rotate(-45 599.5 270.5)" >KNO<tspan font-size="4" dy="1.5">3</tspan></text>
<text x="613.5" y="267.6" font-size="6.0" fill="#222" text-anchor="end" transform="rotate(-45 613.5 267.6)" >NH<tspan font-size="4" dy="1.5">4</tspan><tspan dy="-1.5">Cl</tspan></text>
<text x="629.5" y="263" font-size="6.0" fill="#222" text-anchor="end" transform="rotate(-45 629.5 263)" >NH<tspan font-size="4" dy="1.5">3</tspan><tspan dy="-1.5">-H</tspan><tspan font-size="4" dy="1.5">2</tspan><tspan dy="-1.5">O</tspan></text>
<text x="643" y="270.5" font-size="6.0" fill="#222" text-anchor="end" transform="rotate(-45 643 270.5)" >KNO<tspan font-size="4" dy="1.5">3</tspan></text>
<text x="657" y="267.6" font-size="6.0" fill="#222" text-anchor="end" transform="rotate(-45 657 267.6)" >NH<tspan font-size="4" dy="1.5">4</tspan><tspan dy="-1.5">Cl</tspan></text>
<text x="673" y="263" font-size="6.0" fill="#222" text-anchor="end" transform="rotate(-45 673 263)" >NH<tspan font-size="4" dy="1.5">3</tspan><tspan dy="-1.5">-H</tspan><tspan font-size="4" dy="1.5">2</tspan><tspan dy="-1.5">O</tspan></text>
<text x="524.3" y="205.4" font-size="8.8" fill="#222" text-anchor="middle" textLength="132" lengthAdjust="spacingAndGlyphs" transform="rotate(-90 524.3 205.4)" >Products accumulation (mmol g<tspan font-size="6" dy="1.8">cat</tspan><tspan font-size="6" dy="-6">-1</tspan><tspan dy="4.2">)</tspan></text>
<text x="513.5" y="160" font-size="10" fill="#000" font-weight="bold" >i</text>
<rect x="576" y="331" width="8" height="54" fill="#f5efdc" filter="url(#blur05)"/>
<rect x="613.5" y="331" width="8" height="54" fill="#f5efdc" filter="url(#blur05)"/>
<ellipse cx="596.9" cy="341" rx="5.5" ry="9" fill="#f3bccb" filter="url(#blur2)"/>
<rect x="535.5" y="287.2" width="139.2" height="111.4" fill="none" stroke="#666" stroke-width="0.8" />
<line x1="535.5" y1="398.6" x2="535.5" y2="396.6" stroke="#666" stroke-width="0.6" />
<text x="535.5" y="406.3" font-size="6.6" fill="#222" text-anchor="middle" >4.5</text>
<line x1="549.42" y1="398.6" x2="549.42" y2="397.4" stroke="#666" stroke-width="0.5" />
<line x1="563.34" y1="398.6" x2="563.34" y2="396.6" stroke="#666" stroke-width="0.6" />
<text x="563.34" y="406.3" font-size="6.6" fill="#222" text-anchor="middle" >4.0</text>
<line x1="577.26" y1="398.6" x2="577.26" y2="397.4" stroke="#666" stroke-width="0.5" />
<line x1="591.18" y1="398.6" x2="591.18" y2="396.6" stroke="#666" stroke-width="0.6" />
<text x="591.18" y="406.3" font-size="6.6" fill="#222" text-anchor="middle" >3.5</text>
<line x1="605.1" y1="398.6" x2="605.1" y2="397.4" stroke="#666" stroke-width="0.5" />
<line x1="619.02" y1="398.6" x2="619.02" y2="396.6" stroke="#666" stroke-width="0.6" />
<text x="619.02" y="406.3" font-size="6.6" fill="#222" text-anchor="middle" >3.0</text>
<line x1="632.94" y1="398.6" x2="632.94" y2="397.4" stroke="#666" stroke-width="0.5" />
<line x1="646.86" y1="398.6" x2="646.86" y2="396.6" stroke="#666" stroke-width="0.6" />
<text x="646.86" y="406.3" font-size="6.6" fill="#222" text-anchor="middle" >2.5</text>
<line x1="660.78" y1="398.6" x2="660.78" y2="397.4" stroke="#666" stroke-width="0.5" />
<line x1="674.7" y1="398.6" x2="674.7" y2="396.6" stroke="#666" stroke-width="0.6" />
<text x="674.7" y="406.3" font-size="6.6" fill="#222" text-anchor="middle" >2.0</text>
<path d="M535.5 386.3 536 386.4 536.5 386.2 537 386.1 537.5 386.4 538 385.8 538.5 386.5 539 386.1 539.5 386.6 540 386.5 540.5 386.2 541 386.2 541.5 386.5 542 386.0 542.5 386.4 543 386.4 543.5 386.5 544 386.5 544.5 386.2 545 386.6 545.5 385.8 546 386.4 546.5 386.2 547 386.2 547.5 386.0 548 386.2 548.5 385.9 549 386.1 549.5 386.1 550 386.0 550.5 385.9 551 386.4 551.5 386.3 552 386.5 552.5 386.1 553 386.6 553.5 386.5 554 386.1 554.5 386.5 555 385.9 555.5 386.4 556 386.5 556.5 386.0 557 386.1 557.5 385.9 558 386.5 558.5 386.4 559 386.0 559.5 386.2 560 385.8 560.5 386.5 561 386.5 561.5 386.1 562 386.5 562.5 386.2 563 386.4 563.5 386.3 564 385.8 564.5 386.3 565 386.3 565.5 386.1 566 386.5 566.5 385.9 567 385.8 567.5 385.9 568 386.3 568.5 386.2 569 386.2 569.5 385.9 570 386.1 570.6 386.2 571.1 386.4 571.6 386.4 572.1 385.8 572.6 385.9 573.1 385.9 573.6 386.0 574.1 386.1 574.6 386.1 575.1 386.5 575.6 386.2 576.1 386.6 576.6 386.3 577.1 386.4 577.6 385.9 578.1 384.9 578.6 379.7 579.1 369.0 579.6 353.6 580.1 347.5 580.6 356.9 581.1 372.4 581.6 381.9 582.1 385.5 582.6 386.1 583.1 386.1 583.6 385.8 584.1 386.0 584.6 386.5 585.1 386.2 585.6 386.1 586.1 386.3 586.6 385.9 587.1 386.2 587.6 386.5 588.1 386.3 588.6 386.3 589.1 386.4 589.6 386.0 590.1 386.1 590.6 386.5 591.1 386.6 591.6 386.1 592.1 386.1 592.6 386.2 593.1 386.0 593.6 386.4 594.1 385.9 594.6 386.4 595.1 386.1 595.6 386.3 596.1 386.6 596.6 386.0 597.1 385.9 597.6 386.0 598.1 386.0 598.6 386.6 599.1 386.1 599.6 386.0 600.1 386.1 600.6 386.0 601.1 385.8 601.6 386.5 602.1 385.8 602.6 385.8 603.1 386.4 603.6 385.8 604.1 385.9 604.6 386.2 605.1 386.1 605.6 386.4 606.1 386.2 606.6 386.0 607.1 386.2 607.6 386.4 608.1 386.5 608.6 385.8 609.1 385.9 609.6 386.4 610.1 386.0 610.6 386.5 611.1 386.3 611.6 386.4 612.1 386.0 612.6 386.0 613.1 386.5 613.6 385.9 614.1 386.3 614.6 386.0 615.1 385.6 615.6 385.2 616.1 381.6 616.6 375.3 617.1 366.1 617.6 362.4 618.1 366.4 618.6 375.3 619.1 382.1 619.6 385.3 620.1 386.2 620.6 385.9 621.1 386.4 621.6 386.3 622.1 386.4 622.6 386.2 623.1 386.6 623.6 386.6 624.1 386.4 624.6 386.1 625.1 386.3 625.6 386.3 626.1 386.5 626.6 386.5 627.1 386.6 627.6 386.4 628.1 386.5 628.6 385.9 629.1 385.9 629.6 386.5 630.1 385.9 630.6 386.1 631.1 385.8 631.6 386.0 632.1 386.5 632.6 386.5 633.1 385.9 633.6 386.1 634.1 386.4 634.6 386.3 635.1 386.1 635.6 386.2 636.1 386.2 636.6 385.8 637.1 386.3 637.6 386.4 638.1 386.6 638.6 386.1 639.1 386.3 639.6 386.3 640.2 386.0 640.7 386.4 641.2 386.2 641.7 386.1 642.2 386.2 642.7 386.1 643.2 386.3 643.7 386.5 644.2 386.1 644.7 386.4 645.2 386.5 645.7 386.5 646.2 385.9 646.7 386.3 647.2 386.5 647.7 386.3 648.2 386.0 648.7 386.2 649.2 386.0 649.7 386.1 650.2 386.1 650.7 385.9 651.2 386.4 651.7 385.9 652.2 386.3 652.7 386.4 653.2 386.2 653.7 386.6 654.2 386.3 654.7 386.1 655.2 386.4 655.7 386.2 656.2 386.0 656.7 385.8 657.2 386.2 657.7 386.3 658.2 385.9 658.7 385.9 659.2 386.1 659.7 386.0 660.2 385.9 660.7 386.3 661.2 386.0 661.7 386.2 662.2 386.1 662.7 386.0 663.2 386.2 663.7 386.0 664.2 385.9 664.7 386.3 665.2 386.2 665.7 385.8 666.2 386.1 666.7 386.1 667.2 385.8 667.7 386.5 668.2 386.3 668.7 386.5 669.2 386.6 669.7 386.4 670.2 385.9 670.7 386.3 671.2 386.1 671.7 385.8 672.2 385.9 672.7 386.4 673.2 385.9 673.7 385.9 674.2 386.2 674.7 386.1" fill="none" stroke="#d46f60" stroke-width="0.8" stroke-linejoin="round" />
<path d="M535.5 341.7 536 341.5 536.5 342.1 537 341.1 537.5 341.4 538 341.3 538.5 342.5 539 341.4 539.5 341.4 540 341.3 540.5 341.9 541 341.7 541.5 341.1 542 341.8 542.5 342.6 543 342.1 543.5 341.4 544 342.0 544.5 341.6 545 341.7 545.5 341.7 546 341.4 546.5 342.2 547 341.8 547.5 342.0 548 341.9 548.5 341.9 549 341.5 549.5 342.2 550 341.9 550.5 341.4 551 342.1 551.5 341.7 552 342.0 552.5 342.2 553 342.2 553.5 341.9 554 341.8 554.5 341.6 555 341.5 555.5 342.1 556 341.8 556.5 341.4 557 341.6 557.5 341.5 558 341.7 558.5 342.2 559 341.8 559.5 342.2 560 342.0 560.5 341.5 561 342.1 561.5 341.9 562 341.9 562.5 341.6 563 341.6 563.5 341.4 564 342.2 564.5 341.9 565 342.1 565.5 341.6 566 342.2 566.5 341.5 567 341.4 567.5 341.8 568 342.1 568.5 341.5 569 341.6 569.5 341.5 570 341.5 570.6 342.0 571.1 341.4 571.6 342.1 572.1 342.1 572.6 341.8 573.1 342.0 573.6 342.0 574.1 342.0 574.6 341.4 575.1 341.6 575.6 341.6 576.1 341.8 576.6 341.4 577.1 341.8 577.6 342.2 578.1 341.9 578.6 341.4 579.1 339.7 579.6 335.5 580.1 334.3 580.6 336.3 581.1 340.4 581.6 341.5 582.1 341.3 582.6 341.7 583.1 341.7 583.6 341.6 584.1 341.7 584.6 342.0 585.1 342.0 585.6 341.4 586.1 341.5 586.6 341.7 587.1 341.0 587.6 341.1 588.1 341.1 588.6 341.1 589.1 341.5 589.6 341.5 590.1 342.0 590.6 341.8 591.1 342.2 591.6 341.3 592.1 341.6 592.6 341.5 593.1 341.4 593.6 342.2 594.1 341.8 594.6 342.2 595.1 341.5 595.6 341.9 596.1 340.8 596.6 337.4 597.1 335.7 597.6 339.2 598.1 341.5 598.6 341.7 599.1 341.8 599.6 341.9 600.1 341.5 600.6 341.6 601.1 342.2 601.6 342.1 602.1 342.0 602.6 341.8 603.1 341.9 603.6 341.6 604.1 341.8 604.6 341.5 605.1 341.9 605.6 341.1 606.1 341.5 606.6 340.6 607.1 340.9 607.6 340.8 608.1 341.6 608.6 341.8 609.1 341.7 609.6 342.1 610.1 342.0 610.6 341.4 611.1 341.9 611.6 341.8 612.1 341.7 612.6 341.7 613.1 341.9 613.6 341.4 614.1 341.8 614.6 341.5 615.1 341.4 615.6 341.7 616.1 341.5 616.6 339.8 617.1 338.3 617.6 337.5 618.1 338.4 618.6 340.5 619.1 341.0 619.6 341.8 620.1 341.5 620.6 341.8 621.1 342.1 621.6 342.2 622.1 341.5 622.6 342.2 623.1 342.2 623.6 341.7 624.1 342.2 624.6 341.4 625.1 341.9 625.6 342.0 626.1 341.5 626.6 341.8 627.1 341.5 627.6 341.8 628.1 342.0 628.6 341.7 629.1 341.7 629.6 341.8 630.1 341.7 630.6 341.4 631.1 341.9 631.6 341.9 632.1 341.4 632.6 341.8 633.1 341.8 633.6 341.6 634.1 341.9 634.6 342.0 635.1 341.6 635.6 341.7 636.1 341.6 636.6 341.8 637.1 342.1 637.6 342.1 638.1 342.0 638.6 341.7 639.1 341.4 639.6 341.9 640.2 342.2 640.7 341.6 641.2 342.1 641.7 341.4 642.2 342.1 642.7 341.8 643.2 341.9 643.7 342.0 644.2 342.0 644.7 341.6 645.2 342.1 645.7 341.5 646.2 342.2 646.7 341.6 647.2 341.5 647.7 341.6 648.2 341.6 648.7 341.5 649.2 342.0 649.7 342.0 650.2 341.9 650.7 341.5 651.2 341.4 651.7 341.7 652.2 342.1 652.7 341.4 653.2 341.9 653.7 341.8 654.2 341.7 654.7 341.9 655.2 341.7 655.7 341.9 656.2 341.8 656.7 342.1 657.2 341.9 657.7 341.5 658.2 341.9 658.7 341.8 659.2 342.1 659.7 341.6 660.2 341.4 660.7 341.5 661.2 342.1 661.7 341.5 662.2 341.5 662.7 342.0 663.2 342.0 663.7 341.4 664.2 341.9 664.7 341.5 665.2 342.1 665.7 341.9 666.2 341.6 666.7 342.2 667.2 342.1 667.7 341.8 668.2 342.0 668.7 341.5 669.2 341.4 669.7 342.0 670.2 341.8 670.7 341.7 671.2 341.9 671.7 342.1 672.2 341.6 672.7 341.6 673.2 342.0 673.7 341.6 674.2 341.9 674.7 341.6" fill="none" stroke="#3f8fd8" stroke-width="0.9" stroke-linejoin="round" />
<text x="667.9" y="334.8" font-size="6.8" fill="#222" text-anchor="end" textLength="24.1" lengthAdjust="spacingAndGlyphs" >After PR</text>
<text x="669.7" y="379" font-size="6.8" fill="#222" text-anchor="end" textLength="29.4" lengthAdjust="spacingAndGlyphs" >Before PR</text>
<text x="539" y="303.8" font-size="6.2" fill="#cf9f1e" font-weight="bold" textLength="11.4" lengthAdjust="spacingAndGlyphs" >H<tspan font-size="4.2" dy="1.4">2</tspan><tspan dy="-1.4">N</tspan></text>
<path d="M551.5 301.1 560.5 307.4 570.7 301.6 578.7 306.8" fill="none" stroke="#cf9f1e" stroke-width="1.1" stroke-linejoin="round" />
<text x="579.3" y="309.2" font-size="6.2" fill="#cf9f1e" font-weight="bold" textLength="9.8" lengthAdjust="spacingAndGlyphs" >OH</text>
<line x1="590.6" y1="304" x2="621" y2="304" stroke="#888" stroke-width="1.1" />
<path d="M619.5 301.6 L624.6 304 L619.5 306.4 Z" fill="#888"/>
<text x="608.5" y="296.6" font-size="6.6" fill="#222" text-anchor="middle" >Pd SA/BCNx</text>
<text x="626.9" y="305" font-size="6.2" fill="#d01e2e" font-weight="bold" textLength="10" lengthAdjust="spacingAndGlyphs" >H<tspan font-size="4.2" dy="1.4">2</tspan><tspan dy="-1.4">N</tspan></text>
<path d="M637 302.5 645.4 297.7 654 302.2 662.4 298.4" fill="none" stroke="#d01e2e" stroke-width="1.1" stroke-linejoin="round" />
<line x1="653.2" y1="302.2" x2="653.2" y2="311.8" stroke="#d01e2e" stroke-width="0.8" />
<line x1="654.8" y1="302.2" x2="654.8" y2="311.8" stroke="#d01e2e" stroke-width="0.8" />
<text x="654" y="316.6" font-size="6.2" fill="#d01e2e" text-anchor="middle" font-weight="bold" >O</text>
<text x="662.8" y="299.2" font-size="6.2" fill="#d01e2e" font-weight="bold" textLength="8.8" lengthAdjust="spacingAndGlyphs" >OH</text>
<text x="605" y="422.2" font-size="8.6" fill="#222" text-anchor="middle" textLength="79.9" lengthAdjust="spacingAndGlyphs" >Chemical shift (ppm)</text>
<text x="526" y="340.3" font-size="8.8" fill="#222" text-anchor="middle" textLength="55" lengthAdjust="spacingAndGlyphs" transform="rotate(-90 526 340.3)" >Intensity (a.u.)</text>
<text x="512.5" y="298" font-size="10" fill="#000" font-weight="bold" >j</text>
<text x="0.3" y="436.3" font-size="10" fill="#000" font-weight="bold" >k</text>
<rect x="212" y="429.2" width="60" height="14.7" fill="#d6ebc6" filter="url(#blur1)"/>
<rect x="278" y="449.1" width="58.2" height="36.8" fill="#d6ebc6" filter="url(#blur1)"/>
<rect x="185.4" y="496.6" width="55.8" height="12.9" fill="#d8e1f4" filter="url(#blur1)"/>
<rect x="274.9" y="515" width="69" height="41" fill="#e8edf8" filter="url(#blur1)"/>
<rect x="404.4" y="513.6" width="67" height="39.9" fill="#d6def4" filter="url(#blur1)"/>
<rect x="636" y="449.4" width="43.5" height="41.3" fill="#e4f0da" filter="url(#blur2)"/>
<text x="17.9" y="465.2" font-size="8.0" fill="#111" font-weight="bold" textLength="13" lengthAdjust="spacingAndGlyphs" >HO</text>
<path d="M31.5 463.6 43.4 470.8 59.9 462.6 71.5 469.4" fill="none" stroke="#111" stroke-width="1.3" stroke-linejoin="round" />
<text x="72.3" y="474.4" font-size="8.0" fill="#111" font-weight="bold" textLength="13" lengthAdjust="spacingAndGlyphs" >OH</text>
<text x="93.3" y="448.4" font-size="8.6" fill="#9fb9e6" textLength="43.9" lengthAdjust="spacingAndGlyphs" >h<tspan font-size="5" dy="-3">+</tspan><tspan dy="3"> induced</tspan></text>
<text x="93.3" y="460.7" font-size="8.6" fill="#9fb9e6" textLength="38.1" lengthAdjust="spacingAndGlyphs" >oxidation</text>
<line x1="93.3" y1="468.9" x2="136.3" y2="468.9" stroke="#9a9a9a" stroke-width="1.3" />
<path d="M135.3 467.1 L139.3 468.9 L135.3 470.7 Z" fill="#9a9a9a"/>
<text x="147.8" y="465.4" font-size="8.0" fill="#1f8ad4" font-weight="bold" >O</text>
<path d="M154.7 465.2 167.6 472.1 184.5 465.4 194.6 470.6" fill="none" stroke="#1f8ad4" stroke-width="1.3" stroke-linejoin="round" />
<line x1="155.3" y1="467.4" x2="166.8" y2="473.5" stroke="#1f8ad4" stroke-width="1.3" />
<text x="195.2" y="475.8" font-size="8.0" fill="#1f8ad4" font-weight="bold" textLength="12.8" lengthAdjust="spacingAndGlyphs" >OH</text>
<line x1="222.8" y1="472.1" x2="268.8" y2="472.1" stroke="#8a8a8a" stroke-width="1.0" />
<path d="M264.5 469.9 L268.8 472.1 L264.5 472.1 Z" fill="#8a8a8a"/>
<line x1="222.8" y1="476.7" x2="268.8" y2="476.7" stroke="#8a8a8a" stroke-width="1.0" />
<path d="M227.1 478.9 L222.8 476.7 L227.1 476.7 Z" fill="#8a8a8a"/>
<text x="241.9" y="439" font-size="7.8" fill="#222" text-anchor="middle" font-weight="bold" textLength="41.4" lengthAdjust="spacingAndGlyphs" >Pathway 1</text>
<text x="281.4" y="458.3" font-size="7.8" fill="#111" font-weight="bold" >O</text>
<path d="M287 457.5 297.9 462.9 313.2 456.8 323.3 462.9" fill="none" stroke="#111" stroke-width="1.3" stroke-linejoin="round" />
<line x1="286.2" y1="459.6" x2="297.2" y2="465" stroke="#111" stroke-width="1.3" />
<line x1="297.9" y1="462.9" x2="297.9" y2="473" stroke="#111" stroke-width="1.3" />
<text x="294.8" y="480.7" font-size="7.4" fill="#111" font-weight="bold" >OH</text>
<text x="323.5" y="465.4" font-size="7.4" fill="#111" font-weight="bold" >OH</text>
<text x="316.3" y="482.2" font-size="8.2" fill="#111" font-weight="bold" textLength="11.3" lengthAdjust="spacingAndGlyphs" >GA</text>
<text x="55.7" y="501.4" font-size="8.4" fill="#d4202c" >NO<tspan font-size="5" dy="1.8">3</tspan><tspan font-size="5" dy="-5.4">-</tspan></text>
<text x="107" y="493.6" font-size="8.4" fill="#d4202c" text-anchor="middle" textLength="17.1" lengthAdjust="spacingAndGlyphs" >NRR</text>
<line x1="80.9" y1="498.3" x2="128.4" y2="498.3" stroke="#666" stroke-width="1.1" />
<path d="M127.4 496.5 L131.4 498.3 L127.4 500.1 Z" fill="#666"/>
<text x="140.6" y="502.2" font-size="8.4" fill="#d4202c" textLength="39.3" lengthAdjust="spacingAndGlyphs" >NH<tspan font-size="5" dy="1.8">4</tspan><tspan font-size="5" dy="-5.4">+</tspan><tspan dy="3.6">/NH</tspan><tspan font-size="5" dy="1.8">3</tspan></text>
<line x1="183.8" y1="482.8" x2="183.8" y2="531" stroke="#9a9a9a" stroke-width="1.2" />
<line x1="183.2" y1="531" x2="265.8" y2="531" stroke="#9a9a9a" stroke-width="1.2" />
<path d="M264.8 529.2 L268.8 531 L264.8 532.8 Z" fill="#9a9a9a"/>
<text x="212.8" y="505.2" font-size="7.8" fill="#222" text-anchor="middle" font-weight="bold" textLength="41.4" lengthAdjust="spacingAndGlyphs" >Pathway 2</text>
<text x="220.5" y="545.7" font-size="8.6" fill="#9fb9e6" text-anchor="middle" textLength="50.6" lengthAdjust="spacingAndGlyphs" >C-N coupling</text>
<text x="278.6" y="524.2" font-size="7.4" fill="#111" font-weight="bold" >H<tspan font-size="4.8" dy="1.7">2</tspan><tspan dy="-1.7">N</tspan></text>
<path d="M294 521.5 307.1 530.4 320.9 522.7 330.7 528.8" fill="none" stroke="#111" stroke-width="1.3" stroke-linejoin="round" />
<text x="331" y="532.8" font-size="7.4" fill="#111" font-weight="bold" >OH</text>
<text x="309.4" y="549.4" font-size="8.2" fill="#111" text-anchor="middle" font-weight="bold" textLength="16.8" lengthAdjust="spacingAndGlyphs" >EOA</text>
<line x1="351" y1="472" x2="394.8" y2="472" stroke="#9a9a9a" stroke-width="1.3" />
<path d="M393.8 470.2 L397.8 472 L393.8 473.8 Z" fill="#9a9a9a"/>
<text x="405.2" y="458.1" font-size="7.8" fill="#111" font-weight="bold" >O</text>
<path d="M411 456.8 423.6 462.8 437.7 455.7 447.7 461.5" fill="none" stroke="#111" stroke-width="1.3" stroke-linejoin="round" />
<line x1="410.2" y1="459" x2="422.8" y2="465" stroke="#111" stroke-width="1.3" />
<line x1="438.5" y1="458.3" x2="448.3" y2="464" stroke="#111" stroke-width="1.3" />
<text x="448.3" y="468.1" font-size="7.8" fill="#111" font-weight="bold" >O</text>
<line x1="423.6" y1="462.8" x2="423.6" y2="475.5" stroke="#111" stroke-width="1.3" />
<text x="419.3" y="483.9" font-size="7.4" fill="#111" font-weight="bold" >OH</text>
<line x1="468.7" y1="472" x2="512.5" y2="472" stroke="#9a9a9a" stroke-width="1.3" />
<path d="M511.5 470.2 L515.5 472 L511.5 473.8 Z" fill="#9a9a9a"/>
<text x="551" y="448.4" font-size="7.4" fill="#111" font-weight="bold" >OH</text>
<line x1="556.5" y1="450.5" x2="556.5" y2="462" stroke="#111" stroke-width="1.3" />
<text x="523.9" y="464.7" font-size="7.8" fill="#111" font-weight="bold" >O</text>
<path d="M529.5 463.5 540.5 469.4 556.5 462.0 564.1 466.5" fill="none" stroke="#111" stroke-width="1.3" stroke-linejoin="round" />
<line x1="528.7" y1="465.8" x2="539.7" y2="471.6" stroke="#111" stroke-width="1.3" />
<line x1="557.3" y1="464.4" x2="564.8" y2="468.9" stroke="#111" stroke-width="1.3" />
<text x="564.5" y="472" font-size="7.8" fill="#111" font-weight="bold" >O</text>
<line x1="540.5" y1="469.4" x2="540.5" y2="480" stroke="#111" stroke-width="1.3" />
<text x="537.8" y="487.3" font-size="7.4" fill="#111" font-weight="bold" >OH</text>
<line x1="581.2" y1="472" x2="625.5" y2="472" stroke="#9a9a9a" stroke-width="1.3" />
<path d="M624.5 470.2 L628.5 472 L624.5 473.8 Z" fill="#9a9a9a"/>
<text x="648.2" y="459.4" font-size="7.8" fill="#111" font-weight="bold" >O</text>
<path d="M653.5 457.8 666.6 464.6 666.6 478.6" fill="none" stroke="#111" stroke-width="1.3" stroke-linejoin="round" />
<line x1="652.7" y1="460.2" x2="665.4" y2="466.8" stroke="#111" stroke-width="1.3" />
<text x="664" y="485.2" font-size="7.4" fill="#111" font-weight="bold" >OH</text>
<text x="641.6" y="482.5" font-size="8.0" fill="#111" font-weight="bold" textLength="10" lengthAdjust="spacingAndGlyphs" >FA</text>
<rect x="638.2" y="522.5" width="30.2" height="28.9" fill="none" stroke="#111" stroke-width="1.2" stroke-dasharray="3 2"/>
<text x="653.4" y="540.4" font-size="8.8" fill="#111" text-anchor="middle" textLength="18.3" lengthAdjust="spacingAndGlyphs" >TiO<tspan font-size="5.4" dy="1.8">2</tspan></text>
<line x1="654" y1="516.7" x2="654" y2="497" stroke="#111" stroke-width="1.2" />
<path d="M651.7 497.5 L654 492.5 L656.3 497.5 Z" fill="#111"/>
<rect x="518.1" y="522.5" width="61.8" height="28.9" fill="none" stroke="#111" stroke-width="1.2" stroke-dasharray="3 2"/>
<text x="549.4" y="540.4" font-size="8.8" fill="#111" text-anchor="middle" textLength="53" lengthAdjust="spacingAndGlyphs" >Pd SA/BCNx</text>
<line x1="518.1" y1="537.2" x2="483" y2="537.2" stroke="#111" stroke-width="1.2" />
<path d="M483.5 534.9 L478.8 537.2 L483.5 539.5 Z" fill="#111"/>
<line x1="351" y1="529.8" x2="394.8" y2="529.8" stroke="#9a9a9a" stroke-width="1.3" />
<path d="M393.8 528 L397.8 529.8 L393.8 531.6 Z" fill="#9a9a9a"/>
<text x="351.8" y="546.9" font-size="8.6" fill="#9fb9e6" textLength="42.1" lengthAdjust="spacingAndGlyphs" >h<tspan font-size="5" dy="-3">+</tspan><tspan dy="3"> induced</tspan></text>
<text x="351.8" y="558.2" font-size="8.6" fill="#9fb9e6" textLength="37" lengthAdjust="spacingAndGlyphs" >oxidation</text>
<text x="408.8" y="533" font-size="7.4" fill="#d4202c" font-weight="bold" >H<tspan font-size="4.8" dy="1.7">2</tspan><tspan dy="-1.7">N</tspan></text>
<path d="M424 530.0 435.1 522.5 448.3 529.3 459.5 522.5" fill="none" stroke="#d4202c" stroke-width="1.3" stroke-linejoin="round" />
<line x1="447.6" y1="529.3" x2="447.6" y2="541.7" stroke="#d4202c" stroke-width="1.3" />
<line x1="449.2" y1="529.3" x2="449.2" y2="541.7" stroke="#d4202c" stroke-width="1.3" />
<text x="448.4" y="548.8" font-size="7.8" fill="#d4202c" text-anchor="middle" font-weight="bold" >O</text>
<text x="459.5" y="524.6" font-size="7.4" fill="#d4202c" font-weight="bold" >OH</text>
<text x="410.4" y="550.9" font-size="8.4" fill="#d4202c" font-weight="bold" textLength="30" lengthAdjust="spacingAndGlyphs" >Glycine</text>
</svg></body></html>
